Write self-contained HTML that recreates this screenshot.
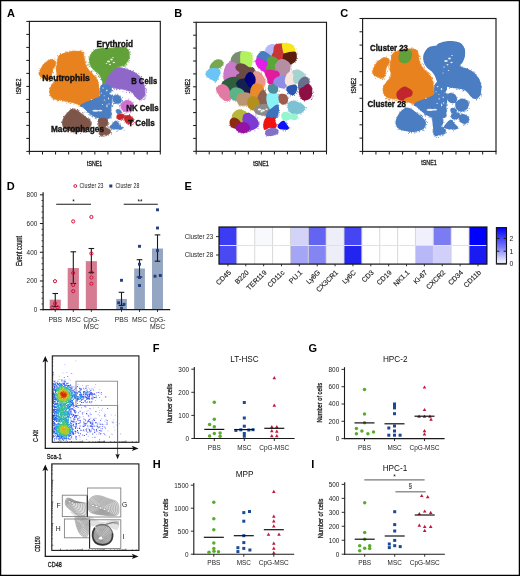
<!DOCTYPE html>
<html><head><meta charset="utf-8"><style>
html,body{margin:0;padding:0;background:#fff;}
svg{display:block;font-family:"Liberation Sans",sans-serif;will-change:transform;}
</style></head><body>
<svg width="520" height="576" viewBox="0 0 520 576">
<rect width="520" height="576" fill="#fff"/>
<rect x="0.6" y="0.6" width="518.8" height="574.8" fill="none" stroke="#000" stroke-width="1.3"/>
<text x="7" y="16.6" font-size="11" fill="#000" font-weight="bold" >A</text>
<text x="174.3" y="16.6" font-size="11" fill="#000" font-weight="bold" >B</text>
<text x="340.2" y="16.6" font-size="11" fill="#000" font-weight="bold" >C</text>
<text x="6.8" y="190.2" font-size="11" fill="#000" font-weight="bold" >D</text>
<text x="184.5" y="190.2" font-size="11" fill="#000" font-weight="bold" >E</text>
<text x="152.8" y="352.4" font-size="11" fill="#000" font-weight="bold" >F</text>
<text x="308.5" y="352.2" font-size="11" fill="#000" font-weight="bold" >G</text>
<text x="152.8" y="468.2" font-size="11" fill="#000" font-weight="bold" >H</text>
<text x="311.3" y="468.2" font-size="11" fill="#000" font-weight="bold" >I</text>
<g>
<path d="M40.2 70.4h0.8v0.8h-0.8zM40.0 69.2h0.8v0.8h-0.8zM38.4 72.6h0.8v0.8h-0.8zM38.7 69.9h0.8v0.8h-0.8zM39.5 68.2h0.8v0.8h-0.8zM42.5 65.8h0.8v0.8h-0.8zM39.4 72.4h0.8v0.8h-0.8zM42.6 64.4h0.8v0.8h-0.8zM44.1 63.2h0.8v0.8h-0.8zM44.7 62.6h0.8v0.8h-0.8zM44.3 63.9h0.8v0.8h-0.8zM42.7 64.6h0.8v0.8h-0.8zM50.0 59.4h0.8v0.8h-0.8zM47.9 59.6h0.8v0.8h-0.8zM46.7 60.7h0.8v0.8h-0.8zM50.3 59.6h0.8v0.8h-0.8zM53.6 60.2h0.8v0.8h-0.8zM52.6 59.4h0.8v0.8h-0.8zM54.5 58.6h0.8v0.8h-0.8zM52.1 59.1h0.8v0.8h-0.8zM54.5 61.6h0.8v0.8h-0.8zM54.9 61.5h0.8v0.8h-0.8zM55.2 61.0h0.8v0.8h-0.8zM54.6 68.2h0.8v0.8h-0.8zM56.4 65.3h0.8v0.8h-0.8zM55.0 65.4h0.8v0.8h-0.8zM53.7 67.3h0.8v0.8h-0.8zM55.7 66.3h0.8v0.8h-0.8zM53.2 72.5h0.8v0.8h-0.8zM52.9 76.0h0.8v0.8h-0.8zM52.4 72.1h0.8v0.8h-0.8zM52.6 69.5h0.8v0.8h-0.8zM52.0 71.1h0.8v0.8h-0.8zM51.2 76.4h0.8v0.8h-0.8zM50.1 78.0h0.8v0.8h-0.8zM51.3 77.5h0.8v0.8h-0.8zM50.5 77.6h0.8v0.8h-0.8zM48.1 79.4h0.8v0.8h-0.8zM49.7 81.1h0.8v0.8h-0.8zM46.8 79.7h0.8v0.8h-0.8zM44.5 79.8h0.8v0.8h-0.8zM48.8 81.1h0.8v0.8h-0.8zM43.2 78.7h0.8v0.8h-0.8zM40.3 78.2h0.8v0.8h-0.8zM43.0 78.4h0.8v0.8h-0.8zM43.9 79.2h0.8v0.8h-0.8zM39.2 74.0h0.8v0.8h-0.8zM38.6 73.2h0.8v0.8h-0.8zM40.1 76.5h0.8v0.8h-0.8z" fill="#e8821f"/>
<path d="M63.0 53.4h0.8v0.8h-0.8zM58.9 55.2h0.8v0.8h-0.8zM62.0 53.7h0.8v0.8h-0.8zM60.2 53.9h0.8v0.8h-0.8zM60.1 53.1h0.8v0.8h-0.8zM65.0 53.2h0.8v0.8h-0.8zM64.8 51.9h0.8v0.8h-0.8zM65.4 51.5h0.8v0.8h-0.8zM69.7 51.2h0.8v0.8h-0.8zM66.5 50.9h0.8v0.8h-0.8zM65.1 52.7h0.8v0.8h-0.8zM71.2 51.4h0.8v0.8h-0.8zM72.3 51.3h0.8v0.8h-0.8zM72.6 49.8h0.8v0.8h-0.8zM73.2 51.0h0.8v0.8h-0.8zM69.5 50.4h0.8v0.8h-0.8zM74.4 50.4h0.8v0.8h-0.8zM79.7 50.5h0.8v0.8h-0.8zM78.2 51.0h0.8v0.8h-0.8zM80.5 50.4h0.8v0.8h-0.8zM80.3 51.3h0.8v0.8h-0.8zM79.3 51.3h0.8v0.8h-0.8zM81.6 50.2h0.8v0.8h-0.8zM84.5 53.4h0.8v0.8h-0.8zM82.6 52.1h0.8v0.8h-0.8zM83.4 52.1h0.8v0.8h-0.8zM83.4 51.7h0.8v0.8h-0.8zM84.5 56.0h0.8v0.8h-0.8zM85.6 60.4h0.8v0.8h-0.8zM84.7 58.3h0.8v0.8h-0.8zM84.8 58.4h0.8v0.8h-0.8zM84.8 61.0h0.8v0.8h-0.8zM85.1 62.1h0.8v0.8h-0.8zM86.1 61.8h0.8v0.8h-0.8zM84.6 56.6h0.8v0.8h-0.8zM88.8 66.0h0.8v0.8h-0.8zM87.5 64.8h0.8v0.8h-0.8zM86.2 65.2h0.8v0.8h-0.8zM87.3 64.4h0.8v0.8h-0.8zM86.6 64.6h0.8v0.8h-0.8zM87.7 67.5h0.8v0.8h-0.8zM90.6 71.3h0.8v0.8h-0.8zM89.4 70.5h0.8v0.8h-0.8zM91.2 71.5h0.8v0.8h-0.8zM91.5 72.2h0.8v0.8h-0.8zM90.6 71.6h0.8v0.8h-0.8zM91.1 70.7h0.8v0.8h-0.8zM97.2 79.5h0.8v0.8h-0.8zM96.0 77.4h0.8v0.8h-0.8zM96.6 76.8h0.8v0.8h-0.8zM95.1 76.6h0.8v0.8h-0.8zM94.9 74.9h0.8v0.8h-0.8zM95.8 75.4h0.8v0.8h-0.8zM97.8 82.2h0.8v0.8h-0.8zM97.9 81.8h0.8v0.8h-0.8zM99.4 88.1h0.8v0.8h-0.8zM97.7 82.3h0.8v0.8h-0.8zM98.4 83.8h0.8v0.8h-0.8zM97.1 80.0h0.8v0.8h-0.8zM97.2 80.1h0.8v0.8h-0.8zM99.8 93.4h0.8v0.8h-0.8zM100.1 94.7h0.8v0.8h-0.8zM99.3 96.7h0.8v0.8h-0.8zM100.7 88.7h0.8v0.8h-0.8zM99.7 95.0h0.8v0.8h-0.8zM100.5 93.2h0.8v0.8h-0.8zM100.5 93.9h0.8v0.8h-0.8zM98.7 89.6h0.8v0.8h-0.8zM100.3 89.2h0.8v0.8h-0.8zM94.9 99.5h0.8v0.8h-0.8zM93.7 100.8h0.8v0.8h-0.8zM94.3 99.1h0.8v0.8h-0.8zM98.9 96.8h0.8v0.8h-0.8zM94.6 100.9h0.8v0.8h-0.8zM96.4 99.4h0.8v0.8h-0.8zM93.8 99.1h0.8v0.8h-0.8zM93.6 99.4h0.8v0.8h-0.8zM91.1 101.4h0.8v0.8h-0.8zM84.7 103.7h0.8v0.8h-0.8zM87.2 102.4h0.8v0.8h-0.8zM81.5 106.2h0.8v0.8h-0.8zM83.7 105.4h0.8v0.8h-0.8zM89.9 103.1h0.8v0.8h-0.8zM90.8 101.5h0.8v0.8h-0.8zM83.8 104.9h0.8v0.8h-0.8zM89.9 102.5h0.8v0.8h-0.8zM91.7 101.0h0.8v0.8h-0.8zM80.0 105.2h0.8v0.8h-0.8zM82.0 105.5h0.8v0.8h-0.8zM73.5 103.8h0.8v0.8h-0.8zM78.6 104.6h0.8v0.8h-0.8zM78.0 104.1h0.8v0.8h-0.8zM80.6 106.3h0.8v0.8h-0.8zM79.2 104.2h0.8v0.8h-0.8zM78.7 106.0h0.8v0.8h-0.8zM66.1 102.8h0.8v0.8h-0.8zM65.4 101.0h0.8v0.8h-0.8zM64.3 101.3h0.8v0.8h-0.8zM63.1 100.4h0.8v0.8h-0.8zM69.8 102.9h0.8v0.8h-0.8zM65.8 101.3h0.8v0.8h-0.8zM70.5 102.9h0.8v0.8h-0.8zM67.8 102.2h0.8v0.8h-0.8zM67.6 101.4h0.8v0.8h-0.8zM68.8 101.7h0.8v0.8h-0.8zM56.7 100.7h0.8v0.8h-0.8zM58.2 100.1h0.8v0.8h-0.8zM62.2 100.1h0.8v0.8h-0.8zM57.8 100.1h0.8v0.8h-0.8zM59.8 100.1h0.8v0.8h-0.8zM53.4 99.6h0.8v0.8h-0.8zM62.0 101.2h0.8v0.8h-0.8zM57.1 99.9h0.8v0.8h-0.8zM49.8 95.4h0.8v0.8h-0.8zM53.1 98.7h0.8v0.8h-0.8zM49.2 95.1h0.8v0.8h-0.8zM50.8 97.4h0.8v0.8h-0.8zM51.7 98.7h0.8v0.8h-0.8zM53.0 98.7h0.8v0.8h-0.8zM49.8 93.3h0.8v0.8h-0.8zM49.9 91.1h0.8v0.8h-0.8zM49.9 92.5h0.8v0.8h-0.8zM49.4 88.4h0.8v0.8h-0.8zM49.0 87.8h0.8v0.8h-0.8zM49.0 91.0h0.8v0.8h-0.8zM50.8 84.3h0.8v0.8h-0.8zM51.1 85.8h0.8v0.8h-0.8zM51.9 83.6h0.8v0.8h-0.8zM53.6 82.5h0.8v0.8h-0.8zM49.7 87.4h0.8v0.8h-0.8zM51.5 85.1h0.8v0.8h-0.8zM54.0 79.3h0.8v0.8h-0.8zM52.4 81.4h0.8v0.8h-0.8zM53.9 82.8h0.8v0.8h-0.8zM54.9 78.9h0.8v0.8h-0.8zM53.0 81.5h0.8v0.8h-0.8zM55.5 79.1h0.8v0.8h-0.8zM56.8 76.1h0.8v0.8h-0.8zM56.7 69.9h0.8v0.8h-0.8zM55.8 74.5h0.8v0.8h-0.8zM56.4 77.5h0.8v0.8h-0.8zM57.0 75.5h0.8v0.8h-0.8zM55.8 73.7h0.8v0.8h-0.8zM57.6 77.0h0.8v0.8h-0.8zM55.7 63.0h0.8v0.8h-0.8zM56.4 62.2h0.8v0.8h-0.8zM55.8 67.6h0.8v0.8h-0.8zM57.0 61.8h0.8v0.8h-0.8zM56.4 68.3h0.8v0.8h-0.8zM56.4 66.8h0.8v0.8h-0.8zM57.4 63.0h0.8v0.8h-0.8zM57.7 56.0h0.8v0.8h-0.8zM57.7 59.6h0.8v0.8h-0.8zM56.5 59.8h0.8v0.8h-0.8zM56.6 62.1h0.8v0.8h-0.8zM57.2 54.9h0.8v0.8h-0.8zM57.2 61.2h0.8v0.8h-0.8z" fill="#e8821f"/>
<path d="M91.9 52.4h0.8v0.8h-0.8zM93.4 49.2h0.8v0.8h-0.8zM94.5 49.9h0.8v0.8h-0.8zM93.9 50.2h0.8v0.8h-0.8zM90.7 51.8h0.8v0.8h-0.8zM96.6 47.5h0.8v0.8h-0.8zM100.2 47.5h0.8v0.8h-0.8zM97.7 48.4h0.8v0.8h-0.8zM95.0 49.0h0.8v0.8h-0.8zM101.3 47.7h0.8v0.8h-0.8zM100.1 48.5h0.8v0.8h-0.8zM107.7 48.4h0.8v0.8h-0.8zM102.3 47.8h0.8v0.8h-0.8zM102.9 47.4h0.8v0.8h-0.8zM101.5 47.9h0.8v0.8h-0.8zM103.7 48.3h0.8v0.8h-0.8zM101.7 48.5h0.8v0.8h-0.8zM110.6 48.2h0.8v0.8h-0.8zM109.7 48.3h0.8v0.8h-0.8zM109.4 47.3h0.8v0.8h-0.8zM112.3 45.9h0.8v0.8h-0.8zM117.0 47.6h0.8v0.8h-0.8zM115.9 46.8h0.8v0.8h-0.8zM115.2 47.5h0.8v0.8h-0.8zM117.2 46.2h0.8v0.8h-0.8zM115.0 46.8h0.8v0.8h-0.8zM116.4 46.1h0.8v0.8h-0.8zM124.6 45.8h0.8v0.8h-0.8zM125.7 45.8h0.8v0.8h-0.8zM125.0 47.2h0.8v0.8h-0.8zM124.1 47.0h0.8v0.8h-0.8zM122.7 45.9h0.8v0.8h-0.8zM125.9 47.5h0.8v0.8h-0.8zM125.5 47.9h0.8v0.8h-0.8zM125.7 46.5h0.8v0.8h-0.8zM127.8 49.3h0.8v0.8h-0.8zM129.2 52.6h0.8v0.8h-0.8zM129.6 51.1h0.8v0.8h-0.8zM129.0 49.0h0.8v0.8h-0.8zM130.3 52.4h0.8v0.8h-0.8zM128.8 56.8h0.8v0.8h-0.8zM129.9 54.2h0.8v0.8h-0.8zM129.2 58.1h0.8v0.8h-0.8zM129.1 57.0h0.8v0.8h-0.8zM129.1 60.0h0.8v0.8h-0.8zM126.5 64.4h0.8v0.8h-0.8zM128.6 62.2h0.8v0.8h-0.8zM126.4 64.2h0.8v0.8h-0.8zM125.9 63.8h0.8v0.8h-0.8zM125.2 64.7h0.8v0.8h-0.8zM128.0 60.7h0.8v0.8h-0.8zM123.8 65.9h0.8v0.8h-0.8zM120.6 67.3h0.8v0.8h-0.8zM124.3 65.5h0.8v0.8h-0.8zM118.9 67.6h0.8v0.8h-0.8zM125.4 65.8h0.8v0.8h-0.8zM119.4 66.9h0.8v0.8h-0.8zM122.9 65.9h0.8v0.8h-0.8zM113.0 70.6h0.8v0.8h-0.8zM114.4 71.9h0.8v0.8h-0.8zM114.9 68.3h0.8v0.8h-0.8zM113.8 71.0h0.8v0.8h-0.8zM116.8 67.4h0.8v0.8h-0.8zM117.2 67.2h0.8v0.8h-0.8zM116.6 68.4h0.8v0.8h-0.8zM108.0 77.0h0.8v0.8h-0.8zM109.6 73.8h0.8v0.8h-0.8zM107.2 78.5h0.8v0.8h-0.8zM111.4 72.9h0.8v0.8h-0.8zM108.7 76.9h0.8v0.8h-0.8zM109.8 75.2h0.8v0.8h-0.8zM108.9 75.1h0.8v0.8h-0.8zM107.1 78.7h0.8v0.8h-0.8zM106.2 80.3h0.8v0.8h-0.8zM104.8 82.5h0.8v0.8h-0.8zM106.8 80.3h0.8v0.8h-0.8zM106.9 79.7h0.8v0.8h-0.8zM103.1 83.5h0.8v0.8h-0.8zM102.7 83.0h0.8v0.8h-0.8zM102.2 82.7h0.8v0.8h-0.8zM101.3 79.1h0.8v0.8h-0.8zM101.8 80.3h0.8v0.8h-0.8zM100.4 77.0h0.8v0.8h-0.8zM100.4 79.1h0.8v0.8h-0.8zM97.2 73.8h0.8v0.8h-0.8zM98.0 75.5h0.8v0.8h-0.8zM98.3 76.3h0.8v0.8h-0.8zM98.5 75.7h0.8v0.8h-0.8zM98.9 77.1h0.8v0.8h-0.8zM96.2 72.6h0.8v0.8h-0.8zM95.2 71.0h0.8v0.8h-0.8zM93.5 70.7h0.8v0.8h-0.8zM96.2 73.3h0.8v0.8h-0.8zM91.7 70.6h0.8v0.8h-0.8zM88.1 64.5h0.8v0.8h-0.8zM92.7 68.7h0.8v0.8h-0.8zM89.7 66.0h0.8v0.8h-0.8zM92.6 68.2h0.8v0.8h-0.8zM90.9 67.3h0.8v0.8h-0.8zM88.5 62.4h0.8v0.8h-0.8zM89.0 58.6h0.8v0.8h-0.8zM89.3 64.4h0.8v0.8h-0.8zM88.7 61.9h0.8v0.8h-0.8zM89.7 58.9h0.8v0.8h-0.8zM89.4 58.9h0.8v0.8h-0.8zM88.7 58.6h0.8v0.8h-0.8zM88.9 57.7h0.8v0.8h-0.8zM88.0 56.4h0.8v0.8h-0.8zM89.7 54.8h0.8v0.8h-0.8z" fill="#62a03a"/>
<path d="M103.6 82.3h0.8v0.8h-0.8zM105.1 79.1h0.8v0.8h-0.8zM106.4 77.5h0.8v0.8h-0.8zM105.0 81.4h0.8v0.8h-0.8zM103.4 80.3h0.8v0.8h-0.8zM107.5 74.3h0.8v0.8h-0.8zM107.0 75.9h0.8v0.8h-0.8zM107.5 73.4h0.8v0.8h-0.8zM108.3 73.0h0.8v0.8h-0.8zM109.3 72.6h0.8v0.8h-0.8zM107.5 72.8h0.8v0.8h-0.8zM111.5 70.6h0.8v0.8h-0.8zM112.6 70.9h0.8v0.8h-0.8zM109.1 70.7h0.8v0.8h-0.8zM115.8 66.5h0.8v0.8h-0.8zM110.3 70.5h0.8v0.8h-0.8zM112.5 70.8h0.8v0.8h-0.8zM114.2 68.5h0.8v0.8h-0.8zM116.8 67.2h0.8v0.8h-0.8zM122.7 68.2h0.8v0.8h-0.8zM119.5 68.2h0.8v0.8h-0.8zM121.9 67.5h0.8v0.8h-0.8zM120.5 67.8h0.8v0.8h-0.8zM117.1 67.4h0.8v0.8h-0.8zM120.6 67.9h0.8v0.8h-0.8zM127.8 69.6h0.8v0.8h-0.8zM124.8 67.8h0.8v0.8h-0.8zM126.2 67.7h0.8v0.8h-0.8zM124.8 67.6h0.8v0.8h-0.8zM124.0 68.1h0.8v0.8h-0.8zM127.2 68.5h0.8v0.8h-0.8zM133.1 70.2h0.8v0.8h-0.8zM132.6 70.8h0.8v0.8h-0.8zM132.0 71.2h0.8v0.8h-0.8zM130.2 70.1h0.8v0.8h-0.8zM132.1 71.3h0.8v0.8h-0.8zM136.0 72.8h0.8v0.8h-0.8zM137.8 75.1h0.8v0.8h-0.8zM140.7 76.5h0.8v0.8h-0.8zM138.4 73.2h0.8v0.8h-0.8zM141.1 76.1h0.8v0.8h-0.8zM139.1 75.5h0.8v0.8h-0.8zM140.2 76.7h0.8v0.8h-0.8zM141.7 80.4h0.8v0.8h-0.8zM141.6 79.2h0.8v0.8h-0.8zM143.1 79.8h0.8v0.8h-0.8zM144.6 83.4h0.8v0.8h-0.8zM144.4 83.2h0.8v0.8h-0.8zM142.2 81.8h0.8v0.8h-0.8zM144.6 88.4h0.8v0.8h-0.8zM145.2 85.1h0.8v0.8h-0.8zM146.0 91.5h0.8v0.8h-0.8zM146.1 89.0h0.8v0.8h-0.8zM146.0 90.3h0.8v0.8h-0.8zM145.6 88.3h0.8v0.8h-0.8zM144.6 87.6h0.8v0.8h-0.8zM144.8 93.6h0.8v0.8h-0.8zM145.4 94.7h0.8v0.8h-0.8zM146.5 92.0h0.8v0.8h-0.8zM145.6 95.6h0.8v0.8h-0.8zM144.4 96.6h0.8v0.8h-0.8zM145.0 97.7h0.8v0.8h-0.8zM144.2 98.8h0.8v0.8h-0.8zM140.8 99.6h0.8v0.8h-0.8zM143.8 98.6h0.8v0.8h-0.8zM142.7 99.1h0.8v0.8h-0.8zM139.4 99.3h0.8v0.8h-0.8zM137.3 98.2h0.8v0.8h-0.8zM139.5 100.4h0.8v0.8h-0.8zM138.9 99.4h0.8v0.8h-0.8zM134.3 95.8h0.8v0.8h-0.8zM133.1 93.7h0.8v0.8h-0.8zM136.9 97.9h0.8v0.8h-0.8zM135.1 95.6h0.8v0.8h-0.8zM134.8 95.5h0.8v0.8h-0.8zM134.1 94.4h0.8v0.8h-0.8zM128.5 90.5h0.8v0.8h-0.8zM129.3 92.2h0.8v0.8h-0.8zM128.9 91.7h0.8v0.8h-0.8zM131.2 92.4h0.8v0.8h-0.8zM129.5 92.8h0.8v0.8h-0.8zM127.6 90.4h0.8v0.8h-0.8zM119.5 89.3h0.8v0.8h-0.8zM122.5 90.9h0.8v0.8h-0.8zM124.4 89.5h0.8v0.8h-0.8zM125.9 90.3h0.8v0.8h-0.8zM126.2 92.2h0.8v0.8h-0.8zM126.8 89.9h0.8v0.8h-0.8zM113.6 88.3h0.8v0.8h-0.8zM113.3 88.0h0.8v0.8h-0.8zM114.0 88.9h0.8v0.8h-0.8zM116.6 89.0h0.8v0.8h-0.8zM119.2 89.1h0.8v0.8h-0.8zM116.1 89.4h0.8v0.8h-0.8zM115.9 88.4h0.8v0.8h-0.8zM108.7 87.2h0.8v0.8h-0.8zM109.6 86.9h0.8v0.8h-0.8zM109.5 87.3h0.8v0.8h-0.8zM108.7 86.9h0.8v0.8h-0.8zM107.2 86.4h0.8v0.8h-0.8zM103.3 82.3h0.8v0.8h-0.8zM104.4 84.5h0.8v0.8h-0.8zM104.4 83.5h0.8v0.8h-0.8zM106.9 85.6h0.8v0.8h-0.8z" fill="#8f67c9"/>
<path d="M93.5 98.1h0.8v0.8h-0.8zM94.0 97.6h0.8v0.8h-0.8zM95.0 97.9h0.8v0.8h-0.8zM86.9 102.4h0.8v0.8h-0.8zM83.6 103.2h0.8v0.8h-0.8zM90.5 99.7h0.8v0.8h-0.8zM84.4 102.9h0.8v0.8h-0.8zM81.3 104.1h0.8v0.8h-0.8zM89.9 100.2h0.8v0.8h-0.8zM88.1 100.8h0.8v0.8h-0.8zM82.8 103.6h0.8v0.8h-0.8zM86.9 101.3h0.8v0.8h-0.8zM98.0 96.6h0.8v0.8h-0.8zM94.8 98.4h0.8v0.8h-0.8zM89.5 101.2h0.8v0.8h-0.8zM95.8 97.4h0.8v0.8h-0.8zM94.6 98.7h0.8v0.8h-0.8zM93.6 97.2h0.8v0.8h-0.8zM83.7 102.8h0.8v0.8h-0.8zM99.1 93.0h0.8v0.8h-0.8zM100.2 92.0h0.8v0.8h-0.8zM97.8 94.8h0.8v0.8h-0.8zM99.4 91.8h0.8v0.8h-0.8zM99.8 94.9h0.8v0.8h-0.8zM100.1 90.5h0.8v0.8h-0.8zM100.7 85.6h0.8v0.8h-0.8zM100.5 87.6h0.8v0.8h-0.8zM100.5 91.8h0.8v0.8h-0.8zM102.0 84.9h0.8v0.8h-0.8zM100.5 86.1h0.8v0.8h-0.8zM101.3 85.1h0.8v0.8h-0.8zM105.5 83.8h0.8v0.8h-0.8zM102.6 82.7h0.8v0.8h-0.8zM106.1 82.7h0.8v0.8h-0.8zM107.8 83.0h0.8v0.8h-0.8zM108.9 84.8h0.8v0.8h-0.8zM108.9 85.0h0.8v0.8h-0.8zM109.5 85.4h0.8v0.8h-0.8zM110.9 86.7h0.8v0.8h-0.8zM111.4 89.4h0.8v0.8h-0.8zM111.5 86.7h0.8v0.8h-0.8zM111.7 84.9h0.8v0.8h-0.8zM110.5 91.4h0.8v0.8h-0.8zM112.5 90.6h0.8v0.8h-0.8zM112.0 90.0h0.8v0.8h-0.8zM110.6 92.0h0.8v0.8h-0.8zM111.6 94.8h0.8v0.8h-0.8zM112.0 95.1h0.8v0.8h-0.8zM112.2 95.2h0.8v0.8h-0.8zM113.5 96.2h0.8v0.8h-0.8zM112.4 96.3h0.8v0.8h-0.8zM112.4 97.7h0.8v0.8h-0.8zM112.4 100.4h0.8v0.8h-0.8zM112.6 99.9h0.8v0.8h-0.8zM112.6 101.2h0.8v0.8h-0.8zM111.8 106.1h0.8v0.8h-0.8zM111.0 109.7h0.8v0.8h-0.8zM111.5 105.2h0.8v0.8h-0.8zM112.4 102.2h0.8v0.8h-0.8zM113.1 103.6h0.8v0.8h-0.8zM112.4 105.3h0.8v0.8h-0.8zM113.7 102.8h0.8v0.8h-0.8zM112.0 106.1h0.8v0.8h-0.8zM110.5 116.8h0.8v0.8h-0.8zM111.3 112.6h0.8v0.8h-0.8zM110.4 115.4h0.8v0.8h-0.8zM111.4 114.5h0.8v0.8h-0.8zM110.9 116.9h0.8v0.8h-0.8zM111.0 113.8h0.8v0.8h-0.8zM111.0 113.5h0.8v0.8h-0.8zM110.6 117.9h0.8v0.8h-0.8zM107.2 120.4h0.8v0.8h-0.8zM106.9 120.0h0.8v0.8h-0.8zM107.0 118.9h0.8v0.8h-0.8zM103.3 121.0h0.8v0.8h-0.8zM99.5 119.9h0.8v0.8h-0.8zM98.5 119.9h0.8v0.8h-0.8zM101.4 118.6h0.8v0.8h-0.8zM102.4 119.1h0.8v0.8h-0.8zM99.1 119.7h0.8v0.8h-0.8zM100.3 119.5h0.8v0.8h-0.8zM94.7 116.7h0.8v0.8h-0.8zM94.8 118.1h0.8v0.8h-0.8zM95.6 117.2h0.8v0.8h-0.8zM96.1 118.5h0.8v0.8h-0.8zM92.0 116.4h0.8v0.8h-0.8zM94.9 116.7h0.8v0.8h-0.8zM90.3 114.7h0.8v0.8h-0.8zM91.8 116.1h0.8v0.8h-0.8zM88.5 114.3h0.8v0.8h-0.8zM89.6 114.4h0.8v0.8h-0.8zM90.3 114.7h0.8v0.8h-0.8zM89.4 114.7h0.8v0.8h-0.8zM83.9 108.2h0.8v0.8h-0.8zM84.5 111.7h0.8v0.8h-0.8zM87.0 111.0h0.8v0.8h-0.8zM86.6 111.9h0.8v0.8h-0.8zM87.1 111.6h0.8v0.8h-0.8zM82.6 107.5h0.8v0.8h-0.8zM80.7 106.3h0.8v0.8h-0.8zM80.6 105.8h0.8v0.8h-0.8z" fill="#4a7dc1"/>
<path d="M117.4 93.9h0.8v0.8h-0.8zM117.7 95.4h0.8v0.8h-0.8zM115.1 93.8h0.8v0.8h-0.8zM117.1 93.7h0.8v0.8h-0.8zM120.1 96.0h0.8v0.8h-0.8zM119.7 95.6h0.8v0.8h-0.8zM121.9 97.0h0.8v0.8h-0.8zM118.4 95.6h0.8v0.8h-0.8zM121.5 100.8h0.8v0.8h-0.8zM122.4 102.5h0.8v0.8h-0.8zM122.1 100.1h0.8v0.8h-0.8zM122.0 101.4h0.8v0.8h-0.8zM119.0 104.9h0.8v0.8h-0.8zM117.7 103.9h0.8v0.8h-0.8zM120.3 104.5h0.8v0.8h-0.8zM120.5 103.2h0.8v0.8h-0.8zM114.0 103.3h0.8v0.8h-0.8zM115.0 103.1h0.8v0.8h-0.8zM113.5 103.1h0.8v0.8h-0.8zM112.3 94.6h0.8v0.8h-0.8zM112.8 96.2h0.8v0.8h-0.8zM112.5 95.9h0.8v0.8h-0.8zM112.3 97.9h0.8v0.8h-0.8zM112.3 97.9h0.8v0.8h-0.8z" fill="#4a7dc1"/>
<path d="M118.0 123.3h0.8v0.8h-0.8zM116.8 120.6h0.8v0.8h-0.8zM119.6 123.0h0.8v0.8h-0.8zM117.7 122.0h0.8v0.8h-0.8zM122.9 126.9h0.8v0.8h-0.8zM120.1 124.5h0.8v0.8h-0.8zM119.8 125.1h0.8v0.8h-0.8zM122.1 126.8h0.8v0.8h-0.8zM122.4 127.6h0.8v0.8h-0.8zM121.3 129.2h0.8v0.8h-0.8zM119.0 129.2h0.8v0.8h-0.8zM123.7 129.7h0.8v0.8h-0.8zM120.2 129.0h0.8v0.8h-0.8zM116.5 131.1h0.8v0.8h-0.8zM117.5 129.9h0.8v0.8h-0.8zM111.3 129.4h0.8v0.8h-0.8zM111.1 128.5h0.8v0.8h-0.8zM111.7 129.0h0.8v0.8h-0.8zM114.0 128.6h0.8v0.8h-0.8zM112.4 128.3h0.8v0.8h-0.8zM113.0 129.0h0.8v0.8h-0.8zM110.1 126.1h0.8v0.8h-0.8zM110.4 126.6h0.8v0.8h-0.8zM108.6 127.0h0.8v0.8h-0.8zM111.7 124.8h0.8v0.8h-0.8zM115.1 121.4h0.8v0.8h-0.8zM112.3 121.7h0.8v0.8h-0.8zM114.0 121.7h0.8v0.8h-0.8zM115.2 121.4h0.8v0.8h-0.8z" fill="#4a7dc1"/>
<path d="M62.7 120.6h0.8v0.8h-0.8zM63.6 118.0h0.8v0.8h-0.8zM61.3 121.6h0.8v0.8h-0.8zM62.7 119.3h0.8v0.8h-0.8zM60.9 122.2h0.8v0.8h-0.8zM63.5 116.4h0.8v0.8h-0.8zM64.8 115.5h0.8v0.8h-0.8zM63.1 116.1h0.8v0.8h-0.8zM66.6 112.4h0.8v0.8h-0.8zM63.7 116.7h0.8v0.8h-0.8zM70.4 109.9h0.8v0.8h-0.8zM71.0 109.6h0.8v0.8h-0.8zM70.0 110.5h0.8v0.8h-0.8zM70.0 108.4h0.8v0.8h-0.8zM68.0 111.7h0.8v0.8h-0.8zM72.5 108.4h0.8v0.8h-0.8zM77.5 109.6h0.8v0.8h-0.8zM74.5 108.3h0.8v0.8h-0.8zM77.0 108.9h0.8v0.8h-0.8zM76.9 109.5h0.8v0.8h-0.8zM72.2 108.3h0.8v0.8h-0.8zM81.9 113.7h0.8v0.8h-0.8zM82.3 112.3h0.8v0.8h-0.8zM83.4 114.4h0.8v0.8h-0.8zM82.6 112.6h0.8v0.8h-0.8zM78.5 110.1h0.8v0.8h-0.8zM88.7 118.6h0.8v0.8h-0.8zM88.1 117.6h0.8v0.8h-0.8zM89.6 118.8h0.8v0.8h-0.8zM83.5 114.5h0.8v0.8h-0.8zM85.0 116.3h0.8v0.8h-0.8zM84.5 115.7h0.8v0.8h-0.8zM88.6 119.4h0.8v0.8h-0.8zM89.7 120.1h0.8v0.8h-0.8zM90.9 121.5h0.8v0.8h-0.8zM91.0 121.9h0.8v0.8h-0.8zM89.2 119.4h0.8v0.8h-0.8zM91.0 123.6h0.8v0.8h-0.8zM90.4 125.2h0.8v0.8h-0.8zM90.3 124.3h0.8v0.8h-0.8zM90.5 128.5h0.8v0.8h-0.8zM85.4 131.3h0.8v0.8h-0.8zM88.0 128.7h0.8v0.8h-0.8zM86.4 131.7h0.8v0.8h-0.8zM86.8 129.6h0.8v0.8h-0.8zM91.2 128.2h0.8v0.8h-0.8zM84.8 132.2h0.8v0.8h-0.8zM85.1 132.2h0.8v0.8h-0.8zM83.3 131.1h0.8v0.8h-0.8zM82.9 132.2h0.8v0.8h-0.8zM83.6 131.2h0.8v0.8h-0.8zM80.1 133.3h0.8v0.8h-0.8zM73.5 131.9h0.8v0.8h-0.8zM73.5 131.0h0.8v0.8h-0.8zM73.7 132.7h0.8v0.8h-0.8zM74.7 131.2h0.8v0.8h-0.8zM70.7 132.2h0.8v0.8h-0.8zM75.7 132.6h0.8v0.8h-0.8zM75.4 132.5h0.8v0.8h-0.8zM70.4 131.0h0.8v0.8h-0.8zM65.9 129.0h0.8v0.8h-0.8zM68.0 130.7h0.8v0.8h-0.8zM63.7 129.2h0.8v0.8h-0.8zM65.2 128.5h0.8v0.8h-0.8zM68.0 130.5h0.8v0.8h-0.8zM65.6 129.5h0.8v0.8h-0.8zM63.9 127.7h0.8v0.8h-0.8zM62.8 127.9h0.8v0.8h-0.8zM62.6 126.0h0.8v0.8h-0.8zM64.0 127.4h0.8v0.8h-0.8z" fill="#7d5549"/>
<path d="M98.2 117.0h0.8v0.8h-0.8zM101.1 118.2h0.8v0.8h-0.8zM99.0 117.9h0.8v0.8h-0.8zM101.4 117.8h0.8v0.8h-0.8zM105.2 117.3h0.8v0.8h-0.8zM106.6 119.0h0.8v0.8h-0.8zM103.7 116.4h0.8v0.8h-0.8zM108.5 122.9h0.8v0.8h-0.8zM107.3 122.7h0.8v0.8h-0.8zM107.0 118.2h0.8v0.8h-0.8zM108.2 122.3h0.8v0.8h-0.8zM107.1 126.5h0.8v0.8h-0.8zM108.1 123.9h0.8v0.8h-0.8zM107.1 125.0h0.8v0.8h-0.8zM109.5 128.3h0.8v0.8h-0.8zM107.5 128.5h0.8v0.8h-0.8zM107.8 126.6h0.8v0.8h-0.8zM109.7 129.5h0.8v0.8h-0.8zM108.3 129.4h0.8v0.8h-0.8zM110.9 132.0h0.8v0.8h-0.8zM110.6 132.2h0.8v0.8h-0.8zM111.2 133.6h0.8v0.8h-0.8zM107.8 134.9h0.8v0.8h-0.8zM105.3 135.1h0.8v0.8h-0.8zM106.3 134.8h0.8v0.8h-0.8zM105.8 135.4h0.8v0.8h-0.8zM104.1 135.7h0.8v0.8h-0.8zM102.2 135.5h0.8v0.8h-0.8zM102.7 136.1h0.8v0.8h-0.8zM100.7 136.3h0.8v0.8h-0.8zM99.0 136.2h0.8v0.8h-0.8zM98.7 130.6h0.8v0.8h-0.8zM98.7 133.5h0.8v0.8h-0.8zM99.2 129.2h0.8v0.8h-0.8zM98.1 130.1h0.8v0.8h-0.8zM98.9 127.5h0.8v0.8h-0.8zM97.5 124.1h0.8v0.8h-0.8zM98.2 124.9h0.8v0.8h-0.8zM97.9 125.9h0.8v0.8h-0.8zM97.3 121.0h0.8v0.8h-0.8zM98.3 122.2h0.8v0.8h-0.8zM97.3 123.2h0.8v0.8h-0.8zM98.1 120.3h0.8v0.8h-0.8zM98.6 122.3h0.8v0.8h-0.8z" fill="#7d5549"/>
<path d="M125.0 100.7h0.8v0.8h-0.8zM121.5 104.1h0.8v0.8h-0.8zM121.5 102.3h0.8v0.8h-0.8zM121.3 103.2h0.8v0.8h-0.8zM125.7 100.4h0.8v0.8h-0.8zM127.8 100.1h0.8v0.8h-0.8zM127.8 98.9h0.8v0.8h-0.8zM128.5 98.5h0.8v0.8h-0.8zM133.2 101.7h0.8v0.8h-0.8zM130.6 100.6h0.8v0.8h-0.8zM132.5 103.3h0.8v0.8h-0.8zM132.1 101.9h0.8v0.8h-0.8zM132.7 103.6h0.8v0.8h-0.8zM133.3 104.8h0.8v0.8h-0.8zM133.0 105.9h0.8v0.8h-0.8zM132.4 108.8h0.8v0.8h-0.8zM132.3 104.7h0.8v0.8h-0.8zM129.4 111.0h0.8v0.8h-0.8zM130.6 111.1h0.8v0.8h-0.8zM130.2 110.6h0.8v0.8h-0.8zM130.2 111.8h0.8v0.8h-0.8zM129.7 112.4h0.8v0.8h-0.8zM124.9 112.7h0.8v0.8h-0.8zM126.0 112.4h0.8v0.8h-0.8zM123.5 111.0h0.8v0.8h-0.8zM127.5 111.9h0.8v0.8h-0.8zM122.3 109.2h0.8v0.8h-0.8zM123.1 111.2h0.8v0.8h-0.8zM123.2 110.4h0.8v0.8h-0.8zM120.5 107.7h0.8v0.8h-0.8zM120.4 104.9h0.8v0.8h-0.8zM119.4 107.6h0.8v0.8h-0.8zM119.1 106.2h0.8v0.8h-0.8z" fill="#cf6fcf"/>
<path d="M117.4 113.7h0.8v0.8h-0.8zM117.1 114.8h0.8v0.8h-0.8zM117.7 115.0h0.8v0.8h-0.8zM121.5 112.3h0.8v0.8h-0.8zM121.2 112.2h0.8v0.8h-0.8zM123.9 113.4h0.8v0.8h-0.8zM125.1 116.3h0.8v0.8h-0.8zM124.5 117.1h0.8v0.8h-0.8zM125.3 115.1h0.8v0.8h-0.8zM120.9 120.2h0.8v0.8h-0.8zM122.3 119.1h0.8v0.8h-0.8zM124.8 119.0h0.8v0.8h-0.8zM119.8 119.4h0.8v0.8h-0.8zM118.5 121.2h0.8v0.8h-0.8zM116.6 115.7h0.8v0.8h-0.8zM116.9 116.1h0.8v0.8h-0.8zM116.4 117.8h0.8v0.8h-0.8z" fill="#c4262a"/>
<path d="M124.0 115.3h0.8v0.8h-0.8zM124.1 116.5h0.8v0.8h-0.8zM124.0 115.5h0.8v0.8h-0.8zM129.8 115.0h0.8v0.8h-0.8zM129.2 114.1h0.8v0.8h-0.8zM128.8 115.1h0.8v0.8h-0.8zM132.2 116.6h0.8v0.8h-0.8zM132.6 118.1h0.8v0.8h-0.8zM133.7 118.9h0.8v0.8h-0.8zM132.0 124.0h0.8v0.8h-0.8zM134.0 122.3h0.8v0.8h-0.8zM133.2 121.1h0.8v0.8h-0.8zM133.1 123.4h0.8v0.8h-0.8zM129.3 123.4h0.8v0.8h-0.8zM127.6 124.1h0.8v0.8h-0.8zM128.3 123.8h0.8v0.8h-0.8zM129.8 125.5h0.8v0.8h-0.8zM124.5 121.7h0.8v0.8h-0.8zM126.1 123.3h0.8v0.8h-0.8zM125.0 121.7h0.8v0.8h-0.8zM124.3 118.0h0.8v0.8h-0.8zM123.5 120.2h0.8v0.8h-0.8zM123.5 118.6h0.8v0.8h-0.8z" fill="#c4262a"/>
<path d="M39.5,73C39.83,71.25 41.33,67.83 42.5,66C43.67,64.17 45.17,63.03 46.5,62C47.83,60.97 49.15,59.97 50.5,59.8C51.85,59.63 53.8,60.17 54.6,61C55.4,61.83 55.63,63.38 55.3,64.8C54.97,66.22 53.23,67.8 52.6,69.5C51.97,71.2 52.02,73.33 51.5,75C50.98,76.67 50.67,78.92 49.5,79.5C48.33,80.08 46,79 44.5,78.5C43,78 41.33,77.42 40.5,76.5C39.67,75.58 39.17,74.75 39.5,73Z" fill="#e8821f" stroke="#e8821f" stroke-width="0.9" stroke-linejoin="round" />
<path d="M58.75,56.25C59.83,54.75 62.12,54.21 64,53.5C65.88,52.79 67.96,52.38 70,52C72.04,51.62 74.17,51.17 76.25,51.25C78.33,51.33 81.21,51.38 82.5,52.5C83.79,53.62 83.5,55.92 84,58C84.5,60.08 84.67,62.92 85.5,65C86.33,67.08 87.67,68.83 89,70.5C90.33,72.17 92.17,73.42 93.5,75C94.83,76.58 96.12,77.92 97,80C97.88,82.08 98.46,84.75 98.75,87.5C99.04,90.25 100,94.33 98.75,96.5C97.5,98.67 94.17,99.17 91.25,100.5C88.33,101.83 84.38,104.17 81.25,104.5C78.12,104.83 75.62,103.25 72.5,102.5C69.38,101.75 65.62,100.62 62.5,100C59.38,99.38 55.83,99.79 53.75,98.75C51.67,97.71 50.54,95.62 50,93.75C49.46,91.88 49.83,89.38 50.5,87.5C51.17,85.62 52.83,84.17 54,82.5C55.17,80.83 57.08,79.58 57.5,77.5C57.92,75.42 56.5,72.5 56.5,70C56.5,67.5 57.12,64.79 57.5,62.5C57.88,60.21 57.67,57.75 58.75,56.25Z" fill="#e8821f" stroke="#e8821f" stroke-width="0.9" stroke-linejoin="round" />
<path d="M104.8,82.5C104.63,81.17 105.55,79.17 106.5,77.5C107.45,75.83 108.83,74.12 110.5,72.5C112.17,70.88 114.33,68.42 116.5,67.8C118.67,67.18 121.25,68.33 123.5,68.8C125.75,69.27 127.92,69.83 130,70.6C132.08,71.37 134.25,72.2 136,73.4C137.75,74.6 139.25,76.12 140.5,77.8C141.75,79.48 142.75,81.26 143.5,83.5C144.25,85.74 144.92,89.08 145,91.25C145.08,93.42 144.83,95.12 144,96.5C143.17,97.88 141.29,99.33 140,99.5C138.71,99.67 137.5,98.67 136.25,97.5C135,96.33 133.96,93.75 132.5,92.5C131.04,91.25 129.58,90.62 127.5,90C125.42,89.38 122.5,89.17 120,88.75C117.5,88.33 114.58,88.04 112.5,87.5C110.42,86.96 108.78,86.33 107.5,85.5C106.22,84.67 104.97,83.83 104.8,82.5Z" fill="#8f67c9" stroke="#8f67c9" stroke-width="0.9" stroke-linejoin="round" />
<path d="M91.5,53.5C92.48,52.05 93.83,50.58 95.5,49.8C97.17,49.02 99.42,49 101.5,48.8C103.58,48.6 106.17,48.7 108,48.6C109.83,48.5 110.67,48.4 112.5,48.2C114.33,48 117,47.5 119,47.4C121,47.3 123,47.2 124.5,47.6C126,48 127.22,48.65 128,49.8C128.78,50.95 129.15,52.83 129.2,54.5C129.25,56.17 129.17,58 128.3,59.8C127.43,61.6 125.88,64.1 124,65.3C122.12,66.5 119.17,65.92 117,67C114.83,68.08 112.7,69.97 111,71.8C109.3,73.63 107.87,76.1 106.8,78C105.73,79.9 105.2,82.37 104.6,83.2C104,84.03 103.6,83.45 103.2,83C102.8,82.55 102.63,81.58 102.2,80.5C101.77,79.42 101.38,77.83 100.6,76.5C99.82,75.17 98.77,73.78 97.5,72.5C96.23,71.22 94.22,70.18 93,68.8C91.78,67.42 90.77,65.92 90.2,64.2C89.63,62.48 89.38,60.28 89.6,58.5C89.82,56.72 90.52,54.95 91.5,53.5Z" fill="#62a03a" stroke="#62a03a" stroke-width="0.9" stroke-linejoin="round" />
<path d="M81,104.8C83.53,103.05 95.68,99.13 98.9,97C102.12,94.87 100.02,93.58 100.3,92C100.58,90.42 100.22,88.8 100.6,87.5C100.98,86.2 101.62,84.7 102.6,84.2C103.58,83.7 105.18,84.12 106.5,84.5C107.82,84.88 109.67,85.5 110.5,86.5C111.33,87.5 111.75,89.28 111.5,90.5C111.25,91.72 108.92,92.88 109,93.8C109.08,94.72 111.58,94.63 112,96C112.42,97.37 111.7,99.67 111.5,102C111.3,104.33 110.95,107.5 110.8,110C110.65,112.5 111.4,115.52 110.6,117C109.8,118.48 107.97,118.73 106,118.9C104.03,119.07 101,118.57 98.75,118C96.5,117.43 94.38,116.58 92.5,115.5C90.62,114.42 88.96,112.83 87.5,111.5C86.04,110.17 84.83,108.62 83.75,107.5C82.67,106.38 78.47,106.55 81,104.8Z" fill="#4a7dc1" stroke="#4a7dc1" stroke-width="0.9" stroke-linejoin="round" />
<path d="M113.5,96C114.25,95.08 116.75,95.08 118,95.5C119.25,95.92 120.58,97.33 121,98.5C121.42,99.67 121.25,101.7 120.5,102.5C119.75,103.3 117.67,103.55 116.5,103.3C115.33,103.05 114,102.22 113.5,101C113,99.78 112.75,96.92 113.5,96Z" fill="#4a7dc1" stroke="#4a7dc1" stroke-width="0.9" stroke-linejoin="round" />
<path d="M116,121C117.08,121.08 117.95,123.25 119,124.5C120.05,125.75 122.8,127.75 122.3,128.5C121.8,129.25 118.05,129.17 116,129C113.95,128.83 110.58,128.33 110,127.5C109.42,126.67 111.5,125.08 112.5,124C113.5,122.92 114.92,120.92 116,121Z" fill="#4a7dc1" stroke="#4a7dc1" stroke-width="0.9" stroke-linejoin="round" />
<path d="M116.5,109.8C117.08,109.3 119.78,109.67 120.5,110.2C121.22,110.73 121.38,112.5 120.8,113C120.22,113.5 117.72,113.73 117,113.2C116.28,112.67 115.92,110.3 116.5,109.8Z" fill="#4a7dc1" stroke="#4a7dc1" stroke-width="0.9" stroke-linejoin="round" />
<path d="M62.5,123C62.5,121.27 63.33,119.02 64.2,117.3C65.07,115.58 66.35,114.05 67.7,112.7C69.05,111.35 70.57,109.45 72.3,109.2C74.03,108.95 76.37,110.23 78.1,111.2C79.83,112.17 80.97,113.63 82.7,115C84.43,116.37 87.15,118.07 88.5,119.4C89.85,120.73 90.62,121.62 90.8,123C90.98,124.38 90.57,126.43 89.6,127.7C88.63,128.97 86.92,129.93 85,130.6C83.08,131.27 80.6,131.7 78.1,131.7C75.6,131.7 72.32,131.27 70,130.6C67.68,129.93 65.45,128.97 64.2,127.7C62.95,126.43 62.5,124.73 62.5,123Z" fill="#7d5549" stroke="#7d5549" stroke-width="0.9" stroke-linejoin="round" />
<path d="M98.8,119C99.58,118.02 102.15,118.23 103.5,118.3C104.85,118.37 106.23,118.42 106.9,119.4C107.57,120.38 107.73,122.93 107.5,124.2C107.27,125.47 105.4,126.23 105.5,127C105.6,127.77 107.28,128.2 108.1,128.8C108.92,129.4 110.22,129.73 110.4,130.6C110.58,131.47 110.17,133.33 109.2,134C108.23,134.67 105.93,134.3 104.6,134.6C103.27,134.9 102.07,135.98 101.2,135.8C100.33,135.62 99.7,134.67 99.4,133.5C99.1,132.33 99.5,130.35 99.4,128.8C99.3,127.25 98.9,125.83 98.8,124.2C98.7,122.57 98.02,119.98 98.8,119Z" fill="#7d5549" stroke="#7d5549" stroke-width="0.9" stroke-linejoin="round" />
<path d="M121.5,104C122.13,102.92 123.75,101.53 125,101C126.25,100.47 127.75,100.38 129,100.8C130.25,101.22 132,102.22 132.5,103.5C133,104.78 132.75,107.17 132,108.5C131.25,109.83 129.42,111.08 128,111.5C126.58,111.92 124.63,111.67 123.5,111C122.37,110.33 121.53,108.67 121.2,107.5C120.87,106.33 120.87,105.08 121.5,104Z" fill="#cf6fcf" stroke="#cf6fcf" stroke-width="0.9" stroke-linejoin="round" />
<path d="M117.2,115.5C117.65,114.75 118.9,114.12 120,114C121.1,113.88 123.22,114.13 123.8,114.8C124.38,115.47 124.13,117.22 123.5,118C122.87,118.78 121.03,119.42 120,119.5C118.97,119.58 117.77,119.17 117.3,118.5C116.83,117.83 116.75,116.25 117.2,115.5Z" fill="#c4262a" stroke="#c4262a" stroke-width="0.9" stroke-linejoin="round" />
<path d="M124.6,117C125.1,116.18 126.85,115.6 128,115.6C129.15,115.6 130.62,116.27 131.5,117C132.38,117.73 133.38,118.92 133.3,120C133.22,121.08 132.05,123 131,123.5C129.95,124 128,123.5 127,123C126,122.5 125.4,121.5 125,120.5C124.6,119.5 124.1,117.82 124.6,117Z" fill="#c4262a" stroke="#c4262a" stroke-width="0.9" stroke-linejoin="round" />
<ellipse cx="108.5" cy="61.5" rx="1.6" ry="1.0" fill="#fff" fill-opacity="0.85"/>
<ellipse cx="111.5" cy="59.5" rx="1.3" ry="0.9" fill="#fff" fill-opacity="0.85"/>
<ellipse cx="113.8" cy="62.5" rx="1.2" ry="0.8" fill="#fff" fill-opacity="0.85"/>
<ellipse cx="110" cy="64.5" rx="1.0" ry="0.7" fill="#fff" fill-opacity="0.85"/>
<ellipse cx="106.5" cy="63.5" rx="0.8" ry="0.6" fill="#fff" fill-opacity="0.85"/>
<ellipse cx="113" cy="57.5" rx="0.8" ry="0.6" fill="#fff" fill-opacity="0.85"/>
<ellipse cx="95.5" cy="110.8" rx="3.2" ry="1.0" fill="#fff" fill-opacity="0.85"/>
<ellipse cx="103" cy="88" rx="0.9" ry="0.6" fill="#fff" fill-opacity="0.85"/>
<ellipse cx="106.8" cy="90.5" rx="0.7" ry="1.0" fill="#fff" fill-opacity="0.85"/>
<ellipse cx="101.5" cy="93" rx="0.6" ry="0.5" fill="#fff" fill-opacity="0.85"/>
<ellipse cx="108.5" cy="98.5" rx="0.6" ry="0.9" fill="#fff" fill-opacity="0.85"/>
<ellipse cx="104.2" cy="95.8" rx="0.5" ry="0.5" fill="#fff" fill-opacity="0.85"/>
<ellipse cx="109" cy="104" rx="0.5" ry="0.8" fill="#fff" fill-opacity="0.85"/>
<ellipse cx="100.2" cy="110.6" rx="2.2" ry="0.9" fill="#fff" fill-opacity="0.85"/>
<ellipse cx="91.5" cy="99.5" rx="0.7" ry="0.6" fill="#fff" fill-opacity="0.85"/>
<ellipse cx="104.5" cy="100" rx="0.8" ry="0.6" fill="#fff" fill-opacity="0.85"/>
<ellipse cx="107" cy="106" rx="0.6" ry="1.4" fill="#fff" fill-opacity="0.85"/>
<ellipse cx="102.5" cy="104.5" rx="0.6" ry="0.6" fill="#fff" fill-opacity="0.85"/>
</g>
<text x="96.5" y="47" font-size="8.6" fill="#111" font-weight="bold" textLength="36.5" lengthAdjust="spacingAndGlyphs" stroke="#111" stroke-width="0.35">Erythroid</text>
<text x="42.3" y="80.6" font-size="8.6" fill="#111" font-weight="bold" textLength="47.5" lengthAdjust="spacingAndGlyphs" stroke="#111" stroke-width="0.35">Neutrophils</text>
<text x="131.2" y="83.5" font-size="8.6" fill="#111" font-weight="bold" textLength="26" lengthAdjust="spacingAndGlyphs" stroke="#111" stroke-width="0.35">B Cells</text>
<text x="126.2" y="111.3" font-size="8.6" fill="#111" font-weight="bold" textLength="32.5" lengthAdjust="spacingAndGlyphs" stroke="#111" stroke-width="0.35">NK Cells</text>
<text x="128.2" y="126.3" font-size="8.6" fill="#111" font-weight="bold" textLength="26.5" lengthAdjust="spacingAndGlyphs" stroke="#111" stroke-width="0.35">T Cells</text>
<text x="51" y="131.6" font-size="8.6" fill="#111" font-weight="bold" textLength="53" lengthAdjust="spacingAndGlyphs" stroke="#111" stroke-width="0.35">Macrophages</text>
<rect x="29.4" y="21.4" width="130.9" height="130" fill="none" stroke="#1a1a1a" stroke-width="1.15"/>
<line x1="26.3" y1="21.4" x2="29.4" y2="21.4" stroke="#1a1a1a" stroke-width="1.0" />
<line x1="29.4" y1="151.4" x2="29.4" y2="154.5" stroke="#1a1a1a" stroke-width="1.0" />
<line x1="26.3" y1="34.4" x2="29.4" y2="34.4" stroke="#1a1a1a" stroke-width="1.0" />
<line x1="42.49" y1="151.4" x2="42.49" y2="154.5" stroke="#1a1a1a" stroke-width="1.0" />
<line x1="26.3" y1="47.4" x2="29.4" y2="47.4" stroke="#1a1a1a" stroke-width="1.0" />
<line x1="55.58" y1="151.4" x2="55.58" y2="154.5" stroke="#1a1a1a" stroke-width="1.0" />
<line x1="26.3" y1="60.4" x2="29.4" y2="60.4" stroke="#1a1a1a" stroke-width="1.0" />
<line x1="68.67" y1="151.4" x2="68.67" y2="154.5" stroke="#1a1a1a" stroke-width="1.0" />
<line x1="26.3" y1="73.4" x2="29.4" y2="73.4" stroke="#1a1a1a" stroke-width="1.0" />
<line x1="81.76" y1="151.4" x2="81.76" y2="154.5" stroke="#1a1a1a" stroke-width="1.0" />
<line x1="26.3" y1="86.4" x2="29.4" y2="86.4" stroke="#1a1a1a" stroke-width="1.0" />
<line x1="94.85" y1="151.4" x2="94.85" y2="154.5" stroke="#1a1a1a" stroke-width="1.0" />
<line x1="26.3" y1="99.4" x2="29.4" y2="99.4" stroke="#1a1a1a" stroke-width="1.0" />
<line x1="107.94" y1="151.4" x2="107.94" y2="154.5" stroke="#1a1a1a" stroke-width="1.0" />
<line x1="26.3" y1="112.4" x2="29.4" y2="112.4" stroke="#1a1a1a" stroke-width="1.0" />
<line x1="121.03" y1="151.4" x2="121.03" y2="154.5" stroke="#1a1a1a" stroke-width="1.0" />
<line x1="26.3" y1="125.4" x2="29.4" y2="125.4" stroke="#1a1a1a" stroke-width="1.0" />
<line x1="134.12" y1="151.4" x2="134.12" y2="154.5" stroke="#1a1a1a" stroke-width="1.0" />
<line x1="26.3" y1="138.4" x2="29.4" y2="138.4" stroke="#1a1a1a" stroke-width="1.0" />
<line x1="147.21" y1="151.4" x2="147.21" y2="154.5" stroke="#1a1a1a" stroke-width="1.0" />
<line x1="26.3" y1="151.4" x2="29.4" y2="151.4" stroke="#1a1a1a" stroke-width="1.0" />
<line x1="160.3" y1="151.4" x2="160.3" y2="154.5" stroke="#1a1a1a" stroke-width="1.0" />
<text x="21" y="86.3" font-size="7.8" fill="#000" text-anchor="middle" textLength="15.3" lengthAdjust="spacingAndGlyphs" transform="rotate(-90 21 86.3)" stroke="#1a1a1a" stroke-width="0.3">tSNE2</text>
<text x="94.6" y="165.6" font-size="7.8" fill="#000" text-anchor="middle" textLength="15.2" lengthAdjust="spacingAndGlyphs" stroke="#1a1a1a" stroke-width="0.3">tSNE1</text>
<g transform="translate(362.6 18.5) scale(1.0191 1.0223) translate(-29.4 -21.4)">
<path d="M40.2 71.6h0.8v0.8h-0.8zM40.4 69.0h0.8v0.8h-0.8zM38.4 72.4h0.8v0.8h-0.8zM40.7 66.1h0.8v0.8h-0.8zM39.3 70.1h0.8v0.8h-0.8zM39.1 71.9h0.8v0.8h-0.8zM40.9 66.6h0.8v0.8h-0.8zM43.0 62.7h0.8v0.8h-0.8zM43.8 62.4h0.8v0.8h-0.8zM45.0 62.4h0.8v0.8h-0.8zM43.5 63.5h0.8v0.8h-0.8zM42.1 64.1h0.8v0.8h-0.8zM49.3 59.6h0.8v0.8h-0.8zM50.0 60.2h0.8v0.8h-0.8zM47.5 60.9h0.8v0.8h-0.8zM47.9 60.7h0.8v0.8h-0.8zM53.6 60.3h0.8v0.8h-0.8zM54.1 60.3h0.8v0.8h-0.8zM55.0 60.8h0.8v0.8h-0.8zM52.4 58.6h0.8v0.8h-0.8zM55.7 63.4h0.8v0.8h-0.8zM56.0 63.7h0.8v0.8h-0.8zM55.9 62.1h0.8v0.8h-0.8zM55.6 66.3h0.8v0.8h-0.8zM55.6 66.8h0.8v0.8h-0.8zM54.7 66.6h0.8v0.8h-0.8zM54.3 67.8h0.8v0.8h-0.8zM56.1 63.9h0.8v0.8h-0.8zM52.1 74.6h0.8v0.8h-0.8zM52.0 74.2h0.8v0.8h-0.8zM53.6 72.6h0.8v0.8h-0.8zM51.7 74.6h0.8v0.8h-0.8zM54.4 69.3h0.8v0.8h-0.8zM51.4 77.0h0.8v0.8h-0.8zM50.3 77.9h0.8v0.8h-0.8zM50.4 80.2h0.8v0.8h-0.8zM51.3 76.1h0.8v0.8h-0.8zM47.2 79.8h0.8v0.8h-0.8zM45.8 79.2h0.8v0.8h-0.8zM49.4 80.0h0.8v0.8h-0.8zM46.4 79.9h0.8v0.8h-0.8zM48.4 80.7h0.8v0.8h-0.8zM41.6 79.6h0.8v0.8h-0.8zM44.1 78.7h0.8v0.8h-0.8zM40.9 76.7h0.8v0.8h-0.8zM40.4 77.4h0.8v0.8h-0.8zM38.5 74.5h0.8v0.8h-0.8zM39.7 73.4h0.8v0.8h-0.8zM40.4 76.8h0.8v0.8h-0.8z" fill="#e8821f"/>
<path d="M60.1 54.4h0.8v0.8h-0.8zM61.7 54.2h0.8v0.8h-0.8zM57.8 54.5h0.8v0.8h-0.8zM61.6 53.7h0.8v0.8h-0.8zM63.6 52.8h0.8v0.8h-0.8zM68.3 49.8h0.8v0.8h-0.8zM65.7 51.8h0.8v0.8h-0.8zM64.5 52.5h0.8v0.8h-0.8zM68.3 51.7h0.8v0.8h-0.8zM69.7 50.1h0.8v0.8h-0.8zM65.8 52.4h0.8v0.8h-0.8zM75.8 51.3h0.8v0.8h-0.8zM73.3 50.2h0.8v0.8h-0.8zM71.9 49.7h0.8v0.8h-0.8zM75.9 51.5h0.8v0.8h-0.8zM72.2 49.3h0.8v0.8h-0.8zM71.8 51.2h0.8v0.8h-0.8zM77.4 49.5h0.8v0.8h-0.8zM79.9 51.9h0.8v0.8h-0.8zM79.7 51.2h0.8v0.8h-0.8zM76.7 50.2h0.8v0.8h-0.8zM78.8 50.7h0.8v0.8h-0.8zM77.4 49.9h0.8v0.8h-0.8zM83.9 56.1h0.8v0.8h-0.8zM84.0 57.0h0.8v0.8h-0.8zM82.7 52.4h0.8v0.8h-0.8zM83.2 54.6h0.8v0.8h-0.8zM82.7 53.6h0.8v0.8h-0.8zM85.3 60.5h0.8v0.8h-0.8zM85.7 60.3h0.8v0.8h-0.8zM84.8 58.1h0.8v0.8h-0.8zM84.4 57.4h0.8v0.8h-0.8zM85.6 63.7h0.8v0.8h-0.8zM86.0 60.5h0.8v0.8h-0.8zM85.5 58.3h0.8v0.8h-0.8zM89.1 67.5h0.8v0.8h-0.8zM89.5 68.6h0.8v0.8h-0.8zM89.4 69.4h0.8v0.8h-0.8zM87.6 65.1h0.8v0.8h-0.8zM86.7 66.4h0.8v0.8h-0.8zM88.8 65.9h0.8v0.8h-0.8zM92.3 72.8h0.8v0.8h-0.8zM93.3 73.8h0.8v0.8h-0.8zM93.9 74.3h0.8v0.8h-0.8zM91.4 72.1h0.8v0.8h-0.8zM93.1 74.2h0.8v0.8h-0.8zM94.8 74.7h0.8v0.8h-0.8zM96.7 78.3h0.8v0.8h-0.8zM97.6 79.4h0.8v0.8h-0.8zM97.6 80.1h0.8v0.8h-0.8zM95.8 75.9h0.8v0.8h-0.8zM95.6 77.7h0.8v0.8h-0.8zM97.2 78.8h0.8v0.8h-0.8zM100.1 86.7h0.8v0.8h-0.8zM98.2 83.5h0.8v0.8h-0.8zM99.0 83.1h0.8v0.8h-0.8zM97.4 79.7h0.8v0.8h-0.8zM99.3 86.3h0.8v0.8h-0.8zM97.9 83.0h0.8v0.8h-0.8zM98.2 84.6h0.8v0.8h-0.8zM99.6 94.6h0.8v0.8h-0.8zM99.5 89.4h0.8v0.8h-0.8zM99.7 89.3h0.8v0.8h-0.8zM100.5 90.7h0.8v0.8h-0.8zM100.0 91.5h0.8v0.8h-0.8zM99.4 96.3h0.8v0.8h-0.8zM98.7 92.8h0.8v0.8h-0.8zM99.9 92.2h0.8v0.8h-0.8zM100.1 88.8h0.8v0.8h-0.8zM97.7 99.5h0.8v0.8h-0.8zM99.1 98.0h0.8v0.8h-0.8zM97.1 98.7h0.8v0.8h-0.8zM96.2 99.5h0.8v0.8h-0.8zM97.1 99.7h0.8v0.8h-0.8zM94.3 100.3h0.8v0.8h-0.8zM93.2 100.7h0.8v0.8h-0.8zM97.1 98.5h0.8v0.8h-0.8zM90.5 101.5h0.8v0.8h-0.8zM88.2 103.1h0.8v0.8h-0.8zM83.9 104.0h0.8v0.8h-0.8zM82.1 105.8h0.8v0.8h-0.8zM88.7 103.9h0.8v0.8h-0.8zM88.8 102.3h0.8v0.8h-0.8zM83.2 104.3h0.8v0.8h-0.8zM82.9 104.1h0.8v0.8h-0.8zM88.1 101.9h0.8v0.8h-0.8zM81.9 106.1h0.8v0.8h-0.8zM72.8 103.0h0.8v0.8h-0.8zM80.3 104.7h0.8v0.8h-0.8zM72.5 103.5h0.8v0.8h-0.8zM77.7 105.5h0.8v0.8h-0.8zM78.8 104.2h0.8v0.8h-0.8zM76.8 104.4h0.8v0.8h-0.8zM78.4 105.4h0.8v0.8h-0.8zM76.1 103.3h0.8v0.8h-0.8zM63.7 101.9h0.8v0.8h-0.8zM69.3 102.4h0.8v0.8h-0.8zM64.4 102.2h0.8v0.8h-0.8zM71.5 103.3h0.8v0.8h-0.8zM66.1 102.1h0.8v0.8h-0.8zM62.3 101.4h0.8v0.8h-0.8zM63.9 101.5h0.8v0.8h-0.8zM67.1 102.5h0.8v0.8h-0.8zM70.7 102.7h0.8v0.8h-0.8zM67.2 103.0h0.8v0.8h-0.8zM58.2 100.7h0.8v0.8h-0.8zM54.2 100.5h0.8v0.8h-0.8zM55.7 100.2h0.8v0.8h-0.8zM55.1 100.7h0.8v0.8h-0.8zM60.9 101.2h0.8v0.8h-0.8zM60.0 100.3h0.8v0.8h-0.8zM59.6 99.7h0.8v0.8h-0.8zM55.7 100.6h0.8v0.8h-0.8zM51.2 95.3h0.8v0.8h-0.8zM52.6 99.4h0.8v0.8h-0.8zM53.0 99.4h0.8v0.8h-0.8zM52.1 99.5h0.8v0.8h-0.8zM50.7 96.1h0.8v0.8h-0.8zM51.5 99.1h0.8v0.8h-0.8zM49.0 89.4h0.8v0.8h-0.8zM49.2 93.7h0.8v0.8h-0.8zM49.2 90.4h0.8v0.8h-0.8zM49.0 91.5h0.8v0.8h-0.8zM49.5 88.0h0.8v0.8h-0.8zM50.2 87.4h0.8v0.8h-0.8zM51.1 85.6h0.8v0.8h-0.8zM51.2 85.7h0.8v0.8h-0.8zM49.9 87.0h0.8v0.8h-0.8zM49.6 86.8h0.8v0.8h-0.8zM51.7 85.4h0.8v0.8h-0.8zM52.2 83.5h0.8v0.8h-0.8zM53.3 82.7h0.8v0.8h-0.8zM55.1 78.9h0.8v0.8h-0.8zM53.9 81.8h0.8v0.8h-0.8zM53.6 82.8h0.8v0.8h-0.8zM55.6 78.1h0.8v0.8h-0.8zM53.0 82.6h0.8v0.8h-0.8zM55.1 70.4h0.8v0.8h-0.8zM57.1 76.5h0.8v0.8h-0.8zM56.3 76.3h0.8v0.8h-0.8zM55.4 71.5h0.8v0.8h-0.8zM56.4 72.1h0.8v0.8h-0.8zM56.8 76.6h0.8v0.8h-0.8zM57.2 74.9h0.8v0.8h-0.8zM57.1 66.4h0.8v0.8h-0.8zM56.1 69.6h0.8v0.8h-0.8zM55.7 65.4h0.8v0.8h-0.8zM56.5 62.8h0.8v0.8h-0.8zM56.2 68.9h0.8v0.8h-0.8zM56.0 64.0h0.8v0.8h-0.8zM56.9 64.3h0.8v0.8h-0.8zM57.2 57.4h0.8v0.8h-0.8zM57.5 57.9h0.8v0.8h-0.8zM57.8 59.0h0.8v0.8h-0.8zM57.6 60.9h0.8v0.8h-0.8zM56.9 57.0h0.8v0.8h-0.8zM57.3 54.6h0.8v0.8h-0.8z" fill="#e8821f"/>
<path d="M83.1 103.3h0.8v0.8h-0.8zM97.1 96.5h0.8v0.8h-0.8zM83.7 103.3h0.8v0.8h-0.8zM97.2 96.5h0.8v0.8h-0.8zM82.6 104.0h0.8v0.8h-0.8zM94.8 97.2h0.8v0.8h-0.8zM89.3 100.5h0.8v0.8h-0.8zM89.6 99.6h0.8v0.8h-0.8zM90.1 100.0h0.8v0.8h-0.8zM94.4 99.2h0.8v0.8h-0.8zM89.0 100.9h0.8v0.8h-0.8zM88.8 101.5h0.8v0.8h-0.8zM87.2 102.4h0.8v0.8h-0.8zM95.7 97.8h0.8v0.8h-0.8zM94.4 99.2h0.8v0.8h-0.8zM94.0 98.3h0.8v0.8h-0.8zM92.3 99.2h0.8v0.8h-0.8zM87.3 102.1h0.8v0.8h-0.8zM93.0 99.1h0.8v0.8h-0.8zM100.0 93.5h0.8v0.8h-0.8zM98.5 93.6h0.8v0.8h-0.8zM98.8 93.3h0.8v0.8h-0.8zM98.7 94.6h0.8v0.8h-0.8zM100.5 91.1h0.8v0.8h-0.8zM100.6 85.9h0.8v0.8h-0.8zM99.8 89.8h0.8v0.8h-0.8zM100.2 86.4h0.8v0.8h-0.8zM100.6 86.7h0.8v0.8h-0.8zM100.5 85.6h0.8v0.8h-0.8zM101.8 84.9h0.8v0.8h-0.8zM101.7 84.9h0.8v0.8h-0.8zM104.6 82.9h0.8v0.8h-0.8zM102.8 84.2h0.8v0.8h-0.8zM102.9 84.2h0.8v0.8h-0.8zM107.6 84.3h0.8v0.8h-0.8zM109.9 84.4h0.8v0.8h-0.8zM106.7 83.0h0.8v0.8h-0.8zM111.1 85.5h0.8v0.8h-0.8zM111.7 87.4h0.8v0.8h-0.8zM110.6 86.2h0.8v0.8h-0.8zM111.6 86.4h0.8v0.8h-0.8zM111.3 85.9h0.8v0.8h-0.8zM111.5 90.9h0.8v0.8h-0.8zM110.4 92.5h0.8v0.8h-0.8zM110.0 92.8h0.8v0.8h-0.8zM110.6 92.0h0.8v0.8h-0.8zM109.8 93.2h0.8v0.8h-0.8zM112.1 94.3h0.8v0.8h-0.8zM110.2 93.8h0.8v0.8h-0.8zM112.5 99.4h0.8v0.8h-0.8zM113.2 95.8h0.8v0.8h-0.8zM112.8 98.1h0.8v0.8h-0.8zM112.6 96.9h0.8v0.8h-0.8zM113.2 96.9h0.8v0.8h-0.8zM111.8 100.3h0.8v0.8h-0.8zM112.0 105.3h0.8v0.8h-0.8zM111.3 109.5h0.8v0.8h-0.8zM111.6 103.6h0.8v0.8h-0.8zM112.0 105.9h0.8v0.8h-0.8zM111.3 106.0h0.8v0.8h-0.8zM111.6 103.0h0.8v0.8h-0.8zM111.2 109.9h0.8v0.8h-0.8zM112.2 109.1h0.8v0.8h-0.8zM111.3 116.3h0.8v0.8h-0.8zM111.4 111.7h0.8v0.8h-0.8zM111.6 110.9h0.8v0.8h-0.8zM110.8 115.2h0.8v0.8h-0.8zM111.4 112.0h0.8v0.8h-0.8zM110.7 117.2h0.8v0.8h-0.8zM110.7 115.4h0.8v0.8h-0.8zM107.2 119.4h0.8v0.8h-0.8zM107.9 119.6h0.8v0.8h-0.8zM106.9 120.1h0.8v0.8h-0.8zM106.3 119.2h0.8v0.8h-0.8zM99.1 118.0h0.8v0.8h-0.8zM102.5 119.1h0.8v0.8h-0.8zM101.7 120.5h0.8v0.8h-0.8zM106.1 120.8h0.8v0.8h-0.8zM102.3 120.9h0.8v0.8h-0.8zM101.8 118.5h0.8v0.8h-0.8zM98.3 119.3h0.8v0.8h-0.8zM96.3 118.1h0.8v0.8h-0.8zM98.1 119.0h0.8v0.8h-0.8zM98.3 119.1h0.8v0.8h-0.8zM94.3 117.6h0.8v0.8h-0.8zM97.2 119.3h0.8v0.8h-0.8zM95.5 117.3h0.8v0.8h-0.8zM91.2 114.8h0.8v0.8h-0.8zM89.4 115.6h0.8v0.8h-0.8zM87.7 111.9h0.8v0.8h-0.8zM90.8 116.4h0.8v0.8h-0.8zM91.2 115.2h0.8v0.8h-0.8zM90.1 114.9h0.8v0.8h-0.8zM83.8 109.0h0.8v0.8h-0.8zM84.3 109.7h0.8v0.8h-0.8zM83.0 108.2h0.8v0.8h-0.8zM85.2 109.2h0.8v0.8h-0.8zM86.0 111.1h0.8v0.8h-0.8zM82.3 107.7h0.8v0.8h-0.8zM79.9 106.0h0.8v0.8h-0.8zM80.7 105.7h0.8v0.8h-0.8z" fill="#4a7dc1"/>
<path d="M117.8 93.9h0.8v0.8h-0.8zM117.8 95.5h0.8v0.8h-0.8zM117.8 94.9h0.8v0.8h-0.8zM115.8 93.9h0.8v0.8h-0.8zM118.4 95.3h0.8v0.8h-0.8zM119.3 96.2h0.8v0.8h-0.8zM121.7 98.2h0.8v0.8h-0.8zM119.6 96.0h0.8v0.8h-0.8zM120.9 101.9h0.8v0.8h-0.8zM122.2 102.6h0.8v0.8h-0.8zM122.1 102.5h0.8v0.8h-0.8zM121.7 99.8h0.8v0.8h-0.8zM117.2 104.7h0.8v0.8h-0.8zM121.4 103.0h0.8v0.8h-0.8zM120.1 103.0h0.8v0.8h-0.8zM120.6 103.1h0.8v0.8h-0.8zM112.9 101.6h0.8v0.8h-0.8zM113.1 101.3h0.8v0.8h-0.8zM115.2 103.0h0.8v0.8h-0.8zM112.8 100.4h0.8v0.8h-0.8zM112.0 97.6h0.8v0.8h-0.8zM112.9 96.7h0.8v0.8h-0.8zM112.2 95.3h0.8v0.8h-0.8zM113.1 96.9h0.8v0.8h-0.8z" fill="#4a7dc1"/>
<path d="M119.2 122.9h0.8v0.8h-0.8zM117.1 120.6h0.8v0.8h-0.8zM116.9 121.5h0.8v0.8h-0.8zM116.5 120.6h0.8v0.8h-0.8zM121.3 127.1h0.8v0.8h-0.8zM121.7 127.1h0.8v0.8h-0.8zM120.4 125.5h0.8v0.8h-0.8zM122.5 127.2h0.8v0.8h-0.8zM121.4 127.0h0.8v0.8h-0.8zM118.4 130.8h0.8v0.8h-0.8zM117.3 129.7h0.8v0.8h-0.8zM122.6 128.6h0.8v0.8h-0.8zM119.8 129.4h0.8v0.8h-0.8zM119.4 129.0h0.8v0.8h-0.8zM119.7 129.3h0.8v0.8h-0.8zM110.6 127.9h0.8v0.8h-0.8zM112.9 128.3h0.8v0.8h-0.8zM113.8 129.5h0.8v0.8h-0.8zM113.7 129.5h0.8v0.8h-0.8zM111.9 128.4h0.8v0.8h-0.8zM114.7 129.3h0.8v0.8h-0.8zM109.6 127.0h0.8v0.8h-0.8zM109.0 127.6h0.8v0.8h-0.8zM109.1 127.8h0.8v0.8h-0.8zM109.8 127.1h0.8v0.8h-0.8zM112.3 123.5h0.8v0.8h-0.8zM115.0 121.3h0.8v0.8h-0.8zM113.3 121.9h0.8v0.8h-0.8zM115.7 121.0h0.8v0.8h-0.8z" fill="#4a7dc1"/>
<path d="M62.2 117.9h0.8v0.8h-0.8zM62.9 119.7h0.8v0.8h-0.8zM63.1 119.2h0.8v0.8h-0.8zM60.9 122.2h0.8v0.8h-0.8zM62.5 121.2h0.8v0.8h-0.8zM66.4 113.2h0.8v0.8h-0.8zM64.9 115.8h0.8v0.8h-0.8zM65.9 112.9h0.8v0.8h-0.8zM65.3 113.3h0.8v0.8h-0.8zM65.7 112.2h0.8v0.8h-0.8zM68.9 110.4h0.8v0.8h-0.8zM67.5 110.6h0.8v0.8h-0.8zM71.0 108.6h0.8v0.8h-0.8zM70.8 108.2h0.8v0.8h-0.8zM71.4 109.2h0.8v0.8h-0.8zM77.2 110.3h0.8v0.8h-0.8zM77.4 110.5h0.8v0.8h-0.8zM77.9 110.8h0.8v0.8h-0.8zM75.7 109.7h0.8v0.8h-0.8zM75.2 109.7h0.8v0.8h-0.8zM76.6 108.8h0.8v0.8h-0.8zM79.2 111.3h0.8v0.8h-0.8zM81.6 113.4h0.8v0.8h-0.8zM81.7 113.5h0.8v0.8h-0.8zM82.8 112.8h0.8v0.8h-0.8zM83.2 114.2h0.8v0.8h-0.8zM86.1 115.0h0.8v0.8h-0.8zM87.7 117.0h0.8v0.8h-0.8zM86.9 115.7h0.8v0.8h-0.8zM85.9 116.4h0.8v0.8h-0.8zM84.4 114.4h0.8v0.8h-0.8zM86.4 115.9h0.8v0.8h-0.8zM87.5 116.5h0.8v0.8h-0.8zM90.8 119.8h0.8v0.8h-0.8zM92.5 122.6h0.8v0.8h-0.8zM91.7 121.8h0.8v0.8h-0.8zM90.4 120.5h0.8v0.8h-0.8zM91.1 126.2h0.8v0.8h-0.8zM90.9 127.8h0.8v0.8h-0.8zM90.9 128.1h0.8v0.8h-0.8zM91.9 124.7h0.8v0.8h-0.8zM89.2 130.7h0.8v0.8h-0.8zM88.9 129.9h0.8v0.8h-0.8zM87.9 130.6h0.8v0.8h-0.8zM88.8 128.7h0.8v0.8h-0.8zM87.2 129.1h0.8v0.8h-0.8zM80.3 132.5h0.8v0.8h-0.8zM81.7 132.0h0.8v0.8h-0.8zM84.5 131.9h0.8v0.8h-0.8zM80.3 133.0h0.8v0.8h-0.8zM79.1 131.9h0.8v0.8h-0.8zM84.9 131.1h0.8v0.8h-0.8zM77.1 132.9h0.8v0.8h-0.8zM75.0 132.5h0.8v0.8h-0.8zM76.9 132.1h0.8v0.8h-0.8zM76.4 131.7h0.8v0.8h-0.8zM75.1 132.3h0.8v0.8h-0.8zM74.1 133.7h0.8v0.8h-0.8zM74.3 131.3h0.8v0.8h-0.8zM76.9 132.3h0.8v0.8h-0.8zM67.1 129.7h0.8v0.8h-0.8zM65.0 129.4h0.8v0.8h-0.8zM66.8 129.4h0.8v0.8h-0.8zM67.5 130.3h0.8v0.8h-0.8zM67.1 129.9h0.8v0.8h-0.8zM63.7 129.4h0.8v0.8h-0.8zM61.3 124.1h0.8v0.8h-0.8zM61.8 126.7h0.8v0.8h-0.8zM63.9 127.3h0.8v0.8h-0.8zM63.6 127.9h0.8v0.8h-0.8z" fill="#4a7dc1"/>
<path d="M99.7 117.1h0.8v0.8h-0.8zM103.0 117.0h0.8v0.8h-0.8zM100.5 117.4h0.8v0.8h-0.8zM100.1 118.5h0.8v0.8h-0.8zM105.2 118.7h0.8v0.8h-0.8zM103.6 116.8h0.8v0.8h-0.8zM103.3 116.5h0.8v0.8h-0.8zM107.4 119.4h0.8v0.8h-0.8zM108.8 122.7h0.8v0.8h-0.8zM107.5 117.7h0.8v0.8h-0.8zM108.2 121.2h0.8v0.8h-0.8zM107.1 126.4h0.8v0.8h-0.8zM107.3 123.6h0.8v0.8h-0.8zM106.7 125.2h0.8v0.8h-0.8zM107.3 127.7h0.8v0.8h-0.8zM108.4 127.6h0.8v0.8h-0.8zM107.1 127.9h0.8v0.8h-0.8zM109.8 129.9h0.8v0.8h-0.8zM109.8 130.0h0.8v0.8h-0.8zM109.7 133.4h0.8v0.8h-0.8zM110.7 133.2h0.8v0.8h-0.8zM111.0 132.5h0.8v0.8h-0.8zM104.8 135.3h0.8v0.8h-0.8zM107.5 135.7h0.8v0.8h-0.8zM105.3 135.7h0.8v0.8h-0.8zM107.9 135.6h0.8v0.8h-0.8zM103.4 137.5h0.8v0.8h-0.8zM102.3 135.7h0.8v0.8h-0.8zM101.3 137.5h0.8v0.8h-0.8zM98.4 134.8h0.8v0.8h-0.8zM99.9 136.6h0.8v0.8h-0.8zM99.4 131.1h0.8v0.8h-0.8zM97.6 129.9h0.8v0.8h-0.8zM98.0 131.8h0.8v0.8h-0.8zM99.3 128.8h0.8v0.8h-0.8zM99.2 127.5h0.8v0.8h-0.8zM98.7 125.4h0.8v0.8h-0.8zM98.7 128.2h0.8v0.8h-0.8zM98.3 126.0h0.8v0.8h-0.8zM97.6 117.6h0.8v0.8h-0.8zM97.9 119.1h0.8v0.8h-0.8zM97.4 120.3h0.8v0.8h-0.8zM98.7 119.5h0.8v0.8h-0.8zM98.5 117.8h0.8v0.8h-0.8z" fill="#4a7dc1"/>
<path d="M123.1 101.8h0.8v0.8h-0.8zM120.4 103.9h0.8v0.8h-0.8zM124.5 101.0h0.8v0.8h-0.8zM123.1 101.1h0.8v0.8h-0.8zM126.0 100.2h0.8v0.8h-0.8zM125.4 99.7h0.8v0.8h-0.8zM129.3 99.7h0.8v0.8h-0.8zM129.2 100.5h0.8v0.8h-0.8zM133.9 102.8h0.8v0.8h-0.8zM132.3 103.1h0.8v0.8h-0.8zM133.2 102.1h0.8v0.8h-0.8zM132.3 101.3h0.8v0.8h-0.8zM133.7 103.8h0.8v0.8h-0.8zM132.8 104.2h0.8v0.8h-0.8zM133.1 105.0h0.8v0.8h-0.8zM133.0 106.3h0.8v0.8h-0.8zM133.5 109.2h0.8v0.8h-0.8zM128.4 111.9h0.8v0.8h-0.8zM131.9 108.6h0.8v0.8h-0.8zM130.5 111.5h0.8v0.8h-0.8zM132.1 111.0h0.8v0.8h-0.8zM128.9 112.4h0.8v0.8h-0.8zM126.4 113.8h0.8v0.8h-0.8zM127.8 111.5h0.8v0.8h-0.8zM126.0 111.8h0.8v0.8h-0.8zM124.8 113.2h0.8v0.8h-0.8zM121.1 108.6h0.8v0.8h-0.8zM120.8 107.3h0.8v0.8h-0.8zM121.3 111.1h0.8v0.8h-0.8zM122.9 111.7h0.8v0.8h-0.8zM119.1 107.9h0.8v0.8h-0.8zM121.2 105.6h0.8v0.8h-0.8zM121.4 105.5h0.8v0.8h-0.8z" fill="#4a7dc1"/>
<path d="M116.0 114.3h0.8v0.8h-0.8zM117.7 114.6h0.8v0.8h-0.8zM120.0 112.5h0.8v0.8h-0.8zM123.4 114.3h0.8v0.8h-0.8zM120.7 113.5h0.8v0.8h-0.8zM122.9 113.3h0.8v0.8h-0.8zM124.6 116.7h0.8v0.8h-0.8zM124.0 114.4h0.8v0.8h-0.8zM124.4 117.0h0.8v0.8h-0.8zM123.9 118.4h0.8v0.8h-0.8zM121.1 120.0h0.8v0.8h-0.8zM122.9 119.5h0.8v0.8h-0.8zM119.0 119.5h0.8v0.8h-0.8zM119.4 120.4h0.8v0.8h-0.8zM115.1 116.8h0.8v0.8h-0.8zM117.1 118.0h0.8v0.8h-0.8zM116.4 116.9h0.8v0.8h-0.8z" fill="#4a7dc1"/>
<path d="M126.8 114.8h0.8v0.8h-0.8zM123.8 116.0h0.8v0.8h-0.8zM126.6 114.3h0.8v0.8h-0.8zM130.9 115.4h0.8v0.8h-0.8zM131.1 116.5h0.8v0.8h-0.8zM128.9 116.0h0.8v0.8h-0.8zM132.8 117.5h0.8v0.8h-0.8zM133.4 117.4h0.8v0.8h-0.8zM132.9 117.0h0.8v0.8h-0.8zM134.0 120.2h0.8v0.8h-0.8zM132.8 122.8h0.8v0.8h-0.8zM132.0 124.3h0.8v0.8h-0.8zM132.7 122.1h0.8v0.8h-0.8zM128.3 125.5h0.8v0.8h-0.8zM127.5 123.0h0.8v0.8h-0.8zM128.5 124.8h0.8v0.8h-0.8zM129.6 125.1h0.8v0.8h-0.8zM125.5 122.3h0.8v0.8h-0.8zM123.8 121.7h0.8v0.8h-0.8zM125.1 121.6h0.8v0.8h-0.8zM124.5 120.9h0.8v0.8h-0.8zM124.5 117.0h0.8v0.8h-0.8zM124.1 117.1h0.8v0.8h-0.8z" fill="#4a7dc1"/>
<path d="M105.1 77.5h0.8v0.8h-0.8zM104.9 80.0h0.8v0.8h-0.8zM105.1 79.5h0.8v0.8h-0.8zM105.0 79.5h0.8v0.8h-0.8zM105.4 79.9h0.8v0.8h-0.8zM108.5 73.5h0.8v0.8h-0.8zM107.7 74.5h0.8v0.8h-0.8zM107.9 73.4h0.8v0.8h-0.8zM106.4 75.9h0.8v0.8h-0.8zM106.8 74.8h0.8v0.8h-0.8zM106.1 76.0h0.8v0.8h-0.8zM113.2 68.1h0.8v0.8h-0.8zM112.9 70.6h0.8v0.8h-0.8zM113.5 67.5h0.8v0.8h-0.8zM112.5 70.9h0.8v0.8h-0.8zM112.7 69.7h0.8v0.8h-0.8zM114.0 68.1h0.8v0.8h-0.8zM112.4 70.4h0.8v0.8h-0.8zM117.4 68.0h0.8v0.8h-0.8zM122.7 68.4h0.8v0.8h-0.8zM119.6 67.7h0.8v0.8h-0.8zM116.3 66.2h0.8v0.8h-0.8zM120.0 67.8h0.8v0.8h-0.8zM118.9 68.2h0.8v0.8h-0.8zM118.4 66.7h0.8v0.8h-0.8zM123.5 67.4h0.8v0.8h-0.8zM125.0 67.2h0.8v0.8h-0.8zM127.2 68.3h0.8v0.8h-0.8zM125.6 68.2h0.8v0.8h-0.8zM124.0 68.5h0.8v0.8h-0.8zM125.4 68.1h0.8v0.8h-0.8zM131.8 69.8h0.8v0.8h-0.8zM132.7 71.7h0.8v0.8h-0.8zM132.2 70.4h0.8v0.8h-0.8zM130.3 70.2h0.8v0.8h-0.8zM135.7 71.3h0.8v0.8h-0.8zM134.8 72.8h0.8v0.8h-0.8zM139.3 74.1h0.8v0.8h-0.8zM136.8 73.7h0.8v0.8h-0.8zM138.3 74.3h0.8v0.8h-0.8zM140.5 75.7h0.8v0.8h-0.8zM138.9 75.5h0.8v0.8h-0.8zM138.1 73.0h0.8v0.8h-0.8zM143.2 80.7h0.8v0.8h-0.8zM143.7 83.4h0.8v0.8h-0.8zM142.6 81.1h0.8v0.8h-0.8zM142.7 79.4h0.8v0.8h-0.8zM142.3 80.2h0.8v0.8h-0.8zM142.3 80.5h0.8v0.8h-0.8zM145.7 87.6h0.8v0.8h-0.8zM144.5 83.9h0.8v0.8h-0.8zM145.4 88.7h0.8v0.8h-0.8zM145.2 84.7h0.8v0.8h-0.8zM145.0 88.3h0.8v0.8h-0.8zM144.9 87.2h0.8v0.8h-0.8zM145.0 87.3h0.8v0.8h-0.8zM145.3 95.6h0.8v0.8h-0.8zM144.8 94.8h0.8v0.8h-0.8zM145.6 94.9h0.8v0.8h-0.8zM145.5 96.9h0.8v0.8h-0.8zM145.1 95.1h0.8v0.8h-0.8zM141.8 98.8h0.8v0.8h-0.8zM140.9 100.1h0.8v0.8h-0.8zM143.7 99.0h0.8v0.8h-0.8zM141.3 99.3h0.8v0.8h-0.8zM144.0 96.5h0.8v0.8h-0.8zM137.5 98.3h0.8v0.8h-0.8zM140.5 100.8h0.8v0.8h-0.8zM137.1 98.0h0.8v0.8h-0.8zM137.7 98.7h0.8v0.8h-0.8zM137.0 98.7h0.8v0.8h-0.8zM133.4 93.5h0.8v0.8h-0.8zM133.5 94.7h0.8v0.8h-0.8zM136.4 97.0h0.8v0.8h-0.8zM133.8 94.4h0.8v0.8h-0.8zM133.1 93.3h0.8v0.8h-0.8zM133.4 94.0h0.8v0.8h-0.8zM130.8 92.3h0.8v0.8h-0.8zM129.5 91.2h0.8v0.8h-0.8zM128.1 91.4h0.8v0.8h-0.8zM132.1 93.5h0.8v0.8h-0.8zM127.0 90.4h0.8v0.8h-0.8zM124.1 90.5h0.8v0.8h-0.8zM127.5 91.9h0.8v0.8h-0.8zM122.9 89.9h0.8v0.8h-0.8zM121.6 89.8h0.8v0.8h-0.8zM121.4 90.6h0.8v0.8h-0.8zM119.6 89.0h0.8v0.8h-0.8zM115.5 88.6h0.8v0.8h-0.8zM116.4 88.5h0.8v0.8h-0.8zM117.9 88.9h0.8v0.8h-0.8zM114.2 89.2h0.8v0.8h-0.8zM118.5 88.7h0.8v0.8h-0.8zM115.8 88.1h0.8v0.8h-0.8zM114.2 88.2h0.8v0.8h-0.8zM109.3 87.1h0.8v0.8h-0.8zM108.7 86.4h0.8v0.8h-0.8zM110.7 87.3h0.8v0.8h-0.8zM110.7 86.7h0.8v0.8h-0.8zM109.3 86.6h0.8v0.8h-0.8zM105.2 84.1h0.8v0.8h-0.8zM106.4 84.5h0.8v0.8h-0.8zM104.6 83.1h0.8v0.8h-0.8zM105.8 86.0h0.8v0.8h-0.8z" fill="#4a7dc1"/>
<path d="M39.5,73C39.83,71.25 41.33,67.83 42.5,66C43.67,64.17 45.17,63.03 46.5,62C47.83,60.97 49.15,59.97 50.5,59.8C51.85,59.63 53.8,60.17 54.6,61C55.4,61.83 55.63,63.38 55.3,64.8C54.97,66.22 53.23,67.8 52.6,69.5C51.97,71.2 52.02,73.33 51.5,75C50.98,76.67 50.67,78.92 49.5,79.5C48.33,80.08 46,79 44.5,78.5C43,78 41.33,77.42 40.5,76.5C39.67,75.58 39.17,74.75 39.5,73Z" fill="#e8821f" stroke="#e8821f" stroke-width="0.9" stroke-linejoin="round" />
<path d="M58.75,56.25C59.83,54.75 62.12,54.21 64,53.5C65.88,52.79 67.96,52.38 70,52C72.04,51.62 74.17,51.17 76.25,51.25C78.33,51.33 81.21,51.38 82.5,52.5C83.79,53.62 83.5,55.92 84,58C84.5,60.08 84.67,62.92 85.5,65C86.33,67.08 87.67,68.83 89,70.5C90.33,72.17 92.17,73.42 93.5,75C94.83,76.58 96.12,77.92 97,80C97.88,82.08 98.46,84.75 98.75,87.5C99.04,90.25 100,94.33 98.75,96.5C97.5,98.67 94.17,99.17 91.25,100.5C88.33,101.83 84.38,104.17 81.25,104.5C78.12,104.83 75.62,103.25 72.5,102.5C69.38,101.75 65.62,100.62 62.5,100C59.38,99.38 55.83,99.79 53.75,98.75C51.67,97.71 50.54,95.62 50,93.75C49.46,91.88 49.83,89.38 50.5,87.5C51.17,85.62 52.83,84.17 54,82.5C55.17,80.83 57.08,79.58 57.5,77.5C57.92,75.42 56.5,72.5 56.5,70C56.5,67.5 57.12,64.79 57.5,62.5C57.88,60.21 57.67,57.75 58.75,56.25Z" fill="#e8821f" stroke="#e8821f" stroke-width="0.9" stroke-linejoin="round" />
<path d="M91.5,53.5C92.48,52.05 93.83,50.58 95.5,49.8C97.17,49.02 99.42,49 101.5,48.8C103.58,48.6 106.17,48.7 108,48.6C109.83,48.5 110.67,48.4 112.5,48.2C114.33,48 117,47.5 119,47.4C121,47.3 123,47.2 124.5,47.6C126,48 127.22,48.65 128,49.8C128.78,50.95 129.15,52.83 129.2,54.5C129.25,56.17 129.17,58 128.3,59.8C127.43,61.6 125.88,64.1 124,65.3C122.12,66.5 119.17,65.92 117,67C114.83,68.08 112.7,69.97 111,71.8C109.3,73.63 107.87,76.1 106.8,78C105.73,79.9 105.2,82.37 104.6,83.2C104,84.03 103.6,83.45 103.2,83C102.8,82.55 102.63,81.58 102.2,80.5C101.77,79.42 101.38,77.83 100.6,76.5C99.82,75.17 98.77,73.78 97.5,72.5C96.23,71.22 94.22,70.18 93,68.8C91.78,67.42 90.77,65.92 90.2,64.2C89.63,62.48 89.38,60.28 89.6,58.5C89.82,56.72 90.52,54.95 91.5,53.5Z" fill="#4a7dc1" stroke="#4a7dc1" stroke-width="1.5" stroke-linejoin="round" />
<path d="M104.8,82.5C104.63,81.17 105.55,79.17 106.5,77.5C107.45,75.83 108.83,74.12 110.5,72.5C112.17,70.88 114.33,68.42 116.5,67.8C118.67,67.18 121.25,68.33 123.5,68.8C125.75,69.27 127.92,69.83 130,70.6C132.08,71.37 134.25,72.2 136,73.4C137.75,74.6 139.25,76.12 140.5,77.8C141.75,79.48 142.75,81.26 143.5,83.5C144.25,85.74 144.92,89.08 145,91.25C145.08,93.42 144.83,95.12 144,96.5C143.17,97.88 141.29,99.33 140,99.5C138.71,99.67 137.5,98.67 136.25,97.5C135,96.33 133.96,93.75 132.5,92.5C131.04,91.25 129.58,90.62 127.5,90C125.42,89.38 122.5,89.17 120,88.75C117.5,88.33 114.58,88.04 112.5,87.5C110.42,86.96 108.78,86.33 107.5,85.5C106.22,84.67 104.97,83.83 104.8,82.5Z" fill="#4a7dc1" stroke="#4a7dc1" stroke-width="1.5" stroke-linejoin="round" />
<path d="M81,104.8C83.53,103.05 95.68,99.13 98.9,97C102.12,94.87 100.02,93.58 100.3,92C100.58,90.42 100.22,88.8 100.6,87.5C100.98,86.2 101.62,84.7 102.6,84.2C103.58,83.7 105.18,84.12 106.5,84.5C107.82,84.88 109.67,85.5 110.5,86.5C111.33,87.5 111.75,89.28 111.5,90.5C111.25,91.72 108.92,92.88 109,93.8C109.08,94.72 111.58,94.63 112,96C112.42,97.37 111.7,99.67 111.5,102C111.3,104.33 110.95,107.5 110.8,110C110.65,112.5 111.4,115.52 110.6,117C109.8,118.48 107.97,118.73 106,118.9C104.03,119.07 101,118.57 98.75,118C96.5,117.43 94.38,116.58 92.5,115.5C90.62,114.42 88.96,112.83 87.5,111.5C86.04,110.17 84.83,108.62 83.75,107.5C82.67,106.38 78.47,106.55 81,104.8Z" fill="#4a7dc1" stroke="#4a7dc1" stroke-width="1.5" stroke-linejoin="round" />
<path d="M113.5,96C114.25,95.08 116.75,95.08 118,95.5C119.25,95.92 120.58,97.33 121,98.5C121.42,99.67 121.25,101.7 120.5,102.5C119.75,103.3 117.67,103.55 116.5,103.3C115.33,103.05 114,102.22 113.5,101C113,99.78 112.75,96.92 113.5,96Z" fill="#4a7dc1" stroke="#4a7dc1" stroke-width="1.5" stroke-linejoin="round" />
<path d="M116,121C117.08,121.08 117.95,123.25 119,124.5C120.05,125.75 122.8,127.75 122.3,128.5C121.8,129.25 118.05,129.17 116,129C113.95,128.83 110.58,128.33 110,127.5C109.42,126.67 111.5,125.08 112.5,124C113.5,122.92 114.92,120.92 116,121Z" fill="#4a7dc1" stroke="#4a7dc1" stroke-width="1.5" stroke-linejoin="round" />
<path d="M116.5,109.8C117.08,109.3 119.78,109.67 120.5,110.2C121.22,110.73 121.38,112.5 120.8,113C120.22,113.5 117.72,113.73 117,113.2C116.28,112.67 115.92,110.3 116.5,109.8Z" fill="#4a7dc1" stroke="#4a7dc1" stroke-width="1.5" stroke-linejoin="round" />
<path d="M62.5,123C62.5,121.27 63.33,119.02 64.2,117.3C65.07,115.58 66.35,114.05 67.7,112.7C69.05,111.35 70.57,109.45 72.3,109.2C74.03,108.95 76.37,110.23 78.1,111.2C79.83,112.17 80.97,113.63 82.7,115C84.43,116.37 87.15,118.07 88.5,119.4C89.85,120.73 90.62,121.62 90.8,123C90.98,124.38 90.57,126.43 89.6,127.7C88.63,128.97 86.92,129.93 85,130.6C83.08,131.27 80.6,131.7 78.1,131.7C75.6,131.7 72.32,131.27 70,130.6C67.68,129.93 65.45,128.97 64.2,127.7C62.95,126.43 62.5,124.73 62.5,123Z" fill="#4a7dc1" stroke="#4a7dc1" stroke-width="1.5" stroke-linejoin="round" />
<path d="M98.8,119C99.58,118.02 102.15,118.23 103.5,118.3C104.85,118.37 106.23,118.42 106.9,119.4C107.57,120.38 107.73,122.93 107.5,124.2C107.27,125.47 105.4,126.23 105.5,127C105.6,127.77 107.28,128.2 108.1,128.8C108.92,129.4 110.22,129.73 110.4,130.6C110.58,131.47 110.17,133.33 109.2,134C108.23,134.67 105.93,134.3 104.6,134.6C103.27,134.9 102.07,135.98 101.2,135.8C100.33,135.62 99.7,134.67 99.4,133.5C99.1,132.33 99.5,130.35 99.4,128.8C99.3,127.25 98.9,125.83 98.8,124.2C98.7,122.57 98.02,119.98 98.8,119Z" fill="#4a7dc1" stroke="#4a7dc1" stroke-width="1.5" stroke-linejoin="round" />
<path d="M121.5,104C122.13,102.92 123.75,101.53 125,101C126.25,100.47 127.75,100.38 129,100.8C130.25,101.22 132,102.22 132.5,103.5C133,104.78 132.75,107.17 132,108.5C131.25,109.83 129.42,111.08 128,111.5C126.58,111.92 124.63,111.67 123.5,111C122.37,110.33 121.53,108.67 121.2,107.5C120.87,106.33 120.87,105.08 121.5,104Z" fill="#4a7dc1" stroke="#4a7dc1" stroke-width="1.5" stroke-linejoin="round" />
<path d="M117.2,115.5C117.65,114.75 118.9,114.12 120,114C121.1,113.88 123.22,114.13 123.8,114.8C124.38,115.47 124.13,117.22 123.5,118C122.87,118.78 121.03,119.42 120,119.5C118.97,119.58 117.77,119.17 117.3,118.5C116.83,117.83 116.75,116.25 117.2,115.5Z" fill="#4a7dc1" stroke="#4a7dc1" stroke-width="1.5" stroke-linejoin="round" />
<path d="M124.6,117C125.1,116.18 126.85,115.6 128,115.6C129.15,115.6 130.62,116.27 131.5,117C132.38,117.73 133.38,118.92 133.3,120C133.22,121.08 132.05,123 131,123.5C129.95,124 128,123.5 127,123C126,122.5 125.4,121.5 125,120.5C124.6,119.5 124.1,117.82 124.6,117Z" fill="#4a7dc1" stroke="#4a7dc1" stroke-width="1.5" stroke-linejoin="round" />
<ellipse cx="108.5" cy="61.5" rx="1.6" ry="1.0" fill="#fff" fill-opacity="0.85"/>
<ellipse cx="111.5" cy="59.5" rx="1.3" ry="0.9" fill="#fff" fill-opacity="0.85"/>
<ellipse cx="113.8" cy="62.5" rx="1.2" ry="0.8" fill="#fff" fill-opacity="0.85"/>
<ellipse cx="110" cy="64.5" rx="1.0" ry="0.7" fill="#fff" fill-opacity="0.85"/>
<ellipse cx="106.5" cy="63.5" rx="0.8" ry="0.6" fill="#fff" fill-opacity="0.85"/>
<ellipse cx="113" cy="57.5" rx="0.8" ry="0.6" fill="#fff" fill-opacity="0.85"/>
<ellipse cx="95.5" cy="110.8" rx="3.2" ry="1.0" fill="#fff" fill-opacity="0.85"/>
<ellipse cx="103" cy="88" rx="0.9" ry="0.6" fill="#fff" fill-opacity="0.85"/>
<ellipse cx="106.8" cy="90.5" rx="0.7" ry="1.0" fill="#fff" fill-opacity="0.85"/>
<ellipse cx="101.5" cy="93" rx="0.6" ry="0.5" fill="#fff" fill-opacity="0.85"/>
<ellipse cx="108.5" cy="98.5" rx="0.6" ry="0.9" fill="#fff" fill-opacity="0.85"/>
<ellipse cx="104.2" cy="95.8" rx="0.5" ry="0.5" fill="#fff" fill-opacity="0.85"/>
<ellipse cx="109" cy="104" rx="0.5" ry="0.8" fill="#fff" fill-opacity="0.85"/>
<ellipse cx="100.2" cy="110.6" rx="2.2" ry="0.9" fill="#fff" fill-opacity="0.85"/>
<ellipse cx="91.5" cy="99.5" rx="0.7" ry="0.6" fill="#fff" fill-opacity="0.85"/>
<ellipse cx="104.5" cy="100" rx="0.8" ry="0.6" fill="#fff" fill-opacity="0.85"/>
<ellipse cx="107" cy="106" rx="0.6" ry="1.4" fill="#fff" fill-opacity="0.85"/>
<ellipse cx="102.5" cy="104.5" rx="0.6" ry="0.6" fill="#fff" fill-opacity="0.85"/>
</g>
<path d="M425.1,58.1C425.58,56.42 426.32,52.7 428,50.9C429.68,49.1 433.52,48.5 435.2,47.3C436.88,46.1 436.42,44.67 438.1,43.7C439.78,42.73 442.67,41.9 445.3,41.5C447.93,41.1 451.25,40.97 453.9,41.3C456.55,41.63 459.38,42.15 461.2,43.5C463.02,44.85 464.2,47.22 464.8,49.4C465.4,51.58 465.17,54.43 464.8,56.6C464.43,58.77 463.45,60.83 462.6,62.4C461.75,63.97 459.47,64.92 459.7,66C459.93,67.08 462.07,68.05 464,68.9C465.93,69.75 469.13,69.9 471.3,71.1C473.47,72.3 475.45,74.18 477,76.1C478.55,78.02 479.88,80.32 480.6,82.6C481.32,84.88 481.53,87.63 481.3,89.8C481.07,91.97 480.15,94.15 479.2,95.6C478.25,97.05 476.68,98.5 475.6,98.5C474.52,98.5 473.42,97.05 472.7,95.6C471.98,94.15 472.02,91.6 471.3,89.8C470.58,88 469.85,86 468.4,84.8C466.95,83.6 464.77,83.2 462.6,82.6C460.43,82 457.57,81.32 455.4,81.2C453.23,81.08 451.53,82.15 449.6,81.9C447.67,81.65 445.48,80.78 443.8,79.7C442.12,78.62 440.7,76.83 439.5,75.4C438.3,73.97 437.8,72.3 436.6,71.1C435.4,69.9 433.73,69.17 432.3,68.2C430.87,67.23 429.2,66.5 428,65.3C426.8,64.1 425.58,62.2 425.1,61C424.62,59.8 424.62,59.78 425.1,58.1Z" fill="#4a7dc1" />
<ellipse cx="446" cy="61" rx="1.8" ry="1.1" fill="#fff" fill-opacity="0.85"/>
<ellipse cx="449.5" cy="58.5" rx="1.4" ry="0.9" fill="#fff" fill-opacity="0.85"/>
<ellipse cx="451.5" cy="62.5" rx="1.2" ry="0.8" fill="#fff" fill-opacity="0.85"/>
<ellipse cx="447.5" cy="64.8" rx="1.0" ry="0.7" fill="#fff" fill-opacity="0.85"/>
<ellipse cx="444" cy="67" rx="0.8" ry="0.6" fill="#fff" fill-opacity="0.85"/>
<ellipse cx="452" cy="55.5" rx="0.8" ry="0.6" fill="#fff" fill-opacity="0.85"/>
<ellipse cx="448.5" cy="70.5" rx="0.7" ry="0.5" fill="#fff" fill-opacity="0.85"/>
<ellipse cx="443" cy="73" rx="0.6" ry="0.5" fill="#fff" fill-opacity="0.85"/>
<path d="M399,54C399.5,52.25 400.67,50.83 402,50C403.33,49.17 405.42,48.75 407,49C408.58,49.25 410.7,50.17 411.5,51.5C412.3,52.83 412.22,55.25 411.8,57C411.38,58.75 410.38,60.95 409,62C407.62,63.05 405.17,63.55 403.5,63.3C401.83,63.05 399.75,62.05 399,60.5C398.25,58.95 398.5,55.75 399,54Z" fill="#62a03a" />
<path d="M397,92C397.67,90.75 399.25,89.42 400.5,88.5C401.75,87.58 403.17,86.58 404.5,86.5C405.83,86.42 407.17,87.17 408.5,88C409.83,88.83 412,90.17 412.5,91.5C413,92.83 412.58,94.92 411.5,96C410.42,97.08 407.5,97.2 406,98C404.5,98.8 403.75,100.55 402.5,100.8C401.25,101.05 399.5,100.3 398.5,99.5C397.5,98.7 396.75,97.25 396.5,96C396.25,94.75 396.33,93.25 397,92Z" fill="#c0272d" />
<text x="370" y="50.9" font-size="8.6" fill="#111" font-weight="bold" textLength="38" lengthAdjust="spacingAndGlyphs" stroke="#111" stroke-width="0.35">Cluster 23</text>
<text x="367.5" y="107.2" font-size="8.6" fill="#111" font-weight="bold" textLength="38.5" lengthAdjust="spacingAndGlyphs" stroke="#111" stroke-width="0.35">Cluster 28</text>
<rect x="362.6" y="18.5" width="133.4" height="132.9" fill="none" stroke="#1a1a1a" stroke-width="1.15"/>
<line x1="359.5" y1="18.5" x2="362.6" y2="18.5" stroke="#1a1a1a" stroke-width="1.0" />
<line x1="362.6" y1="151.4" x2="362.6" y2="154.5" stroke="#1a1a1a" stroke-width="1.0" />
<line x1="359.5" y1="31.79" x2="362.6" y2="31.79" stroke="#1a1a1a" stroke-width="1.0" />
<line x1="375.94" y1="151.4" x2="375.94" y2="154.5" stroke="#1a1a1a" stroke-width="1.0" />
<line x1="359.5" y1="45.08" x2="362.6" y2="45.08" stroke="#1a1a1a" stroke-width="1.0" />
<line x1="389.28" y1="151.4" x2="389.28" y2="154.5" stroke="#1a1a1a" stroke-width="1.0" />
<line x1="359.5" y1="58.37" x2="362.6" y2="58.37" stroke="#1a1a1a" stroke-width="1.0" />
<line x1="402.62" y1="151.4" x2="402.62" y2="154.5" stroke="#1a1a1a" stroke-width="1.0" />
<line x1="359.5" y1="71.66" x2="362.6" y2="71.66" stroke="#1a1a1a" stroke-width="1.0" />
<line x1="415.96" y1="151.4" x2="415.96" y2="154.5" stroke="#1a1a1a" stroke-width="1.0" />
<line x1="359.5" y1="84.95" x2="362.6" y2="84.95" stroke="#1a1a1a" stroke-width="1.0" />
<line x1="429.3" y1="151.4" x2="429.3" y2="154.5" stroke="#1a1a1a" stroke-width="1.0" />
<line x1="359.5" y1="98.24" x2="362.6" y2="98.24" stroke="#1a1a1a" stroke-width="1.0" />
<line x1="442.64" y1="151.4" x2="442.64" y2="154.5" stroke="#1a1a1a" stroke-width="1.0" />
<line x1="359.5" y1="111.53" x2="362.6" y2="111.53" stroke="#1a1a1a" stroke-width="1.0" />
<line x1="455.98" y1="151.4" x2="455.98" y2="154.5" stroke="#1a1a1a" stroke-width="1.0" />
<line x1="359.5" y1="124.82" x2="362.6" y2="124.82" stroke="#1a1a1a" stroke-width="1.0" />
<line x1="469.32" y1="151.4" x2="469.32" y2="154.5" stroke="#1a1a1a" stroke-width="1.0" />
<line x1="359.5" y1="138.11" x2="362.6" y2="138.11" stroke="#1a1a1a" stroke-width="1.0" />
<line x1="482.66" y1="151.4" x2="482.66" y2="154.5" stroke="#1a1a1a" stroke-width="1.0" />
<line x1="359.5" y1="151.4" x2="362.6" y2="151.4" stroke="#1a1a1a" stroke-width="1.0" />
<line x1="496" y1="151.4" x2="496" y2="154.5" stroke="#1a1a1a" stroke-width="1.0" />
<text x="355.8" y="85.5" font-size="7.8" fill="#000" text-anchor="middle" textLength="15.3" lengthAdjust="spacingAndGlyphs" transform="rotate(-90 355.8 85.5)" stroke="#1a1a1a" stroke-width="0.3">tSNE2</text>
<text x="429" y="165.2" font-size="7.8" fill="#000" text-anchor="middle" textLength="15.3" lengthAdjust="spacingAndGlyphs" stroke="#1a1a1a" stroke-width="0.3">tSNE1</text>
<path d="M210.5 65.8h0.8v0.8h-0.8zM211.0 65.1h0.8v0.8h-0.8zM211.6 62.9h0.8v0.8h-0.8zM216.3 59.8h0.8v0.8h-0.8zM214.0 60.6h0.8v0.8h-0.8zM220.3 60.6h0.8v0.8h-0.8zM221.0 60.4h0.8v0.8h-0.8zM222.7 62.2h0.8v0.8h-0.8zM223.0 61.9h0.8v0.8h-0.8zM222.5 65.1h0.8v0.8h-0.8zM223.1 63.6h0.8v0.8h-0.8zM220.1 67.4h0.8v0.8h-0.8zM220.6 68.3h0.8v0.8h-0.8zM218.3 69.8h0.8v0.8h-0.8zM216.6 68.5h0.8v0.8h-0.8zM216.5 68.3h0.8v0.8h-0.8zM209.8 67.2h0.8v0.8h-0.8zM210.1 67.7h0.8v0.8h-0.8z" fill="#75a84f"/>
<path d="M205.6 71.5h0.8v0.8h-0.8zM205.9 73.4h0.8v0.8h-0.8zM205.7 71.4h0.8v0.8h-0.8zM210.8 69.1h0.8v0.8h-0.8zM208.9 68.4h0.8v0.8h-0.8zM215.7 67.4h0.8v0.8h-0.8zM217.4 68.6h0.8v0.8h-0.8zM214.2 67.5h0.8v0.8h-0.8zM212.9 67.6h0.8v0.8h-0.8zM218.6 69.5h0.8v0.8h-0.8zM219.7 70.6h0.8v0.8h-0.8zM220.2 72.6h0.8v0.8h-0.8zM219.6 74.8h0.8v0.8h-0.8zM218.3 78.9h0.8v0.8h-0.8zM218.2 79.2h0.8v0.8h-0.8zM217.9 77.8h0.8v0.8h-0.8zM215.7 81.2h0.8v0.8h-0.8zM215.0 82.1h0.8v0.8h-0.8zM214.8 81.9h0.8v0.8h-0.8zM209.8 78.1h0.8v0.8h-0.8zM206.3 77.3h0.8v0.8h-0.8zM209.5 79.0h0.8v0.8h-0.8zM205.4 74.0h0.8v0.8h-0.8z" fill="#6ac4f8"/>
<path d="M229.4 61.2h0.8v0.8h-0.8zM231.8 58.3h0.8v0.8h-0.8zM229.8 61.2h0.8v0.8h-0.8zM234.5 52.8h0.8v0.8h-0.8zM236.5 52.6h0.8v0.8h-0.8zM235.3 52.8h0.8v0.8h-0.8zM239.5 52.1h0.8v0.8h-0.8zM242.6 50.8h0.8v0.8h-0.8zM241.2 52.0h0.8v0.8h-0.8zM244.9 53.6h0.8v0.8h-0.8zM243.4 53.7h0.8v0.8h-0.8zM244.4 58.8h0.8v0.8h-0.8zM243.5 55.3h0.8v0.8h-0.8zM242.9 56.6h0.8v0.8h-0.8zM243.3 61.3h0.8v0.8h-0.8zM242.2 60.4h0.8v0.8h-0.8zM238.9 64.9h0.8v0.8h-0.8zM240.0 63.7h0.8v0.8h-0.8zM239.7 64.0h0.8v0.8h-0.8zM233.9 64.8h0.8v0.8h-0.8zM233.0 64.6h0.8v0.8h-0.8zM231.0 64.8h0.8v0.8h-0.8zM230.4 62.7h0.8v0.8h-0.8z" fill="#7b8c74"/>
<path d="M241.5 51.6h0.8v0.8h-0.8zM241.8 51.7h0.8v0.8h-0.8zM244.6 51.5h0.8v0.8h-0.8zM249.4 52.3h0.8v0.8h-0.8zM246.9 52.1h0.8v0.8h-0.8zM250.1 52.3h0.8v0.8h-0.8zM252.2 55.2h0.8v0.8h-0.8zM252.0 53.1h0.8v0.8h-0.8zM252.8 55.8h0.8v0.8h-0.8zM252.7 62.0h0.8v0.8h-0.8zM253.3 61.1h0.8v0.8h-0.8zM251.2 64.3h0.8v0.8h-0.8zM252.7 58.9h0.8v0.8h-0.8zM251.9 66.9h0.8v0.8h-0.8zM251.3 65.2h0.8v0.8h-0.8zM246.9 67.4h0.8v0.8h-0.8zM245.4 65.9h0.8v0.8h-0.8zM245.1 66.3h0.8v0.8h-0.8zM241.8 66.0h0.8v0.8h-0.8zM242.9 64.6h0.8v0.8h-0.8zM240.9 61.1h0.8v0.8h-0.8zM240.1 62.2h0.8v0.8h-0.8zM240.2 53.3h0.8v0.8h-0.8zM240.4 51.6h0.8v0.8h-0.8zM240.4 53.0h0.8v0.8h-0.8zM239.9 52.6h0.8v0.8h-0.8z" fill="#b2f25e"/>
<path d="M225.4 67.8h0.8v0.8h-0.8zM225.1 67.8h0.8v0.8h-0.8zM226.7 63.9h0.8v0.8h-0.8zM228.8 63.2h0.8v0.8h-0.8zM229.5 62.5h0.8v0.8h-0.8zM229.0 61.1h0.8v0.8h-0.8zM235.6 63.2h0.8v0.8h-0.8zM234.3 61.9h0.8v0.8h-0.8zM232.3 61.6h0.8v0.8h-0.8zM237.2 65.0h0.8v0.8h-0.8zM237.3 68.1h0.8v0.8h-0.8zM236.7 64.5h0.8v0.8h-0.8zM240.6 70.5h0.8v0.8h-0.8zM239.8 70.0h0.8v0.8h-0.8zM241.5 72.2h0.8v0.8h-0.8zM239.3 74.5h0.8v0.8h-0.8zM238.5 76.1h0.8v0.8h-0.8zM236.3 77.6h0.8v0.8h-0.8zM238.1 77.4h0.8v0.8h-0.8zM235.6 79.3h0.8v0.8h-0.8zM231.0 81.2h0.8v0.8h-0.8zM230.2 80.8h0.8v0.8h-0.8zM228.2 81.7h0.8v0.8h-0.8zM226.9 81.0h0.8v0.8h-0.8zM229.2 81.3h0.8v0.8h-0.8zM223.1 78.4h0.8v0.8h-0.8zM223.6 77.1h0.8v0.8h-0.8zM224.0 77.1h0.8v0.8h-0.8zM224.0 75.1h0.8v0.8h-0.8zM222.5 76.1h0.8v0.8h-0.8zM223.9 75.9h0.8v0.8h-0.8zM223.1 73.4h0.8v0.8h-0.8z" fill="#c879c8"/>
<path d="M236.0 65.2h0.8v0.8h-0.8zM236.6 64.1h0.8v0.8h-0.8zM240.6 63.6h0.8v0.8h-0.8zM240.9 64.0h0.8v0.8h-0.8zM241.6 64.2h0.8v0.8h-0.8zM246.7 64.9h0.8v0.8h-0.8zM245.1 65.5h0.8v0.8h-0.8zM245.2 64.4h0.8v0.8h-0.8zM252.1 67.0h0.8v0.8h-0.8zM250.3 67.5h0.8v0.8h-0.8zM252.1 67.6h0.8v0.8h-0.8zM254.6 70.1h0.8v0.8h-0.8zM255.0 71.1h0.8v0.8h-0.8zM252.6 73.5h0.8v0.8h-0.8zM251.5 73.9h0.8v0.8h-0.8zM250.7 75.8h0.8v0.8h-0.8zM249.5 75.8h0.8v0.8h-0.8zM249.0 75.9h0.8v0.8h-0.8zM246.2 78.7h0.8v0.8h-0.8zM243.4 79.4h0.8v0.8h-0.8zM247.6 77.8h0.8v0.8h-0.8zM237.6 79.8h0.8v0.8h-0.8zM242.2 80.7h0.8v0.8h-0.8zM240.7 79.4h0.8v0.8h-0.8zM236.2 78.9h0.8v0.8h-0.8zM237.6 79.6h0.8v0.8h-0.8zM239.3 74.4h0.8v0.8h-0.8zM237.2 74.9h0.8v0.8h-0.8zM238.4 73.2h0.8v0.8h-0.8zM236.4 69.7h0.8v0.8h-0.8zM237.0 70.1h0.8v0.8h-0.8zM235.6 68.6h0.8v0.8h-0.8zM235.9 67.6h0.8v0.8h-0.8z" fill="#6a4a44"/>
<path d="M255.5 71.5h0.8v0.8h-0.8zM255.3 71.3h0.8v0.8h-0.8zM258.9 72.5h0.8v0.8h-0.8zM257.8 71.4h0.8v0.8h-0.8zM261.0 72.6h0.8v0.8h-0.8zM264.2 75.7h0.8v0.8h-0.8zM261.2 73.2h0.8v0.8h-0.8zM265.2 78.6h0.8v0.8h-0.8zM266.0 80.4h0.8v0.8h-0.8zM264.5 84.4h0.8v0.8h-0.8zM264.5 84.6h0.8v0.8h-0.8zM263.8 86.2h0.8v0.8h-0.8zM258.3 85.1h0.8v0.8h-0.8zM261.3 87.0h0.8v0.8h-0.8zM260.3 86.6h0.8v0.8h-0.8zM255.3 83.8h0.8v0.8h-0.8zM255.7 84.3h0.8v0.8h-0.8zM251.7 79.7h0.8v0.8h-0.8zM252.5 81.7h0.8v0.8h-0.8zM251.7 77.4h0.8v0.8h-0.8zM253.1 73.9h0.8v0.8h-0.8zM253.0 76.0h0.8v0.8h-0.8z" fill="#e8988a"/>
<path d="M221.8 82.9h0.8v0.8h-0.8zM222.6 81.2h0.8v0.8h-0.8zM224.2 81.7h0.8v0.8h-0.8zM223.1 82.0h0.8v0.8h-0.8zM228.5 78.4h0.8v0.8h-0.8zM229.3 78.0h0.8v0.8h-0.8zM229.2 77.0h0.8v0.8h-0.8zM229.9 78.2h0.8v0.8h-0.8zM236.9 78.3h0.8v0.8h-0.8zM233.7 76.2h0.8v0.8h-0.8zM237.8 78.2h0.8v0.8h-0.8zM239.2 79.2h0.8v0.8h-0.8zM238.9 78.3h0.8v0.8h-0.8zM239.5 82.7h0.8v0.8h-0.8zM238.8 85.9h0.8v0.8h-0.8zM238.7 86.8h0.8v0.8h-0.8zM237.3 90.3h0.8v0.8h-0.8zM237.2 91.6h0.8v0.8h-0.8zM235.5 92.6h0.8v0.8h-0.8zM229.4 90.9h0.8v0.8h-0.8zM229.1 90.2h0.8v0.8h-0.8zM231.9 92.3h0.8v0.8h-0.8zM227.4 91.3h0.8v0.8h-0.8zM225.1 88.9h0.8v0.8h-0.8zM227.7 90.6h0.8v0.8h-0.8zM225.4 88.1h0.8v0.8h-0.8zM222.4 83.6h0.8v0.8h-0.8zM223.3 84.4h0.8v0.8h-0.8z" fill="#2f5e3e"/>
<path d="M236.7 80.4h0.8v0.8h-0.8zM238.2 79.9h0.8v0.8h-0.8zM242.6 77.4h0.8v0.8h-0.8zM242.6 77.7h0.8v0.8h-0.8zM244.5 77.4h0.8v0.8h-0.8zM242.7 77.6h0.8v0.8h-0.8zM248.9 82.4h0.8v0.8h-0.8zM248.1 81.0h0.8v0.8h-0.8zM251.5 86.6h0.8v0.8h-0.8zM249.7 84.7h0.8v0.8h-0.8zM251.9 85.7h0.8v0.8h-0.8zM250.7 92.0h0.8v0.8h-0.8zM251.4 88.4h0.8v0.8h-0.8zM251.9 92.4h0.8v0.8h-0.8zM249.7 94.7h0.8v0.8h-0.8zM251.1 93.3h0.8v0.8h-0.8zM248.3 94.3h0.8v0.8h-0.8zM243.5 91.9h0.8v0.8h-0.8zM245.3 94.1h0.8v0.8h-0.8zM241.5 91.1h0.8v0.8h-0.8zM240.4 90.7h0.8v0.8h-0.8zM241.2 90.2h0.8v0.8h-0.8zM237.4 86.4h0.8v0.8h-0.8zM238.3 86.1h0.8v0.8h-0.8zM238.4 89.0h0.8v0.8h-0.8z" fill="#15204e"/>
<path d="M248.6 72.4h0.8v0.8h-0.8zM249.4 71.2h0.8v0.8h-0.8zM251.6 73.5h0.8v0.8h-0.8zM251.1 73.1h0.8v0.8h-0.8zM254.2 76.5h0.8v0.8h-0.8zM255.8 78.1h0.8v0.8h-0.8zM256.1 78.5h0.8v0.8h-0.8zM255.7 79.6h0.8v0.8h-0.8zM255.6 83.1h0.8v0.8h-0.8zM254.8 82.1h0.8v0.8h-0.8zM255.1 85.9h0.8v0.8h-0.8zM254.3 85.0h0.8v0.8h-0.8zM251.1 88.6h0.8v0.8h-0.8zM252.3 88.7h0.8v0.8h-0.8zM247.9 84.5h0.8v0.8h-0.8zM247.3 84.2h0.8v0.8h-0.8zM245.7 80.9h0.8v0.8h-0.8zM244.6 79.5h0.8v0.8h-0.8zM244.3 77.0h0.8v0.8h-0.8zM244.5 75.8h0.8v0.8h-0.8zM245.2 78.3h0.8v0.8h-0.8z" fill="#000080"/>
<path d="M218.9 85.6h0.8v0.8h-0.8zM218.2 85.2h0.8v0.8h-0.8zM216.0 86.7h0.8v0.8h-0.8zM221.0 85.2h0.8v0.8h-0.8zM220.9 84.1h0.8v0.8h-0.8zM224.3 85.2h0.8v0.8h-0.8zM225.8 85.9h0.8v0.8h-0.8zM227.3 87.5h0.8v0.8h-0.8zM228.6 89.3h0.8v0.8h-0.8zM228.5 88.4h0.8v0.8h-0.8zM232.0 96.4h0.8v0.8h-0.8zM229.6 92.1h0.8v0.8h-0.8zM231.2 97.0h0.8v0.8h-0.8zM231.6 98.0h0.8v0.8h-0.8zM229.5 100.0h0.8v0.8h-0.8zM230.2 99.5h0.8v0.8h-0.8zM229.0 100.9h0.8v0.8h-0.8zM226.8 101.0h0.8v0.8h-0.8zM224.8 101.9h0.8v0.8h-0.8zM223.9 99.9h0.8v0.8h-0.8zM224.5 99.9h0.8v0.8h-0.8zM219.9 94.9h0.8v0.8h-0.8zM220.5 96.8h0.8v0.8h-0.8zM218.9 95.5h0.8v0.8h-0.8zM216.3 92.8h0.8v0.8h-0.8zM217.4 92.0h0.8v0.8h-0.8zM216.5 91.1h0.8v0.8h-0.8z" fill="#e27aa3"/>
<path d="M231.4 88.1h0.8v0.8h-0.8zM231.7 88.9h0.8v0.8h-0.8zM231.3 90.4h0.8v0.8h-0.8zM236.2 87.3h0.8v0.8h-0.8zM234.7 87.1h0.8v0.8h-0.8zM237.2 87.6h0.8v0.8h-0.8zM238.4 88.6h0.8v0.8h-0.8zM239.9 88.1h0.8v0.8h-0.8zM242.7 89.4h0.8v0.8h-0.8zM243.9 92.1h0.8v0.8h-0.8zM243.6 92.4h0.8v0.8h-0.8zM244.9 92.0h0.8v0.8h-0.8zM245.8 97.2h0.8v0.8h-0.8zM245.0 98.2h0.8v0.8h-0.8zM241.4 100.4h0.8v0.8h-0.8zM240.0 100.0h0.8v0.8h-0.8zM239.8 100.3h0.8v0.8h-0.8zM235.7 100.7h0.8v0.8h-0.8zM238.7 101.4h0.8v0.8h-0.8zM235.2 100.9h0.8v0.8h-0.8zM233.2 99.4h0.8v0.8h-0.8zM230.9 97.6h0.8v0.8h-0.8zM232.8 99.9h0.8v0.8h-0.8zM229.5 95.2h0.8v0.8h-0.8zM229.1 92.9h0.8v0.8h-0.8zM228.9 94.6h0.8v0.8h-0.8z" fill="#5cb38a"/>
<path d="M238.6 94.9h0.8v0.8h-0.8zM236.6 94.9h0.8v0.8h-0.8zM242.6 92.3h0.8v0.8h-0.8zM240.8 92.5h0.8v0.8h-0.8zM248.4 92.1h0.8v0.8h-0.8zM243.6 91.9h0.8v0.8h-0.8zM246.1 93.3h0.8v0.8h-0.8zM250.2 94.4h0.8v0.8h-0.8zM251.1 93.2h0.8v0.8h-0.8zM249.5 98.4h0.8v0.8h-0.8zM252.0 96.3h0.8v0.8h-0.8zM248.8 103.5h0.8v0.8h-0.8zM249.4 100.4h0.8v0.8h-0.8zM249.8 102.7h0.8v0.8h-0.8zM246.3 105.9h0.8v0.8h-0.8zM246.6 104.8h0.8v0.8h-0.8zM242.0 105.5h0.8v0.8h-0.8zM239.9 105.7h0.8v0.8h-0.8zM243.7 105.9h0.8v0.8h-0.8zM239.4 105.1h0.8v0.8h-0.8zM238.5 105.8h0.8v0.8h-0.8zM238.4 104.2h0.8v0.8h-0.8zM235.4 98.7h0.8v0.8h-0.8zM235.9 97.5h0.8v0.8h-0.8z" fill="#bb9570"/>
<path d="M250.8 86.4h0.8v0.8h-0.8zM252.3 87.4h0.8v0.8h-0.8zM252.4 86.5h0.8v0.8h-0.8zM258.3 82.8h0.8v0.8h-0.8zM254.0 83.8h0.8v0.8h-0.8zM255.0 83.7h0.8v0.8h-0.8zM261.7 85.0h0.8v0.8h-0.8zM261.3 84.9h0.8v0.8h-0.8zM263.6 85.7h0.8v0.8h-0.8zM265.0 89.2h0.8v0.8h-0.8zM264.9 87.5h0.8v0.8h-0.8zM262.4 93.5h0.8v0.8h-0.8zM264.0 90.5h0.8v0.8h-0.8zM260.6 95.7h0.8v0.8h-0.8zM261.6 94.5h0.8v0.8h-0.8zM259.3 96.9h0.8v0.8h-0.8zM259.0 99.3h0.8v0.8h-0.8zM255.8 98.8h0.8v0.8h-0.8zM254.8 98.1h0.8v0.8h-0.8zM249.7 95.6h0.8v0.8h-0.8zM250.9 94.7h0.8v0.8h-0.8zM250.7 88.6h0.8v0.8h-0.8zM250.5 92.7h0.8v0.8h-0.8zM250.6 89.8h0.8v0.8h-0.8z" fill="#e98a2d"/>
<path d="M258.3 93.3h0.8v0.8h-0.8zM259.7 92.9h0.8v0.8h-0.8zM260.3 92.3h0.8v0.8h-0.8zM259.5 93.0h0.8v0.8h-0.8zM263.1 89.3h0.8v0.8h-0.8zM264.7 91.7h0.8v0.8h-0.8zM265.1 90.2h0.8v0.8h-0.8zM266.5 94.1h0.8v0.8h-0.8zM267.2 94.7h0.8v0.8h-0.8zM267.3 95.6h0.8v0.8h-0.8zM267.8 98.5h0.8v0.8h-0.8zM267.4 99.5h0.8v0.8h-0.8zM267.4 102.3h0.8v0.8h-0.8zM267.1 104.2h0.8v0.8h-0.8zM266.0 105.4h0.8v0.8h-0.8zM266.4 105.5h0.8v0.8h-0.8zM262.7 106.0h0.8v0.8h-0.8zM260.3 105.3h0.8v0.8h-0.8zM257.9 104.9h0.8v0.8h-0.8zM256.9 102.2h0.8v0.8h-0.8zM257.3 97.1h0.8v0.8h-0.8zM256.3 99.9h0.8v0.8h-0.8z" fill="#8a6154"/>
<path d="M249.3 98.3h0.8v0.8h-0.8zM251.5 95.4h0.8v0.8h-0.8zM248.5 98.2h0.8v0.8h-0.8zM256.0 98.0h0.8v0.8h-0.8zM257.5 97.2h0.8v0.8h-0.8zM256.7 98.1h0.8v0.8h-0.8zM260.0 104.0h0.8v0.8h-0.8zM260.5 101.6h0.8v0.8h-0.8zM259.5 103.4h0.8v0.8h-0.8zM259.8 105.1h0.8v0.8h-0.8zM259.4 106.0h0.8v0.8h-0.8zM259.3 107.5h0.8v0.8h-0.8zM257.1 110.6h0.8v0.8h-0.8zM257.8 110.4h0.8v0.8h-0.8zM251.5 109.5h0.8v0.8h-0.8zM252.0 109.7h0.8v0.8h-0.8zM250.0 109.6h0.8v0.8h-0.8zM247.0 104.8h0.8v0.8h-0.8zM248.3 106.9h0.8v0.8h-0.8zM246.6 105.7h0.8v0.8h-0.8zM247.9 101.4h0.8v0.8h-0.8zM246.7 101.0h0.8v0.8h-0.8zM246.9 99.9h0.8v0.8h-0.8z" fill="#b58f1c"/>
<path d="M255.5 105.6h0.8v0.8h-0.8zM253.6 108.8h0.8v0.8h-0.8zM255.4 108.2h0.8v0.8h-0.8zM257.9 105.8h0.8v0.8h-0.8zM258.3 105.3h0.8v0.8h-0.8zM256.2 105.8h0.8v0.8h-0.8zM257.3 106.4h0.8v0.8h-0.8zM264.4 102.8h0.8v0.8h-0.8zM265.4 103.9h0.8v0.8h-0.8zM266.8 104.1h0.8v0.8h-0.8zM268.9 106.6h0.8v0.8h-0.8zM271.8 107.4h0.8v0.8h-0.8zM270.9 109.0h0.8v0.8h-0.8zM271.2 112.2h0.8v0.8h-0.8zM269.8 113.0h0.8v0.8h-0.8zM269.0 113.0h0.8v0.8h-0.8zM266.5 115.4h0.8v0.8h-0.8zM264.8 116.2h0.8v0.8h-0.8zM264.0 114.9h0.8v0.8h-0.8zM261.8 115.5h0.8v0.8h-0.8zM261.5 115.2h0.8v0.8h-0.8zM261.8 115.2h0.8v0.8h-0.8zM255.5 114.0h0.8v0.8h-0.8zM255.7 111.7h0.8v0.8h-0.8zM255.5 112.8h0.8v0.8h-0.8z" fill="#8b8b8b"/>
<path d="M269.8 93.0h0.8v0.8h-0.8zM270.1 91.3h0.8v0.8h-0.8zM272.6 93.0h0.8v0.8h-0.8zM271.2 92.1h0.8v0.8h-0.8zM278.5 94.6h0.8v0.8h-0.8zM277.9 94.9h0.8v0.8h-0.8zM279.4 99.6h0.8v0.8h-0.8zM279.1 97.2h0.8v0.8h-0.8zM278.4 97.8h0.8v0.8h-0.8zM279.0 102.2h0.8v0.8h-0.8zM278.8 101.5h0.8v0.8h-0.8zM278.7 102.1h0.8v0.8h-0.8zM275.6 107.5h0.8v0.8h-0.8zM276.6 106.1h0.8v0.8h-0.8zM270.6 109.7h0.8v0.8h-0.8zM272.0 109.2h0.8v0.8h-0.8zM270.0 110.4h0.8v0.8h-0.8zM269.9 109.8h0.8v0.8h-0.8zM269.1 108.9h0.8v0.8h-0.8zM266.5 99.7h0.8v0.8h-0.8zM266.5 99.5h0.8v0.8h-0.8zM267.9 104.7h0.8v0.8h-0.8zM267.7 95.2h0.8v0.8h-0.8zM267.3 94.8h0.8v0.8h-0.8zM266.9 97.4h0.8v0.8h-0.8z" fill="#88f2f8"/>
<path d="M268.0 85.6h0.8v0.8h-0.8zM268.5 85.3h0.8v0.8h-0.8zM273.6 83.0h0.8v0.8h-0.8zM275.8 83.5h0.8v0.8h-0.8zM277.2 83.9h0.8v0.8h-0.8zM277.2 85.1h0.8v0.8h-0.8zM277.5 90.6h0.8v0.8h-0.8zM279.2 90.7h0.8v0.8h-0.8zM272.2 93.1h0.8v0.8h-0.8zM276.4 93.3h0.8v0.8h-0.8zM270.0 93.5h0.8v0.8h-0.8zM271.7 93.7h0.8v0.8h-0.8zM269.2 90.0h0.8v0.8h-0.8zM268.9 88.2h0.8v0.8h-0.8zM268.8 86.4h0.8v0.8h-0.8z" fill="#4e8d9b"/>
<path d="M267.5 111.8h0.8v0.8h-0.8zM271.2 108.4h0.8v0.8h-0.8zM272.8 107.1h0.8v0.8h-0.8zM273.2 107.7h0.8v0.8h-0.8zM271.3 108.5h0.8v0.8h-0.8zM277.9 104.4h0.8v0.8h-0.8zM275.9 105.0h0.8v0.8h-0.8zM278.9 110.1h0.8v0.8h-0.8zM278.4 105.5h0.8v0.8h-0.8zM278.1 105.0h0.8v0.8h-0.8zM279.2 112.3h0.8v0.8h-0.8zM277.9 115.8h0.8v0.8h-0.8zM278.7 114.4h0.8v0.8h-0.8zM277.0 116.4h0.8v0.8h-0.8zM277.2 116.9h0.8v0.8h-0.8zM272.3 120.5h0.8v0.8h-0.8zM270.9 120.4h0.8v0.8h-0.8zM271.0 120.5h0.8v0.8h-0.8zM267.3 118.3h0.8v0.8h-0.8zM268.7 119.7h0.8v0.8h-0.8zM267.1 112.8h0.8v0.8h-0.8zM266.2 115.7h0.8v0.8h-0.8zM266.7 113.0h0.8v0.8h-0.8z" fill="#3e72be"/>
<path d="M267.6 45.0h0.8v0.8h-0.8zM264.5 49.4h0.8v0.8h-0.8zM267.4 46.9h0.8v0.8h-0.8zM269.6 45.4h0.8v0.8h-0.8zM271.3 44.8h0.8v0.8h-0.8zM268.4 45.4h0.8v0.8h-0.8zM275.9 44.5h0.8v0.8h-0.8zM275.0 44.6h0.8v0.8h-0.8zM276.0 46.4h0.8v0.8h-0.8zM276.8 48.7h0.8v0.8h-0.8zM275.6 51.2h0.8v0.8h-0.8zM274.3 53.6h0.8v0.8h-0.8zM270.0 56.4h0.8v0.8h-0.8zM269.8 57.0h0.8v0.8h-0.8zM266.2 55.9h0.8v0.8h-0.8zM269.8 56.4h0.8v0.8h-0.8zM265.8 54.1h0.8v0.8h-0.8zM266.7 54.7h0.8v0.8h-0.8zM265.9 49.8h0.8v0.8h-0.8z" fill="#b5b8f8"/>
<path d="M274.9 45.6h0.8v0.8h-0.8zM275.6 44.9h0.8v0.8h-0.8zM276.2 43.6h0.8v0.8h-0.8zM278.8 43.9h0.8v0.8h-0.8zM281.6 43.3h0.8v0.8h-0.8zM282.4 43.7h0.8v0.8h-0.8zM282.1 43.8h0.8v0.8h-0.8zM284.1 45.7h0.8v0.8h-0.8zM284.6 46.1h0.8v0.8h-0.8zM283.7 47.6h0.8v0.8h-0.8zM284.8 53.6h0.8v0.8h-0.8zM285.4 52.1h0.8v0.8h-0.8zM284.0 58.4h0.8v0.8h-0.8zM284.9 57.8h0.8v0.8h-0.8zM284.5 56.7h0.8v0.8h-0.8zM285.2 61.2h0.8v0.8h-0.8zM283.8 61.2h0.8v0.8h-0.8zM277.1 59.7h0.8v0.8h-0.8zM276.3 59.8h0.8v0.8h-0.8zM278.6 59.8h0.8v0.8h-0.8zM271.6 57.0h0.8v0.8h-0.8zM272.3 56.5h0.8v0.8h-0.8zM272.1 54.0h0.8v0.8h-0.8zM273.2 54.1h0.8v0.8h-0.8zM274.2 46.5h0.8v0.8h-0.8zM273.9 50.9h0.8v0.8h-0.8zM273.7 48.4h0.8v0.8h-0.8z" fill="#c83636"/>
<path d="M282.0 42.7h0.8v0.8h-0.8zM285.9 42.6h0.8v0.8h-0.8zM290.1 43.9h0.8v0.8h-0.8zM288.5 44.0h0.8v0.8h-0.8zM289.4 44.6h0.8v0.8h-0.8zM293.3 45.1h0.8v0.8h-0.8zM293.2 46.8h0.8v0.8h-0.8zM295.8 48.6h0.8v0.8h-0.8zM296.7 51.6h0.8v0.8h-0.8zM293.7 54.1h0.8v0.8h-0.8zM294.7 52.7h0.8v0.8h-0.8zM289.3 53.6h0.8v0.8h-0.8zM291.6 54.0h0.8v0.8h-0.8zM286.7 54.1h0.8v0.8h-0.8zM285.2 54.4h0.8v0.8h-0.8zM283.2 52.1h0.8v0.8h-0.8zM283.8 52.9h0.8v0.8h-0.8zM281.0 49.0h0.8v0.8h-0.8zM281.7 48.5h0.8v0.8h-0.8zM281.6 46.4h0.8v0.8h-0.8z" fill="#f8e61a"/>
<path d="M285.3 53.4h0.8v0.8h-0.8zM285.0 53.5h0.8v0.8h-0.8zM293.4 52.2h0.8v0.8h-0.8zM294.7 51.8h0.8v0.8h-0.8zM292.3 52.1h0.8v0.8h-0.8zM293.2 52.1h0.8v0.8h-0.8zM296.7 53.5h0.8v0.8h-0.8zM294.9 52.1h0.8v0.8h-0.8zM296.7 58.1h0.8v0.8h-0.8zM295.9 56.5h0.8v0.8h-0.8zM296.5 58.1h0.8v0.8h-0.8zM295.3 61.7h0.8v0.8h-0.8zM296.2 60.3h0.8v0.8h-0.8zM290.3 64.2h0.8v0.8h-0.8zM291.3 63.6h0.8v0.8h-0.8zM287.9 64.2h0.8v0.8h-0.8zM284.3 65.5h0.8v0.8h-0.8zM282.9 61.1h0.8v0.8h-0.8zM282.5 60.7h0.8v0.8h-0.8zM283.2 58.3h0.8v0.8h-0.8zM281.7 60.3h0.8v0.8h-0.8zM282.8 55.7h0.8v0.8h-0.8z" fill="#5c1c10"/>
<path d="M256.7 56.3h0.8v0.8h-0.8zM256.6 57.5h0.8v0.8h-0.8zM257.3 56.9h0.8v0.8h-0.8zM259.8 51.3h0.8v0.8h-0.8zM262.0 51.2h0.8v0.8h-0.8zM268.0 53.4h0.8v0.8h-0.8zM266.2 52.8h0.8v0.8h-0.8zM264.8 52.5h0.8v0.8h-0.8zM271.5 56.5h0.8v0.8h-0.8zM268.9 54.2h0.8v0.8h-0.8zM269.5 55.3h0.8v0.8h-0.8zM271.3 58.5h0.8v0.8h-0.8zM270.7 58.0h0.8v0.8h-0.8zM268.4 62.5h0.8v0.8h-0.8zM268.8 60.1h0.8v0.8h-0.8zM267.2 64.2h0.8v0.8h-0.8zM266.2 64.0h0.8v0.8h-0.8zM261.3 61.7h0.8v0.8h-0.8zM260.1 61.7h0.8v0.8h-0.8zM258.5 61.3h0.8v0.8h-0.8zM256.9 58.5h0.8v0.8h-0.8zM257.7 59.4h0.8v0.8h-0.8z" fill="#4a7cc0"/>
<path d="M257.0 58.3h0.8v0.8h-0.8zM254.6 60.2h0.8v0.8h-0.8zM258.9 58.5h0.8v0.8h-0.8zM259.2 58.6h0.8v0.8h-0.8zM259.5 58.3h0.8v0.8h-0.8zM265.5 62.3h0.8v0.8h-0.8zM266.1 61.2h0.8v0.8h-0.8zM262.8 60.1h0.8v0.8h-0.8zM268.5 62.8h0.8v0.8h-0.8zM268.3 65.3h0.8v0.8h-0.8zM267.5 69.1h0.8v0.8h-0.8zM268.1 67.3h0.8v0.8h-0.8zM266.3 71.4h0.8v0.8h-0.8zM266.1 73.3h0.8v0.8h-0.8zM261.6 69.9h0.8v0.8h-0.8zM261.2 70.5h0.8v0.8h-0.8zM260.4 69.6h0.8v0.8h-0.8zM257.9 67.6h0.8v0.8h-0.8zM257.5 66.4h0.8v0.8h-0.8zM257.1 65.4h0.8v0.8h-0.8zM255.0 60.4h0.8v0.8h-0.8zM254.5 61.1h0.8v0.8h-0.8z" fill="#e41ee6"/>
<path d="M268.7 57.6h0.8v0.8h-0.8zM269.8 56.1h0.8v0.8h-0.8zM272.8 56.7h0.8v0.8h-0.8zM271.5 55.3h0.8v0.8h-0.8zM279.3 60.0h0.8v0.8h-0.8zM276.0 56.1h0.8v0.8h-0.8zM277.9 64.1h0.8v0.8h-0.8zM278.2 61.4h0.8v0.8h-0.8zM279.1 62.8h0.8v0.8h-0.8zM276.2 69.4h0.8v0.8h-0.8zM276.4 68.1h0.8v0.8h-0.8zM274.7 69.8h0.8v0.8h-0.8zM273.0 71.2h0.8v0.8h-0.8zM268.0 71.0h0.8v0.8h-0.8zM268.8 71.3h0.8v0.8h-0.8zM267.4 70.0h0.8v0.8h-0.8zM266.9 65.9h0.8v0.8h-0.8zM266.8 66.3h0.8v0.8h-0.8zM267.6 61.0h0.8v0.8h-0.8zM268.1 63.1h0.8v0.8h-0.8zM266.6 58.4h0.8v0.8h-0.8zM266.5 64.1h0.8v0.8h-0.8z" fill="#5ba63a"/>
<path d="M276.4 62.8h0.8v0.8h-0.8zM276.7 61.4h0.8v0.8h-0.8zM277.7 62.1h0.8v0.8h-0.8zM281.4 59.5h0.8v0.8h-0.8zM280.5 59.4h0.8v0.8h-0.8zM286.3 58.9h0.8v0.8h-0.8zM285.2 59.5h0.8v0.8h-0.8zM283.7 60.4h0.8v0.8h-0.8zM290.3 63.2h0.8v0.8h-0.8zM288.5 62.1h0.8v0.8h-0.8zM289.9 63.7h0.8v0.8h-0.8zM290.6 65.3h0.8v0.8h-0.8zM291.1 68.6h0.8v0.8h-0.8zM290.8 66.0h0.8v0.8h-0.8zM288.2 72.3h0.8v0.8h-0.8zM290.8 70.4h0.8v0.8h-0.8zM289.0 72.4h0.8v0.8h-0.8zM287.2 75.9h0.8v0.8h-0.8zM287.0 76.3h0.8v0.8h-0.8zM284.8 77.8h0.8v0.8h-0.8zM284.5 77.1h0.8v0.8h-0.8zM281.3 75.4h0.8v0.8h-0.8zM279.6 76.0h0.8v0.8h-0.8zM275.7 71.8h0.8v0.8h-0.8zM277.5 74.5h0.8v0.8h-0.8zM275.7 69.6h0.8v0.8h-0.8zM274.9 70.4h0.8v0.8h-0.8zM275.7 66.7h0.8v0.8h-0.8z" fill="#b48fa4"/>
<path d="M266.5 69.6h0.8v0.8h-0.8zM265.2 70.7h0.8v0.8h-0.8zM270.6 69.3h0.8v0.8h-0.8zM268.9 70.4h0.8v0.8h-0.8zM276.7 71.6h0.8v0.8h-0.8zM278.2 69.7h0.8v0.8h-0.8zM272.7 69.9h0.8v0.8h-0.8zM278.4 71.5h0.8v0.8h-0.8zM277.3 71.1h0.8v0.8h-0.8zM281.0 74.6h0.8v0.8h-0.8zM279.6 77.9h0.8v0.8h-0.8zM274.9 81.5h0.8v0.8h-0.8zM278.8 79.5h0.8v0.8h-0.8zM274.5 82.8h0.8v0.8h-0.8zM272.7 83.1h0.8v0.8h-0.8zM268.9 84.3h0.8v0.8h-0.8zM271.8 85.4h0.8v0.8h-0.8zM267.8 81.0h0.8v0.8h-0.8zM267.7 82.1h0.8v0.8h-0.8zM267.3 81.7h0.8v0.8h-0.8zM265.8 76.7h0.8v0.8h-0.8zM265.9 76.7h0.8v0.8h-0.8zM264.0 71.7h0.8v0.8h-0.8zM265.2 73.5h0.8v0.8h-0.8z" fill="#e21a9f"/>
<path d="M275.7 77.0h0.8v0.8h-0.8zM276.5 78.3h0.8v0.8h-0.8zM273.7 79.3h0.8v0.8h-0.8zM276.4 76.3h0.8v0.8h-0.8zM278.5 76.5h0.8v0.8h-0.8zM284.6 76.2h0.8v0.8h-0.8zM281.7 76.1h0.8v0.8h-0.8zM281.6 75.3h0.8v0.8h-0.8zM286.9 79.7h0.8v0.8h-0.8zM288.3 79.0h0.8v0.8h-0.8zM287.7 83.7h0.8v0.8h-0.8zM287.1 82.9h0.8v0.8h-0.8zM284.7 87.5h0.8v0.8h-0.8zM285.5 89.0h0.8v0.8h-0.8zM283.3 88.0h0.8v0.8h-0.8zM283.9 88.4h0.8v0.8h-0.8zM281.2 87.4h0.8v0.8h-0.8zM279.3 86.9h0.8v0.8h-0.8zM276.1 85.6h0.8v0.8h-0.8zM279.7 87.2h0.8v0.8h-0.8zM273.7 81.8h0.8v0.8h-0.8zM272.6 82.0h0.8v0.8h-0.8z" fill="#8e8ee6"/>
<path d="M286.6 74.4h0.8v0.8h-0.8zM288.3 71.5h0.8v0.8h-0.8zM291.6 70.9h0.8v0.8h-0.8zM293.0 71.1h0.8v0.8h-0.8zM294.9 74.0h0.8v0.8h-0.8zM293.8 72.8h0.8v0.8h-0.8zM294.4 76.3h0.8v0.8h-0.8zM295.6 79.7h0.8v0.8h-0.8zM295.1 75.3h0.8v0.8h-0.8zM294.8 77.1h0.8v0.8h-0.8zM294.0 84.3h0.8v0.8h-0.8zM295.3 84.1h0.8v0.8h-0.8zM294.5 85.0h0.8v0.8h-0.8zM291.8 86.3h0.8v0.8h-0.8zM291.7 86.9h0.8v0.8h-0.8zM288.2 86.9h0.8v0.8h-0.8zM289.3 87.4h0.8v0.8h-0.8zM285.8 82.7h0.8v0.8h-0.8zM285.4 81.6h0.8v0.8h-0.8zM284.5 80.3h0.8v0.8h-0.8zM285.3 79.5h0.8v0.8h-0.8zM285.2 76.0h0.8v0.8h-0.8zM284.6 77.9h0.8v0.8h-0.8z" fill="#f7e6de"/>
<path d="M293.2 70.8h0.8v0.8h-0.8zM293.5 69.9h0.8v0.8h-0.8zM296.6 68.8h0.8v0.8h-0.8zM299.0 69.7h0.8v0.8h-0.8zM301.4 72.2h0.8v0.8h-0.8zM303.6 73.4h0.8v0.8h-0.8zM305.3 73.5h0.8v0.8h-0.8zM305.1 75.8h0.8v0.8h-0.8zM305.3 74.3h0.8v0.8h-0.8zM305.1 79.9h0.8v0.8h-0.8zM304.7 79.3h0.8v0.8h-0.8zM302.3 80.3h0.8v0.8h-0.8zM300.6 81.2h0.8v0.8h-0.8zM294.9 85.1h0.8v0.8h-0.8zM295.7 83.2h0.8v0.8h-0.8zM293.4 80.7h0.8v0.8h-0.8zM294.9 83.8h0.8v0.8h-0.8zM293.3 78.9h0.8v0.8h-0.8zM292.3 75.3h0.8v0.8h-0.8zM292.7 77.4h0.8v0.8h-0.8zM293.9 73.6h0.8v0.8h-0.8zM292.8 71.6h0.8v0.8h-0.8z" fill="#a5d3d0"/>
<path d="M302.0 77.9h0.8v0.8h-0.8zM299.6 78.6h0.8v0.8h-0.8zM300.8 79.6h0.8v0.8h-0.8zM307.7 77.7h0.8v0.8h-0.8zM305.2 77.1h0.8v0.8h-0.8zM309.2 78.6h0.8v0.8h-0.8zM308.6 79.6h0.8v0.8h-0.8zM309.5 81.3h0.8v0.8h-0.8zM308.9 81.7h0.8v0.8h-0.8zM308.2 86.4h0.8v0.8h-0.8zM307.1 88.2h0.8v0.8h-0.8zM304.8 88.1h0.8v0.8h-0.8zM300.8 91.1h0.8v0.8h-0.8zM299.1 90.1h0.8v0.8h-0.8zM298.3 84.5h0.8v0.8h-0.8zM298.8 87.4h0.8v0.8h-0.8zM298.0 87.7h0.8v0.8h-0.8zM299.4 81.8h0.8v0.8h-0.8zM298.6 83.2h0.8v0.8h-0.8z" fill="#686e8e"/>
<path d="M299.4 89.0h0.8v0.8h-0.8zM299.4 90.0h0.8v0.8h-0.8zM303.7 86.6h0.8v0.8h-0.8zM306.7 84.7h0.8v0.8h-0.8zM304.0 86.9h0.8v0.8h-0.8zM307.6 84.8h0.8v0.8h-0.8zM310.6 85.8h0.8v0.8h-0.8zM310.7 87.1h0.8v0.8h-0.8zM312.1 88.4h0.8v0.8h-0.8zM313.1 91.7h0.8v0.8h-0.8zM311.9 93.0h0.8v0.8h-0.8zM312.7 95.6h0.8v0.8h-0.8zM311.0 98.9h0.8v0.8h-0.8zM311.8 97.7h0.8v0.8h-0.8zM303.9 100.7h0.8v0.8h-0.8zM304.3 99.9h0.8v0.8h-0.8zM304.3 100.1h0.8v0.8h-0.8zM302.8 99.2h0.8v0.8h-0.8zM300.1 98.0h0.8v0.8h-0.8zM302.1 98.9h0.8v0.8h-0.8zM298.8 94.2h0.8v0.8h-0.8zM298.5 92.2h0.8v0.8h-0.8zM299.8 91.9h0.8v0.8h-0.8zM298.8 95.8h0.8v0.8h-0.8z" fill="#8c1044"/>
<path d="M287.9 86.1h0.8v0.8h-0.8zM286.7 87.2h0.8v0.8h-0.8zM292.1 83.6h0.8v0.8h-0.8zM290.6 84.6h0.8v0.8h-0.8zM295.5 86.8h0.8v0.8h-0.8zM296.8 87.2h0.8v0.8h-0.8zM297.7 90.7h0.8v0.8h-0.8zM297.2 91.5h0.8v0.8h-0.8zM298.3 89.3h0.8v0.8h-0.8zM294.0 94.9h0.8v0.8h-0.8zM296.1 93.2h0.8v0.8h-0.8zM292.1 95.2h0.8v0.8h-0.8zM290.1 95.5h0.8v0.8h-0.8zM287.2 93.1h0.8v0.8h-0.8zM287.7 93.8h0.8v0.8h-0.8zM286.1 88.7h0.8v0.8h-0.8zM286.2 90.2h0.8v0.8h-0.8z" fill="#2b57b0"/>
<path d="M280.7 93.8h0.8v0.8h-0.8zM279.8 93.9h0.8v0.8h-0.8zM284.0 93.9h0.8v0.8h-0.8zM285.6 94.7h0.8v0.8h-0.8zM288.5 96.7h0.8v0.8h-0.8zM287.8 98.2h0.8v0.8h-0.8zM287.0 102.7h0.8v0.8h-0.8zM287.5 100.8h0.8v0.8h-0.8zM286.8 103.0h0.8v0.8h-0.8zM285.5 104.4h0.8v0.8h-0.8zM279.9 102.1h0.8v0.8h-0.8zM281.7 104.0h0.8v0.8h-0.8zM279.7 101.8h0.8v0.8h-0.8zM279.5 102.3h0.8v0.8h-0.8zM278.3 93.9h0.8v0.8h-0.8zM278.6 97.7h0.8v0.8h-0.8z" fill="#9c5d4e"/>
<path d="M289.2 103.5h0.8v0.8h-0.8zM291.9 101.3h0.8v0.8h-0.8zM290.8 100.4h0.8v0.8h-0.8zM296.8 100.2h0.8v0.8h-0.8zM294.7 100.2h0.8v0.8h-0.8zM293.4 99.7h0.8v0.8h-0.8zM300.1 102.0h0.8v0.8h-0.8zM301.5 104.1h0.8v0.8h-0.8zM306.1 107.7h0.8v0.8h-0.8zM306.3 107.1h0.8v0.8h-0.8zM305.3 107.0h0.8v0.8h-0.8zM302.9 111.7h0.8v0.8h-0.8zM305.3 109.6h0.8v0.8h-0.8zM299.8 113.2h0.8v0.8h-0.8zM300.3 113.5h0.8v0.8h-0.8zM300.1 113.7h0.8v0.8h-0.8zM301.0 113.8h0.8v0.8h-0.8zM294.8 115.4h0.8v0.8h-0.8zM294.5 114.1h0.8v0.8h-0.8zM296.8 114.1h0.8v0.8h-0.8zM288.8 110.6h0.8v0.8h-0.8zM288.4 110.8h0.8v0.8h-0.8zM288.0 110.5h0.8v0.8h-0.8zM287.7 106.6h0.8v0.8h-0.8zM286.9 107.2h0.8v0.8h-0.8zM288.4 104.0h0.8v0.8h-0.8zM287.9 105.7h0.8v0.8h-0.8z" fill="#7cc2d4"/>
<path d="M287.5 112.6h0.8v0.8h-0.8zM287.1 110.7h0.8v0.8h-0.8zM288.7 112.9h0.8v0.8h-0.8zM291.9 116.1h0.8v0.8h-0.8zM291.8 115.4h0.8v0.8h-0.8zM290.4 118.2h0.8v0.8h-0.8zM293.2 116.9h0.8v0.8h-0.8zM285.2 120.1h0.8v0.8h-0.8zM286.0 120.0h0.8v0.8h-0.8zM283.4 120.2h0.8v0.8h-0.8zM282.8 118.7h0.8v0.8h-0.8zM282.2 118.8h0.8v0.8h-0.8zM283.1 113.4h0.8v0.8h-0.8zM282.7 114.7h0.8v0.8h-0.8z" fill="#95f5d0"/>
<path d="M294.5 113.8h0.8v0.8h-0.8zM290.7 113.5h0.8v0.8h-0.8zM298.8 117.6h0.8v0.8h-0.8zM297.5 116.9h0.8v0.8h-0.8zM297.9 118.7h0.8v0.8h-0.8zM297.0 118.2h0.8v0.8h-0.8zM291.0 118.1h0.8v0.8h-0.8zM292.1 118.6h0.8v0.8h-0.8zM290.7 117.9h0.8v0.8h-0.8zM289.9 118.7h0.8v0.8h-0.8z" fill="#95f5d0"/>
<path d="M233.3 113.7h0.8v0.8h-0.8zM232.3 117.6h0.8v0.8h-0.8zM232.9 113.5h0.8v0.8h-0.8zM237.0 110.5h0.8v0.8h-0.8zM235.5 111.9h0.8v0.8h-0.8zM235.4 111.0h0.8v0.8h-0.8zM240.7 109.0h0.8v0.8h-0.8zM240.8 109.0h0.8v0.8h-0.8zM241.6 110.5h0.8v0.8h-0.8zM244.6 111.3h0.8v0.8h-0.8zM248.1 112.4h0.8v0.8h-0.8zM246.3 115.7h0.8v0.8h-0.8zM246.8 113.9h0.8v0.8h-0.8zM245.0 119.5h0.8v0.8h-0.8zM245.6 121.2h0.8v0.8h-0.8zM245.2 118.5h0.8v0.8h-0.8zM239.2 124.1h0.8v0.8h-0.8zM243.6 122.8h0.8v0.8h-0.8zM238.4 124.2h0.8v0.8h-0.8zM237.0 123.5h0.8v0.8h-0.8zM236.3 122.7h0.8v0.8h-0.8zM231.4 118.7h0.8v0.8h-0.8zM232.1 119.4h0.8v0.8h-0.8z" fill="#b5b83a"/>
<path d="M231.3 120.1h0.8v0.8h-0.8zM231.1 118.8h0.8v0.8h-0.8zM231.9 118.4h0.8v0.8h-0.8zM232.7 118.2h0.8v0.8h-0.8zM238.5 119.5h0.8v0.8h-0.8zM237.9 119.8h0.8v0.8h-0.8zM236.3 118.5h0.8v0.8h-0.8zM241.7 122.4h0.8v0.8h-0.8zM241.4 122.2h0.8v0.8h-0.8zM239.4 128.1h0.8v0.8h-0.8zM240.1 129.5h0.8v0.8h-0.8zM236.5 128.8h0.8v0.8h-0.8zM236.6 128.1h0.8v0.8h-0.8zM230.6 126.5h0.8v0.8h-0.8zM230.9 126.6h0.8v0.8h-0.8zM228.9 125.2h0.8v0.8h-0.8zM231.0 124.1h0.8v0.8h-0.8z" fill="#8c2c10"/>
<path d="M247.2 113.0h0.8v0.8h-0.8zM245.4 112.9h0.8v0.8h-0.8zM248.3 113.1h0.8v0.8h-0.8zM251.0 114.8h0.8v0.8h-0.8zM248.8 113.6h0.8v0.8h-0.8zM252.7 114.7h0.8v0.8h-0.8zM254.6 116.8h0.8v0.8h-0.8zM255.5 115.6h0.8v0.8h-0.8zM256.6 117.7h0.8v0.8h-0.8zM259.1 121.7h0.8v0.8h-0.8zM257.5 117.4h0.8v0.8h-0.8zM258.8 123.5h0.8v0.8h-0.8zM258.6 124.0h0.8v0.8h-0.8zM257.6 128.3h0.8v0.8h-0.8zM254.5 130.4h0.8v0.8h-0.8zM257.7 126.2h0.8v0.8h-0.8zM250.2 130.3h0.8v0.8h-0.8zM249.1 131.0h0.8v0.8h-0.8zM248.4 131.0h0.8v0.8h-0.8zM246.1 127.0h0.8v0.8h-0.8zM248.0 130.0h0.8v0.8h-0.8zM243.5 124.3h0.8v0.8h-0.8zM245.0 124.3h0.8v0.8h-0.8zM243.3 121.2h0.8v0.8h-0.8zM244.0 121.6h0.8v0.8h-0.8zM243.7 117.2h0.8v0.8h-0.8zM244.3 115.0h0.8v0.8h-0.8zM242.4 118.8h0.8v0.8h-0.8z" fill="#7b3bd4"/>
<path d="M235.9 126.3h0.8v0.8h-0.8zM236.4 125.6h0.8v0.8h-0.8zM241.0 122.2h0.8v0.8h-0.8zM238.5 122.6h0.8v0.8h-0.8zM240.7 123.6h0.8v0.8h-0.8zM247.1 123.7h0.8v0.8h-0.8zM245.8 122.7h0.8v0.8h-0.8zM249.1 122.9h0.8v0.8h-0.8zM248.9 125.3h0.8v0.8h-0.8zM248.8 124.9h0.8v0.8h-0.8zM248.3 130.8h0.8v0.8h-0.8zM249.8 130.6h0.8v0.8h-0.8zM246.6 132.1h0.8v0.8h-0.8zM245.9 132.4h0.8v0.8h-0.8zM243.4 133.3h0.8v0.8h-0.8zM240.9 133.4h0.8v0.8h-0.8zM238.0 131.6h0.8v0.8h-0.8zM238.4 132.0h0.8v0.8h-0.8zM236.3 129.6h0.8v0.8h-0.8zM235.8 127.3h0.8v0.8h-0.8z" fill="#9413a3"/>
<path d="M267.6 115.8h0.8v0.8h-0.8zM266.2 117.6h0.8v0.8h-0.8zM271.2 117.8h0.8v0.8h-0.8zM268.0 117.2h0.8v0.8h-0.8zM273.8 117.8h0.8v0.8h-0.8zM274.7 120.3h0.8v0.8h-0.8zM275.0 117.7h0.8v0.8h-0.8zM277.0 123.9h0.8v0.8h-0.8zM277.8 126.7h0.8v0.8h-0.8zM274.8 127.5h0.8v0.8h-0.8zM270.5 127.5h0.8v0.8h-0.8zM271.4 127.8h0.8v0.8h-0.8zM271.0 128.3h0.8v0.8h-0.8zM269.4 127.1h0.8v0.8h-0.8zM265.4 128.6h0.8v0.8h-0.8zM266.7 128.3h0.8v0.8h-0.8zM263.9 129.1h0.8v0.8h-0.8zM264.4 128.1h0.8v0.8h-0.8zM263.3 123.9h0.8v0.8h-0.8zM263.7 120.7h0.8v0.8h-0.8zM264.2 122.4h0.8v0.8h-0.8zM264.4 123.4h0.8v0.8h-0.8z" fill="#f01212"/>
<path d="M280.5 123.0h0.8v0.8h-0.8zM278.5 124.4h0.8v0.8h-0.8zM281.2 122.5h0.8v0.8h-0.8zM282.6 121.3h0.8v0.8h-0.8zM285.8 121.8h0.8v0.8h-0.8zM286.7 122.9h0.8v0.8h-0.8zM283.8 120.9h0.8v0.8h-0.8zM287.0 126.1h0.8v0.8h-0.8zM289.4 127.5h0.8v0.8h-0.8zM286.1 129.2h0.8v0.8h-0.8zM286.8 129.0h0.8v0.8h-0.8zM282.8 130.4h0.8v0.8h-0.8zM280.0 128.5h0.8v0.8h-0.8zM285.1 130.5h0.8v0.8h-0.8zM279.0 127.9h0.8v0.8h-0.8zM278.9 128.2h0.8v0.8h-0.8z" fill="#0c14f8"/>
<path d="M268.1 129.2h0.8v0.8h-0.8zM266.5 130.2h0.8v0.8h-0.8zM270.6 127.9h0.8v0.8h-0.8zM270.2 127.6h0.8v0.8h-0.8zM273.7 128.3h0.8v0.8h-0.8zM274.7 128.4h0.8v0.8h-0.8zM277.6 132.3h0.8v0.8h-0.8zM277.8 130.3h0.8v0.8h-0.8zM277.2 133.9h0.8v0.8h-0.8zM274.6 134.6h0.8v0.8h-0.8zM270.6 135.5h0.8v0.8h-0.8zM272.4 135.3h0.8v0.8h-0.8zM265.8 135.6h0.8v0.8h-0.8zM266.1 135.8h0.8v0.8h-0.8zM266.2 133.1h0.8v0.8h-0.8zM265.9 132.9h0.8v0.8h-0.8z" fill="#8470c8"/>
<path d="M210.4,67.1C210.32,66.05 212.25,63.65 213.3,62.5C214.35,61.35 215.45,60.53 216.7,60.2C217.95,59.87 219.83,60.02 220.8,60.5C221.77,60.98 222.42,62.18 222.5,63.1C222.58,64.02 221.97,65.23 221.3,66C220.63,66.77 219.75,67.23 218.5,67.7C217.25,68.17 215.15,68.9 213.8,68.8C212.45,68.7 210.48,68.15 210.4,67.1Z" fill="#75a84f" stroke="#75a84f" stroke-width="1.6" stroke-linejoin="round" />
<path d="M206.3,74C206.5,72.95 207.63,70.87 208.7,70C209.77,69.13 211.07,68.9 212.7,68.8C214.33,68.7 217.35,68.82 218.5,69.4C219.65,69.98 219.6,71.23 219.6,72.3C219.6,73.37 218.98,74.55 218.5,75.8C218.02,77.05 217.28,78.93 216.7,79.8C216.12,80.67 215.87,81.18 215,81C214.13,80.82 212.75,79.48 211.5,78.7C210.25,77.92 208.37,77.08 207.5,76.3C206.63,75.52 206.1,75.05 206.3,74Z" fill="#6ac4f8" stroke="#6ac4f8" stroke-width="1.6" stroke-linejoin="round" />
<path d="M231.2,61.3C231.2,60.05 231.95,57.53 232.9,56.2C233.85,54.87 235.47,53.98 236.9,53.3C238.33,52.62 240.43,51.82 241.5,52.1C242.57,52.38 243.2,53.75 243.3,55C243.4,56.25 242.48,58.25 242.1,59.6C241.72,60.95 241.87,62.23 241,63.1C240.13,63.97 238.25,64.7 236.9,64.8C235.55,64.9 233.85,64.28 232.9,63.7C231.95,63.12 231.2,62.55 231.2,61.3Z" fill="#7b8c74" stroke="#7b8c74" stroke-width="1.6" stroke-linejoin="round" />
<path d="M241.5,52.7C242.37,51.45 244.65,51.92 246.2,52.1C247.75,52.28 249.85,52.73 250.8,53.8C251.75,54.87 251.82,56.77 251.9,58.5C251.98,60.23 251.68,62.77 251.3,64.2C250.92,65.63 250.55,66.82 249.6,67.1C248.65,67.38 246.95,66.47 245.6,65.9C244.25,65.33 242.27,64.75 241.5,63.7C240.73,62.65 241,61.43 241,59.6C241,57.77 240.63,53.95 241.5,52.7Z" fill="#b2f25e" stroke="#b2f25e" stroke-width="1.6" stroke-linejoin="round" />
<path d="M224.8,70C225.28,68.17 226.03,66.05 227.1,64.8C228.17,63.55 229.75,62.6 231.2,62.5C232.65,62.4 234.85,63.15 235.8,64.2C236.75,65.25 236.23,67.55 236.9,68.8C237.57,70.05 239.22,70.83 239.8,71.7C240.38,72.57 240.88,73.32 240.4,74C239.92,74.68 237.87,75.12 236.9,75.8C235.93,76.48 235.75,77.43 234.6,78.1C233.45,78.77 231.53,79.32 230,79.8C228.47,80.28 226.37,81.67 225.4,81C224.43,80.33 224.3,77.63 224.2,75.8C224.1,73.97 224.32,71.83 224.8,70Z" fill="#c879c8" stroke="#c879c8" stroke-width="1.6" stroke-linejoin="round" />
<path d="M236.3,66.5C236.68,65.63 237.95,64.48 239.2,64.2C240.45,63.92 242.25,64.22 243.8,64.8C245.35,65.38 246.95,67.12 248.5,67.7C250.05,68.28 252.23,67.63 253.1,68.3C253.97,68.97 254.08,70.83 253.7,71.7C253.32,72.57 251.87,72.63 250.8,73.5C249.73,74.37 248.55,76.03 247.3,76.9C246.05,77.77 244.83,78.32 243.3,78.7C241.77,79.08 239.17,79.68 238.1,79.2C237.03,78.72 236.62,76.67 236.9,75.8C237.18,74.93 239.32,74.68 239.8,74C240.28,73.32 240.28,72.47 239.8,71.7C239.32,70.93 237.48,70.27 236.9,69.4C236.32,68.53 235.92,67.37 236.3,66.5Z" fill="#6a4a44" stroke="#6a4a44" stroke-width="1.6" stroke-linejoin="round" />
<path d="M253.3,73.8C253.88,72.73 255.05,72.18 256.2,72.1C257.35,72.02 259.05,72.43 260.2,73.3C261.35,74.17 262.33,76.05 263.1,77.3C263.87,78.55 264.62,79.55 264.8,80.8C264.98,82.05 264.68,83.93 264.2,84.8C263.72,85.67 263.05,86 261.9,86C260.75,86 258.55,85.48 257.3,84.8C256.05,84.12 255.17,82.95 254.4,81.9C253.63,80.85 252.88,79.85 252.7,78.5C252.52,77.15 252.72,74.87 253.3,73.8Z" fill="#e8988a" stroke="#e8988a" stroke-width="1.6" stroke-linejoin="round" />
<path d="M222.5,83.3C223.08,82.13 225.87,80.17 227.7,79.2C229.53,78.23 231.77,77.58 233.5,77.5C235.23,77.42 237.15,77.83 238.1,78.7C239.05,79.57 239.2,81.45 239.2,82.7C239.2,83.95 238.48,85.05 238.1,86.2C237.72,87.35 237.67,88.75 236.9,89.6C236.13,90.45 234.85,91.3 233.5,91.3C232.15,91.3 230.35,90.45 228.8,89.6C227.25,88.75 225.25,87.25 224.2,86.2C223.15,85.15 221.92,84.47 222.5,83.3Z" fill="#2f5e3e" stroke="#2f5e3e" stroke-width="1.6" stroke-linejoin="round" />
<path d="M236.9,83.8C236.8,82.45 238.13,81.17 239.2,80.4C240.27,79.63 241.95,79.3 243.3,79.2C244.65,79.1 246.43,79.03 247.3,79.8C248.17,80.57 247.83,82.55 248.5,83.8C249.17,85.05 250.92,85.95 251.3,87.3C251.68,88.65 251.27,90.83 250.8,91.9C250.33,92.97 249.67,93.7 248.5,93.7C247.33,93.7 245.25,92.77 243.8,91.9C242.35,91.03 240.95,89.85 239.8,88.5C238.65,87.15 237,85.15 236.9,83.8Z" fill="#15204e" stroke="#15204e" stroke-width="1.6" stroke-linejoin="round" />
<path d="M247.3,74.6C248.07,73.55 249.23,72.9 250.2,72.9C251.17,72.9 252.33,73.55 253.1,74.6C253.87,75.65 254.62,77.67 254.8,79.2C254.98,80.73 254.58,82.45 254.2,83.8C253.82,85.15 253.27,86.9 252.5,87.3C251.73,87.7 250.47,86.97 249.6,86.2C248.73,85.43 247.97,83.87 247.3,82.7C246.63,81.53 245.6,80.55 245.6,79.2C245.6,77.85 246.53,75.65 247.3,74.6Z" fill="#000080" stroke="#000080" stroke-width="1.6" stroke-linejoin="round" />
<path d="M216.7,88.5C216.98,87.25 219.03,86.18 220.2,85.6C221.37,85.02 222.55,84.72 223.7,85C224.85,85.28 226.15,86.15 227.1,87.3C228.05,88.45 228.82,90.17 229.4,91.9C229.98,93.63 230.7,96.35 230.6,97.7C230.5,99.05 229.67,99.62 228.8,100C227.93,100.38 226.65,100.48 225.4,100C224.15,99.52 222.45,98.25 221.3,97.1C220.15,95.95 219.27,94.53 218.5,93.1C217.73,91.67 216.42,89.75 216.7,88.5Z" fill="#e27aa3" stroke="#e27aa3" stroke-width="1.6" stroke-linejoin="round" />
<path d="M230.6,91.9C231.08,90.57 232.25,89.07 233.5,88.5C234.75,87.93 236.57,88.12 238.1,88.5C239.63,88.88 241.65,89.75 242.7,90.8C243.75,91.85 244.22,93.47 244.4,94.8C244.58,96.13 244.67,97.93 243.8,98.8C242.93,99.67 240.92,99.9 239.2,100C237.48,100.1 234.93,99.98 233.5,99.4C232.07,98.82 231.08,97.75 230.6,96.5C230.12,95.25 230.12,93.23 230.6,91.9Z" fill="#5cb38a" stroke="#5cb38a" stroke-width="1.6" stroke-linejoin="round" />
<path d="M237.5,97C237.92,95.87 239,94.83 240,94.2C241,93.57 242.15,93.32 243.5,93.2C244.85,93.08 246.85,93.07 248.1,93.5C249.35,93.93 250.82,94.85 251,95.8C251.18,96.75 249.58,97.87 249.2,99.2C248.82,100.53 249.47,102.83 248.7,103.8C247.93,104.77 246.05,104.88 244.6,105C243.15,105.12 241.18,105.17 240,104.5C238.82,103.83 237.92,102.25 237.5,101C237.08,99.75 237.08,98.13 237.5,97Z" fill="#bb9570" stroke="#bb9570" stroke-width="1.6" stroke-linejoin="round" />
<path d="M251.5,88.8C251.97,87.35 252.63,85.57 253.8,84.8C254.97,84.03 257.05,83.92 258.5,84.2C259.95,84.48 261.73,85.53 262.5,86.5C263.27,87.47 263.3,88.83 263.1,90C262.9,91.17 261.98,92.35 261.3,93.5C260.62,94.65 259.85,96.03 259,96.9C258.15,97.77 257.25,98.7 256.2,98.7C255.15,98.7 253.57,97.77 252.7,96.9C251.83,96.03 251.2,94.85 251,93.5C250.8,92.15 251.03,90.25 251.5,88.8Z" fill="#e98a2d" stroke="#e98a2d" stroke-width="1.6" stroke-linejoin="round" />
<path d="M258.5,96.9C259.07,95.35 260.43,92.75 261.3,91.7C262.17,90.65 262.92,90.12 263.7,90.6C264.48,91.08 265.43,93.17 266,94.6C266.57,96.03 267.02,97.67 267.1,99.2C267.18,100.73 267.07,102.73 266.5,103.8C265.93,104.87 264.85,105.5 263.7,105.6C262.55,105.7 260.57,105.17 259.6,104.4C258.63,103.63 258.08,102.25 257.9,101C257.72,99.75 257.93,98.45 258.5,96.9Z" fill="#8a6154" stroke="#8a6154" stroke-width="1.6" stroke-linejoin="round" />
<path d="M248.7,99.2C249.47,98.05 251.27,96.9 252.7,96.9C254.13,96.9 256.25,98.05 257.3,99.2C258.35,100.35 258.9,102.25 259,103.8C259.1,105.35 258.77,107.53 257.9,108.5C257.03,109.47 255.15,109.7 253.8,109.6C252.45,109.5 250.75,108.87 249.8,107.9C248.85,106.93 248.28,105.25 248.1,103.8C247.92,102.35 247.93,100.35 248.7,99.2Z" fill="#b58f1c" stroke="#b58f1c" stroke-width="1.6" stroke-linejoin="round" />
<path d="M254.6,110.1C254.6,108.97 255.95,107.6 257.3,106.7C258.65,105.8 260.9,104.92 262.7,104.7C264.5,104.48 266.75,104.83 268.1,105.4C269.45,105.97 270.58,106.98 270.8,108.1C271.02,109.22 270.08,110.98 269.4,112.1C268.72,113.22 267.93,114.35 266.7,114.8C265.47,115.25 263.57,115.02 262,114.8C260.43,114.58 258.53,114.28 257.3,113.5C256.07,112.72 254.6,111.23 254.6,110.1Z" fill="#8b8b8b" stroke="#8b8b8b" stroke-width="1.6" stroke-linejoin="round" />
<path d="M267.7,94.6C268.28,93.65 269.45,93.68 270.6,93.5C271.75,93.32 273.35,93.12 274.6,93.5C275.85,93.88 277.42,94.65 278.1,95.8C278.78,96.95 278.9,98.87 278.7,100.4C278.5,101.93 277.68,103.75 276.9,105C276.12,106.25 275.05,107.32 274,107.9C272.95,108.48 271.55,109.08 270.6,108.5C269.65,107.92 268.88,105.95 268.3,104.4C267.72,102.85 267.2,100.83 267.1,99.2C267,97.57 267.12,95.55 267.7,94.6Z" fill="#88f2f8" stroke="#88f2f8" stroke-width="1.6" stroke-linejoin="round" />
<path d="M268.8,86.5C269.28,85.43 271.05,84.9 272.3,84.7C273.55,84.5 275.43,84.62 276.3,85.3C277.17,85.98 277.5,87.65 277.5,88.8C277.5,89.95 277.17,91.53 276.3,92.2C275.43,92.87 273.45,92.98 272.3,92.8C271.15,92.62 269.98,92.15 269.4,91.1C268.82,90.05 268.32,87.57 268.8,86.5Z" fill="#4e8d9b" stroke="#4e8d9b" stroke-width="1.6" stroke-linejoin="round" />
<path d="M268.1,112.1C268.88,110.87 270.28,110.3 271.4,109.4C272.52,108.5 273.78,107.37 274.8,106.7C275.82,106.03 276.93,104.72 277.5,105.4C278.07,106.08 278.32,109 278.2,110.8C278.08,112.6 277.48,114.87 276.8,116.2C276.12,117.53 275.33,118.37 274.1,118.8C272.87,119.23 270.63,119.13 269.4,118.8C268.17,118.47 266.92,117.92 266.7,116.8C266.48,115.68 267.32,113.33 268.1,112.1Z" fill="#3e72be" stroke="#3e72be" stroke-width="1.6" stroke-linejoin="round" />
<path d="M266,49.5C266.28,48.15 267.55,46.87 268.8,46.1C270.05,45.33 272.33,44.8 273.5,44.9C274.67,45 275.52,45.73 275.8,46.7C276.08,47.67 275.58,49.45 275.2,50.7C274.82,51.95 274.37,53.33 273.5,54.2C272.63,55.07 271.07,55.9 270,55.9C268.93,55.9 267.77,55.27 267.1,54.2C266.43,53.13 265.72,50.85 266,49.5Z" fill="#b5b8f8" stroke="#b5b8f8" stroke-width="1.6" stroke-linejoin="round" />
<path d="M274.6,47.2C274.98,45.95 275.23,45.38 276.3,44.9C277.37,44.42 279.83,44.1 281,44.3C282.17,44.5 282.83,45.03 283.3,46.1C283.77,47.17 283.62,49.35 283.8,50.7C283.98,52.05 284.4,52.77 284.4,54.2C284.4,55.63 284.57,58.35 283.8,59.3C283.03,60.25 281.13,60.08 279.8,59.9C278.47,59.72 277.05,58.87 275.8,58.2C274.55,57.53 272.6,56.87 272.3,55.9C272,54.93 273.62,53.85 274,52.4C274.38,50.95 274.22,48.45 274.6,47.2Z" fill="#c83636" stroke="#c83636" stroke-width="1.6" stroke-linejoin="round" />
<path d="M282.7,44.3C283.27,43.43 285.27,43.7 286.7,43.8C288.13,43.9 290.13,44.23 291.3,44.9C292.47,45.57 293.12,46.65 293.7,47.8C294.28,48.95 295.1,50.93 294.8,51.8C294.5,52.67 293.05,52.7 291.9,53C290.75,53.3 289.15,53.6 287.9,53.6C286.65,53.6 285.17,53.77 284.4,53C283.63,52.23 283.58,50.45 283.3,49C283.02,47.55 282.13,45.17 282.7,44.3Z" fill="#f8e61a" stroke="#f8e61a" stroke-width="1.6" stroke-linejoin="round" />
<path d="M284.4,54.2C285.18,53.62 286.77,53.3 288.5,53C290.23,52.7 293.55,52.02 294.8,52.4C296.05,52.78 295.9,54.05 296,55.3C296.1,56.55 295.98,58.65 295.4,59.9C294.82,61.15 293.65,62.13 292.5,62.8C291.35,63.47 289.75,63.8 288.5,63.9C287.25,64 285.87,64.07 285,63.4C284.13,62.73 283.5,61.05 283.3,59.9C283.1,58.75 283.62,57.45 283.8,56.5C283.98,55.55 283.62,54.78 284.4,54.2Z" fill="#5c1c10" stroke="#5c1c10" stroke-width="1.6" stroke-linejoin="round" />
<path d="M257.3,57.6C257.3,56.45 259.13,53.97 260.2,53C261.27,52.03 262.45,51.6 263.7,51.8C264.95,52 266.45,53.33 267.7,54.2C268.95,55.07 271.02,56.23 271.2,57C271.38,57.77 269.38,57.83 268.8,58.8C268.22,59.77 268.47,62.13 267.7,62.8C266.93,63.47 265.45,63.28 264.2,62.8C262.95,62.32 261.35,60.77 260.2,59.9C259.05,59.03 257.3,58.75 257.3,57.6Z" fill="#4a7cc0" stroke="#4a7cc0" stroke-width="1.6" stroke-linejoin="round" />
<path d="M256.2,61.1C256.4,60.13 256.95,58.3 257.9,58.2C258.85,58.1 260.47,59.73 261.9,60.5C263.33,61.27 265.43,61.93 266.5,62.8C267.57,63.67 268.3,64.63 268.3,65.7C268.3,66.77 266.98,68.23 266.5,69.2C266.02,70.17 266.17,71.42 265.4,71.5C264.63,71.58 263.05,70.48 261.9,69.7C260.75,68.92 259.37,67.75 258.5,66.8C257.63,65.85 257.08,64.95 256.7,64C256.32,63.05 256,62.07 256.2,61.1Z" fill="#e41ee6" stroke="#e41ee6" stroke-width="1.6" stroke-linejoin="round" />
<path d="M267.7,58.8C268.18,57.55 269.95,57.1 271.2,57C272.45,56.9 274.05,57.52 275.2,58.2C276.35,58.88 277.82,59.85 278.1,61.1C278.38,62.35 277.38,64.35 276.9,65.7C276.42,67.05 276.07,68.33 275.2,69.2C274.33,70.07 272.95,70.72 271.7,70.9C270.45,71.08 268.57,70.78 267.7,70.3C266.83,69.82 266.4,68.97 266.5,68C266.6,67.03 268.1,66.03 268.3,64.5C268.5,62.97 267.22,60.05 267.7,58.8Z" fill="#5ba63a" stroke="#5ba63a" stroke-width="1.6" stroke-linejoin="round" />
<path d="M275.8,65.7C276,64.17 277.15,62.67 278.1,61.7C279.05,60.73 280.15,60 281.5,59.9C282.85,59.8 284.85,60.33 286.2,61.1C287.55,61.87 289.03,63.15 289.6,64.5C290.17,65.85 289.88,67.65 289.6,69.2C289.32,70.75 288.57,72.55 287.9,73.8C287.23,75.05 286.57,76.22 285.6,76.7C284.63,77.18 283.07,77.18 282.1,76.7C281.13,76.22 280.67,74.77 279.8,73.8C278.93,72.83 277.57,72.25 276.9,70.9C276.23,69.55 275.6,67.23 275.8,65.7Z" fill="#b48fa4" stroke="#b48fa4" stroke-width="1.6" stroke-linejoin="round" />
<path d="M265.4,72C265.78,71.23 267.15,70.48 268.3,70.3C269.45,70.12 270.87,70.7 272.3,70.9C273.73,71.1 275.75,70.83 276.9,71.5C278.05,72.17 279.1,73.75 279.2,74.9C279.3,76.05 278.27,77.33 277.5,78.4C276.73,79.47 275.57,80.43 274.6,81.3C273.63,82.17 272.67,83.32 271.7,83.6C270.73,83.88 269.47,83.87 268.8,83C268.13,82.13 268.17,79.75 267.7,78.4C267.23,77.05 266.38,75.97 266,74.9C265.62,73.83 265.02,72.77 265.4,72Z" fill="#e21a9f" stroke="#e21a9f" stroke-width="1.6" stroke-linejoin="round" />
<path d="M274,81.3C274.18,80.15 275.73,78.57 276.9,77.8C278.07,77.03 279.55,76.8 281,76.7C282.45,76.6 284.55,76.53 285.6,77.2C286.65,77.87 287.12,79.45 287.3,80.7C287.48,81.95 287.18,83.55 286.7,84.7C286.22,85.85 285.55,87.22 284.4,87.6C283.25,87.98 281.23,87.48 279.8,87C278.37,86.52 276.77,85.65 275.8,84.7C274.83,83.75 273.82,82.45 274,81.3Z" fill="#8e8ee6" stroke="#8e8ee6" stroke-width="1.6" stroke-linejoin="round" />
<path d="M287.3,74.9C287.97,73.55 288.63,73.17 289.6,72.6C290.57,72.03 292.33,71.12 293.1,71.5C293.87,71.88 294.1,73.37 294.2,74.9C294.3,76.43 293.7,78.97 293.7,80.7C293.7,82.43 294.78,84.43 294.2,85.3C293.62,86.17 291.45,86.08 290.2,85.9C288.95,85.72 287.47,85.07 286.7,84.2C285.93,83.33 285.5,82.25 285.6,80.7C285.7,79.15 286.63,76.25 287.3,74.9Z" fill="#f7e6de" stroke="#f7e6de" stroke-width="1.6" stroke-linejoin="round" />
<path d="M293.1,71.5C293.48,70.73 295.25,70.3 296.5,70.3C297.75,70.3 299.35,70.83 300.6,71.5C301.85,72.17 303.33,73.25 304,74.3C304.67,75.35 304.88,76.83 304.6,77.8C304.32,78.77 303.17,79.43 302.3,80.1C301.43,80.77 300.55,81.32 299.4,81.8C298.25,82.28 296.35,83.38 295.4,83C294.45,82.62 293.9,80.85 293.7,79.5C293.5,78.15 294.3,76.23 294.2,74.9C294.1,73.57 292.72,72.27 293.1,71.5Z" fill="#a5d3d0" stroke="#a5d3d0" stroke-width="1.6" stroke-linejoin="round" />
<path d="M300,80.7C300.78,79.63 302.35,78.28 303.5,77.8C304.65,77.32 306.03,77.22 306.9,77.8C307.77,78.38 308.5,80.05 308.7,81.3C308.9,82.55 308.5,84.35 308.1,85.3C307.7,86.25 307.17,86.42 306.3,87C305.43,87.58 304.05,88.5 302.9,88.8C301.75,89.1 300.08,89.57 299.4,88.8C298.72,88.03 298.7,85.55 298.8,84.2C298.9,82.85 299.22,81.77 300,80.7Z" fill="#686e8e" stroke="#686e8e" stroke-width="1.6" stroke-linejoin="round" />
<path d="M300,89.9C300.48,88.5 302.25,88.47 303.5,87.6C304.75,86.73 306.35,84.88 307.5,84.7C308.65,84.52 309.73,85.53 310.4,86.5C311.07,87.47 311.4,88.97 311.5,90.5C311.6,92.03 311.47,94.37 311,95.7C310.53,97.03 309.95,97.87 308.7,98.5C307.45,99.13 304.85,99.92 303.5,99.5C302.15,99.08 301.18,97.6 300.6,96C300.02,94.4 299.52,91.3 300,89.9Z" fill="#8c1044" stroke="#8c1044" stroke-width="1.6" stroke-linejoin="round" />
<path d="M287.3,87.6C287.78,86.73 289.55,86.28 290.8,85.9C292.05,85.52 293.85,85.02 294.8,85.3C295.75,85.58 296.4,86.45 296.5,87.6C296.6,88.75 295.97,91.05 295.4,92.2C294.83,93.35 294.07,94.3 293.1,94.5C292.13,94.7 290.47,93.97 289.6,93.4C288.73,92.83 288.28,92.07 287.9,91.1C287.52,90.13 286.82,88.47 287.3,87.6Z" fill="#2b57b0" stroke="#2b57b0" stroke-width="1.6" stroke-linejoin="round" />
<path d="M279.8,95.2C280.38,94.62 281.63,94.5 282.7,94.6C283.77,94.7 285.43,95.03 286.2,95.8C286.97,96.57 287.3,98.05 287.3,99.2C287.3,100.35 286.97,101.93 286.2,102.7C285.43,103.47 283.67,103.9 282.7,103.8C281.73,103.7 280.98,103.05 280.4,102.1C279.82,101.15 279.3,99.25 279.2,98.1C279.1,96.95 279.22,95.78 279.8,95.2Z" fill="#9c5d4e" stroke="#9c5d4e" stroke-width="1.6" stroke-linejoin="round" />
<path d="M288.5,103.8C289.18,102.45 291.57,101.68 293.1,101.5C294.63,101.32 296.3,102.2 297.7,102.7C299.1,103.2 300.37,103.7 301.5,104.5C302.63,105.3 304.42,106.27 304.5,107.5C304.58,108.73 303.33,110.9 302,111.9C300.67,112.9 298.18,113.3 296.5,113.5C294.82,113.7 293.15,113.75 291.9,113.1C290.65,112.45 289.57,111.15 289,109.6C288.43,108.05 287.82,105.15 288.5,103.8Z" fill="#7cc2d4" stroke="#7cc2d4" stroke-width="1.6" stroke-linejoin="round" />
<path d="M283.8,112.8C284.88,112.38 287.3,112.88 288.5,113.5C289.7,114.12 291.08,115.5 291,116.5C290.92,117.5 289.25,119.08 288,119.5C286.75,119.92 284.5,119.58 283.5,119C282.5,118.42 281.95,117.03 282,116C282.05,114.97 282.72,113.22 283.8,112.8Z" fill="#95f5d0" stroke="#95f5d0" stroke-width="1.6" stroke-linejoin="round" />
<path d="M292,115C292.75,114.42 295.17,114 296,114.5C296.83,115 297.33,117.17 297,118C296.67,118.83 294.92,119.5 294,119.5C293.08,119.5 291.83,118.75 291.5,118C291.17,117.25 291.25,115.58 292,115Z" fill="#95f5d0" stroke="#95f5d0" stroke-width="1.6" stroke-linejoin="round" />
<path d="M232.4,117.5C232.28,116.27 233.28,114.03 234.4,112.8C235.52,111.57 237.53,110.33 239.1,110.1C240.67,109.87 242.57,110.83 243.8,111.4C245.03,111.97 246.27,112.48 246.5,113.5C246.73,114.52 245.75,116.05 245.2,117.5C244.65,118.95 244.22,121.3 243.2,122.2C242.18,123.1 240.45,123.23 239.1,122.9C237.75,122.57 236.22,121.1 235.1,120.2C233.98,119.3 232.52,118.73 232.4,117.5Z" fill="#b5b83a" stroke="#b5b83a" stroke-width="1.6" stroke-linejoin="round" />
<path d="M230.4,121.5C230.62,120.37 231.5,119.25 232.4,118.8C233.3,118.35 234.57,118.23 235.8,118.8C237.03,119.37 239.02,120.97 239.8,122.2C240.58,123.43 240.83,125.18 240.5,126.2C240.17,127.22 238.93,128.07 237.8,128.3C236.67,128.53 234.82,128.05 233.7,127.6C232.58,127.15 231.65,126.62 231.1,125.6C230.55,124.58 230.18,122.63 230.4,121.5Z" fill="#8c2c10" stroke="#8c2c10" stroke-width="1.6" stroke-linejoin="round" />
<path d="M244.5,114.8C245.4,113.68 247.37,113.38 248.6,113.5C249.83,113.62 250.78,114.72 251.9,115.5C253.02,116.28 254.3,117.08 255.3,118.2C256.3,119.32 257.57,120.87 257.9,122.2C258.23,123.53 258.07,125.08 257.3,126.2C256.53,127.32 254.75,128.33 253.3,128.9C251.85,129.47 249.73,130.05 248.6,129.6C247.47,129.15 247.07,127.32 246.5,126.2C245.93,125.08 245.75,123.9 245.2,122.9C244.65,121.9 243.32,121.55 243.2,120.2C243.08,118.85 243.6,115.92 244.5,114.8Z" fill="#7b3bd4" stroke="#7b3bd4" stroke-width="1.6" stroke-linejoin="round" />
<path d="M235.8,126.9C236.02,125.88 237.77,124.87 239.1,124.2C240.43,123.53 242.33,122.78 243.8,122.9C245.27,123.02 247,123.9 247.9,124.9C248.8,125.9 249.43,127.78 249.2,128.9C248.97,130.02 247.73,131.03 246.5,131.6C245.27,132.17 243.25,132.52 241.8,132.3C240.35,132.08 238.8,131.2 237.8,130.3C236.8,129.4 235.58,127.92 235.8,126.9Z" fill="#9413a3" stroke="#9413a3" stroke-width="1.6" stroke-linejoin="round" />
<path d="M265.4,119.5C266.08,118.05 267.1,117.62 268.1,117.5C269.1,117.38 270.4,118.68 271.4,118.8C272.4,118.92 273.53,117.63 274.1,118.2C274.67,118.77 274.47,120.97 274.8,122.2C275.13,123.43 276.22,124.7 276.1,125.6C275.98,126.5 275.22,127.38 274.1,127.6C272.98,127.82 270.85,126.68 269.4,126.9C267.95,127.12 266.3,129.02 265.4,128.9C264.5,128.78 264,127.77 264,126.2C264,124.63 264.72,120.95 265.4,119.5Z" fill="#f01212" stroke="#f01212" stroke-width="1.6" stroke-linejoin="round" />
<path d="M278.2,126.2C278.32,125.3 280.02,123.68 280.9,122.9C281.78,122.12 282.62,121.17 283.5,121.5C284.38,121.83 285.4,123.77 286.2,124.9C287,126.03 288.52,127.63 288.3,128.3C288.08,128.97 286.25,128.9 284.9,128.9C283.55,128.9 281.32,128.75 280.2,128.3C279.08,127.85 278.08,127.1 278.2,126.2Z" fill="#0c14f8" stroke="#0c14f8" stroke-width="1.6" stroke-linejoin="round" />
<path d="M266,131.6C266.33,130.7 267.57,130.05 268.7,129.6C269.83,129.15 271.45,128.9 272.8,128.9C274.15,128.9 276.02,128.92 276.8,129.6C277.58,130.28 277.95,132.22 277.5,133C277.05,133.78 275.33,133.92 274.1,134.3C272.87,134.68 271.33,135.18 270.1,135.3C268.87,135.42 267.38,135.62 266.7,135C266.02,134.38 265.67,132.5 266,131.6Z" fill="#8470c8" stroke="#8470c8" stroke-width="1.6" stroke-linejoin="round" />
<ellipse cx="259.5" cy="109.5" rx="1.8" ry="1.0" fill="#fff" fill-opacity="0.9"/>
<ellipse cx="263" cy="110.5" rx="2.0" ry="1.1" fill="#fff" fill-opacity="0.9"/>
<ellipse cx="266.5" cy="109.2" rx="1.3" ry="0.8" fill="#fff" fill-opacity="0.9"/>
<ellipse cx="261.5" cy="111.8" rx="1.2" ry="0.7" fill="#fff" fill-opacity="0.9"/>
<rect x="196.2" y="22.3" width="130.3" height="129" fill="none" stroke="#1a1a1a" stroke-width="1.15"/>
<line x1="193.1" y1="22.3" x2="196.2" y2="22.3" stroke="#1a1a1a" stroke-width="1.0" />
<line x1="196.2" y1="151.3" x2="196.2" y2="154.4" stroke="#1a1a1a" stroke-width="1.0" />
<line x1="193.1" y1="35.2" x2="196.2" y2="35.2" stroke="#1a1a1a" stroke-width="1.0" />
<line x1="209.23" y1="151.3" x2="209.23" y2="154.4" stroke="#1a1a1a" stroke-width="1.0" />
<line x1="193.1" y1="48.1" x2="196.2" y2="48.1" stroke="#1a1a1a" stroke-width="1.0" />
<line x1="222.26" y1="151.3" x2="222.26" y2="154.4" stroke="#1a1a1a" stroke-width="1.0" />
<line x1="193.1" y1="61" x2="196.2" y2="61" stroke="#1a1a1a" stroke-width="1.0" />
<line x1="235.29" y1="151.3" x2="235.29" y2="154.4" stroke="#1a1a1a" stroke-width="1.0" />
<line x1="193.1" y1="73.9" x2="196.2" y2="73.9" stroke="#1a1a1a" stroke-width="1.0" />
<line x1="248.32" y1="151.3" x2="248.32" y2="154.4" stroke="#1a1a1a" stroke-width="1.0" />
<line x1="193.1" y1="86.8" x2="196.2" y2="86.8" stroke="#1a1a1a" stroke-width="1.0" />
<line x1="261.35" y1="151.3" x2="261.35" y2="154.4" stroke="#1a1a1a" stroke-width="1.0" />
<line x1="193.1" y1="99.7" x2="196.2" y2="99.7" stroke="#1a1a1a" stroke-width="1.0" />
<line x1="274.38" y1="151.3" x2="274.38" y2="154.4" stroke="#1a1a1a" stroke-width="1.0" />
<line x1="193.1" y1="112.6" x2="196.2" y2="112.6" stroke="#1a1a1a" stroke-width="1.0" />
<line x1="287.41" y1="151.3" x2="287.41" y2="154.4" stroke="#1a1a1a" stroke-width="1.0" />
<line x1="193.1" y1="125.5" x2="196.2" y2="125.5" stroke="#1a1a1a" stroke-width="1.0" />
<line x1="300.44" y1="151.3" x2="300.44" y2="154.4" stroke="#1a1a1a" stroke-width="1.0" />
<line x1="193.1" y1="138.4" x2="196.2" y2="138.4" stroke="#1a1a1a" stroke-width="1.0" />
<line x1="313.47" y1="151.3" x2="313.47" y2="154.4" stroke="#1a1a1a" stroke-width="1.0" />
<line x1="193.1" y1="151.3" x2="196.2" y2="151.3" stroke="#1a1a1a" stroke-width="1.0" />
<line x1="326.5" y1="151.3" x2="326.5" y2="154.4" stroke="#1a1a1a" stroke-width="1.0" />
<text x="189.6" y="86.5" font-size="7.8" fill="#000" text-anchor="middle" textLength="15.3" lengthAdjust="spacingAndGlyphs" transform="rotate(-90 189.6 86.5)" stroke="#1a1a1a" stroke-width="0.3">tSNE2</text>
<text x="261" y="165.6" font-size="7.8" fill="#000" text-anchor="middle" textLength="15.5" lengthAdjust="spacingAndGlyphs" stroke="#1a1a1a" stroke-width="0.3">tSNE1</text>
<rect x="49.7" y="299.65" width="11.1" height="10.05" fill="#d57c92"/>
<rect x="67.7" y="268.06" width="11.2" height="41.64" fill="#d57c92"/>
<rect x="85.8" y="261.16" width="11.1" height="48.54" fill="#d57c92"/>
<rect x="116.2" y="298.93" width="10.7" height="10.77" fill="#95a6c3"/>
<rect x="134.2" y="268.49" width="10.7" height="41.21" fill="#95a6c3"/>
<rect x="152" y="248.53" width="11" height="61.17" fill="#95a6c3"/>
<line x1="55.25" y1="293.5" x2="55.25" y2="306.5" stroke="#1a1a1a" stroke-width="1.1" />
<line x1="52.45" y1="293.5" x2="58.05" y2="293.5" stroke="#1a1a1a" stroke-width="1.1" />
<line x1="52.45" y1="306.5" x2="58.05" y2="306.5" stroke="#1a1a1a" stroke-width="1.1" />
<line x1="73.3" y1="251.8" x2="73.3" y2="283.5" stroke="#1a1a1a" stroke-width="1.1" />
<line x1="70.5" y1="251.8" x2="76.1" y2="251.8" stroke="#1a1a1a" stroke-width="1.1" />
<line x1="70.5" y1="283.5" x2="76.1" y2="283.5" stroke="#1a1a1a" stroke-width="1.1" />
<line x1="91.35" y1="248.5" x2="91.35" y2="272.6" stroke="#1a1a1a" stroke-width="1.1" />
<line x1="88.55" y1="248.5" x2="94.15" y2="248.5" stroke="#1a1a1a" stroke-width="1.1" />
<line x1="88.55" y1="272.6" x2="94.15" y2="272.6" stroke="#1a1a1a" stroke-width="1.1" />
<line x1="121.5" y1="292.3" x2="121.5" y2="305.4" stroke="#1a1a1a" stroke-width="1.1" />
<line x1="118.7" y1="292.3" x2="124.3" y2="292.3" stroke="#1a1a1a" stroke-width="1.1" />
<line x1="118.7" y1="305.4" x2="124.3" y2="305.4" stroke="#1a1a1a" stroke-width="1.1" />
<line x1="139.5" y1="259.7" x2="139.5" y2="277" stroke="#1a1a1a" stroke-width="1.1" />
<line x1="136.7" y1="259.7" x2="142.3" y2="259.7" stroke="#1a1a1a" stroke-width="1.1" />
<line x1="136.7" y1="277" x2="142.3" y2="277" stroke="#1a1a1a" stroke-width="1.1" />
<line x1="157.5" y1="234.9" x2="157.5" y2="261.2" stroke="#1a1a1a" stroke-width="1.1" />
<line x1="154.7" y1="234.9" x2="160.3" y2="234.9" stroke="#1a1a1a" stroke-width="1.1" />
<line x1="154.7" y1="261.2" x2="160.3" y2="261.2" stroke="#1a1a1a" stroke-width="1.1" />
<circle cx="55" cy="281.2" r="1.6" fill="none" stroke="#c8143c" stroke-width="1.0"/>
<circle cx="55" cy="303.4" r="1.6" fill="none" stroke="#c8143c" stroke-width="1.0"/>
<circle cx="52.4" cy="307.3" r="1.6" fill="none" stroke="#c8143c" stroke-width="1.0"/>
<circle cx="57.6" cy="307.3" r="1.6" fill="none" stroke="#c8143c" stroke-width="1.0"/>
<circle cx="73.2" cy="221.4" r="1.6" fill="none" stroke="#c8143c" stroke-width="1.0"/>
<circle cx="73.2" cy="273" r="1.6" fill="none" stroke="#c8143c" stroke-width="1.0"/>
<circle cx="73.2" cy="285" r="1.6" fill="none" stroke="#c8143c" stroke-width="1.0"/>
<circle cx="73.2" cy="291.2" r="1.6" fill="none" stroke="#c8143c" stroke-width="1.0"/>
<circle cx="91.4" cy="217" r="1.6" fill="none" stroke="#c8143c" stroke-width="1.0"/>
<circle cx="91.4" cy="253.5" r="1.6" fill="none" stroke="#c8143c" stroke-width="1.0"/>
<circle cx="91.4" cy="272.3" r="1.6" fill="none" stroke="#c8143c" stroke-width="1.0"/>
<circle cx="91.4" cy="277.5" r="1.6" fill="none" stroke="#c8143c" stroke-width="1.0"/>
<circle cx="91.4" cy="283.7" r="1.6" fill="none" stroke="#c8143c" stroke-width="1.0"/>
<rect x="120.05" y="278.85" width="2.9" height="2.9" fill="#1f3d80"/>
<rect x="117.15" y="301.35" width="2.9" height="2.9" fill="#1f3d80"/>
<rect x="122.55" y="302.95" width="2.9" height="2.9" fill="#1f3d80"/>
<rect x="120.05" y="306.75" width="2.9" height="2.9" fill="#1f3d80"/>
<rect x="138.05" y="244.85" width="2.9" height="2.9" fill="#1f3d80"/>
<rect x="138.05" y="262.75" width="2.9" height="2.9" fill="#1f3d80"/>
<rect x="138.05" y="276.05" width="2.9" height="2.9" fill="#1f3d80"/>
<rect x="138.05" y="284.05" width="2.9" height="2.9" fill="#1f3d80"/>
<rect x="156.05" y="208.35" width="2.9" height="2.9" fill="#1f3d80"/>
<rect x="156.05" y="226.55" width="2.9" height="2.9" fill="#1f3d80"/>
<rect x="156.05" y="249.15" width="2.9" height="2.9" fill="#1f3d80"/>
<rect x="153.55" y="274.75" width="2.9" height="2.9" fill="#1f3d80"/>
<rect x="158.85" y="274.05" width="2.9" height="2.9" fill="#1f3d80"/>
<line x1="43.1" y1="192.2" x2="43.1" y2="310.2" stroke="#1a1a1a" stroke-width="1.2" />
<line x1="42.5" y1="309.7" x2="170.2" y2="309.7" stroke="#1a1a1a" stroke-width="1.2" />
<line x1="39.9" y1="309.7" x2="43.1" y2="309.7" stroke="#1a1a1a" stroke-width="1.0" />
<text x="37.2" y="312.1" font-size="6.8" fill="#222" text-anchor="end" textLength="3.5" lengthAdjust="spacingAndGlyphs" >0</text>
<line x1="39.9" y1="280.98" x2="43.1" y2="280.98" stroke="#1a1a1a" stroke-width="1.0" />
<text x="37.2" y="283.38" font-size="6.8" fill="#222" text-anchor="end" textLength="10.6" lengthAdjust="spacingAndGlyphs" >200</text>
<line x1="39.9" y1="252.26" x2="43.1" y2="252.26" stroke="#1a1a1a" stroke-width="1.0" />
<text x="37.2" y="254.66" font-size="6.8" fill="#222" text-anchor="end" textLength="10.6" lengthAdjust="spacingAndGlyphs" >400</text>
<line x1="39.9" y1="223.54" x2="43.1" y2="223.54" stroke="#1a1a1a" stroke-width="1.0" />
<text x="37.2" y="225.94" font-size="6.8" fill="#222" text-anchor="end" textLength="10.6" lengthAdjust="spacingAndGlyphs" >600</text>
<line x1="39.9" y1="194.82" x2="43.1" y2="194.82" stroke="#1a1a1a" stroke-width="1.0" />
<text x="37.2" y="197.22" font-size="6.8" fill="#222" text-anchor="end" textLength="10.6" lengthAdjust="spacingAndGlyphs" >800</text>
<line x1="41.5" y1="303.96" x2="43.1" y2="303.96" stroke="#1a1a1a" stroke-width="0.8" />
<line x1="41.5" y1="298.21" x2="43.1" y2="298.21" stroke="#1a1a1a" stroke-width="0.8" />
<line x1="41.5" y1="292.47" x2="43.1" y2="292.47" stroke="#1a1a1a" stroke-width="0.8" />
<line x1="41.5" y1="286.72" x2="43.1" y2="286.72" stroke="#1a1a1a" stroke-width="0.8" />
<line x1="41.5" y1="275.24" x2="43.1" y2="275.24" stroke="#1a1a1a" stroke-width="0.8" />
<line x1="41.5" y1="269.49" x2="43.1" y2="269.49" stroke="#1a1a1a" stroke-width="0.8" />
<line x1="41.5" y1="263.75" x2="43.1" y2="263.75" stroke="#1a1a1a" stroke-width="0.8" />
<line x1="41.5" y1="258" x2="43.1" y2="258" stroke="#1a1a1a" stroke-width="0.8" />
<line x1="41.5" y1="246.52" x2="43.1" y2="246.52" stroke="#1a1a1a" stroke-width="0.8" />
<line x1="41.5" y1="240.77" x2="43.1" y2="240.77" stroke="#1a1a1a" stroke-width="0.8" />
<line x1="41.5" y1="235.03" x2="43.1" y2="235.03" stroke="#1a1a1a" stroke-width="0.8" />
<line x1="41.5" y1="229.28" x2="43.1" y2="229.28" stroke="#1a1a1a" stroke-width="0.8" />
<line x1="41.5" y1="217.8" x2="43.1" y2="217.8" stroke="#1a1a1a" stroke-width="0.8" />
<line x1="41.5" y1="212.05" x2="43.1" y2="212.05" stroke="#1a1a1a" stroke-width="0.8" />
<line x1="41.5" y1="206.31" x2="43.1" y2="206.31" stroke="#1a1a1a" stroke-width="0.8" />
<line x1="41.5" y1="200.56" x2="43.1" y2="200.56" stroke="#1a1a1a" stroke-width="0.8" />
<line x1="55.25" y1="309.7" x2="55.25" y2="311.9" stroke="#1a1a1a" stroke-width="0.9" />
<line x1="73.3" y1="309.7" x2="73.3" y2="311.9" stroke="#1a1a1a" stroke-width="0.9" />
<line x1="91.35" y1="309.7" x2="91.35" y2="311.9" stroke="#1a1a1a" stroke-width="0.9" />
<line x1="121.5" y1="309.7" x2="121.5" y2="311.9" stroke="#1a1a1a" stroke-width="0.9" />
<line x1="139.5" y1="309.7" x2="139.5" y2="311.9" stroke="#1a1a1a" stroke-width="0.9" />
<line x1="157.5" y1="309.7" x2="157.5" y2="311.9" stroke="#1a1a1a" stroke-width="0.9" />
<text x="55.3" y="321.6" font-size="6.8" fill="#222" text-anchor="middle" >PBS</text>
<text x="73.3" y="321.6" font-size="6.8" fill="#222" text-anchor="middle" >MSC</text>
<text x="91.4" y="321.6" font-size="6.8" fill="#222" text-anchor="middle" >CpG-</text>
<text x="121.5" y="321.6" font-size="6.8" fill="#222" text-anchor="middle" >PBS</text>
<text x="139.5" y="321.6" font-size="6.8" fill="#222" text-anchor="middle" >MSC</text>
<text x="157.5" y="321.6" font-size="6.8" fill="#222" text-anchor="middle" >CpG-</text>
<text x="91.4" y="328.8" font-size="6.8" fill="#222" text-anchor="middle" >MSC</text>
<text x="157.5" y="328.8" font-size="6.8" fill="#222" text-anchor="middle" >MSC</text>
<text x="21.5" y="251" font-size="8.4" fill="#222" text-anchor="middle" textLength="30.2" lengthAdjust="spacingAndGlyphs" transform="rotate(-90 21.5 251)" stroke="#1a1a1a" stroke-width="0.3">Event count</text>
<line x1="56.2" y1="204.3" x2="91" y2="204.3" stroke="#1a1a1a" stroke-width="1.1" />
<text x="73.5" y="204" font-size="6.5" fill="#000" text-anchor="middle" >*</text>
<line x1="123.7" y1="204.3" x2="157.8" y2="204.3" stroke="#1a1a1a" stroke-width="1.1" />
<text x="140" y="204" font-size="6.5" fill="#000" text-anchor="middle" >**</text>
<circle cx="75.3" cy="186" r="1.45" fill="none" stroke="#c8143c" stroke-width="0.95"/>
<text x="79.5" y="188.3" font-size="6.4" fill="#222" textLength="24" lengthAdjust="spacingAndGlyphs" >Cluster 23</text>
<rect x="109.3" y="184.5" width="3" height="3" fill="#1f3d80"/>
<text x="115.5" y="188.3" font-size="6.4" fill="#222" textLength="23.8" lengthAdjust="spacingAndGlyphs" >Cluster 28</text>
<rect x="219" y="227" width="17.91" height="18.55" fill="#3c3cf4"/>
<rect x="219" y="245.55" width="17.91" height="18.55" fill="#4a4af2"/>
<rect x="236.86" y="227" width="17.91" height="18.55" fill="#ffffff"/>
<rect x="236.86" y="245.55" width="17.91" height="18.55" fill="#ffffff"/>
<rect x="254.72" y="227" width="17.91" height="18.55" fill="#f8f9fd"/>
<rect x="254.72" y="245.55" width="17.91" height="18.55" fill="#ffffff"/>
<rect x="272.58" y="227" width="17.91" height="18.55" fill="#ffffff"/>
<rect x="272.58" y="245.55" width="17.91" height="18.55" fill="#ffffff"/>
<rect x="290.44" y="227" width="17.91" height="18.55" fill="#d3d3fa"/>
<rect x="290.44" y="245.55" width="17.91" height="18.55" fill="#a5a5f6"/>
<rect x="308.3" y="227" width="17.91" height="18.55" fill="#6464f3"/>
<rect x="308.3" y="245.55" width="17.91" height="18.55" fill="#8484f3"/>
<rect x="326.16" y="227" width="17.91" height="18.55" fill="#eeeef9"/>
<rect x="326.16" y="245.55" width="17.91" height="18.55" fill="#eeeef9"/>
<rect x="344.02" y="227" width="17.91" height="18.55" fill="#4545f3"/>
<rect x="344.02" y="245.55" width="17.91" height="18.55" fill="#2424f1"/>
<rect x="361.88" y="227" width="17.91" height="18.55" fill="#ffffff"/>
<rect x="361.88" y="245.55" width="17.91" height="18.55" fill="#ffffff"/>
<rect x="379.74" y="227" width="17.91" height="18.55" fill="#ffffff"/>
<rect x="379.74" y="245.55" width="17.91" height="18.55" fill="#ffffff"/>
<rect x="397.6" y="227" width="17.91" height="18.55" fill="#ffffff"/>
<rect x="397.6" y="245.55" width="17.91" height="18.55" fill="#ffffff"/>
<rect x="415.46" y="227" width="17.91" height="18.55" fill="#f0f0fc"/>
<rect x="415.46" y="245.55" width="17.91" height="18.55" fill="#b8b8f8"/>
<rect x="433.32" y="227" width="17.91" height="18.55" fill="#7b7bf2"/>
<rect x="433.32" y="245.55" width="17.91" height="18.55" fill="#d0d0fa"/>
<rect x="451.18" y="227" width="17.91" height="18.55" fill="#ffffff"/>
<rect x="451.18" y="245.55" width="17.91" height="18.55" fill="#ffffff"/>
<rect x="469.04" y="227" width="17.91" height="18.55" fill="#0000fd"/>
<rect x="469.04" y="245.55" width="17.91" height="18.55" fill="#1a1af2"/>
<line x1="236.86" y1="227" x2="236.86" y2="264.1" stroke="#d4d4d4" stroke-width="0.9" />
<line x1="254.72" y1="227" x2="254.72" y2="264.1" stroke="#d4d4d4" stroke-width="0.9" />
<line x1="272.58" y1="227" x2="272.58" y2="264.1" stroke="#d4d4d4" stroke-width="0.9" />
<line x1="290.44" y1="227" x2="290.44" y2="264.1" stroke="#d4d4d4" stroke-width="0.9" />
<line x1="308.3" y1="227" x2="308.3" y2="264.1" stroke="#d4d4d4" stroke-width="0.9" />
<line x1="326.16" y1="227" x2="326.16" y2="264.1" stroke="#d4d4d4" stroke-width="0.9" />
<line x1="344.02" y1="227" x2="344.02" y2="264.1" stroke="#d4d4d4" stroke-width="0.9" />
<line x1="361.88" y1="227" x2="361.88" y2="264.1" stroke="#d4d4d4" stroke-width="0.9" />
<line x1="379.74" y1="227" x2="379.74" y2="264.1" stroke="#d4d4d4" stroke-width="0.9" />
<line x1="397.6" y1="227" x2="397.6" y2="264.1" stroke="#d4d4d4" stroke-width="0.9" />
<line x1="415.46" y1="227" x2="415.46" y2="264.1" stroke="#d4d4d4" stroke-width="0.9" />
<line x1="433.32" y1="227" x2="433.32" y2="264.1" stroke="#d4d4d4" stroke-width="0.9" />
<line x1="451.18" y1="227" x2="451.18" y2="264.1" stroke="#d4d4d4" stroke-width="0.9" />
<line x1="469.04" y1="227" x2="469.04" y2="264.1" stroke="#d4d4d4" stroke-width="0.9" />
<line x1="219" y1="245.55" x2="486.9" y2="245.55" stroke="#e2e2e2" stroke-width="1.1" />
<rect x="219" y="227" width="267.9" height="37.1" fill="none" stroke="#111" stroke-width="1.2"/>
<line x1="227.93" y1="264.1" x2="227.93" y2="266.3" stroke="#1a1a1a" stroke-width="0.9" />
<text x="231.43" y="272.9" font-size="7.0" fill="#1a1a1a" text-anchor="end" transform="rotate(-45 231.43 272.9)" stroke="#1a1a1a" stroke-width="0.15">CD45</text>
<line x1="245.79" y1="264.1" x2="245.79" y2="266.3" stroke="#1a1a1a" stroke-width="0.9" />
<text x="249.29" y="272.9" font-size="7.0" fill="#1a1a1a" text-anchor="end" transform="rotate(-45 249.29 272.9)" stroke="#1a1a1a" stroke-width="0.15">B220</text>
<line x1="263.65" y1="264.1" x2="263.65" y2="266.3" stroke="#1a1a1a" stroke-width="0.9" />
<text x="267.15" y="272.9" font-size="7.0" fill="#1a1a1a" text-anchor="end" transform="rotate(-45 267.15 272.9)" stroke="#1a1a1a" stroke-width="0.15">TER119</text>
<line x1="281.51" y1="264.1" x2="281.51" y2="266.3" stroke="#1a1a1a" stroke-width="0.9" />
<text x="285.01" y="272.9" font-size="7.0" fill="#1a1a1a" text-anchor="end" transform="rotate(-45 285.01 272.9)" stroke="#1a1a1a" stroke-width="0.15">CD11c</text>
<line x1="299.37" y1="264.1" x2="299.37" y2="266.3" stroke="#1a1a1a" stroke-width="0.9" />
<text x="302.87" y="272.9" font-size="7.0" fill="#1a1a1a" text-anchor="end" transform="rotate(-45 302.87 272.9)" stroke="#1a1a1a" stroke-width="0.15">PU.1</text>
<line x1="317.23" y1="264.1" x2="317.23" y2="266.3" stroke="#1a1a1a" stroke-width="0.9" />
<text x="320.73" y="272.9" font-size="7.0" fill="#1a1a1a" text-anchor="end" transform="rotate(-45 320.73 272.9)" stroke="#1a1a1a" stroke-width="0.15">Ly6G</text>
<line x1="335.09" y1="264.1" x2="335.09" y2="266.3" stroke="#1a1a1a" stroke-width="0.9" />
<text x="338.59" y="272.9" font-size="7.0" fill="#1a1a1a" text-anchor="end" transform="rotate(-45 338.59 272.9)" stroke="#1a1a1a" stroke-width="0.15">CX3CR1</text>
<line x1="352.95" y1="264.1" x2="352.95" y2="266.3" stroke="#1a1a1a" stroke-width="0.9" />
<text x="356.45" y="272.9" font-size="7.0" fill="#1a1a1a" text-anchor="end" transform="rotate(-45 356.45 272.9)" stroke="#1a1a1a" stroke-width="0.15">Ly6C</text>
<line x1="370.81" y1="264.1" x2="370.81" y2="266.3" stroke="#1a1a1a" stroke-width="0.9" />
<text x="374.31" y="272.9" font-size="7.0" fill="#1a1a1a" text-anchor="end" transform="rotate(-45 374.31 272.9)" stroke="#1a1a1a" stroke-width="0.15">CD3</text>
<line x1="388.67" y1="264.1" x2="388.67" y2="266.3" stroke="#1a1a1a" stroke-width="0.9" />
<text x="392.17" y="272.9" font-size="7.0" fill="#1a1a1a" text-anchor="end" transform="rotate(-45 392.17 272.9)" stroke="#1a1a1a" stroke-width="0.15">CD19</text>
<line x1="406.53" y1="264.1" x2="406.53" y2="266.3" stroke="#1a1a1a" stroke-width="0.9" />
<text x="410.03" y="272.9" font-size="7.0" fill="#1a1a1a" text-anchor="end" transform="rotate(-45 410.03 272.9)" stroke="#1a1a1a" stroke-width="0.15">NK1.1</text>
<line x1="424.39" y1="264.1" x2="424.39" y2="266.3" stroke="#1a1a1a" stroke-width="0.9" />
<text x="427.89" y="272.9" font-size="7.0" fill="#1a1a1a" text-anchor="end" transform="rotate(-45 427.89 272.9)" stroke="#1a1a1a" stroke-width="0.15">Ki-67</text>
<line x1="442.25" y1="264.1" x2="442.25" y2="266.3" stroke="#1a1a1a" stroke-width="0.9" />
<text x="445.75" y="272.9" font-size="7.0" fill="#1a1a1a" text-anchor="end" transform="rotate(-45 445.75 272.9)" stroke="#1a1a1a" stroke-width="0.15">CXCR2</text>
<line x1="460.11" y1="264.1" x2="460.11" y2="266.3" stroke="#1a1a1a" stroke-width="0.9" />
<text x="463.61" y="272.9" font-size="7.0" fill="#1a1a1a" text-anchor="end" transform="rotate(-45 463.61 272.9)" stroke="#1a1a1a" stroke-width="0.15">CD34</text>
<line x1="477.97" y1="264.1" x2="477.97" y2="266.3" stroke="#1a1a1a" stroke-width="0.9" />
<text x="481.47" y="272.9" font-size="7.0" fill="#1a1a1a" text-anchor="end" transform="rotate(-45 481.47 272.9)" stroke="#1a1a1a" stroke-width="0.15">CD11b</text>
<line x1="216" y1="236.6" x2="219" y2="236.6" stroke="#1a1a1a" stroke-width="0.9" />
<line x1="216" y1="255" x2="219" y2="255" stroke="#1a1a1a" stroke-width="0.9" />
<text x="213.2" y="238.9" font-size="6.8" fill="#222" text-anchor="end" textLength="28.5" lengthAdjust="spacingAndGlyphs" >Cluster 23</text>
<text x="213.2" y="257.3" font-size="6.8" fill="#222" text-anchor="end" textLength="28.5" lengthAdjust="spacingAndGlyphs" >Cluster 28</text>
<defs><linearGradient id="cb" x1="0" y1="1" x2="0" y2="0"><stop offset="0" stop-color="#ffffff"/><stop offset="0.45" stop-color="#7c7cfa"/><stop offset="1" stop-color="#0000fa"/></linearGradient></defs>
<rect x="496.4" y="227.6" width="10.1" height="36.4" fill="url(#cb)" stroke="#111" stroke-width="1.1"/>
<line x1="496.4" y1="263.6" x2="506.5" y2="263.6" stroke="#333" stroke-width="1.4" />
<line x1="496.4" y1="238.4" x2="499.4" y2="238.4" stroke="#1a1a1a" stroke-width="1.0" />
<line x1="503.6" y1="238.4" x2="506.5" y2="238.4" stroke="#1a1a1a" stroke-width="1.0" />
<text x="509.5" y="240.8" font-size="6.8" fill="#222" >2</text>
<line x1="496.4" y1="251.2" x2="499.4" y2="251.2" stroke="#1a1a1a" stroke-width="1.0" />
<line x1="503.6" y1="251.2" x2="506.5" y2="251.2" stroke="#1a1a1a" stroke-width="1.0" />
<text x="509.5" y="253.6" font-size="6.8" fill="#222" >1</text>
<text x="509.5" y="266.2" font-size="6.8" fill="#222" >0</text>
<line x1="194.3" y1="367" x2="194.3" y2="439" stroke="#1a1a1a" stroke-width="1.1" />
<line x1="193.8" y1="438.5" x2="294.6" y2="438.5" stroke="#1a1a1a" stroke-width="1.1" />
<line x1="191.3" y1="438.5" x2="194.3" y2="438.5" stroke="#1a1a1a" stroke-width="0.9" />
<text x="189" y="440.9" font-size="6.8" fill="#222" text-anchor="end" textLength="3.55" lengthAdjust="spacingAndGlyphs" >0</text>
<line x1="191.3" y1="415.4" x2="194.3" y2="415.4" stroke="#1a1a1a" stroke-width="0.9" />
<text x="189" y="417.8" font-size="6.8" fill="#222" text-anchor="end" textLength="10.649999999999999" lengthAdjust="spacingAndGlyphs" >100</text>
<line x1="191.3" y1="392.3" x2="194.3" y2="392.3" stroke="#1a1a1a" stroke-width="0.9" />
<text x="189" y="394.7" font-size="6.8" fill="#222" text-anchor="end" textLength="10.649999999999999" lengthAdjust="spacingAndGlyphs" >200</text>
<line x1="191.3" y1="369.2" x2="194.3" y2="369.2" stroke="#1a1a1a" stroke-width="0.9" />
<text x="189" y="371.6" font-size="6.8" fill="#222" text-anchor="end" textLength="10.649999999999999" lengthAdjust="spacingAndGlyphs" >300</text>
<line x1="214.3" y1="438.5" x2="214.3" y2="441" stroke="#1a1a1a" stroke-width="0.9" />
<line x1="244.3" y1="438.5" x2="244.3" y2="441" stroke="#1a1a1a" stroke-width="0.9" />
<line x1="274.3" y1="438.5" x2="274.3" y2="441" stroke="#1a1a1a" stroke-width="0.9" />
<text x="214.3" y="449.6" font-size="6.6" fill="#222" text-anchor="middle" textLength="13" lengthAdjust="spacingAndGlyphs" >PBS</text>
<text x="244.3" y="449.6" font-size="6.6" fill="#222" text-anchor="middle" textLength="14.2" lengthAdjust="spacingAndGlyphs" >MSC</text>
<text x="274.3" y="449.6" font-size="6.6" fill="#222" text-anchor="middle" textLength="30" lengthAdjust="spacingAndGlyphs" >CpG-MSC</text>
<text x="244.5" y="361.7" font-size="8.2" fill="#111" text-anchor="middle" >LT-HSC</text>
<text x="171.6" y="403.5" font-size="7.6" fill="#222" text-anchor="middle" textLength="39.6" lengthAdjust="spacingAndGlyphs" transform="rotate(-90 171.6 403.5)" stroke="#1a1a1a" stroke-width="0.3">Number of cells</text>
<circle cx="214.3" cy="402.3" r="1.75" fill="#5aac2c"/>
<circle cx="214.3" cy="419.2" r="1.75" fill="#5aac2c"/>
<circle cx="209.6" cy="424.4" r="1.75" fill="#5aac2c"/>
<circle cx="214.3" cy="426.7" r="1.75" fill="#5aac2c"/>
<circle cx="209.6" cy="436" r="1.75" fill="#5aac2c"/>
<circle cx="214.3" cy="433.5" r="1.75" fill="#5aac2c"/>
<circle cx="220.1" cy="433" r="1.75" fill="#5aac2c"/>
<circle cx="220.1" cy="436.2" r="1.75" fill="#5aac2c"/>
<rect x="242.8" y="401" width="3" height="3" fill="#1d4a96"/>
<rect x="242.8" y="416.5" width="3" height="3" fill="#1d4a96"/>
<rect x="242.8" y="424.7" width="3" height="3" fill="#1d4a96"/>
<rect x="234.4" y="428.9" width="3" height="3" fill="#1d4a96"/>
<rect x="239.3" y="428.3" width="3" height="3" fill="#1d4a96"/>
<rect x="247.3" y="428.5" width="3" height="3" fill="#1d4a96"/>
<rect x="251.5" y="428.2" width="3" height="3" fill="#1d4a96"/>
<rect x="242.8" y="432" width="3" height="3" fill="#1d4a96"/>
<rect x="242.8" y="434.7" width="3" height="3" fill="#1d4a96"/>
<path d="M274.3,376.1L276.1,379.3L272.5,379.3Z" fill="#c3163c"/>
<path d="M274.3,403.5L276.1,406.7L272.5,406.7Z" fill="#c3163c"/>
<path d="M271.8,425.1L273.6,428.3L270,428.3Z" fill="#c3163c"/>
<path d="M276.8,425.1L278.6,428.3L275,428.3Z" fill="#c3163c"/>
<path d="M271.8,429.1L273.6,432.3L270,432.3Z" fill="#c3163c"/>
<path d="M276.8,429.6L278.6,432.8L275,432.8Z" fill="#c3163c"/>
<path d="M271.8,434.1L273.6,437.3L270,437.3Z" fill="#c3163c"/>
<path d="M276.8,434.1L278.6,437.3L275,437.3Z" fill="#c3163c"/>
<line x1="204.3" y1="429.4" x2="224.3" y2="429.4" stroke="#111" stroke-width="1.2" />
<line x1="234.3" y1="429.6" x2="254.3" y2="429.6" stroke="#111" stroke-width="1.2" />
<line x1="264.3" y1="428.3" x2="284.3" y2="428.3" stroke="#111" stroke-width="1.2" />
<line x1="344.5" y1="367.2" x2="344.5" y2="439.1" stroke="#1a1a1a" stroke-width="1.1" />
<line x1="344" y1="438.6" x2="444.6" y2="438.6" stroke="#1a1a1a" stroke-width="1.1" />
<line x1="341.5" y1="438.6" x2="344.5" y2="438.6" stroke="#1a1a1a" stroke-width="0.9" />
<text x="339.2" y="441" font-size="6.8" fill="#222" text-anchor="end" textLength="3.55" lengthAdjust="spacingAndGlyphs" >0</text>
<line x1="341.5" y1="421.3" x2="344.5" y2="421.3" stroke="#1a1a1a" stroke-width="0.9" />
<text x="339.2" y="423.7" font-size="6.8" fill="#222" text-anchor="end" textLength="10.649999999999999" lengthAdjust="spacingAndGlyphs" >200</text>
<line x1="341.5" y1="404" x2="344.5" y2="404" stroke="#1a1a1a" stroke-width="0.9" />
<text x="339.2" y="406.4" font-size="6.8" fill="#222" text-anchor="end" textLength="10.649999999999999" lengthAdjust="spacingAndGlyphs" >400</text>
<line x1="341.5" y1="386.7" x2="344.5" y2="386.7" stroke="#1a1a1a" stroke-width="0.9" />
<text x="339.2" y="389.1" font-size="6.8" fill="#222" text-anchor="end" textLength="10.649999999999999" lengthAdjust="spacingAndGlyphs" >600</text>
<line x1="341.5" y1="369.4" x2="344.5" y2="369.4" stroke="#1a1a1a" stroke-width="0.9" />
<text x="339.2" y="371.8" font-size="6.8" fill="#222" text-anchor="end" textLength="10.649999999999999" lengthAdjust="spacingAndGlyphs" >800</text>
<line x1="364.5" y1="438.6" x2="364.5" y2="441.1" stroke="#1a1a1a" stroke-width="0.9" />
<line x1="394.5" y1="438.6" x2="394.5" y2="441.1" stroke="#1a1a1a" stroke-width="0.9" />
<line x1="424.5" y1="438.6" x2="424.5" y2="441.1" stroke="#1a1a1a" stroke-width="0.9" />
<text x="364.5" y="449.7" font-size="6.6" fill="#222" text-anchor="middle" textLength="13" lengthAdjust="spacingAndGlyphs" >PBS</text>
<text x="394.5" y="449.7" font-size="6.6" fill="#222" text-anchor="middle" textLength="14.2" lengthAdjust="spacingAndGlyphs" >MSC</text>
<text x="424.5" y="449.7" font-size="6.6" fill="#222" text-anchor="middle" textLength="30" lengthAdjust="spacingAndGlyphs" >CpG-MSC</text>
<text x="395.2" y="362.4" font-size="8.2" fill="#111" text-anchor="middle" >HPC-2</text>
<text x="322.2" y="402.8" font-size="7.6" fill="#222" text-anchor="middle" textLength="39.6" lengthAdjust="spacingAndGlyphs" transform="rotate(-90 322.2 402.8)" stroke="#1a1a1a" stroke-width="0.3">Number of cells</text>
<circle cx="364.5" cy="389.6" r="1.75" fill="#5aac2c"/>
<circle cx="364.5" cy="414" r="1.75" fill="#5aac2c"/>
<circle cx="364.5" cy="422.7" r="1.75" fill="#5aac2c"/>
<circle cx="356.4" cy="428.5" r="1.75" fill="#5aac2c"/>
<circle cx="361.9" cy="431" r="1.75" fill="#5aac2c"/>
<circle cx="356.4" cy="433.8" r="1.75" fill="#5aac2c"/>
<circle cx="367.9" cy="433.8" r="1.75" fill="#5aac2c"/>
<circle cx="373.5" cy="432" r="1.75" fill="#5aac2c"/>
<rect x="393" y="402.5" width="3" height="3" fill="#1d4a96"/>
<rect x="393" y="404.5" width="3" height="3" fill="#1d4a96"/>
<rect x="393" y="406.4" width="3" height="3" fill="#1d4a96"/>
<rect x="393" y="412.2" width="3" height="3" fill="#1d4a96"/>
<rect x="393" y="424.5" width="3" height="3" fill="#1d4a96"/>
<rect x="387.3" y="426.5" width="3" height="3" fill="#1d4a96"/>
<rect x="393" y="429.5" width="3" height="3" fill="#1d4a96"/>
<rect x="387.3" y="433.7" width="3" height="3" fill="#1d4a96"/>
<rect x="393" y="433.7" width="3" height="3" fill="#1d4a96"/>
<rect x="398.6" y="433.7" width="3" height="3" fill="#1d4a96"/>
<path d="M424.5,385.4L426.3,388.6L422.7,388.6Z" fill="#c3163c"/>
<path d="M424.5,407.9L426.3,411.1L422.7,411.1Z" fill="#c3163c"/>
<path d="M419.1,414.6L420.9,417.8L417.3,417.8Z" fill="#c3163c"/>
<path d="M424.5,414.6L426.3,417.8L422.7,417.8Z" fill="#c3163c"/>
<path d="M429.9,414.6L431.7,417.8L428.1,417.8Z" fill="#c3163c"/>
<path d="M431,417.5L432.8,420.7L429.2,420.7Z" fill="#c3163c"/>
<path d="M424.5,429.1L426.3,432.3L422.7,432.3Z" fill="#c3163c"/>
<path d="M424.5,432.3L426.3,435.5L422.7,435.5Z" fill="#c3163c"/>
<line x1="354.5" y1="422.9" x2="374.5" y2="422.9" stroke="#111" stroke-width="1.2" />
<line x1="384.5" y1="423.8" x2="404.5" y2="423.8" stroke="#111" stroke-width="1.2" />
<line x1="414.5" y1="416.2" x2="434.5" y2="416.2" stroke="#111" stroke-width="1.2" />
<line x1="193.8" y1="483" x2="193.8" y2="554.7" stroke="#1a1a1a" stroke-width="1.1" />
<line x1="193.3" y1="554.2" x2="294.2" y2="554.2" stroke="#1a1a1a" stroke-width="1.1" />
<line x1="190.8" y1="554.2" x2="193.8" y2="554.2" stroke="#1a1a1a" stroke-width="0.9" />
<text x="188.5" y="556.6" font-size="6.8" fill="#222" text-anchor="end" textLength="3.55" lengthAdjust="spacingAndGlyphs" >0</text>
<line x1="190.8" y1="531.2" x2="193.8" y2="531.2" stroke="#1a1a1a" stroke-width="0.9" />
<text x="188.5" y="533.6" font-size="6.8" fill="#222" text-anchor="end" textLength="10.649999999999999" lengthAdjust="spacingAndGlyphs" >500</text>
<line x1="190.8" y1="508.2" x2="193.8" y2="508.2" stroke="#1a1a1a" stroke-width="0.9" />
<text x="188.5" y="510.6" font-size="6.8" fill="#222" text-anchor="end" textLength="14.2" lengthAdjust="spacingAndGlyphs" >1000</text>
<line x1="190.8" y1="485.2" x2="193.8" y2="485.2" stroke="#1a1a1a" stroke-width="0.9" />
<text x="188.5" y="487.6" font-size="6.8" fill="#222" text-anchor="end" textLength="14.2" lengthAdjust="spacingAndGlyphs" >1500</text>
<line x1="213.8" y1="554.2" x2="213.8" y2="556.7" stroke="#1a1a1a" stroke-width="0.9" />
<line x1="243.8" y1="554.2" x2="243.8" y2="556.7" stroke="#1a1a1a" stroke-width="0.9" />
<line x1="273.8" y1="554.2" x2="273.8" y2="556.7" stroke="#1a1a1a" stroke-width="0.9" />
<text x="213.8" y="565.3" font-size="6.6" fill="#222" text-anchor="middle" textLength="13" lengthAdjust="spacingAndGlyphs" >PBS</text>
<text x="243.8" y="565.3" font-size="6.6" fill="#222" text-anchor="middle" textLength="14.2" lengthAdjust="spacingAndGlyphs" >MSC</text>
<text x="273.8" y="565.3" font-size="6.6" fill="#222" text-anchor="middle" textLength="30" lengthAdjust="spacingAndGlyphs" >CpG-MSC</text>
<text x="244.6" y="477.4" font-size="8.2" fill="#111" text-anchor="middle" >MPP</text>
<text x="168" y="518.5" font-size="7.6" fill="#222" text-anchor="middle" textLength="39.6" lengthAdjust="spacingAndGlyphs" transform="rotate(-90 168 518.5)" stroke="#1a1a1a" stroke-width="0.3">Number of cells</text>
<circle cx="213.8" cy="502.2" r="1.75" fill="#5aac2c"/>
<circle cx="213.8" cy="518.8" r="1.75" fill="#5aac2c"/>
<circle cx="213.8" cy="529.7" r="1.75" fill="#5aac2c"/>
<circle cx="213.8" cy="543" r="1.75" fill="#5aac2c"/>
<circle cx="213.8" cy="548.4" r="1.75" fill="#5aac2c"/>
<circle cx="209" cy="552.3" r="1.75" fill="#5aac2c"/>
<circle cx="214" cy="551.2" r="1.75" fill="#5aac2c"/>
<circle cx="218.5" cy="551.8" r="1.75" fill="#5aac2c"/>
<rect x="242.3" y="511.1" width="3" height="3" fill="#1d4a96"/>
<rect x="248" y="510" width="3" height="3" fill="#1d4a96"/>
<rect x="242.3" y="519.7" width="3" height="3" fill="#1d4a96"/>
<rect x="242.3" y="534.2" width="3" height="3" fill="#1d4a96"/>
<rect x="242.3" y="541.1" width="3" height="3" fill="#1d4a96"/>
<rect x="236.4" y="546.2" width="3" height="3" fill="#1d4a96"/>
<rect x="242.3" y="546.9" width="3" height="3" fill="#1d4a96"/>
<rect x="248.4" y="548.5" width="3" height="3" fill="#1d4a96"/>
<rect x="236.4" y="550.1" width="3" height="3" fill="#1d4a96"/>
<path d="M273.8,489.7L275.6,492.9L272,492.9Z" fill="#c3163c"/>
<path d="M273.8,514.6L275.6,517.8L272,517.8Z" fill="#c3163c"/>
<path d="M273.8,519.3L275.6,522.5L272,522.5Z" fill="#c3163c"/>
<path d="M273.8,524.3L275.6,527.5L272,527.5Z" fill="#c3163c"/>
<path d="M268.5,532.6L270.3,535.8L266.7,535.8Z" fill="#c3163c"/>
<path d="M279,532.6L280.8,535.8L277.2,535.8Z" fill="#c3163c"/>
<path d="M273.8,541.6L275.6,544.8L272,544.8Z" fill="#c3163c"/>
<path d="M273.8,546.5L275.6,549.7L272,549.7Z" fill="#c3163c"/>
<path d="M273.8,550.9L275.6,554.1L272,554.1Z" fill="#c3163c"/>
<line x1="203.8" y1="537.3" x2="223.8" y2="537.3" stroke="#111" stroke-width="1.2" />
<line x1="233.8" y1="535.7" x2="253.8" y2="535.7" stroke="#111" stroke-width="1.2" />
<line x1="263.8" y1="529.7" x2="283.8" y2="529.7" stroke="#111" stroke-width="1.2" />
<line x1="344.7" y1="482.2" x2="344.7" y2="554.7" stroke="#1a1a1a" stroke-width="1.1" />
<line x1="344.2" y1="554.2" x2="444.8" y2="554.2" stroke="#1a1a1a" stroke-width="1.1" />
<line x1="341.7" y1="554.2" x2="344.7" y2="554.2" stroke="#1a1a1a" stroke-width="0.9" />
<text x="339.4" y="556.6" font-size="6.8" fill="#222" text-anchor="end" textLength="3.55" lengthAdjust="spacingAndGlyphs" >0</text>
<line x1="341.7" y1="540.24" x2="344.7" y2="540.24" stroke="#1a1a1a" stroke-width="0.9" />
<text x="339.4" y="542.64" font-size="6.8" fill="#222" text-anchor="end" textLength="10.649999999999999" lengthAdjust="spacingAndGlyphs" >100</text>
<line x1="341.7" y1="526.28" x2="344.7" y2="526.28" stroke="#1a1a1a" stroke-width="0.9" />
<text x="339.4" y="528.68" font-size="6.8" fill="#222" text-anchor="end" textLength="10.649999999999999" lengthAdjust="spacingAndGlyphs" >200</text>
<line x1="341.7" y1="512.32" x2="344.7" y2="512.32" stroke="#1a1a1a" stroke-width="0.9" />
<text x="339.4" y="514.72" font-size="6.8" fill="#222" text-anchor="end" textLength="10.649999999999999" lengthAdjust="spacingAndGlyphs" >300</text>
<line x1="341.7" y1="498.36" x2="344.7" y2="498.36" stroke="#1a1a1a" stroke-width="0.9" />
<text x="339.4" y="500.76" font-size="6.8" fill="#222" text-anchor="end" textLength="10.649999999999999" lengthAdjust="spacingAndGlyphs" >400</text>
<line x1="341.7" y1="484.4" x2="344.7" y2="484.4" stroke="#1a1a1a" stroke-width="0.9" />
<text x="339.4" y="486.8" font-size="6.8" fill="#222" text-anchor="end" textLength="10.649999999999999" lengthAdjust="spacingAndGlyphs" >500</text>
<line x1="364.7" y1="554.2" x2="364.7" y2="556.7" stroke="#1a1a1a" stroke-width="0.9" />
<line x1="394.7" y1="554.2" x2="394.7" y2="556.7" stroke="#1a1a1a" stroke-width="0.9" />
<line x1="424.7" y1="554.2" x2="424.7" y2="556.7" stroke="#1a1a1a" stroke-width="0.9" />
<text x="364.7" y="565.3" font-size="6.6" fill="#222" text-anchor="middle" textLength="13" lengthAdjust="spacingAndGlyphs" >PBS</text>
<text x="394.7" y="565.3" font-size="6.6" fill="#222" text-anchor="middle" textLength="14.2" lengthAdjust="spacingAndGlyphs" >MSC</text>
<text x="424.7" y="565.3" font-size="6.6" fill="#222" text-anchor="middle" textLength="30" lengthAdjust="spacingAndGlyphs" >CpG-MSC</text>
<text x="395" y="471.2" font-size="8.2" fill="#111" text-anchor="middle" >HPC-1</text>
<text x="322.5" y="518.5" font-size="7.6" fill="#222" text-anchor="middle" textLength="39.6" lengthAdjust="spacingAndGlyphs" transform="rotate(-90 322.5 518.5)" stroke="#1a1a1a" stroke-width="0.3">Number of cells</text>
<circle cx="364.7" cy="502.8" r="1.75" fill="#5aac2c"/>
<circle cx="364.7" cy="532.4" r="1.75" fill="#5aac2c"/>
<circle cx="364.7" cy="539.2" r="1.75" fill="#5aac2c"/>
<circle cx="359.7" cy="545.7" r="1.75" fill="#5aac2c"/>
<circle cx="369.7" cy="545.7" r="1.75" fill="#5aac2c"/>
<circle cx="364.7" cy="548.3" r="1.75" fill="#5aac2c"/>
<circle cx="369.7" cy="548.5" r="1.75" fill="#5aac2c"/>
<circle cx="359.7" cy="550.8" r="1.75" fill="#5aac2c"/>
<rect x="393.2" y="510.2" width="3" height="3" fill="#1d4a96"/>
<rect x="393.2" y="523.1" width="3" height="3" fill="#1d4a96"/>
<rect x="393.2" y="529.5" width="3" height="3" fill="#1d4a96"/>
<rect x="393.2" y="538.9" width="3" height="3" fill="#1d4a96"/>
<rect x="387.8" y="542.5" width="3" height="3" fill="#1d4a96"/>
<rect x="387.8" y="546.1" width="3" height="3" fill="#1d4a96"/>
<rect x="393.2" y="544.2" width="3" height="3" fill="#1d4a96"/>
<rect x="398.7" y="545.1" width="3" height="3" fill="#1d4a96"/>
<path d="M421.7,493.9L423.5,497.1L419.9,497.1Z" fill="#c3163c"/>
<path d="M427.7,495.1L429.5,498.3L425.9,498.3Z" fill="#c3163c"/>
<path d="M424.7,509.4L426.5,512.6L422.9,512.6Z" fill="#c3163c"/>
<path d="M419.3,511.9L421.1,515.1L417.5,515.1Z" fill="#c3163c"/>
<path d="M430.7,510.8L432.5,514L428.9,514Z" fill="#c3163c"/>
<path d="M419.3,523.5L421.1,526.7L417.5,526.7Z" fill="#c3163c"/>
<path d="M424.7,524.8L426.5,528L422.9,528Z" fill="#c3163c"/>
<path d="M430.7,524.8L432.5,528L428.9,528Z" fill="#c3163c"/>
<path d="M424.7,528.8L426.5,532L422.9,532Z" fill="#c3163c"/>
<line x1="354.7" y1="539.2" x2="374.7" y2="539.2" stroke="#111" stroke-width="1.2" />
<line x1="384.7" y1="536" x2="404.7" y2="536" stroke="#111" stroke-width="1.2" />
<line x1="414.7" y1="515" x2="434.7" y2="515" stroke="#111" stroke-width="1.2" />
<line x1="364.3" y1="479.9" x2="424.6" y2="479.9" stroke="#777" stroke-width="1.2" />
<text x="394.6" y="479.3" font-size="6.5" fill="#000" text-anchor="middle" >*</text>
<line x1="395.4" y1="491.8" x2="425.7" y2="491.8" stroke="#777" stroke-width="1.2" />
<text x="410.4" y="488" font-size="6.4" fill="#000" text-anchor="middle" >§</text>
<clipPath id="fc1"><rect x="52.3" y="355.9" width="86.60000000000001" height="86.40000000000003"/></clipPath>
<g clip-path="url(#fc1)">
<path d="M75.3 360.6h1v1h-1zM64.4 363.9h1v1h-1zM52.7 374.3h1v1h-1zM95.1 384.1h1v1h-1zM119.0 423.2h1v1h-1zM53.4 374.3h1v1h-1zM114.8 414.9h1v1h-1zM66.3 371.9h1v1h-1zM82.5 380.8h1v1h-1zM62.5 372.4h1v1h-1zM102.0 407.7h1v1h-1zM115.5 421.7h1v1h-1zM115.8 424.4h1v1h-1zM110.8 414.6h1v1h-1zM98.0 407.1h1v1h-1zM114.3 429.5h1v1h-1zM113.2 419.4h1v1h-1zM58.8 375.7h1v1h-1zM111.8 433.9h1v1h-1zM95.7 404.8h1v1h-1zM113.5 426.5h1v1h-1zM110.8 433.5h1v1h-1zM99.1 409.9h1v1h-1zM93.1 407.4h1v1h-1zM94.3 386.8h1v1h-1zM99.1 441.0h1v1h-1zM104.0 413.5h1v1h-1zM82.1 384.9h1v1h-1zM68.5 378.4h1v1h-1zM101.2 400.3h1v1h-1zM99.2 389.0h1v1h-1zM99.0 412.1h1v1h-1zM104.7 396.2h1v1h-1zM89.0 408.1h1v1h-1zM104.3 415.8h1v1h-1zM69.7 380.0h1v1h-1zM105.3 434.8h1v1h-1zM100.8 399.5h1v1h-1zM79.5 439.3h1v1h-1zM107.6 430.2h1v1h-1zM87.2 404.7h1v1h-1zM97.8 413.9h1v1h-1zM52.9 380.6h1v1h-1zM87.8 387.3h1v1h-1zM106.6 423.5h1v1h-1zM86.4 410.9h1v1h-1zM79.2 386.8h1v1h-1zM104.3 420.8h1v1h-1zM93.7 436.7h1v1h-1zM101.0 418.2h1v1h-1zM91.8 436.9h1v1h-1zM83.5 411.6h1v1h-1zM60.9 379.3h1v1h-1zM104.5 426.7h1v1h-1zM101.0 432.9h1v1h-1zM87.7 414.4h1v1h-1zM87.8 436.0h1v1h-1zM99.6 392.9h1v1h-1zM100.1 433.0h1v1h-1zM95.1 400.0h1v1h-1zM72.6 438.6h1v1h-1zM89.0 415.5h1v1h-1zM88.2 415.5h1v1h-1zM95.8 417.9h1v1h-1zM96.1 433.7h1v1h-1zM89.1 401.5h1v1h-1zM82.8 416.1h1v1h-1zM92.7 418.2h1v1h-1zM53.0 435.4h1v1h-1zM98.6 421.8h1v1h-1zM83.0 402.1h1v1h-1zM100.2 426.1h1v1h-1zM96.9 430.9h1v1h-1zM98.0 395.0h1v1h-1zM77.3 415.3h1v1h-1zM83.9 430.4h1v1h-1zM80.4 428.8h1v1h-1zM80.0 428.4h1v1h-1zM88.0 419.7h1v1h-1zM56.5 438.4h1v1h-1zM53.9 436.0h1v1h-1zM74.5 388.0h1v1h-1zM58.0 439.1h1v1h-1zM75.2 407.8h1v1h-1zM77.0 429.7h1v1h-1zM85.7 429.0h1v1h-1zM84.3 423.1h1v1h-1zM94.8 425.5h1v1h-1zM92.2 398.8h1v1h-1zM55.3 382.0h1v1h-1zM69.0 438.5h1v1h-1zM74.0 405.2h1v1h-1zM73.2 405.6h1v1h-1zM52.6 405.9h1v1h-1zM53.7 384.0h1v1h-1zM89.3 398.4h1v1h-1z" fill="rgb(60,70,255)" fill-opacity="0.35"/>
<path d="M120.1 433.4h1v1h-1zM101.2 409.8h1v1h-1zM85.8 385.2h1v1h-1zM77.6 383.8h1v1h-1zM105.2 414.0h1v1h-1zM104.5 416.1h1v1h-1zM87.6 410.1h1v1h-1zM86.1 439.0h1v1h-1zM99.2 415.2h1v1h-1zM58.6 379.0h1v1h-1zM71.0 440.9h1v1h-1zM103.2 432.9h1v1h-1zM79.3 436.6h1v1h-1zM58.1 441.5h1v1h-1zM82.2 412.3h1v1h-1zM54.1 381.0h1v1h-1zM103.2 424.2h1v1h-1zM98.4 433.5h1v1h-1zM79.5 410.4h1v1h-1zM74.4 386.6h1v1h-1zM64.4 441.2h1v1h-1zM58.8 440.4h1v1h-1zM77.8 432.6h1v1h-1zM90.3 417.7h1v1h-1zM76.0 405.7h1v1h-1zM83.8 388.7h1v1h-1zM82.6 430.3h1v1h-1zM88.7 418.8h1v1h-1zM81.3 402.1h1v1h-1zM98.8 423.5h1v1h-1zM52.7 383.1h1v1h-1zM91.5 420.2h1v1h-1zM85.1 429.3h1v1h-1zM85.4 423.1h1v1h-1zM90.2 421.8h1v1h-1zM93.2 429.0h1v1h-1zM92.8 422.5h1v1h-1zM86.2 423.4h1v1h-1zM95.5 397.0h1v1h-1zM91.0 428.6h1v1h-1zM74.9 433.0h1v1h-1zM88.6 425.4h1v1h-1zM74.6 415.2h1v1h-1zM70.8 437.2h1v1h-1zM75.4 425.7h1v1h-1zM94.0 393.0h1v1h-1zM76.6 390.2h1v1h-1zM53.7 422.0h1v1h-1zM53.2 399.5h1v1h-1zM66.0 438.2h1v1h-1zM82.8 391.2h1v1h-1zM52.9 396.4h1v1h-1zM54.3 413.0h1v1h-1z" fill="rgb(56,68,252)" fill-opacity="0.47"/>
<path d="M71.2 372.9h1v1h-1zM87.5 384.9h1v1h-1zM111.7 421.4h1v1h-1zM91.0 404.9h1v1h-1zM89.8 408.3h1v1h-1zM85.2 405.3h1v1h-1zM84.2 406.1h1v1h-1zM106.9 423.4h1v1h-1zM106.4 422.1h1v1h-1zM89.7 412.5h1v1h-1zM105.6 423.7h1v1h-1zM90.5 402.3h1v1h-1zM81.1 407.2h1v1h-1zM101.1 393.8h1v1h-1zM64.5 379.6h1v1h-1zM76.3 386.8h1v1h-1zM75.0 437.4h1v1h-1zM89.2 388.4h1v1h-1zM98.5 391.8h1v1h-1zM81.8 412.4h1v1h-1zM103.8 426.4h1v1h-1zM89.1 401.9h1v1h-1zM83.0 387.8h1v1h-1zM88.0 415.6h1v1h-1zM79.7 411.1h1v1h-1zM99.1 397.1h1v1h-1zM78.1 433.1h1v1h-1zM94.5 417.7h1v1h-1zM85.4 402.2h1v1h-1zM100.0 430.6h1v1h-1zM100.2 430.0h1v1h-1zM52.7 435.3h1v1h-1zM76.6 406.0h1v1h-1zM100.4 428.2h1v1h-1zM99.8 423.4h1v1h-1zM87.1 401.3h1v1h-1zM93.0 419.1h1v1h-1zM88.8 418.9h1v1h-1zM56.1 438.4h1v1h-1zM69.8 438.9h1v1h-1zM80.1 419.9h1v1h-1zM95.9 392.2h1v1h-1zM77.0 403.0h1v1h-1zM79.3 422.5h1v1h-1zM77.7 423.1h1v1h-1zM90.9 430.6h1v1h-1zM83.6 423.8h1v1h-1zM75.9 417.1h1v1h-1zM86.7 422.2h1v1h-1zM89.5 421.8h1v1h-1zM76.1 421.3h1v1h-1zM93.8 428.9h1v1h-1zM89.0 429.4h1v1h-1zM58.5 439.0h1v1h-1zM87.6 427.8h1v1h-1zM92.4 428.4h1v1h-1zM91.4 423.7h1v1h-1zM75.1 421.4h1v1h-1zM70.9 385.8h1v1h-1zM91.0 426.0h1v1h-1zM74.2 417.4h1v1h-1zM63.2 439.5h1v1h-1zM74.0 415.7h1v1h-1zM84.6 400.1h1v1h-1zM69.6 385.0h1v1h-1zM75.1 401.5h1v1h-1zM73.2 434.0h1v1h-1zM89.1 398.8h1v1h-1zM68.0 437.9h1v1h-1zM73.3 433.2h1v1h-1zM52.8 389.0h1v1h-1zM72.6 423.4h1v1h-1zM88.5 397.7h1v1h-1zM54.6 431.8h1v1h-1zM71.6 390.3h1v1h-1z" fill="rgb(53,66,250)" fill-opacity="0.58"/>
<path d="M107.1 408.1h1v1h-1zM67.2 376.1h1v1h-1zM109.0 436.5h1v1h-1zM63.8 377.1h1v1h-1zM104.2 415.0h1v1h-1zM99.1 439.3h1v1h-1zM85.3 406.6h1v1h-1zM105.7 419.6h1v1h-1zM100.9 392.1h1v1h-1zM71.2 441.0h1v1h-1zM91.5 388.3h1v1h-1zM68.9 441.6h1v1h-1zM94.6 436.8h1v1h-1zM105.1 427.7h1v1h-1zM75.8 437.3h1v1h-1zM54.5 380.5h1v1h-1zM86.3 413.5h1v1h-1zM53.9 438.1h1v1h-1zM78.7 435.0h1v1h-1zM53.7 381.2h1v1h-1zM82.1 434.4h1v1h-1zM93.0 389.4h1v1h-1zM75.9 436.1h1v1h-1zM82.1 413.4h1v1h-1zM100.0 419.9h1v1h-1zM86.5 402.1h1v1h-1zM102.0 428.3h1v1h-1zM98.7 432.2h1v1h-1zM101.9 426.0h1v1h-1zM75.1 435.8h1v1h-1zM63.6 380.2h1v1h-1zM78.0 412.2h1v1h-1zM100.3 423.9h1v1h-1zM76.3 405.0h1v1h-1zM77.6 431.7h1v1h-1zM78.5 417.7h1v1h-1zM89.1 419.1h1v1h-1zM80.0 420.5h1v1h-1zM85.0 420.3h1v1h-1zM79.0 427.4h1v1h-1zM89.6 431.5h1v1h-1zM79.7 422.0h1v1h-1zM87.9 420.0h1v1h-1zM77.2 418.7h1v1h-1zM92.3 420.4h1v1h-1zM95.9 429.8h1v1h-1zM76.6 431.4h1v1h-1zM87.6 420.3h1v1h-1zM77.2 419.6h1v1h-1zM63.5 380.8h1v1h-1zM94.0 430.5h1v1h-1zM75.0 405.7h1v1h-1zM75.6 411.2h1v1h-1zM88.8 420.8h1v1h-1zM82.4 425.8h1v1h-1zM65.0 381.3h1v1h-1zM95.7 397.3h1v1h-1zM86.9 421.2h1v1h-1zM90.1 430.5h1v1h-1zM89.1 430.3h1v1h-1zM77.2 427.7h1v1h-1zM83.7 424.4h1v1h-1zM83.7 425.7h1v1h-1zM89.8 421.5h1v1h-1zM96.2 425.5h1v1h-1zM85.4 422.9h1v1h-1zM75.1 411.5h1v1h-1zM90.3 422.2h1v1h-1zM67.7 382.7h1v1h-1zM80.8 389.2h1v1h-1zM75.3 415.6h1v1h-1zM80.2 389.2h1v1h-1zM89.9 422.8h1v1h-1zM75.8 424.4h1v1h-1zM90.8 424.4h1v1h-1zM91.6 426.4h1v1h-1zM73.5 406.9h1v1h-1zM75.5 427.2h1v1h-1zM73.5 409.4h1v1h-1zM52.9 432.2h1v1h-1zM52.6 418.3h1v1h-1zM85.8 390.5h1v1h-1zM52.8 425.0h1v1h-1zM62.0 439.1h1v1h-1zM52.8 430.9h1v1h-1zM52.8 400.2h1v1h-1zM72.5 409.1h1v1h-1zM72.3 404.1h1v1h-1zM52.7 389.1h1v1h-1zM52.9 410.5h1v1h-1zM52.8 390.0h1v1h-1zM69.4 385.6h1v1h-1zM53.4 405.5h1v1h-1zM72.4 421.0h1v1h-1zM53.6 403.4h1v1h-1zM87.5 391.5h1v1h-1zM87.1 391.5h1v1h-1zM73.6 425.9h1v1h-1zM52.7 394.3h1v1h-1zM84.6 391.4h1v1h-1zM55.1 383.9h1v1h-1zM83.3 391.6h1v1h-1zM54.0 427.7h1v1h-1zM54.5 415.6h1v1h-1zM77.6 397.9h1v1h-1zM71.5 424.7h1v1h-1zM76.9 395.9h1v1h-1zM69.2 412.8h1v1h-1zM63.9 385.4h1v1h-1z" fill="rgb(50,65,247)" fill-opacity="0.70"/>
<path d="M112.6 422.2h1v1h-1zM95.4 411.1h1v1h-1zM106.9 420.2h1v1h-1zM85.6 386.5h1v1h-1zM71.1 441.4h1v1h-1zM103.9 433.7h1v1h-1zM77.0 386.1h1v1h-1zM57.7 441.5h1v1h-1zM90.5 414.0h1v1h-1zM100.0 433.6h1v1h-1zM61.6 379.5h1v1h-1zM80.2 404.2h1v1h-1zM101.2 430.4h1v1h-1zM97.7 392.1h1v1h-1zM77.6 407.1h1v1h-1zM89.2 401.2h1v1h-1zM79.3 416.4h1v1h-1zM98.8 430.1h1v1h-1zM75.4 387.8h1v1h-1zM83.4 418.6h1v1h-1zM93.6 419.3h1v1h-1zM57.4 380.7h1v1h-1zM82.7 402.0h1v1h-1zM77.3 414.7h1v1h-1zM84.6 419.2h1v1h-1zM84.6 419.2h1v1h-1zM87.3 431.8h1v1h-1zM65.7 440.3h1v1h-1zM75.5 406.0h1v1h-1zM98.7 426.2h1v1h-1zM98.5 427.0h1v1h-1zM95.9 430.4h1v1h-1zM77.3 418.1h1v1h-1zM78.4 423.1h1v1h-1zM96.9 423.5h1v1h-1zM97.4 427.4h1v1h-1zM95.3 422.5h1v1h-1zM88.2 421.0h1v1h-1zM89.0 430.3h1v1h-1zM83.1 426.1h1v1h-1zM86.6 389.5h1v1h-1zM86.0 428.4h1v1h-1zM68.6 438.8h1v1h-1zM76.1 423.8h1v1h-1zM91.9 423.2h1v1h-1zM90.4 423.0h1v1h-1zM93.8 425.7h1v1h-1zM92.2 427.8h1v1h-1zM53.0 383.7h1v1h-1zM52.7 432.7h1v1h-1zM70.4 437.5h1v1h-1zM92.4 398.3h1v1h-1zM75.0 423.4h1v1h-1zM74.4 417.2h1v1h-1zM74.3 416.4h1v1h-1zM73.5 404.8h1v1h-1zM73.9 417.0h1v1h-1zM94.3 394.1h1v1h-1zM52.7 405.8h1v1h-1zM74.1 389.2h1v1h-1zM54.9 435.3h1v1h-1zM71.2 436.2h1v1h-1zM53.6 384.0h1v1h-1zM52.7 417.5h1v1h-1zM71.2 436.1h1v1h-1zM53.6 384.0h1v1h-1zM56.6 382.2h1v1h-1zM58.2 437.8h1v1h-1zM52.8 429.6h1v1h-1zM92.8 396.6h1v1h-1zM92.8 393.7h1v1h-1zM53.2 419.0h1v1h-1zM91.6 397.2h1v1h-1zM53.3 419.0h1v1h-1zM53.3 401.0h1v1h-1zM92.1 393.5h1v1h-1zM53.0 410.1h1v1h-1zM84.1 390.9h1v1h-1zM71.4 387.7h1v1h-1zM81.1 399.5h1v1h-1zM52.6 393.5h1v1h-1zM53.3 399.3h1v1h-1zM72.6 433.5h1v1h-1zM52.7 395.1h1v1h-1zM91.4 393.9h1v1h-1zM76.0 399.6h1v1h-1zM53.6 430.7h1v1h-1zM54.0 432.2h1v1h-1zM53.7 407.4h1v1h-1zM53.6 426.5h1v1h-1zM71.2 405.2h1v1h-1zM71.7 413.8h1v1h-1zM54.1 420.0h1v1h-1zM54.0 419.3h1v1h-1zM82.3 399.0h1v1h-1zM53.9 406.6h1v1h-1zM53.5 398.6h1v1h-1zM54.1 407.2h1v1h-1zM62.5 382.5h1v1h-1zM53.7 388.8h1v1h-1zM89.4 393.9h1v1h-1zM53.3 396.7h1v1h-1zM53.9 428.0h1v1h-1zM54.0 386.2h1v1h-1zM86.4 397.5h1v1h-1zM85.3 392.7h1v1h-1zM55.2 403.5h1v1h-1zM67.8 436.5h1v1h-1zM81.7 397.6h1v1h-1zM73.5 391.4h1v1h-1z" fill="rgb(47,63,245)" fill-opacity="0.81"/>
<path d="M105.3 396.6h1v1h-1zM75.8 438.8h1v1h-1zM86.1 413.1h1v1h-1zM79.9 433.3h1v1h-1zM101.8 423.8h1v1h-1zM85.9 433.7h1v1h-1zM79.6 388.3h1v1h-1zM53.5 436.1h1v1h-1zM80.8 388.5h1v1h-1zM94.2 432.1h1v1h-1zM81.0 402.1h1v1h-1zM93.9 419.9h1v1h-1zM83.0 429.5h1v1h-1zM78.6 420.0h1v1h-1zM79.0 428.0h1v1h-1zM72.4 386.4h1v1h-1zM53.2 434.8h1v1h-1zM90.3 390.0h1v1h-1zM83.3 421.6h1v1h-1zM95.5 422.1h1v1h-1zM95.9 428.9h1v1h-1zM83.7 422.8h1v1h-1zM75.9 415.1h1v1h-1zM97.0 425.7h1v1h-1zM84.8 425.0h1v1h-1zM84.6 400.9h1v1h-1zM75.2 415.1h1v1h-1zM74.5 410.0h1v1h-1zM92.3 425.7h1v1h-1zM91.7 425.7h1v1h-1zM90.3 426.1h1v1h-1zM74.4 412.0h1v1h-1zM75.7 425.8h1v1h-1zM74.4 415.4h1v1h-1zM94.3 397.1h1v1h-1zM79.5 401.0h1v1h-1zM74.0 410.5h1v1h-1zM74.3 419.1h1v1h-1zM75.1 431.5h1v1h-1zM84.7 400.3h1v1h-1zM73.9 410.2h1v1h-1zM93.9 397.0h1v1h-1zM52.6 400.5h1v1h-1zM73.7 421.5h1v1h-1zM91.2 398.3h1v1h-1zM93.6 393.4h1v1h-1zM66.2 382.7h1v1h-1zM75.0 427.8h1v1h-1zM66.7 383.0h1v1h-1zM52.9 400.7h1v1h-1zM73.2 414.0h1v1h-1zM52.7 429.4h1v1h-1zM73.0 418.4h1v1h-1zM72.6 404.0h1v1h-1zM74.4 430.7h1v1h-1zM90.7 392.1h1v1h-1zM52.7 414.9h1v1h-1zM52.7 390.4h1v1h-1zM91.6 392.8h1v1h-1zM72.7 402.8h1v1h-1zM56.5 436.4h1v1h-1zM90.3 392.3h1v1h-1zM87.3 391.3h1v1h-1zM72.2 408.2h1v1h-1zM86.4 399.0h1v1h-1zM60.4 438.3h1v1h-1zM52.6 396.3h1v1h-1zM59.4 437.8h1v1h-1zM53.4 385.6h1v1h-1zM53.3 409.1h1v1h-1zM71.8 403.1h1v1h-1zM76.6 399.5h1v1h-1zM53.3 412.1h1v1h-1zM87.8 398.1h1v1h-1zM68.7 385.5h1v1h-1zM89.4 392.8h1v1h-1zM53.8 385.4h1v1h-1zM53.5 427.4h1v1h-1zM53.3 387.9h1v1h-1zM53.1 392.1h1v1h-1zM53.7 411.6h1v1h-1zM72.5 389.5h1v1h-1zM80.8 398.7h1v1h-1zM54.4 403.7h1v1h-1zM89.4 393.4h1v1h-1zM78.7 391.6h1v1h-1zM54.8 384.4h1v1h-1zM54.1 431.3h1v1h-1zM54.3 400.9h1v1h-1zM63.6 382.9h1v1h-1zM53.8 398.9h1v1h-1zM54.6 418.4h1v1h-1zM70.4 404.5h1v1h-1zM68.2 385.6h1v1h-1zM53.9 387.1h1v1h-1zM70.0 387.5h1v1h-1zM89.2 394.9h1v1h-1zM54.0 386.6h1v1h-1zM53.6 397.2h1v1h-1zM70.6 411.0h1v1h-1zM87.9 396.4h1v1h-1zM54.5 409.1h1v1h-1zM70.4 410.3h1v1h-1zM76.4 392.2h1v1h-1zM55.0 406.8h1v1h-1zM86.2 396.8h1v1h-1zM75.0 392.2h1v1h-1zM63.5 437.5h1v1h-1zM85.7 394.0h1v1h-1zM54.8 386.4h1v1h-1zM55.3 409.3h1v1h-1zM56.8 434.5h1v1h-1zM77.7 396.6h1v1h-1zM83.3 396.4h1v1h-1zM63.3 383.6h1v1h-1zM57.9 383.8h1v1h-1zM54.7 398.3h1v1h-1zM69.2 414.3h1v1h-1zM75.2 394.4h1v1h-1zM58.4 383.9h1v1h-1zM70.0 400.9h1v1h-1zM55.3 428.9h1v1h-1zM55.6 427.1h1v1h-1zM61.3 436.2h1v1h-1zM56.6 412.7h1v1h-1zM57.5 420.9h1v1h-1zM55.3 391.1h1v1h-1z" fill="rgb(43,61,242)" fill-opacity="0.93"/>
<path d="M103.7 441.6h1v1h-1zM98.3 441.6h1v1h-1zM53.9 439.6h1v1h-1zM83.8 435.1h1v1h-1zM91.3 401.2h1v1h-1zM79.2 388.0h1v1h-1zM92.2 433.5h1v1h-1zM80.5 429.9h1v1h-1zM86.0 430.6h1v1h-1zM79.6 425.4h1v1h-1zM77.0 429.9h1v1h-1zM59.3 439.5h1v1h-1zM75.8 415.7h1v1h-1zM88.8 428.9h1v1h-1zM75.9 422.9h1v1h-1zM92.4 423.7h1v1h-1zM87.2 425.6h1v1h-1zM74.1 410.7h1v1h-1zM75.1 430.7h1v1h-1zM52.7 402.4h1v1h-1zM73.3 409.8h1v1h-1zM52.9 403.1h1v1h-1zM76.8 400.6h1v1h-1zM73.3 420.4h1v1h-1zM74.9 427.6h1v1h-1zM52.7 385.4h1v1h-1zM89.3 391.3h1v1h-1zM79.6 390.2h1v1h-1zM53.1 421.1h1v1h-1zM73.1 415.0h1v1h-1zM53.2 423.2h1v1h-1zM72.7 402.6h1v1h-1zM88.3 398.6h1v1h-1zM53.2 430.9h1v1h-1zM53.4 405.8h1v1h-1zM73.0 433.4h1v1h-1zM72.4 421.5h1v1h-1zM53.2 416.5h1v1h-1zM53.5 401.7h1v1h-1zM53.7 422.2h1v1h-1zM65.7 438.4h1v1h-1zM53.5 401.0h1v1h-1zM52.8 391.5h1v1h-1zM73.0 424.3h1v1h-1zM53.9 423.5h1v1h-1zM91.6 395.2h1v1h-1zM53.2 398.6h1v1h-1zM89.0 397.6h1v1h-1zM71.5 408.3h1v1h-1zM52.8 393.7h1v1h-1zM71.5 420.7h1v1h-1zM86.5 398.3h1v1h-1zM68.1 385.0h1v1h-1zM64.2 438.2h1v1h-1zM53.6 412.6h1v1h-1zM54.4 404.1h1v1h-1zM87.1 397.8h1v1h-1zM54.3 418.8h1v1h-1zM87.4 392.5h1v1h-1zM71.1 414.3h1v1h-1zM70.8 420.7h1v1h-1zM70.7 408.6h1v1h-1zM57.2 435.8h1v1h-1zM54.3 408.7h1v1h-1zM59.0 382.7h1v1h-1zM86.0 392.6h1v1h-1zM88.8 394.1h1v1h-1zM84.6 392.4h1v1h-1zM70.1 405.5h1v1h-1zM54.1 428.7h1v1h-1zM54.5 409.1h1v1h-1zM54.3 430.6h1v1h-1zM72.1 432.5h1v1h-1zM79.7 397.9h1v1h-1zM65.6 437.4h1v1h-1zM85.6 397.1h1v1h-1zM54.9 417.6h1v1h-1zM58.0 436.0h1v1h-1zM55.0 417.0h1v1h-1zM71.4 433.4h1v1h-1zM87.3 394.1h1v1h-1zM75.0 398.1h1v1h-1zM74.7 398.0h1v1h-1zM66.3 384.7h1v1h-1zM54.9 410.9h1v1h-1zM55.2 417.0h1v1h-1zM69.7 403.4h1v1h-1zM86.8 395.1h1v1h-1zM69.4 406.1h1v1h-1zM79.4 397.2h1v1h-1zM70.6 401.5h1v1h-1zM70.1 422.2h1v1h-1zM55.6 402.7h1v1h-1zM55.6 419.0h1v1h-1zM55.7 403.7h1v1h-1zM53.9 396.2h1v1h-1zM55.9 421.0h1v1h-1zM69.4 408.5h1v1h-1zM67.0 385.5h1v1h-1zM55.7 432.9h1v1h-1zM54.0 395.0h1v1h-1zM55.3 411.8h1v1h-1zM57.0 434.5h1v1h-1zM56.0 403.6h1v1h-1zM77.2 396.3h1v1h-1zM63.2 383.6h1v1h-1zM69.1 409.4h1v1h-1zM81.8 395.9h1v1h-1zM80.1 394.2h1v1h-1zM62.4 383.6h1v1h-1zM54.9 389.3h1v1h-1zM71.3 390.3h1v1h-1zM56.2 424.3h1v1h-1zM56.8 403.7h1v1h-1zM61.8 436.5h1v1h-1zM55.9 386.5h1v1h-1zM67.4 405.8h1v1h-1zM60.4 435.7h1v1h-1zM55.4 390.5h1v1h-1zM57.2 400.9h1v1h-1z" fill="rgb(40,60,240)" fill-opacity="1.00"/>
<path d="M85.4 387.9h1v1h-1zM75.7 405.7h1v1h-1zM55.6 437.8h1v1h-1zM61.3 380.5h1v1h-1zM53.6 382.8h1v1h-1zM70.0 384.5h1v1h-1zM85.1 423.6h1v1h-1zM91.6 422.2h1v1h-1zM75.1 412.4h1v1h-1zM90.3 425.3h1v1h-1zM62.8 439.7h1v1h-1zM55.2 382.7h1v1h-1zM72.7 404.7h1v1h-1zM72.6 405.7h1v1h-1zM53.1 431.5h1v1h-1zM53.2 425.0h1v1h-1zM80.8 399.8h1v1h-1zM73.1 433.1h1v1h-1zM53.7 422.5h1v1h-1zM53.3 409.1h1v1h-1zM53.3 415.2h1v1h-1zM90.5 392.9h1v1h-1zM72.0 415.8h1v1h-1zM53.7 419.1h1v1h-1zM63.9 382.4h1v1h-1zM91.3 393.7h1v1h-1zM53.7 425.1h1v1h-1zM53.0 397.3h1v1h-1zM53.7 417.4h1v1h-1zM53.5 414.3h1v1h-1zM78.2 391.2h1v1h-1zM53.9 417.9h1v1h-1zM77.6 399.1h1v1h-1zM90.1 393.6h1v1h-1zM62.5 438.2h1v1h-1zM56.8 435.9h1v1h-1zM54.3 423.6h1v1h-1zM54.2 401.0h1v1h-1zM71.2 412.4h1v1h-1zM53.9 410.0h1v1h-1zM64.3 438.0h1v1h-1zM54.7 432.7h1v1h-1zM79.9 391.9h1v1h-1zM61.5 437.7h1v1h-1zM71.0 402.3h1v1h-1zM88.9 396.1h1v1h-1zM54.3 415.0h1v1h-1zM77.4 398.2h1v1h-1zM76.9 398.1h1v1h-1zM87.5 396.6h1v1h-1zM64.5 437.6h1v1h-1zM71.6 401.1h1v1h-1zM55.0 418.8h1v1h-1zM54.4 412.9h1v1h-1zM72.6 390.2h1v1h-1zM74.3 391.5h1v1h-1zM54.6 414.5h1v1h-1zM72.4 431.4h1v1h-1zM69.3 387.1h1v1h-1zM55.2 423.5h1v1h-1zM60.4 437.1h1v1h-1zM83.4 397.3h1v1h-1zM57.5 383.4h1v1h-1zM60.5 437.1h1v1h-1zM85.5 396.7h1v1h-1zM70.1 434.8h1v1h-1zM69.6 408.8h1v1h-1zM68.9 435.5h1v1h-1zM70.4 423.2h1v1h-1zM69.0 435.5h1v1h-1zM74.1 392.2h1v1h-1zM74.9 397.5h1v1h-1zM56.8 434.5h1v1h-1zM55.7 432.9h1v1h-1zM69.6 412.6h1v1h-1zM81.7 396.6h1v1h-1zM53.9 393.9h1v1h-1zM55.7 406.8h1v1h-1zM81.1 396.6h1v1h-1zM54.6 389.9h1v1h-1zM69.0 406.0h1v1h-1zM81.1 393.7h1v1h-1zM84.5 395.6h1v1h-1zM75.0 397.0h1v1h-1zM60.9 436.8h1v1h-1zM79.3 393.9h1v1h-1zM54.7 398.5h1v1h-1zM56.1 403.6h1v1h-1zM55.1 399.5h1v1h-1zM55.7 408.9h1v1h-1zM55.7 412.2h1v1h-1zM68.6 406.8h1v1h-1zM56.1 407.0h1v1h-1zM74.3 396.6h1v1h-1zM71.5 427.5h1v1h-1zM64.0 384.2h1v1h-1zM71.5 427.8h1v1h-1zM74.3 395.6h1v1h-1zM55.3 398.7h1v1h-1zM55.1 390.6h1v1h-1zM56.5 409.9h1v1h-1zM67.6 419.1h1v1h-1zM57.8 419.3h1v1h-1zM60.5 435.5h1v1h-1zM66.9 416.1h1v1h-1zM58.7 385.0h1v1h-1zM58.8 420.6h1v1h-1zM72.1 395.5h1v1h-1zM56.9 426.5h1v1h-1zM58.2 424.0h1v1h-1zM65.6 417.2h1v1h-1zM59.7 403.7h1v1h-1zM69.8 429.1h1v1h-1zM64.7 412.7h1v1h-1z" fill="rgb(38,78,238)" fill-opacity="1.00"/>
<path d="M64.3 381.2h1v1h-1zM75.0 426.4h1v1h-1zM52.6 416.6h1v1h-1zM52.7 428.3h1v1h-1zM53.4 423.5h1v1h-1zM67.6 438.0h1v1h-1zM53.1 411.4h1v1h-1zM53.6 405.4h1v1h-1zM83.5 391.0h1v1h-1zM53.8 422.6h1v1h-1zM53.4 411.5h1v1h-1zM71.2 387.9h1v1h-1zM52.9 392.8h1v1h-1zM54.6 433.4h1v1h-1zM79.3 391.2h1v1h-1zM53.8 406.9h1v1h-1zM78.6 399.1h1v1h-1zM71.1 403.9h1v1h-1zM72.8 432.3h1v1h-1zM53.1 392.5h1v1h-1zM76.9 399.0h1v1h-1zM71.8 401.9h1v1h-1zM72.7 425.2h1v1h-1zM57.0 383.0h1v1h-1zM54.5 405.9h1v1h-1zM63.7 383.0h1v1h-1zM83.1 392.0h1v1h-1zM53.9 387.8h1v1h-1zM88.9 395.6h1v1h-1zM53.9 389.2h1v1h-1zM54.7 401.6h1v1h-1zM70.4 417.6h1v1h-1zM66.2 437.3h1v1h-1zM70.3 434.9h1v1h-1zM75.7 392.1h1v1h-1zM54.4 426.7h1v1h-1zM71.0 423.2h1v1h-1zM87.4 395.6h1v1h-1zM53.8 396.4h1v1h-1zM55.2 424.4h1v1h-1zM55.3 406.7h1v1h-1zM55.6 404.0h1v1h-1zM55.4 417.9h1v1h-1zM69.9 411.5h1v1h-1zM69.4 406.9h1v1h-1zM68.7 435.7h1v1h-1zM83.3 393.3h1v1h-1zM57.4 383.7h1v1h-1zM84.8 393.9h1v1h-1zM73.0 398.7h1v1h-1zM54.4 389.9h1v1h-1zM74.5 397.6h1v1h-1zM69.3 403.6h1v1h-1zM65.6 384.5h1v1h-1zM55.9 420.4h1v1h-1zM55.7 417.2h1v1h-1zM71.8 431.5h1v1h-1zM72.1 429.6h1v1h-1zM55.9 385.1h1v1h-1zM81.3 396.2h1v1h-1zM83.1 395.9h1v1h-1zM83.0 394.2h1v1h-1zM80.5 396.1h1v1h-1zM79.2 394.5h1v1h-1zM80.3 394.6h1v1h-1zM54.9 398.7h1v1h-1zM59.9 383.5h1v1h-1zM54.5 397.3h1v1h-1zM56.2 417.7h1v1h-1zM71.2 426.3h1v1h-1zM56.5 419.8h1v1h-1zM55.9 415.1h1v1h-1zM70.9 425.8h1v1h-1zM60.8 383.6h1v1h-1zM56.3 416.0h1v1h-1zM70.4 400.2h1v1h-1zM56.2 410.5h1v1h-1zM73.7 393.7h1v1h-1zM72.3 391.8h1v1h-1zM56.8 418.0h1v1h-1zM71.2 431.3h1v1h-1zM68.1 417.1h1v1h-1zM54.5 394.7h1v1h-1zM73.8 395.3h1v1h-1zM68.2 411.7h1v1h-1zM61.0 384.0h1v1h-1zM58.6 435.0h1v1h-1zM56.6 410.4h1v1h-1zM73.6 395.1h1v1h-1zM67.6 406.9h1v1h-1zM56.7 409.6h1v1h-1zM56.8 412.2h1v1h-1zM57.4 418.2h1v1h-1zM57.6 405.3h1v1h-1zM70.0 432.8h1v1h-1zM67.6 412.8h1v1h-1zM63.4 436.1h1v1h-1zM64.3 385.2h1v1h-1zM64.7 385.4h1v1h-1zM67.0 408.1h1v1h-1zM57.4 415.2h1v1h-1zM67.4 387.5h1v1h-1zM66.6 404.7h1v1h-1zM69.3 433.2h1v1h-1zM66.6 421.0h1v1h-1zM69.1 389.3h1v1h-1zM71.7 396.8h1v1h-1zM66.3 420.5h1v1h-1zM58.0 416.0h1v1h-1zM66.8 411.4h1v1h-1zM56.5 388.2h1v1h-1zM66.7 414.7h1v1h-1zM58.4 417.1h1v1h-1zM69.6 399.3h1v1h-1zM72.0 395.6h1v1h-1zM57.9 412.7h1v1h-1zM65.7 419.7h1v1h-1zM60.5 384.9h1v1h-1zM59.2 420.8h1v1h-1zM67.3 423.3h1v1h-1zM61.3 385.0h1v1h-1zM65.8 435.1h1v1h-1zM60.7 435.0h1v1h-1zM65.2 419.4h1v1h-1zM58.5 410.7h1v1h-1zM58.9 409.3h1v1h-1zM59.9 403.2h1v1h-1zM60.4 417.8h1v1h-1zM60.5 418.0h1v1h-1zM63.5 404.6h1v1h-1zM63.0 418.9h1v1h-1zM62.8 404.9h1v1h-1zM60.1 414.1h1v1h-1z" fill="rgb(35,101,235)" fill-opacity="1.00"/>
<path d="M95.7 395.6h1v1h-1zM53.2 401.0h1v1h-1zM56.3 436.3h1v1h-1zM53.4 418.9h1v1h-1zM90.7 392.6h1v1h-1zM54.4 384.0h1v1h-1zM53.7 432.0h1v1h-1zM53.4 430.9h1v1h-1zM52.7 393.4h1v1h-1zM71.0 404.3h1v1h-1zM54.1 416.3h1v1h-1zM53.3 397.3h1v1h-1zM54.7 419.6h1v1h-1zM70.6 419.8h1v1h-1zM53.9 398.9h1v1h-1zM72.9 428.8h1v1h-1zM88.9 394.7h1v1h-1zM73.6 390.9h1v1h-1zM80.0 397.9h1v1h-1zM77.6 397.9h1v1h-1zM56.7 383.6h1v1h-1zM77.0 392.5h1v1h-1zM57.0 435.2h1v1h-1zM75.5 397.9h1v1h-1zM77.7 397.5h1v1h-1zM72.0 400.1h1v1h-1zM54.8 426.4h1v1h-1zM69.9 413.6h1v1h-1zM76.6 393.2h1v1h-1zM55.8 419.7h1v1h-1zM85.1 395.8h1v1h-1zM76.2 393.5h1v1h-1zM53.9 394.5h1v1h-1zM76.5 396.6h1v1h-1zM81.2 396.6h1v1h-1zM82.4 396.2h1v1h-1zM70.5 389.1h1v1h-1zM69.0 435.3h1v1h-1zM72.0 428.6h1v1h-1zM67.7 386.3h1v1h-1zM77.2 396.1h1v1h-1zM69.8 401.8h1v1h-1zM54.9 429.2h1v1h-1zM75.9 396.2h1v1h-1zM81.2 394.2h1v1h-1zM69.1 410.4h1v1h-1zM79.6 394.7h1v1h-1zM71.0 400.1h1v1h-1zM80.8 395.3h1v1h-1zM55.7 413.9h1v1h-1zM56.7 433.9h1v1h-1zM73.8 397.2h1v1h-1zM65.2 384.7h1v1h-1zM68.9 414.8h1v1h-1zM55.2 427.7h1v1h-1zM75.1 395.6h1v1h-1zM56.0 432.7h1v1h-1zM74.6 393.9h1v1h-1zM54.5 396.8h1v1h-1zM71.7 428.5h1v1h-1zM56.2 385.4h1v1h-1zM56.4 417.4h1v1h-1zM68.5 416.2h1v1h-1zM56.4 433.2h1v1h-1zM74.2 396.0h1v1h-1zM55.7 425.9h1v1h-1zM68.0 404.8h1v1h-1zM73.7 396.4h1v1h-1zM69.8 433.6h1v1h-1zM67.9 407.6h1v1h-1zM67.7 419.8h1v1h-1zM55.6 427.9h1v1h-1zM56.7 415.4h1v1h-1zM68.0 410.5h1v1h-1zM57.0 402.2h1v1h-1zM55.8 430.8h1v1h-1zM58.4 434.7h1v1h-1zM67.4 406.4h1v1h-1zM67.6 407.8h1v1h-1zM67.7 415.8h1v1h-1zM73.2 394.3h1v1h-1zM56.9 415.8h1v1h-1zM56.4 432.3h1v1h-1zM67.9 412.9h1v1h-1zM67.9 413.1h1v1h-1zM67.6 416.1h1v1h-1zM68.3 402.0h1v1h-1zM67.4 407.2h1v1h-1zM57.4 403.1h1v1h-1zM55.0 392.0h1v1h-1zM56.9 409.9h1v1h-1zM67.2 404.2h1v1h-1zM67.1 405.7h1v1h-1zM67.1 406.3h1v1h-1zM67.6 421.7h1v1h-1zM72.2 392.7h1v1h-1zM70.0 432.7h1v1h-1zM55.9 398.9h1v1h-1zM67.7 434.9h1v1h-1zM68.9 400.8h1v1h-1zM72.7 395.5h1v1h-1zM66.7 405.7h1v1h-1zM57.3 385.7h1v1h-1zM57.3 410.2h1v1h-1zM66.9 421.0h1v1h-1zM57.7 423.3h1v1h-1zM70.3 390.5h1v1h-1zM68.4 423.8h1v1h-1zM57.6 409.7h1v1h-1zM66.3 418.9h1v1h-1zM72.4 394.6h1v1h-1zM72.1 396.2h1v1h-1zM66.2 435.4h1v1h-1zM70.1 399.0h1v1h-1zM66.9 412.3h1v1h-1zM58.5 418.4h1v1h-1zM56.6 427.3h1v1h-1zM59.0 420.2h1v1h-1zM56.3 398.6h1v1h-1zM65.8 420.2h1v1h-1zM59.4 420.7h1v1h-1zM58.5 410.0h1v1h-1zM65.4 407.3h1v1h-1zM66.6 422.7h1v1h-1zM65.2 420.4h1v1h-1zM59.7 417.9h1v1h-1zM69.2 432.3h1v1h-1zM66.3 402.2h1v1h-1zM67.8 433.9h1v1h-1zM64.6 419.3h1v1h-1zM60.0 404.7h1v1h-1zM66.1 387.4h1v1h-1zM60.3 418.9h1v1h-1zM56.7 389.9h1v1h-1zM65.0 409.9h1v1h-1zM60.8 406.5h1v1h-1zM69.7 429.9h1v1h-1zM63.2 405.2h1v1h-1zM64.6 411.2h1v1h-1zM65.7 423.5h1v1h-1zM61.8 409.9h1v1h-1zM67.0 424.7h1v1h-1zM65.8 400.4h1v1h-1z" fill="rgb(33,123,233)" fill-opacity="1.00"/>
<path d="M52.6 416.1h1v1h-1zM58.6 437.9h1v1h-1zM70.7 387.1h1v1h-1zM52.8 391.7h1v1h-1zM54.4 402.7h1v1h-1zM70.6 405.0h1v1h-1zM54.1 410.9h1v1h-1zM83.1 398.2h1v1h-1zM55.1 417.9h1v1h-1zM63.9 437.4h1v1h-1zM69.8 417.1h1v1h-1zM53.7 394.0h1v1h-1zM53.8 392.9h1v1h-1zM55.6 403.6h1v1h-1zM72.8 399.1h1v1h-1zM75.1 392.8h1v1h-1zM80.3 393.3h1v1h-1zM80.2 396.8h1v1h-1zM63.8 437.2h1v1h-1zM55.8 384.9h1v1h-1zM69.0 404.6h1v1h-1zM72.0 430.6h1v1h-1zM77.3 396.0h1v1h-1zM69.5 402.4h1v1h-1zM80.6 396.1h1v1h-1zM80.0 396.0h1v1h-1zM75.9 396.1h1v1h-1zM55.9 407.1h1v1h-1zM56.2 418.8h1v1h-1zM59.0 435.9h1v1h-1zM75.3 394.0h1v1h-1zM81.4 394.8h1v1h-1zM69.0 414.2h1v1h-1zM55.8 411.6h1v1h-1zM55.8 412.5h1v1h-1zM70.4 424.8h1v1h-1zM56.2 408.6h1v1h-1zM68.2 404.2h1v1h-1zM67.1 386.3h1v1h-1zM55.4 428.6h1v1h-1zM68.0 404.2h1v1h-1zM56.0 425.5h1v1h-1zM55.4 388.5h1v1h-1zM70.3 425.3h1v1h-1zM70.6 425.9h1v1h-1zM69.5 388.7h1v1h-1zM68.1 415.5h1v1h-1zM57.0 405.9h1v1h-1zM56.5 413.5h1v1h-1zM57.0 402.9h1v1h-1zM69.5 388.9h1v1h-1zM71.1 431.0h1v1h-1zM71.2 428.5h1v1h-1zM55.6 429.6h1v1h-1zM67.5 420.3h1v1h-1zM67.7 421.4h1v1h-1zM55.9 430.5h1v1h-1zM62.1 436.1h1v1h-1zM57.1 408.6h1v1h-1zM55.8 388.8h1v1h-1zM55.8 428.7h1v1h-1zM71.3 391.4h1v1h-1zM69.2 424.3h1v1h-1zM57.7 404.9h1v1h-1zM57.4 407.8h1v1h-1zM68.4 401.6h1v1h-1zM57.7 406.6h1v1h-1zM67.4 411.1h1v1h-1zM57.5 423.2h1v1h-1zM55.6 398.0h1v1h-1zM55.4 397.1h1v1h-1zM67.1 421.4h1v1h-1zM57.8 433.7h1v1h-1zM57.9 406.8h1v1h-1zM58.1 422.5h1v1h-1zM57.6 409.7h1v1h-1zM56.7 387.2h1v1h-1zM64.5 385.5h1v1h-1zM57.6 410.9h1v1h-1zM55.2 394.5h1v1h-1zM58.5 405.3h1v1h-1zM58.5 405.6h1v1h-1zM69.2 400.0h1v1h-1zM66.4 408.2h1v1h-1zM66.4 408.6h1v1h-1zM58.7 418.9h1v1h-1zM66.0 419.1h1v1h-1zM66.2 407.5h1v1h-1zM68.3 424.1h1v1h-1zM68.9 433.4h1v1h-1zM66.1 420.6h1v1h-1zM70.4 429.8h1v1h-1zM69.5 432.5h1v1h-1zM60.3 384.9h1v1h-1zM70.0 390.7h1v1h-1zM66.4 414.4h1v1h-1zM61.7 384.9h1v1h-1zM58.3 409.0h1v1h-1zM59.1 419.0h1v1h-1zM69.3 432.7h1v1h-1zM65.9 416.9h1v1h-1zM70.2 430.6h1v1h-1zM57.1 426.1h1v1h-1zM70.0 431.3h1v1h-1zM70.7 397.8h1v1h-1zM58.7 416.7h1v1h-1zM59.3 421.3h1v1h-1zM71.8 394.8h1v1h-1zM70.8 392.0h1v1h-1zM65.5 407.8h1v1h-1zM59.5 404.1h1v1h-1zM58.9 408.5h1v1h-1zM65.1 419.3h1v1h-1zM58.8 410.6h1v1h-1zM65.7 413.2h1v1h-1zM64.7 405.5h1v1h-1zM69.1 426.3h1v1h-1zM59.9 418.2h1v1h-1zM64.9 403.9h1v1h-1zM64.5 419.0h1v1h-1zM68.3 389.3h1v1h-1zM64.5 417.8h1v1h-1zM66.0 387.4h1v1h-1zM64.4 417.9h1v1h-1zM60.5 418.7h1v1h-1zM60.7 404.9h1v1h-1zM63.9 418.0h1v1h-1zM70.7 396.7h1v1h-1zM64.7 403.0h1v1h-1zM61.5 418.5h1v1h-1zM62.9 386.0h1v1h-1zM60.8 407.7h1v1h-1zM63.7 403.5h1v1h-1zM64.2 414.6h1v1h-1zM64.1 414.7h1v1h-1zM58.0 387.7h1v1h-1zM59.2 386.6h1v1h-1zM61.3 409.1h1v1h-1zM61.1 409.8h1v1h-1zM67.6 399.9h1v1h-1zM59.1 386.9h1v1h-1zM58.1 399.5h1v1h-1zM68.4 427.1h1v1h-1zM62.4 434.3h1v1h-1zM59.5 400.1h1v1h-1z" fill="rgb(31,145,231)" fill-opacity="1.00"/>
<path d="M85.9 391.9h1v1h-1zM59.1 437.1h1v1h-1zM70.7 408.6h1v1h-1zM55.2 415.4h1v1h-1zM75.5 396.7h1v1h-1zM80.4 396.1h1v1h-1zM70.7 425.0h1v1h-1zM76.1 395.0h1v1h-1zM68.7 408.2h1v1h-1zM56.3 405.8h1v1h-1zM67.5 386.4h1v1h-1zM68.6 416.3h1v1h-1zM68.6 409.3h1v1h-1zM56.0 411.0h1v1h-1zM68.2 405.5h1v1h-1zM60.6 383.7h1v1h-1zM56.9 419.6h1v1h-1zM56.8 405.5h1v1h-1zM60.0 383.8h1v1h-1zM55.8 431.5h1v1h-1zM55.9 425.9h1v1h-1zM59.8 383.9h1v1h-1zM68.7 434.7h1v1h-1zM70.9 431.7h1v1h-1zM67.7 404.1h1v1h-1zM68.1 414.2h1v1h-1zM55.9 399.7h1v1h-1zM67.8 408.1h1v1h-1zM68.1 413.4h1v1h-1zM56.9 408.7h1v1h-1zM69.7 424.8h1v1h-1zM67.8 412.9h1v1h-1zM67.4 420.5h1v1h-1zM54.8 394.0h1v1h-1zM55.6 389.8h1v1h-1zM67.2 420.3h1v1h-1zM70.4 426.7h1v1h-1zM57.1 423.8h1v1h-1zM66.9 405.3h1v1h-1zM66.9 406.3h1v1h-1zM55.9 388.8h1v1h-1zM59.6 384.4h1v1h-1zM67.0 416.8h1v1h-1zM68.2 401.6h1v1h-1zM55.0 393.7h1v1h-1zM58.2 419.6h1v1h-1zM66.9 421.0h1v1h-1zM57.4 411.9h1v1h-1zM67.1 412.3h1v1h-1zM58.3 404.1h1v1h-1zM72.4 395.2h1v1h-1zM60.5 384.6h1v1h-1zM57.9 415.6h1v1h-1zM66.5 408.3h1v1h-1zM66.8 413.9h1v1h-1zM58.8 420.3h1v1h-1zM66.7 413.2h1v1h-1zM67.8 401.4h1v1h-1zM58.6 406.8h1v1h-1zM65.9 418.2h1v1h-1zM57.1 400.1h1v1h-1zM68.3 388.8h1v1h-1zM65.7 418.2h1v1h-1zM66.4 421.8h1v1h-1zM66.3 414.0h1v1h-1zM66.2 421.6h1v1h-1zM58.6 408.0h1v1h-1zM66.1 409.3h1v1h-1zM58.6 408.3h1v1h-1zM66.1 387.1h1v1h-1zM58.4 414.3h1v1h-1zM58.4 410.6h1v1h-1zM69.7 426.9h1v1h-1zM62.1 435.4h1v1h-1zM66.7 402.1h1v1h-1zM57.4 425.6h1v1h-1zM66.9 423.0h1v1h-1zM66.6 422.6h1v1h-1zM57.1 387.6h1v1h-1zM61.7 385.1h1v1h-1zM65.1 420.1h1v1h-1zM65.9 411.4h1v1h-1zM70.1 429.0h1v1h-1zM65.8 414.0h1v1h-1zM69.5 427.0h1v1h-1zM56.9 430.6h1v1h-1zM55.7 392.8h1v1h-1zM70.0 430.3h1v1h-1zM65.0 420.7h1v1h-1zM59.8 405.8h1v1h-1zM65.1 421.1h1v1h-1zM59.0 410.2h1v1h-1zM59.8 417.3h1v1h-1zM69.9 430.2h1v1h-1zM71.3 395.4h1v1h-1zM60.5 419.6h1v1h-1zM59.7 416.4h1v1h-1zM65.4 386.9h1v1h-1zM64.7 386.5h1v1h-1zM64.2 420.3h1v1h-1zM59.3 410.3h1v1h-1zM66.6 434.4h1v1h-1zM57.8 400.2h1v1h-1zM59.8 408.0h1v1h-1zM60.6 406.2h1v1h-1zM61.2 419.8h1v1h-1zM63.7 405.1h1v1h-1zM64.4 408.4h1v1h-1zM66.6 388.0h1v1h-1zM61.6 419.7h1v1h-1zM71.0 393.7h1v1h-1zM61.6 419.1h1v1h-1zM61.2 421.0h1v1h-1zM56.6 390.7h1v1h-1zM65.5 387.2h1v1h-1zM59.8 409.6h1v1h-1zM61.4 418.0h1v1h-1zM60.4 434.3h1v1h-1zM62.1 418.4h1v1h-1zM61.7 404.0h1v1h-1zM62.7 417.7h1v1h-1zM57.1 398.5h1v1h-1zM69.5 430.1h1v1h-1zM68.6 432.4h1v1h-1zM60.9 403.0h1v1h-1zM60.8 415.6h1v1h-1zM60.4 409.9h1v1h-1zM64.2 411.7h1v1h-1zM57.5 427.6h1v1h-1zM63.9 412.6h1v1h-1zM61.2 409.3h1v1h-1zM63.8 412.3h1v1h-1zM60.8 412.4h1v1h-1zM61.8 409.0h1v1h-1zM63.6 413.1h1v1h-1zM62.2 409.0h1v1h-1zM61.2 414.0h1v1h-1zM61.5 413.4h1v1h-1zM61.5 413.1h1v1h-1zM64.0 422.7h1v1h-1zM57.5 398.5h1v1h-1zM57.6 429.7h1v1h-1zM60.7 401.8h1v1h-1zM59.2 432.6h1v1h-1zM58.5 431.4h1v1h-1zM67.6 398.9h1v1h-1z" fill="rgb(32,163,221)" fill-opacity="1.00"/>
<path d="M63.5 437.6h1v1h-1zM70.0 403.9h1v1h-1zM55.6 405.8h1v1h-1zM74.7 392.8h1v1h-1zM78.9 396.4h1v1h-1zM80.4 396.3h1v1h-1zM69.9 388.9h1v1h-1zM71.0 399.7h1v1h-1zM68.2 416.9h1v1h-1zM68.0 435.3h1v1h-1zM56.7 433.2h1v1h-1zM63.1 436.5h1v1h-1zM68.5 402.4h1v1h-1zM71.0 427.0h1v1h-1zM71.1 431.0h1v1h-1zM65.4 436.2h1v1h-1zM67.7 406.8h1v1h-1zM67.6 406.8h1v1h-1zM55.8 427.7h1v1h-1zM72.0 397.6h1v1h-1zM57.6 420.9h1v1h-1zM60.5 435.8h1v1h-1zM56.9 412.3h1v1h-1zM66.0 435.8h1v1h-1zM55.9 388.5h1v1h-1zM57.8 405.0h1v1h-1zM68.5 388.5h1v1h-1zM68.6 423.7h1v1h-1zM57.2 412.2h1v1h-1zM57.3 410.2h1v1h-1zM57.3 412.1h1v1h-1zM57.9 407.0h1v1h-1zM56.1 429.5h1v1h-1zM57.8 423.4h1v1h-1zM66.8 421.3h1v1h-1zM67.0 412.2h1v1h-1zM71.5 397.3h1v1h-1zM58.3 403.5h1v1h-1zM67.2 422.3h1v1h-1zM69.5 389.8h1v1h-1zM65.3 435.6h1v1h-1zM55.5 396.5h1v1h-1zM66.0 419.2h1v1h-1zM56.0 390.1h1v1h-1zM65.1 435.6h1v1h-1zM66.0 404.9h1v1h-1zM58.4 406.8h1v1h-1zM57.9 413.7h1v1h-1zM58.3 423.0h1v1h-1zM56.9 431.7h1v1h-1zM56.4 430.1h1v1h-1zM65.7 418.5h1v1h-1zM71.7 393.4h1v1h-1zM58.5 408.2h1v1h-1zM65.6 419.7h1v1h-1zM66.3 411.8h1v1h-1zM58.8 434.0h1v1h-1zM57.9 401.2h1v1h-1zM57.8 424.6h1v1h-1zM65.3 419.4h1v1h-1zM59.5 385.2h1v1h-1zM70.7 397.7h1v1h-1zM70.3 391.3h1v1h-1zM65.8 435.1h1v1h-1zM65.5 407.8h1v1h-1zM58.8 415.7h1v1h-1zM65.9 403.0h1v1h-1zM57.6 400.4h1v1h-1zM60.5 385.1h1v1h-1zM71.0 397.0h1v1h-1zM69.9 431.1h1v1h-1zM70.0 428.4h1v1h-1zM66.3 402.3h1v1h-1zM66.2 387.3h1v1h-1zM64.8 418.8h1v1h-1zM65.0 404.3h1v1h-1zM65.0 417.9h1v1h-1zM59.7 418.0h1v1h-1zM65.3 421.2h1v1h-1zM65.5 409.4h1v1h-1zM70.8 397.0h1v1h-1zM65.2 416.4h1v1h-1zM55.8 393.1h1v1h-1zM64.6 406.5h1v1h-1zM66.4 423.0h1v1h-1zM64.3 419.3h1v1h-1zM60.3 405.8h1v1h-1zM66.8 423.5h1v1h-1zM64.6 407.6h1v1h-1zM65.1 414.1h1v1h-1zM69.0 426.5h1v1h-1zM56.1 396.4h1v1h-1zM65.1 411.4h1v1h-1zM63.7 420.2h1v1h-1zM69.6 430.7h1v1h-1zM60.3 385.6h1v1h-1zM59.6 385.8h1v1h-1zM57.7 431.9h1v1h-1zM59.7 409.2h1v1h-1zM57.5 431.6h1v1h-1zM60.7 406.4h1v1h-1zM60.8 406.1h1v1h-1zM60.2 422.3h1v1h-1zM60.6 406.9h1v1h-1zM62.8 435.1h1v1h-1zM63.7 404.2h1v1h-1zM61.5 420.7h1v1h-1zM57.1 389.2h1v1h-1zM69.0 432.0h1v1h-1zM61.7 420.8h1v1h-1zM64.2 435.0h1v1h-1zM63.5 417.5h1v1h-1zM62.2 405.4h1v1h-1zM61.9 418.2h1v1h-1zM64.6 402.9h1v1h-1zM61.3 417.4h1v1h-1zM64.4 414.4h1v1h-1zM64.3 403.1h1v1h-1zM59.9 412.2h1v1h-1zM63.8 408.2h1v1h-1zM64.1 409.3h1v1h-1zM66.1 401.5h1v1h-1zM61.2 407.7h1v1h-1zM62.8 407.9h1v1h-1zM61.0 415.4h1v1h-1zM60.4 411.1h1v1h-1zM70.7 395.6h1v1h-1zM63.7 414.2h1v1h-1zM60.6 410.6h1v1h-1zM62.0 408.7h1v1h-1zM61.1 386.0h1v1h-1zM59.4 433.4h1v1h-1zM63.0 409.6h1v1h-1zM62.3 415.1h1v1h-1zM61.0 412.1h1v1h-1zM58.1 426.6h1v1h-1zM62.8 412.0h1v1h-1zM61.8 411.5h1v1h-1zM68.1 426.3h1v1h-1zM68.1 426.4h1v1h-1zM59.2 387.2h1v1h-1zM63.1 422.9h1v1h-1zM57.8 398.5h1v1h-1zM68.7 428.4h1v1h-1zM58.0 389.3h1v1h-1zM59.9 433.1h1v1h-1zM61.5 434.0h1v1h-1zM61.4 423.9h1v1h-1zM64.8 424.1h1v1h-1zM67.3 399.2h1v1h-1zM60.4 400.6h1v1h-1zM58.3 389.6h1v1h-1zM61.9 401.2h1v1h-1zM62.8 424.1h1v1h-1zM68.3 428.9h1v1h-1zM67.8 429.0h1v1h-1z" fill="rgb(38,171,198)" fill-opacity="1.00"/>
<path d="M56.1 403.5h1v1h-1zM70.1 389.5h1v1h-1zM67.6 417.9h1v1h-1zM57.4 418.3h1v1h-1zM67.3 406.8h1v1h-1zM57.3 416.3h1v1h-1zM68.3 401.5h1v1h-1zM70.4 398.9h1v1h-1zM69.3 433.1h1v1h-1zM67.7 401.7h1v1h-1zM58.6 404.9h1v1h-1zM66.7 412.0h1v1h-1zM67.6 388.1h1v1h-1zM57.3 386.7h1v1h-1zM56.6 427.8h1v1h-1zM58.8 417.1h1v1h-1zM59.8 434.7h1v1h-1zM58.2 412.1h1v1h-1zM56.5 429.2h1v1h-1zM56.6 428.6h1v1h-1zM66.1 413.8h1v1h-1zM66.1 411.7h1v1h-1zM65.5 435.2h1v1h-1zM59.0 416.9h1v1h-1zM67.6 401.1h1v1h-1zM58.6 409.5h1v1h-1zM58.5 410.8h1v1h-1zM59.1 407.5h1v1h-1zM67.0 434.5h1v1h-1zM65.7 409.5h1v1h-1zM65.3 421.3h1v1h-1zM64.9 417.5h1v1h-1zM64.6 405.3h1v1h-1zM58.6 424.0h1v1h-1zM71.1 393.1h1v1h-1zM64.5 404.5h1v1h-1zM60.5 419.9h1v1h-1zM60.4 419.0h1v1h-1zM68.1 425.0h1v1h-1zM64.5 406.5h1v1h-1zM70.6 397.2h1v1h-1zM56.5 397.9h1v1h-1zM65.2 410.3h1v1h-1zM70.9 392.9h1v1h-1zM60.6 404.5h1v1h-1zM66.0 402.0h1v1h-1zM65.3 422.1h1v1h-1zM64.1 420.5h1v1h-1zM59.3 423.2h1v1h-1zM65.9 402.1h1v1h-1zM67.2 424.1h1v1h-1zM57.4 426.7h1v1h-1zM64.1 406.7h1v1h-1zM64.9 414.4h1v1h-1zM61.3 419.9h1v1h-1zM63.3 419.6h1v1h-1zM60.4 403.4h1v1h-1zM64.6 415.3h1v1h-1zM63.9 406.8h1v1h-1zM71.1 395.1h1v1h-1zM61.6 420.2h1v1h-1zM61.1 404.3h1v1h-1zM60.8 417.0h1v1h-1zM59.3 401.7h1v1h-1zM61.8 418.4h1v1h-1zM63.4 407.0h1v1h-1zM63.1 404.2h1v1h-1zM61.1 403.6h1v1h-1zM64.4 403.0h1v1h-1zM64.3 414.9h1v1h-1zM59.9 413.3h1v1h-1zM64.6 410.7h1v1h-1zM60.7 416.2h1v1h-1zM63.3 403.6h1v1h-1zM60.2 402.4h1v1h-1zM60.0 412.0h1v1h-1zM63.4 408.1h1v1h-1zM61.9 407.5h1v1h-1zM60.6 409.8h1v1h-1zM59.4 433.5h1v1h-1zM60.6 410.4h1v1h-1zM63.9 413.4h1v1h-1zM68.5 432.4h1v1h-1zM60.9 414.7h1v1h-1zM63.1 415.4h1v1h-1zM61.7 415.6h1v1h-1zM63.8 413.1h1v1h-1zM61.4 409.6h1v1h-1zM64.6 434.7h1v1h-1zM63.2 386.4h1v1h-1zM63.5 412.7h1v1h-1zM63.5 411.4h1v1h-1zM63.5 412.3h1v1h-1zM62.8 402.9h1v1h-1zM69.0 431.1h1v1h-1zM63.3 411.7h1v1h-1zM63.5 422.4h1v1h-1zM61.8 410.1h1v1h-1zM59.4 424.5h1v1h-1zM60.1 433.8h1v1h-1zM62.7 413.3h1v1h-1zM62.3 413.5h1v1h-1zM65.6 387.8h1v1h-1zM66.7 388.6h1v1h-1zM62.1 412.6h1v1h-1zM61.4 402.4h1v1h-1zM68.8 431.4h1v1h-1zM65.4 423.6h1v1h-1zM68.8 431.0h1v1h-1zM60.4 423.9h1v1h-1zM60.9 386.6h1v1h-1zM61.4 434.1h1v1h-1zM57.9 389.4h1v1h-1zM58.7 426.3h1v1h-1zM68.9 429.5h1v1h-1zM57.6 390.2h1v1h-1zM58.6 431.7h1v1h-1zM64.4 401.4h1v1h-1zM58.0 428.5h1v1h-1zM56.6 395.2h1v1h-1zM64.3 387.5h1v1h-1zM63.6 387.2h1v1h-1zM59.5 387.6h1v1h-1zM62.4 423.5h1v1h-1zM62.5 423.5h1v1h-1zM59.5 432.6h1v1h-1zM58.5 431.1h1v1h-1zM60.9 387.1h1v1h-1zM68.3 428.1h1v1h-1zM65.1 400.7h1v1h-1zM58.0 390.2h1v1h-1zM61.9 433.8h1v1h-1zM57.9 397.9h1v1h-1zM58.4 430.0h1v1h-1zM58.6 428.5h1v1h-1zM61.4 433.3h1v1h-1zM61.3 433.1h1v1h-1zM69.0 393.2h1v1h-1zM57.7 392.2h1v1h-1zM63.6 388.4h1v1h-1z" fill="rgb(44,179,175)" fill-opacity="1.00"/>
<path d="M55.0 396.2h1v1h-1zM57.6 433.6h1v1h-1zM67.5 422.1h1v1h-1zM58.1 415.8h1v1h-1zM63.6 435.7h1v1h-1zM66.4 415.3h1v1h-1zM66.1 416.9h1v1h-1zM67.2 401.9h1v1h-1zM57.3 425.3h1v1h-1zM58.4 413.5h1v1h-1zM70.2 429.9h1v1h-1zM66.3 422.3h1v1h-1zM59.0 416.1h1v1h-1zM70.0 430.4h1v1h-1zM58.1 401.0h1v1h-1zM67.2 423.6h1v1h-1zM64.6 419.3h1v1h-1zM65.3 408.6h1v1h-1zM59.2 408.8h1v1h-1zM59.1 409.8h1v1h-1zM60.5 420.7h1v1h-1zM59.8 407.6h1v1h-1zM69.4 398.7h1v1h-1zM64.2 420.6h1v1h-1zM57.2 427.4h1v1h-1zM65.1 421.9h1v1h-1zM66.5 434.4h1v1h-1zM64.9 421.8h1v1h-1zM65.1 412.9h1v1h-1zM60.8 404.4h1v1h-1zM64.7 415.6h1v1h-1zM63.6 404.9h1v1h-1zM59.7 409.5h1v1h-1zM63.5 405.7h1v1h-1zM60.0 408.4h1v1h-1zM64.7 421.9h1v1h-1zM63.9 417.4h1v1h-1zM61.3 405.3h1v1h-1zM63.3 404.8h1v1h-1zM67.8 400.2h1v1h-1zM59.6 411.8h1v1h-1zM69.6 429.9h1v1h-1zM63.0 405.1h1v1h-1zM69.2 431.6h1v1h-1zM57.5 388.4h1v1h-1zM59.8 413.6h1v1h-1zM62.2 404.9h1v1h-1zM57.7 426.6h1v1h-1zM67.6 424.8h1v1h-1zM62.2 404.7h1v1h-1zM65.2 434.7h1v1h-1zM68.9 432.0h1v1h-1zM62.9 403.7h1v1h-1zM63.4 416.3h1v1h-1zM57.0 389.9h1v1h-1zM62.0 407.3h1v1h-1zM63.8 409.2h1v1h-1zM60.9 415.5h1v1h-1zM62.9 416.2h1v1h-1zM63.2 408.8h1v1h-1zM58.8 400.7h1v1h-1zM68.5 390.1h1v1h-1zM63.4 422.0h1v1h-1zM58.8 387.0h1v1h-1zM58.7 425.2h1v1h-1zM62.1 422.1h1v1h-1zM63.6 411.0h1v1h-1zM62.5 422.1h1v1h-1zM63.3 414.0h1v1h-1zM62.9 410.8h1v1h-1zM58.4 387.6h1v1h-1zM62.2 414.1h1v1h-1zM69.2 429.7h1v1h-1zM62.1 412.6h1v1h-1zM66.5 424.4h1v1h-1zM66.0 424.1h1v1h-1zM64.6 434.5h1v1h-1zM62.4 422.7h1v1h-1zM70.4 394.3h1v1h-1zM62.3 402.3h1v1h-1zM56.4 395.3h1v1h-1zM57.7 398.5h1v1h-1zM58.3 426.8h1v1h-1zM59.2 425.3h1v1h-1zM56.5 395.1h1v1h-1zM64.2 434.4h1v1h-1zM68.5 427.5h1v1h-1zM65.3 424.0h1v1h-1zM63.0 434.4h1v1h-1zM68.7 428.4h1v1h-1zM58.1 430.5h1v1h-1zM58.5 388.5h1v1h-1zM60.7 386.8h1v1h-1zM60.7 424.1h1v1h-1zM61.6 423.6h1v1h-1zM58.9 426.1h1v1h-1zM69.7 392.7h1v1h-1zM63.8 423.6h1v1h-1zM58.8 426.5h1v1h-1zM58.1 429.8h1v1h-1zM67.4 432.5h1v1h-1zM59.2 425.9h1v1h-1zM56.9 395.9h1v1h-1zM69.0 391.6h1v1h-1zM57.8 398.1h1v1h-1zM58.6 388.8h1v1h-1zM61.8 424.0h1v1h-1zM69.9 395.0h1v1h-1zM66.2 389.0h1v1h-1zM62.4 423.9h1v1h-1zM57.1 396.2h1v1h-1zM64.2 434.0h1v1h-1zM65.9 388.8h1v1h-1zM66.4 399.8h1v1h-1zM69.7 395.0h1v1h-1zM68.3 429.3h1v1h-1zM67.3 432.1h1v1h-1zM69.2 392.7h1v1h-1zM67.5 427.2h1v1h-1zM69.3 393.4h1v1h-1zM58.9 427.8h1v1h-1zM60.8 387.9h1v1h-1zM59.0 427.9h1v1h-1zM67.3 431.6h1v1h-1zM61.5 387.9h1v1h-1zM62.8 433.5h1v1h-1zM68.1 391.3h1v1h-1zM67.6 431.0h1v1h-1zM58.3 397.7h1v1h-1zM60.5 426.1h1v1h-1zM66.4 432.3h1v1h-1zM62.0 388.1h1v1h-1zM66.8 398.5h1v1h-1zM63.2 400.2h1v1h-1zM68.4 392.5h1v1h-1zM58.4 391.3h1v1h-1zM68.8 395.4h1v1h-1zM57.9 392.8h1v1h-1zM63.0 432.7h1v1h-1zM64.7 398.7h1v1h-1z" fill="rgb(51,188,152)" fill-opacity="1.00"/>
<path d="M57.9 420.6h1v1h-1zM66.7 407.5h1v1h-1zM67.2 387.5h1v1h-1zM71.2 396.8h1v1h-1zM65.8 421.5h1v1h-1zM58.9 402.4h1v1h-1zM64.8 419.0h1v1h-1zM65.1 403.7h1v1h-1zM65.0 403.5h1v1h-1zM58.9 411.4h1v1h-1zM64.4 404.9h1v1h-1zM64.6 404.0h1v1h-1zM57.7 387.2h1v1h-1zM57.2 388.6h1v1h-1zM63.6 418.7h1v1h-1zM61.0 418.6h1v1h-1zM57.3 431.0h1v1h-1zM69.5 398.4h1v1h-1zM59.1 386.2h1v1h-1zM62.3 435.0h1v1h-1zM60.1 415.1h1v1h-1zM62.5 405.5h1v1h-1zM63.2 404.1h1v1h-1zM63.0 421.0h1v1h-1zM61.7 406.3h1v1h-1zM62.3 406.2h1v1h-1zM63.0 417.5h1v1h-1zM63.4 421.3h1v1h-1zM62.9 416.7h1v1h-1zM56.0 394.6h1v1h-1zM61.8 416.6h1v1h-1zM61.9 407.6h1v1h-1zM65.5 401.8h1v1h-1zM62.0 421.8h1v1h-1zM59.8 386.2h1v1h-1zM61.7 408.5h1v1h-1zM60.8 414.2h1v1h-1zM57.4 398.7h1v1h-1zM63.1 409.5h1v1h-1zM60.8 412.1h1v1h-1zM70.7 394.3h1v1h-1zM61.1 412.5h1v1h-1zM59.0 433.0h1v1h-1zM56.2 395.0h1v1h-1zM62.6 410.3h1v1h-1zM61.9 410.2h1v1h-1zM61.5 411.0h1v1h-1zM57.6 430.3h1v1h-1zM61.6 411.7h1v1h-1zM65.8 423.8h1v1h-1zM64.2 434.6h1v1h-1zM61.8 412.1h1v1h-1zM65.4 434.3h1v1h-1zM59.0 387.2h1v1h-1zM57.0 397.4h1v1h-1zM59.9 401.1h1v1h-1zM59.8 424.7h1v1h-1zM60.6 424.1h1v1h-1zM69.7 396.6h1v1h-1zM58.9 432.2h1v1h-1zM56.6 394.9h1v1h-1zM67.5 399.2h1v1h-1zM63.7 401.5h1v1h-1zM61.1 424.1h1v1h-1zM64.6 401.0h1v1h-1zM60.1 433.1h1v1h-1zM60.5 424.7h1v1h-1zM60.7 400.9h1v1h-1zM69.5 392.7h1v1h-1zM60.9 400.9h1v1h-1zM58.9 388.7h1v1h-1zM66.6 425.7h1v1h-1zM67.2 399.2h1v1h-1zM58.6 389.2h1v1h-1zM66.9 426.0h1v1h-1zM64.0 387.8h1v1h-1zM69.3 392.6h1v1h-1zM62.7 433.9h1v1h-1zM61.2 424.6h1v1h-1zM63.3 424.1h1v1h-1zM60.7 425.0h1v1h-1zM58.6 389.4h1v1h-1zM58.6 428.1h1v1h-1zM58.5 429.7h1v1h-1zM68.9 392.1h1v1h-1zM58.5 429.8h1v1h-1zM68.0 430.8h1v1h-1zM66.9 426.5h1v1h-1zM64.4 388.2h1v1h-1zM61.9 400.7h1v1h-1zM67.1 390.1h1v1h-1zM58.8 430.3h1v1h-1zM65.0 388.7h1v1h-1zM63.7 424.7h1v1h-1zM58.9 428.9h1v1h-1zM67.7 428.6h1v1h-1zM62.8 433.4h1v1h-1zM66.8 431.9h1v1h-1zM67.7 391.0h1v1h-1zM66.9 390.3h1v1h-1zM61.5 388.3h1v1h-1zM68.4 392.5h1v1h-1zM64.6 425.8h1v1h-1zM61.8 432.7h1v1h-1zM61.9 425.7h1v1h-1zM59.6 429.3h1v1h-1zM59.8 428.1h1v1h-1zM66.5 431.0h1v1h-1zM60.4 431.0h1v1h-1zM61.4 389.1h1v1h-1zM66.3 430.8h1v1h-1zM59.9 398.2h1v1h-1zM62.6 431.4h1v1h-1z" fill="rgb(57,196,129)" fill-opacity="1.00"/>
<path d="M56.1 390.5h1v1h-1zM65.5 408.6h1v1h-1zM59.3 416.8h1v1h-1zM66.1 402.5h1v1h-1zM64.8 406.3h1v1h-1zM64.4 405.6h1v1h-1zM57.4 399.6h1v1h-1zM63.6 419.8h1v1h-1zM56.7 390.2h1v1h-1zM65.0 414.1h1v1h-1zM60.1 408.2h1v1h-1zM60.9 403.6h1v1h-1zM60.6 409.1h1v1h-1zM69.3 430.9h1v1h-1zM63.1 408.0h1v1h-1zM61.0 408.9h1v1h-1zM61.3 409.5h1v1h-1zM69.6 397.7h1v1h-1zM56.2 394.1h1v1h-1zM62.7 409.7h1v1h-1zM63.4 412.9h1v1h-1zM59.8 401.5h1v1h-1zM61.9 402.7h1v1h-1zM62.3 412.9h1v1h-1zM62.2 422.7h1v1h-1zM57.8 428.1h1v1h-1zM62.6 422.8h1v1h-1zM62.1 386.5h1v1h-1zM68.4 398.7h1v1h-1zM68.3 398.8h1v1h-1zM66.1 424.4h1v1h-1zM56.4 394.9h1v1h-1zM57.9 430.1h1v1h-1zM57.8 389.5h1v1h-1zM61.9 434.2h1v1h-1zM68.4 427.4h1v1h-1zM60.4 401.1h1v1h-1zM60.9 433.8h1v1h-1zM66.2 400.3h1v1h-1zM67.3 399.4h1v1h-1zM70.1 394.6h1v1h-1zM66.6 389.1h1v1h-1zM60.4 424.6h1v1h-1zM56.7 394.0h1v1h-1zM65.1 400.7h1v1h-1zM62.0 387.2h1v1h-1zM65.6 424.9h1v1h-1zM68.1 431.0h1v1h-1zM68.1 428.0h1v1h-1zM62.7 424.2h1v1h-1zM59.4 388.4h1v1h-1zM58.5 429.6h1v1h-1zM66.7 399.4h1v1h-1zM59.0 427.2h1v1h-1zM63.3 400.9h1v1h-1zM59.0 389.0h1v1h-1zM64.6 424.7h1v1h-1zM63.6 433.7h1v1h-1zM61.7 387.7h1v1h-1zM57.6 396.8h1v1h-1zM63.5 424.6h1v1h-1zM62.5 400.7h1v1h-1zM58.8 430.3h1v1h-1zM61.7 400.5h1v1h-1zM65.1 433.3h1v1h-1zM60.4 399.9h1v1h-1zM60.0 432.1h1v1h-1zM61.0 388.0h1v1h-1zM69.3 394.3h1v1h-1zM57.6 396.3h1v1h-1zM64.5 433.3h1v1h-1zM60.1 426.4h1v1h-1zM66.5 389.9h1v1h-1zM66.9 390.3h1v1h-1zM63.2 425.1h1v1h-1zM67.6 397.9h1v1h-1zM59.2 428.2h1v1h-1zM60.5 426.2h1v1h-1zM59.1 398.5h1v1h-1zM67.3 398.2h1v1h-1zM68.2 391.9h1v1h-1zM59.7 427.5h1v1h-1zM57.6 394.0h1v1h-1zM67.3 430.1h1v1h-1zM58.5 397.5h1v1h-1zM68.8 395.5h1v1h-1zM60.4 388.9h1v1h-1zM63.2 433.1h1v1h-1zM59.7 398.8h1v1h-1zM61.1 426.2h1v1h-1zM67.0 428.5h1v1h-1zM67.8 391.9h1v1h-1zM68.1 392.4h1v1h-1zM58.1 392.5h1v1h-1zM63.7 432.8h1v1h-1zM59.6 429.5h1v1h-1zM62.5 432.6h1v1h-1zM63.2 426.0h1v1h-1zM62.9 399.6h1v1h-1zM67.9 396.4h1v1h-1zM62.6 389.0h1v1h-1zM61.8 399.4h1v1h-1zM66.7 397.7h1v1h-1zM58.3 392.9h1v1h-1zM61.3 431.4h1v1h-1zM59.8 397.3h1v1h-1zM65.5 429.7h1v1h-1zM62.8 389.9h1v1h-1zM63.0 428.1h1v1h-1zM62.3 430.1h1v1h-1z" fill="rgb(73,201,109)" fill-opacity="1.00"/>
<path d="M59.5 415.7h1v1h-1zM61.5 418.2h1v1h-1zM62.9 418.1h1v1h-1zM60.7 410.2h1v1h-1zM64.7 422.9h1v1h-1zM62.6 402.4h1v1h-1zM58.8 400.1h1v1h-1zM67.4 432.9h1v1h-1zM64.6 423.6h1v1h-1zM64.3 423.7h1v1h-1zM68.9 397.6h1v1h-1zM58.6 388.8h1v1h-1zM61.8 424.3h1v1h-1zM61.6 433.6h1v1h-1zM66.6 399.5h1v1h-1zM67.7 398.5h1v1h-1zM64.2 400.8h1v1h-1zM58.3 398.3h1v1h-1zM57.2 392.5h1v1h-1zM66.0 433.1h1v1h-1zM57.6 396.8h1v1h-1zM60.8 387.8h1v1h-1zM60.5 425.5h1v1h-1zM67.9 391.0h1v1h-1zM64.6 433.5h1v1h-1zM69.4 395.3h1v1h-1zM58.9 427.9h1v1h-1zM65.6 389.1h1v1h-1zM58.2 397.5h1v1h-1zM66.8 390.2h1v1h-1zM62.6 424.9h1v1h-1zM68.7 396.4h1v1h-1zM65.7 432.8h1v1h-1zM60.3 426.3h1v1h-1zM58.6 390.5h1v1h-1zM63.0 425.1h1v1h-1zM65.9 399.3h1v1h-1zM62.4 425.2h1v1h-1zM67.5 428.7h1v1h-1zM60.7 388.5h1v1h-1zM57.8 392.4h1v1h-1zM69.0 394.1h1v1h-1zM63.8 388.6h1v1h-1zM63.9 388.6h1v1h-1zM66.2 432.2h1v1h-1zM62.6 400.1h1v1h-1zM68.5 396.3h1v1h-1zM64.6 399.7h1v1h-1zM60.4 399.2h1v1h-1zM67.1 430.5h1v1h-1zM58.2 391.7h1v1h-1zM67.1 398.0h1v1h-1zM67.0 398.0h1v1h-1zM68.6 395.6h1v1h-1zM59.7 428.7h1v1h-1zM57.8 394.0h1v1h-1zM64.6 399.4h1v1h-1zM66.1 431.7h1v1h-1zM63.4 426.0h1v1h-1zM65.3 432.1h1v1h-1zM62.1 399.5h1v1h-1zM68.0 396.3h1v1h-1zM64.4 399.2h1v1h-1zM65.7 431.5h1v1h-1zM58.2 393.6h1v1h-1zM59.5 390.8h1v1h-1zM63.2 389.5h1v1h-1zM59.4 397.3h1v1h-1zM64.4 431.7h1v1h-1zM60.6 398.1h1v1h-1zM65.4 428.9h1v1h-1zM61.3 430.0h1v1h-1zM64.3 428.6h1v1h-1z" fill="rgb(96,203,93)" fill-opacity="1.00"/>
<path d="M59.3 402.6h1v1h-1zM63.2 422.3h1v1h-1zM57.6 389.6h1v1h-1zM63.0 401.6h1v1h-1zM66.1 400.0h1v1h-1zM68.5 397.8h1v1h-1zM62.5 387.4h1v1h-1zM62.5 401.0h1v1h-1zM64.2 400.7h1v1h-1zM59.6 426.2h1v1h-1zM58.9 427.4h1v1h-1zM66.2 389.3h1v1h-1zM62.4 400.8h1v1h-1zM62.1 387.6h1v1h-1zM67.7 431.2h1v1h-1zM65.2 388.7h1v1h-1zM67.9 429.0h1v1h-1zM61.4 425.2h1v1h-1zM63.6 433.5h1v1h-1zM68.2 391.6h1v1h-1zM58.1 397.4h1v1h-1zM69.1 395.6h1v1h-1zM59.4 431.2h1v1h-1zM59.2 428.0h1v1h-1zM67.9 391.3h1v1h-1zM60.9 399.9h1v1h-1zM60.6 388.4h1v1h-1zM59.3 430.6h1v1h-1zM63.5 433.3h1v1h-1zM65.1 425.7h1v1h-1zM68.6 396.1h1v1h-1zM66.5 427.0h1v1h-1zM59.3 429.5h1v1h-1zM60.1 426.9h1v1h-1zM60.5 432.0h1v1h-1zM62.5 400.1h1v1h-1zM68.7 395.5h1v1h-1zM65.4 399.3h1v1h-1zM64.4 432.8h1v1h-1zM67.1 429.7h1v1h-1zM62.9 399.9h1v1h-1zM66.3 431.7h1v1h-1zM61.1 399.5h1v1h-1zM65.4 399.1h1v1h-1zM58.1 392.3h1v1h-1zM63.3 388.8h1v1h-1zM57.8 393.4h1v1h-1zM59.8 428.8h1v1h-1zM66.1 431.6h1v1h-1zM64.9 389.5h1v1h-1zM65.9 427.1h1v1h-1zM65.6 432.0h1v1h-1zM63.0 432.7h1v1h-1zM63.4 426.0h1v1h-1zM60.1 389.7h1v1h-1zM66.0 390.2h1v1h-1zM58.1 393.0h1v1h-1zM61.6 399.4h1v1h-1zM60.5 398.8h1v1h-1zM64.9 389.7h1v1h-1zM66.3 398.2h1v1h-1zM60.5 398.6h1v1h-1zM65.4 427.2h1v1h-1zM67.8 396.2h1v1h-1zM60.5 428.5h1v1h-1zM62.5 426.6h1v1h-1zM61.4 431.5h1v1h-1zM64.2 432.1h1v1h-1zM66.1 428.5h1v1h-1zM64.0 399.1h1v1h-1zM65.0 398.7h1v1h-1zM65.1 431.6h1v1h-1zM58.4 393.4h1v1h-1zM60.7 430.4h1v1h-1zM62.3 427.0h1v1h-1zM61.9 389.6h1v1h-1zM58.7 393.0h1v1h-1zM61.6 430.9h1v1h-1zM65.1 428.5h1v1h-1zM65.4 429.2h1v1h-1zM58.9 393.4h1v1h-1zM62.1 430.6h1v1h-1zM59.2 393.4h1v1h-1zM59.3 393.2h1v1h-1z" fill="rgb(120,205,76)" fill-opacity="1.00"/>
<path d="M65.7 433.9h1v1h-1zM67.0 389.6h1v1h-1zM64.0 400.9h1v1h-1zM67.4 427.2h1v1h-1zM57.6 396.6h1v1h-1zM59.4 427.0h1v1h-1zM59.6 399.3h1v1h-1zM67.8 429.4h1v1h-1zM67.0 431.8h1v1h-1zM64.1 433.4h1v1h-1zM67.7 429.9h1v1h-1zM64.1 433.3h1v1h-1zM61.7 400.1h1v1h-1zM64.9 432.9h1v1h-1zM65.7 426.3h1v1h-1zM65.3 389.3h1v1h-1zM62.3 433.0h1v1h-1zM61.9 400.0h1v1h-1zM60.5 426.6h1v1h-1zM63.5 433.0h1v1h-1zM66.6 427.5h1v1h-1zM58.2 396.7h1v1h-1zM64.6 432.8h1v1h-1zM67.0 428.6h1v1h-1zM68.2 396.5h1v1h-1zM66.5 431.5h1v1h-1zM67.1 429.0h1v1h-1zM62.2 399.8h1v1h-1zM67.0 429.0h1v1h-1zM62.4 425.9h1v1h-1zM66.9 428.7h1v1h-1zM60.1 430.9h1v1h-1zM60.3 427.7h1v1h-1zM60.8 399.1h1v1h-1zM61.0 399.2h1v1h-1zM62.6 432.6h1v1h-1zM64.2 426.2h1v1h-1zM60.7 427.3h1v1h-1zM60.8 431.5h1v1h-1zM64.3 432.5h1v1h-1zM64.4 432.4h1v1h-1zM66.6 428.6h1v1h-1zM68.3 393.8h1v1h-1zM65.8 427.5h1v1h-1zM63.7 389.3h1v1h-1zM65.5 431.7h1v1h-1zM58.1 394.1h1v1h-1zM65.5 427.5h1v1h-1zM65.0 427.1h1v1h-1zM59.1 397.1h1v1h-1zM66.0 430.7h1v1h-1zM66.2 429.9h1v1h-1zM66.3 397.9h1v1h-1zM62.0 389.5h1v1h-1zM63.4 389.5h1v1h-1zM61.9 398.9h1v1h-1zM62.8 389.5h1v1h-1zM61.7 431.4h1v1h-1zM63.8 389.8h1v1h-1zM63.3 431.7h1v1h-1zM58.6 393.4h1v1h-1zM64.6 431.4h1v1h-1zM66.4 397.3h1v1h-1zM59.0 396.1h1v1h-1zM59.4 391.8h1v1h-1zM65.3 390.7h1v1h-1zM64.9 428.7h1v1h-1zM64.2 428.1h1v1h-1zM64.1 428.4h1v1h-1zM64.7 429.7h1v1h-1zM62.1 428.9h1v1h-1zM59.3 395.7h1v1h-1zM64.3 429.5h1v1h-1zM59.4 395.6h1v1h-1zM64.8 391.1h1v1h-1zM60.9 396.8h1v1h-1z" fill="rgb(143,207,59)" fill-opacity="1.00"/>
<path d="M68.1 427.9h1v1h-1zM67.5 431.9h1v1h-1zM58.2 398.1h1v1h-1zM61.7 387.8h1v1h-1zM67.4 431.3h1v1h-1zM66.8 432.1h1v1h-1zM60.1 399.6h1v1h-1zM67.4 430.8h1v1h-1zM57.9 392.0h1v1h-1zM59.9 427.5h1v1h-1zM64.8 432.8h1v1h-1zM60.9 426.4h1v1h-1zM67.2 391.0h1v1h-1zM61.5 426.1h1v1h-1zM62.5 425.9h1v1h-1zM60.0 430.7h1v1h-1zM61.7 388.8h1v1h-1zM66.0 431.7h1v1h-1zM66.5 430.6h1v1h-1zM66.3 428.0h1v1h-1zM61.2 399.2h1v1h-1zM58.1 395.0h1v1h-1zM61.5 426.8h1v1h-1zM66.1 428.0h1v1h-1zM62.6 426.4h1v1h-1zM64.2 426.6h1v1h-1zM65.4 398.6h1v1h-1zM62.0 399.2h1v1h-1zM63.4 399.3h1v1h-1zM61.6 399.1h1v1h-1zM59.8 398.0h1v1h-1zM65.3 398.6h1v1h-1zM67.5 396.5h1v1h-1zM63.2 389.4h1v1h-1zM61.3 431.4h1v1h-1zM66.0 428.5h1v1h-1zM61.5 427.4h1v1h-1zM64.8 398.7h1v1h-1zM67.7 393.0h1v1h-1zM61.5 431.3h1v1h-1zM67.9 395.2h1v1h-1zM63.8 431.9h1v1h-1zM61.3 431.0h1v1h-1zM61.2 428.0h1v1h-1zM64.0 398.9h1v1h-1zM65.4 398.3h1v1h-1zM67.8 393.6h1v1h-1zM59.6 397.4h1v1h-1zM61.3 430.8h1v1h-1zM59.9 391.0h1v1h-1zM66.8 391.8h1v1h-1zM65.0 431.1h1v1h-1zM59.9 391.1h1v1h-1zM60.8 398.1h1v1h-1zM65.4 429.1h1v1h-1zM58.8 395.2h1v1h-1zM65.1 398.1h1v1h-1zM61.4 429.0h1v1h-1zM65.9 391.2h1v1h-1zM64.2 427.9h1v1h-1zM62.6 398.6h1v1h-1zM59.8 391.5h1v1h-1zM59.3 392.4h1v1h-1zM64.5 430.7h1v1h-1zM63.1 428.0h1v1h-1zM61.9 429.7h1v1h-1zM62.2 430.0h1v1h-1zM63.7 398.3h1v1h-1zM63.0 428.4h1v1h-1zM62.2 429.8h1v1h-1zM60.4 391.2h1v1h-1zM62.7 428.5h1v1h-1zM60.4 391.3h1v1h-1zM62.9 398.2h1v1h-1zM59.2 393.3h1v1h-1zM63.3 429.2h1v1h-1zM59.8 392.9h1v1h-1zM63.6 391.2h1v1h-1z" fill="rgb(166,209,42)" fill-opacity="1.00"/>
<path d="M60.3 425.5h1v1h-1zM66.2 426.0h1v1h-1zM66.0 432.7h1v1h-1zM67.4 429.4h1v1h-1zM66.0 432.1h1v1h-1zM61.9 388.6h1v1h-1zM61.1 432.3h1v1h-1zM59.5 390.0h1v1h-1zM63.7 432.8h1v1h-1zM62.2 426.0h1v1h-1zM61.1 427.0h1v1h-1zM60.0 429.5h1v1h-1zM61.5 389.2h1v1h-1zM65.1 427.0h1v1h-1zM60.4 428.7h1v1h-1zM58.7 396.4h1v1h-1zM68.0 393.5h1v1h-1zM62.6 426.7h1v1h-1zM58.3 395.3h1v1h-1zM62.9 426.7h1v1h-1zM62.5 426.8h1v1h-1zM66.7 397.5h1v1h-1zM65.6 431.0h1v1h-1zM58.9 396.3h1v1h-1zM62.8 399.0h1v1h-1zM64.7 398.6h1v1h-1zM64.8 431.3h1v1h-1zM67.0 396.7h1v1h-1zM58.6 393.6h1v1h-1zM65.1 430.9h1v1h-1zM62.9 431.5h1v1h-1zM67.1 396.3h1v1h-1zM65.0 428.5h1v1h-1zM64.9 398.2h1v1h-1zM65.3 429.7h1v1h-1zM61.5 390.2h1v1h-1zM65.9 391.3h1v1h-1zM62.0 428.4h1v1h-1zM61.3 398.2h1v1h-1zM61.7 429.5h1v1h-1zM66.8 396.3h1v1h-1zM64.1 429.8h1v1h-1zM63.0 430.1h1v1h-1zM59.2 394.5h1v1h-1zM65.5 391.5h1v1h-1zM63.8 397.8h1v1h-1zM66.1 392.3h1v1h-1zM64.1 397.6h1v1h-1zM64.7 397.0h1v1h-1zM64.6 396.8h1v1h-1zM60.3 393.8h1v1h-1zM65.4 395.7h1v1h-1zM64.6 392.3h1v1h-1z" fill="rgb(183,201,35)" fill-opacity="1.00"/>
<path d="M64.0 399.7h1v1h-1zM64.4 426.0h1v1h-1zM61.0 426.6h1v1h-1zM61.5 431.9h1v1h-1zM68.1 394.7h1v1h-1zM61.7 398.9h1v1h-1zM64.6 398.7h1v1h-1zM66.9 397.0h1v1h-1zM61.3 389.8h1v1h-1zM61.7 431.2h1v1h-1zM61.1 428.4h1v1h-1zM65.2 428.2h1v1h-1zM60.2 397.6h1v1h-1zM59.1 396.2h1v1h-1zM63.1 427.6h1v1h-1zM62.4 427.9h1v1h-1zM62.6 427.9h1v1h-1zM63.7 398.5h1v1h-1zM61.6 429.4h1v1h-1zM62.1 430.6h1v1h-1zM63.5 430.9h1v1h-1zM62.0 429.2h1v1h-1zM67.3 394.1h1v1h-1zM62.2 429.3h1v1h-1zM63.2 428.4h1v1h-1zM63.3 398.3h1v1h-1zM60.3 397.1h1v1h-1zM66.5 396.4h1v1h-1zM65.0 397.7h1v1h-1zM59.6 392.3h1v1h-1zM62.9 429.2h1v1h-1zM62.9 429.6h1v1h-1zM66.2 396.6h1v1h-1zM61.5 390.8h1v1h-1zM61.8 390.8h1v1h-1zM59.3 394.4h1v1h-1zM59.4 394.3h1v1h-1zM63.2 397.9h1v1h-1zM60.2 392.3h1v1h-1zM64.9 391.5h1v1h-1zM62.4 391.0h1v1h-1zM59.9 395.3h1v1h-1zM66.5 394.4h1v1h-1zM60.1 393.5h1v1h-1zM66.1 395.2h1v1h-1zM62.3 391.5h1v1h-1zM62.2 391.6h1v1h-1zM61.4 392.2h1v1h-1zM65.2 394.0h1v1h-1zM61.8 392.8h1v1h-1zM63.2 394.9h1v1h-1z" fill="rgb(200,191,30)" fill-opacity="1.00"/>
<path d="M64.1 432.4h1v1h-1zM58.9 396.9h1v1h-1zM64.1 389.5h1v1h-1zM59.6 390.9h1v1h-1zM60.4 390.4h1v1h-1zM65.2 390.4h1v1h-1zM63.0 431.7h1v1h-1zM63.3 427.3h1v1h-1zM61.3 429.1h1v1h-1zM65.4 429.5h1v1h-1zM65.2 429.2h1v1h-1zM64.0 430.9h1v1h-1zM66.9 396.2h1v1h-1zM64.1 390.3h1v1h-1zM64.2 430.8h1v1h-1zM62.7 428.1h1v1h-1zM62.0 429.1h1v1h-1zM66.4 392.0h1v1h-1zM63.3 430.6h1v1h-1zM63.1 430.6h1v1h-1zM64.4 390.7h1v1h-1zM59.1 393.6h1v1h-1zM60.4 397.3h1v1h-1zM67.0 395.5h1v1h-1zM62.6 429.8h1v1h-1zM62.6 429.6h1v1h-1zM65.3 397.4h1v1h-1zM61.3 397.6h1v1h-1zM62.9 390.7h1v1h-1zM61.1 391.3h1v1h-1zM64.6 397.4h1v1h-1zM60.2 392.3h1v1h-1zM64.2 391.2h1v1h-1zM65.4 392.0h1v1h-1zM61.7 391.2h1v1h-1zM60.1 393.1h1v1h-1zM63.5 397.4h1v1h-1zM59.9 394.0h1v1h-1zM63.6 397.3h1v1h-1zM64.1 391.5h1v1h-1zM66.0 395.5h1v1h-1zM60.8 396.4h1v1h-1zM66.2 395.0h1v1h-1zM60.7 392.3h1v1h-1zM60.0 394.6h1v1h-1zM62.0 397.0h1v1h-1zM60.1 394.4h1v1h-1zM66.0 395.1h1v1h-1zM63.7 391.5h1v1h-1zM65.1 392.6h1v1h-1zM65.6 395.4h1v1h-1zM60.4 394.0h1v1h-1zM61.6 392.2h1v1h-1zM61.3 395.7h1v1h-1zM64.4 392.9h1v1h-1zM63.9 393.1h1v1h-1z" fill="rgb(217,181,25)" fill-opacity="1.00"/>
<path d="M60.4 431.0h1v1h-1zM59.6 397.2h1v1h-1zM67.6 394.6h1v1h-1zM62.1 428.0h1v1h-1zM63.4 427.9h1v1h-1zM63.1 398.5h1v1h-1zM65.1 390.8h1v1h-1zM63.9 398.4h1v1h-1zM63.6 428.2h1v1h-1zM62.8 428.5h1v1h-1zM62.3 390.3h1v1h-1zM59.2 393.3h1v1h-1zM67.0 393.2h1v1h-1zM63.0 428.7h1v1h-1zM60.1 396.6h1v1h-1zM63.8 397.9h1v1h-1zM66.8 393.4h1v1h-1zM62.3 390.6h1v1h-1zM66.8 393.8h1v1h-1zM65.2 397.0h1v1h-1zM64.6 391.3h1v1h-1zM64.5 391.5h1v1h-1zM62.9 391.4h1v1h-1zM62.8 391.4h1v1h-1zM61.2 392.1h1v1h-1zM63.0 397.0h1v1h-1zM65.0 396.3h1v1h-1zM62.8 396.8h1v1h-1zM61.1 395.9h1v1h-1zM63.2 392.1h1v1h-1zM60.9 395.0h1v1h-1zM61.0 393.5h1v1h-1zM61.6 395.7h1v1h-1zM64.5 395.4h1v1h-1zM62.1 392.9h1v1h-1zM62.1 393.1h1v1h-1zM61.5 394.1h1v1h-1zM64.5 394.1h1v1h-1zM62.0 393.9h1v1h-1zM63.9 394.0h1v1h-1z" fill="rgb(233,170,20)" fill-opacity="1.00"/>
<path d="M66.4 391.9h1v1h-1zM67.0 393.2h1v1h-1zM63.7 429.3h1v1h-1zM66.5 392.7h1v1h-1zM59.6 392.7h1v1h-1zM60.4 396.7h1v1h-1zM61.7 397.5h1v1h-1zM64.9 397.1h1v1h-1zM61.4 391.3h1v1h-1zM60.9 391.9h1v1h-1zM61.4 397.0h1v1h-1zM61.3 391.7h1v1h-1zM61.8 396.9h1v1h-1zM64.6 396.7h1v1h-1zM63.7 391.6h1v1h-1zM63.9 396.9h1v1h-1zM65.7 393.3h1v1h-1zM62.9 396.8h1v1h-1zM60.6 394.8h1v1h-1zM64.0 396.6h1v1h-1zM61.1 392.8h1v1h-1zM60.9 395.5h1v1h-1zM65.6 394.5h1v1h-1zM63.5 396.5h1v1h-1zM63.8 396.4h1v1h-1zM63.4 392.2h1v1h-1zM64.0 392.4h1v1h-1zM63.3 392.2h1v1h-1zM62.4 396.0h1v1h-1zM64.9 394.6h1v1h-1zM62.5 392.7h1v1h-1zM64.4 393.2h1v1h-1zM64.1 395.5h1v1h-1zM62.4 393.6h1v1h-1zM62.6 395.1h1v1h-1zM63.1 395.0h1v1h-1zM62.7 394.9h1v1h-1z" fill="rgb(230,139,17)" fill-opacity="1.00"/>
<path d="M65.0 391.4h1v1h-1zM60.6 392.1h1v1h-1zM63.1 391.1h1v1h-1zM66.1 395.3h1v1h-1zM63.5 397.3h1v1h-1zM60.7 392.7h1v1h-1zM64.9 392.3h1v1h-1zM65.1 396.3h1v1h-1zM60.3 394.1h1v1h-1zM64.3 396.7h1v1h-1zM60.5 393.5h1v1h-1zM60.7 395.2h1v1h-1zM65.3 393.3h1v1h-1zM64.0 392.2h1v1h-1zM62.0 396.2h1v1h-1zM61.0 394.0h1v1h-1zM61.6 395.7h1v1h-1zM62.3 392.4h1v1h-1zM64.2 392.9h1v1h-1zM61.9 395.7h1v1h-1zM64.5 393.2h1v1h-1zM64.8 394.9h1v1h-1zM62.1 392.9h1v1h-1zM62.7 395.8h1v1h-1zM62.4 395.2h1v1h-1zM64.1 394.8h1v1h-1z" fill="rgb(225,106,15)" fill-opacity="1.00"/>
<path d="M61.2 397.3h1v1h-1zM66.4 394.2h1v1h-1zM62.7 397.4h1v1h-1zM61.4 391.8h1v1h-1zM62.9 391.5h1v1h-1zM65.9 394.8h1v1h-1zM65.4 392.8h1v1h-1zM60.9 392.9h1v1h-1zM61.7 392.2h1v1h-1zM60.8 395.4h1v1h-1zM60.7 395.2h1v1h-1zM62.3 392.0h1v1h-1zM61.9 392.3h1v1h-1zM62.4 396.5h1v1h-1zM65.4 394.0h1v1h-1zM61.2 393.1h1v1h-1zM64.7 393.0h1v1h-1zM62.1 395.9h1v1h-1zM62.6 392.7h1v1h-1zM62.3 392.8h1v1h-1zM64.1 393.1h1v1h-1zM61.5 394.5h1v1h-1zM63.3 395.8h1v1h-1zM64.0 393.2h1v1h-1zM61.8 393.6h1v1h-1zM62.7 393.0h1v1h-1zM62.5 393.1h1v1h-1zM64.2 393.8h1v1h-1zM63.9 395.1h1v1h-1zM63.8 393.5h1v1h-1zM62.1 394.1h1v1h-1zM62.3 394.1h1v1h-1zM63.8 394.3h1v1h-1zM62.9 393.8h1v1h-1zM62.9 394.5h1v1h-1z" fill="rgb(220,73,12)" fill-opacity="1.00"/>
<path d="M60.3 392.7h1v1h-1zM65.4 395.8h1v1h-1zM64.8 396.3h1v1h-1zM61.5 392.3h1v1h-1zM61.3 392.7h1v1h-1zM61.0 394.0h1v1h-1zM63.7 396.1h1v1h-1zM65.1 394.3h1v1h-1zM65.0 394.6h1v1h-1zM62.0 392.9h1v1h-1zM61.4 393.7h1v1h-1zM62.9 395.9h1v1h-1zM64.2 393.1h1v1h-1zM64.5 395.0h1v1h-1zM61.6 394.9h1v1h-1zM64.1 393.2h1v1h-1zM62.4 395.3h1v1h-1zM63.1 395.3h1v1h-1zM64.1 394.0h1v1h-1zM63.4 393.5h1v1h-1zM62.2 394.3h1v1h-1zM62.3 394.7h1v1h-1zM63.8 393.9h1v1h-1zM63.3 395.1h1v1h-1zM62.8 395.0h1v1h-1zM63.6 393.8h1v1h-1zM63.7 394.1h1v1h-1zM62.8 393.8h1v1h-1zM63.5 394.6h1v1h-1zM63.2 394.6h1v1h-1zM63.1 394.1h1v1h-1z" fill="rgb(215,40,10)" fill-opacity="1.00"/>
</g>
<rect x="52.3" y="355.9" width="86.6" height="86.4" fill="none" stroke="#1a1a1a" stroke-width="1.1"/>
<line x1="52.3" y1="437.12" x2="53.9" y2="437.12" stroke="#1a1a1a" stroke-width="0.6" />
<line x1="52.3" y1="430.61" x2="53.3" y2="430.61" stroke="#1a1a1a" stroke-width="0.6" />
<line x1="52.3" y1="426.81" x2="53.3" y2="426.81" stroke="#1a1a1a" stroke-width="0.6" />
<line x1="52.3" y1="424.11" x2="53.3" y2="424.11" stroke="#1a1a1a" stroke-width="0.6" />
<line x1="52.3" y1="422.02" x2="53.3" y2="422.02" stroke="#1a1a1a" stroke-width="0.6" />
<line x1="52.3" y1="420.31" x2="53.3" y2="420.31" stroke="#1a1a1a" stroke-width="0.6" />
<line x1="52.3" y1="418.86" x2="53.3" y2="418.86" stroke="#1a1a1a" stroke-width="0.6" />
<line x1="52.3" y1="417.61" x2="53.3" y2="417.61" stroke="#1a1a1a" stroke-width="0.6" />
<line x1="52.3" y1="416.5" x2="53.3" y2="416.5" stroke="#1a1a1a" stroke-width="0.6" />
<line x1="52.3" y1="415.52" x2="53.9" y2="415.52" stroke="#1a1a1a" stroke-width="0.6" />
<line x1="52.3" y1="409.01" x2="53.3" y2="409.01" stroke="#1a1a1a" stroke-width="0.6" />
<line x1="52.3" y1="405.21" x2="53.3" y2="405.21" stroke="#1a1a1a" stroke-width="0.6" />
<line x1="52.3" y1="402.51" x2="53.3" y2="402.51" stroke="#1a1a1a" stroke-width="0.6" />
<line x1="52.3" y1="400.42" x2="53.3" y2="400.42" stroke="#1a1a1a" stroke-width="0.6" />
<line x1="52.3" y1="398.71" x2="53.3" y2="398.71" stroke="#1a1a1a" stroke-width="0.6" />
<line x1="52.3" y1="397.26" x2="53.3" y2="397.26" stroke="#1a1a1a" stroke-width="0.6" />
<line x1="52.3" y1="396.01" x2="53.3" y2="396.01" stroke="#1a1a1a" stroke-width="0.6" />
<line x1="52.3" y1="394.9" x2="53.3" y2="394.9" stroke="#1a1a1a" stroke-width="0.6" />
<line x1="52.3" y1="393.92" x2="53.9" y2="393.92" stroke="#1a1a1a" stroke-width="0.6" />
<line x1="52.3" y1="387.41" x2="53.3" y2="387.41" stroke="#1a1a1a" stroke-width="0.6" />
<line x1="52.3" y1="383.61" x2="53.3" y2="383.61" stroke="#1a1a1a" stroke-width="0.6" />
<line x1="52.3" y1="380.91" x2="53.3" y2="380.91" stroke="#1a1a1a" stroke-width="0.6" />
<line x1="52.3" y1="378.82" x2="53.3" y2="378.82" stroke="#1a1a1a" stroke-width="0.6" />
<line x1="52.3" y1="377.11" x2="53.3" y2="377.11" stroke="#1a1a1a" stroke-width="0.6" />
<line x1="52.3" y1="375.66" x2="53.3" y2="375.66" stroke="#1a1a1a" stroke-width="0.6" />
<line x1="52.3" y1="374.41" x2="53.3" y2="374.41" stroke="#1a1a1a" stroke-width="0.6" />
<line x1="52.3" y1="373.3" x2="53.3" y2="373.3" stroke="#1a1a1a" stroke-width="0.6" />
<line x1="52.3" y1="372.32" x2="53.9" y2="372.32" stroke="#1a1a1a" stroke-width="0.6" />
<line x1="52.3" y1="365.81" x2="53.3" y2="365.81" stroke="#1a1a1a" stroke-width="0.6" />
<line x1="52.3" y1="362.01" x2="53.3" y2="362.01" stroke="#1a1a1a" stroke-width="0.6" />
<line x1="52.3" y1="359.31" x2="53.3" y2="359.31" stroke="#1a1a1a" stroke-width="0.6" />
<line x1="52.3" y1="357.22" x2="53.3" y2="357.22" stroke="#1a1a1a" stroke-width="0.6" />
<line x1="60.96" y1="442.3" x2="60.96" y2="440.5" stroke="#1a1a1a" stroke-width="0.6" />
<line x1="67.48" y1="442.3" x2="67.48" y2="441.3" stroke="#1a1a1a" stroke-width="0.6" />
<line x1="71.29" y1="442.3" x2="71.29" y2="441.3" stroke="#1a1a1a" stroke-width="0.6" />
<line x1="73.99" y1="442.3" x2="73.99" y2="441.3" stroke="#1a1a1a" stroke-width="0.6" />
<line x1="76.09" y1="442.3" x2="76.09" y2="441.3" stroke="#1a1a1a" stroke-width="0.6" />
<line x1="77.81" y1="442.3" x2="77.81" y2="441.3" stroke="#1a1a1a" stroke-width="0.6" />
<line x1="79.26" y1="442.3" x2="79.26" y2="441.3" stroke="#1a1a1a" stroke-width="0.6" />
<line x1="80.51" y1="442.3" x2="80.51" y2="441.3" stroke="#1a1a1a" stroke-width="0.6" />
<line x1="81.62" y1="442.3" x2="81.62" y2="441.3" stroke="#1a1a1a" stroke-width="0.6" />
<line x1="82.61" y1="442.3" x2="82.61" y2="440.5" stroke="#1a1a1a" stroke-width="0.6" />
<line x1="89.13" y1="442.3" x2="89.13" y2="441.3" stroke="#1a1a1a" stroke-width="0.6" />
<line x1="92.94" y1="442.3" x2="92.94" y2="441.3" stroke="#1a1a1a" stroke-width="0.6" />
<line x1="95.64" y1="442.3" x2="95.64" y2="441.3" stroke="#1a1a1a" stroke-width="0.6" />
<line x1="97.74" y1="442.3" x2="97.74" y2="441.3" stroke="#1a1a1a" stroke-width="0.6" />
<line x1="99.46" y1="442.3" x2="99.46" y2="441.3" stroke="#1a1a1a" stroke-width="0.6" />
<line x1="100.91" y1="442.3" x2="100.91" y2="441.3" stroke="#1a1a1a" stroke-width="0.6" />
<line x1="102.16" y1="442.3" x2="102.16" y2="441.3" stroke="#1a1a1a" stroke-width="0.6" />
<line x1="103.27" y1="442.3" x2="103.27" y2="441.3" stroke="#1a1a1a" stroke-width="0.6" />
<line x1="104.26" y1="442.3" x2="104.26" y2="440.5" stroke="#1a1a1a" stroke-width="0.6" />
<line x1="110.78" y1="442.3" x2="110.78" y2="441.3" stroke="#1a1a1a" stroke-width="0.6" />
<line x1="114.59" y1="442.3" x2="114.59" y2="441.3" stroke="#1a1a1a" stroke-width="0.6" />
<line x1="117.29" y1="442.3" x2="117.29" y2="441.3" stroke="#1a1a1a" stroke-width="0.6" />
<line x1="119.39" y1="442.3" x2="119.39" y2="441.3" stroke="#1a1a1a" stroke-width="0.6" />
<line x1="121.11" y1="442.3" x2="121.11" y2="441.3" stroke="#1a1a1a" stroke-width="0.6" />
<line x1="122.56" y1="442.3" x2="122.56" y2="441.3" stroke="#1a1a1a" stroke-width="0.6" />
<line x1="123.81" y1="442.3" x2="123.81" y2="441.3" stroke="#1a1a1a" stroke-width="0.6" />
<line x1="124.92" y1="442.3" x2="124.92" y2="441.3" stroke="#1a1a1a" stroke-width="0.6" />
<line x1="125.91" y1="442.3" x2="125.91" y2="440.5" stroke="#1a1a1a" stroke-width="0.6" />
<line x1="132.43" y1="442.3" x2="132.43" y2="441.3" stroke="#1a1a1a" stroke-width="0.6" />
<line x1="136.24" y1="442.3" x2="136.24" y2="441.3" stroke="#1a1a1a" stroke-width="0.6" />
<rect x="76" y="381.2" width="41.5" height="24.2" fill="none" stroke="#8a8a8a" stroke-width="0.9"/>
<line x1="117.6" y1="405.4" x2="117.6" y2="455" stroke="#555" stroke-width="0.9" />
<path d="M117.6,459.2L119.8,453.7L117.6,455L115.4,453.7Z" fill="#111"/>
<line x1="45.3" y1="448.4" x2="45.3" y2="360" stroke="#1a1a1a" stroke-width="1.2" />
<path d="M45.3,355.9L48.2,362.4L45.3,360.8L42.4,362.4Z" fill="#111"/>
<line x1="44.7" y1="448.4" x2="134" y2="448.4" stroke="#1a1a1a" stroke-width="1.2" />
<path d="M138.6,448.4L131.8,445.7L133.4,448.4L131.8,451.1Z" fill="#111"/>
<text x="37.8" y="436" font-size="7.4" fill="#222" text-anchor="middle" textLength="11.8" lengthAdjust="spacingAndGlyphs" transform="rotate(-90 37.8 436)" stroke="#1a1a1a" stroke-width="0.3">C-Kit</text>
<text x="46.8" y="458.6" font-size="7.4" fill="#222" textLength="14.8" lengthAdjust="spacingAndGlyphs" stroke="#1a1a1a" stroke-width="0.3">Sca-1</text>
<clipPath id="fc2"><rect x="51.8" y="463.9" width="87.10000000000001" height="86.5"/></clipPath>
<g clip-path="url(#fc2)">
<path d="M70,512C70,511 76.67,513.33 80,514C83.33,514.67 87.33,515 90,516C92.67,517 93.67,519 96,520C98.33,521 101,522 104,522C107,522 111.5,519.83 114,520C116.5,520.17 118.5,521.33 119,523C119.5,524.67 118.83,529.33 117,530C115.17,530.67 111.5,527.67 108,527C104.5,526.33 99.33,526.17 96,526C92.67,525.83 90.67,527 88,526C85.33,525 83,522.33 80,520C77,517.67 70,513 70,512Z" fill="#bdbdbd" fill-opacity="0.45"/>
<path d="M65.6,500C65.92,498.85 66.55,498.3 67.5,498.1C68.45,497.9 69.83,498.27 71.3,498.8C72.77,499.33 74.43,500.68 76.3,501.3C78.17,501.92 80.73,502.08 82.5,502.5C84.27,502.92 86.07,502.55 86.9,503.8C87.73,505.05 87.82,508.13 87.5,510C87.18,511.87 86.45,514.07 85,515C83.55,515.93 80.67,516.02 78.8,515.6C76.93,515.18 75.47,513.63 73.8,512.5C72.13,511.37 70.17,510.05 68.8,508.8C67.43,507.55 66.13,506.47 65.6,505C65.07,503.53 65.28,501.15 65.6,500Z" fill="#c8c8c8" fill-opacity="0.6"/>
<path d="M65.6,500C65.92,498.85 66.55,498.3 67.5,498.1C68.45,497.9 69.83,498.27 71.3,498.8C72.77,499.33 74.43,500.68 76.3,501.3C78.17,501.92 80.73,502.08 82.5,502.5C84.27,502.92 86.07,502.55 86.9,503.8C87.73,505.05 87.82,508.13 87.5,510C87.18,511.87 86.45,514.07 85,515C83.55,515.93 80.67,516.02 78.8,515.6C76.93,515.18 75.47,513.63 73.8,512.5C72.13,511.37 70.17,510.05 68.8,508.8C67.43,507.55 66.13,506.47 65.6,505C65.07,503.53 65.28,501.15 65.6,500Z" fill="none" stroke="#555" stroke-opacity="0.65" stroke-width="0.5"/>
<path d="M66.29,500.35C66.57,499.37 67.11,498.9 67.92,498.72C68.74,498.55 69.93,498.87 71.19,499.32C72.45,499.78 73.88,500.94 75.48,501.47C77.08,502 79.28,502.14 80.8,502.5C82.32,502.86 83.86,502.54 84.58,503.62C85.29,504.69 85.36,507.34 85.09,508.94C84.82,510.54 84.19,512.43 82.95,513.23C81.7,514.03 79.23,514.1 77.62,513.74C76.02,513.39 74.76,512.06 73.33,511.08C71.9,510.11 70.21,508.98 69.04,507.91C67.87,506.83 66.75,505.9 66.29,504.65C65.84,503.39 66.02,501.34 66.29,500.35Z" fill="none" stroke="#555" stroke-opacity="0.65" stroke-width="0.5"/>
<path d="M66.99,500.71C67.22,499.88 67.67,499.49 68.35,499.35C69.03,499.2 70.02,499.47 71.07,499.85C72.12,500.23 73.32,501.2 74.66,501.64C75.99,502.08 77.83,502.2 79.1,502.5C80.37,502.8 81.66,502.54 82.25,503.43C82.85,504.33 82.91,506.54 82.68,507.88C82.46,509.21 81.93,510.79 80.89,511.46C79.85,512.13 77.79,512.19 76.45,511.89C75.11,511.59 74.06,510.48 72.86,509.67C71.67,508.85 70.26,507.91 69.28,507.01C68.3,506.12 67.37,505.34 66.99,504.29C66.61,503.24 66.76,501.53 66.99,500.71Z" fill="none" stroke="#555" stroke-opacity="0.65" stroke-width="0.5"/>
<path d="M67.68,501.06C67.86,500.4 68.23,500.09 68.78,499.97C69.32,499.86 70.12,500.07 70.96,500.37C71.8,500.68 72.76,501.46 73.83,501.81C74.91,502.16 76.38,502.26 77.4,502.5C78.42,502.74 79.45,502.53 79.93,503.25C80.41,503.97 80.46,505.74 80.28,506.81C80.09,507.89 79.67,509.15 78.84,509.69C78,510.22 76.35,510.27 75.27,510.03C74.2,509.79 73.36,508.9 72.4,508.25C71.44,507.6 70.31,506.84 69.52,506.12C68.74,505.4 67.99,504.78 67.68,503.94C67.38,503.09 67.5,501.72 67.68,501.06Z" fill="none" stroke="#555" stroke-opacity="0.65" stroke-width="0.5"/>
<path d="M68.38,501.42C68.51,500.92 68.79,500.68 69.2,500.59C69.61,500.51 70.21,500.67 70.85,500.9C71.48,501.13 72.2,501.71 73.01,501.98C73.82,502.25 74.93,502.32 75.7,502.5C76.47,502.68 77.25,502.52 77.61,503.06C77.97,503.61 78,504.94 77.87,505.75C77.73,506.56 77.41,507.51 76.78,507.92C76.16,508.32 74.91,508.36 74.1,508.18C73.29,508 72.65,507.32 71.93,506.83C71.21,506.34 70.36,505.77 69.76,505.23C69.17,504.69 68.61,504.22 68.38,503.58C68.15,502.95 68.24,501.92 68.38,501.42Z" fill="none" stroke="#555" stroke-opacity="0.65" stroke-width="0.5"/>
<path d="M69.07,501.77C69.16,501.44 69.35,501.28 69.62,501.22C69.9,501.16 70.31,501.27 70.73,501.42C71.16,501.58 71.65,501.97 72.19,502.15C72.74,502.33 73.48,502.38 74,502.5C74.52,502.62 75.04,502.51 75.28,502.88C75.53,503.24 75.55,504.14 75.46,504.69C75.37,505.23 75.15,505.87 74.73,506.15C74.31,506.42 73.47,506.44 72.92,506.32C72.38,506.2 71.95,505.75 71.46,505.42C70.98,505.09 70.4,504.7 70,504.34C69.61,503.97 69.23,503.66 69.07,503.23C68.92,502.8 68.98,502.11 69.07,501.77Z" fill="none" stroke="#555" stroke-opacity="0.65" stroke-width="0.5"/>
<path d="M69.77,502.12C69.81,501.95 69.91,501.87 70.05,501.84C70.19,501.81 70.4,501.87 70.62,501.94C70.84,502.02 71.09,502.23 71.37,502.32C71.65,502.41 72.03,502.44 72.3,502.5C72.56,502.56 72.84,502.51 72.96,502.69C73.09,502.88 73.1,503.35 73.05,503.62C73,503.9 72.89,504.24 72.67,504.38C72.46,504.51 72.03,504.53 71.75,504.47C71.47,504.4 71.25,504.17 71,504C70.75,503.83 70.45,503.63 70.25,503.44C70.04,503.26 69.84,503.1 69.77,502.88C69.69,502.65 69.72,502.3 69.77,502.12Z" fill="none" stroke="#555" stroke-opacity="0.65" stroke-width="0.5"/>
<path d="M89.4,499.5C90.13,498.08 91.15,497.17 92.5,496.5C93.85,495.83 95.75,495.5 97.5,495.5C99.25,495.5 101.25,496 103,496.5C104.75,497 106.33,497.92 108,498.5C109.67,499.08 111.42,499.33 113,500C114.58,500.67 116.5,501.03 117.5,502.5C118.5,503.97 118.95,506.82 119,508.8C119.05,510.78 118.88,513.23 117.8,514.4C116.72,515.57 114.83,515.67 112.5,515.8C110.17,515.93 106.72,515.5 103.8,515.2C100.88,514.9 97.4,514.65 95,514C92.6,513.35 90.55,512.8 89.4,511.3C88.25,509.8 88.1,506.97 88.1,505C88.1,503.03 88.67,500.92 89.4,499.5Z" fill="#c8c8c8" fill-opacity="0.6"/>
<path d="M89.4,499.5C90.13,498.08 91.15,497.17 92.5,496.5C93.85,495.83 95.75,495.5 97.5,495.5C99.25,495.5 101.25,496 103,496.5C104.75,497 106.33,497.92 108,498.5C109.67,499.08 111.42,499.33 113,500C114.58,500.67 116.5,501.03 117.5,502.5C118.5,503.97 118.95,506.82 119,508.8C119.05,510.78 118.88,513.23 117.8,514.4C116.72,515.57 114.83,515.67 112.5,515.8C110.17,515.93 106.72,515.5 103.8,515.2C100.88,514.9 97.4,514.65 95,514C92.6,513.35 90.55,512.8 89.4,511.3C88.25,509.8 88.1,506.97 88.1,505C88.1,503.03 88.67,500.92 89.4,499.5Z" fill="none" stroke="#555" stroke-opacity="0.65" stroke-width="0.5"/>
<path d="M90.5,500.3C91.16,499.02 92.08,498.19 93.3,497.59C94.53,496.98 96.25,496.68 97.83,496.68C99.42,496.68 101.23,497.13 102.81,497.59C104.4,498.04 105.83,498.87 107.34,499.4C108.85,499.93 110.43,500.15 111.87,500.76C113.3,501.36 115.04,501.69 115.94,503.02C116.85,504.35 117.25,506.93 117.3,508.72C117.35,510.52 117.19,512.74 116.21,513.8C115.23,514.85 113.53,514.94 111.41,515.06C109.3,515.18 106.18,514.79 103.54,514.52C100.89,514.25 97.74,514.02 95.57,513.43C93.39,512.84 91.54,512.35 90.5,510.99C89.45,509.63 89.32,507.06 89.32,505.28C89.32,503.5 89.83,501.59 90.5,500.3Z" fill="none" stroke="#555" stroke-opacity="0.65" stroke-width="0.5"/>
<path d="M91.59,501.11C92.19,499.96 93.01,499.21 94.11,498.67C95.2,498.13 96.74,497.86 98.16,497.86C99.58,497.86 101.2,498.27 102.62,498.67C104.04,499.08 105.33,499.82 106.68,500.29C108.03,500.77 109.45,500.97 110.73,501.51C112.02,502.05 113.57,502.35 114.38,503.54C115.19,504.73 115.56,507.04 115.6,508.65C115.64,510.26 115.51,512.24 114.63,513.19C113.75,514.14 112.22,514.22 110.33,514.33C108.44,514.43 105.64,514.08 103.27,513.84C100.91,513.6 98.08,513.39 96.13,512.87C94.19,512.34 92.52,511.89 91.59,510.68C90.66,509.46 90.54,507.16 90.54,505.57C90.54,503.97 91,502.25 91.59,501.11Z" fill="none" stroke="#555" stroke-opacity="0.65" stroke-width="0.5"/>
<path d="M92.69,501.91C93.21,500.89 93.94,500.24 94.91,499.76C95.88,499.28 97.24,499.04 98.49,499.04C99.75,499.04 101.18,499.4 102.43,499.76C103.69,500.12 104.82,500.77 106.02,501.19C107.21,501.61 108.47,501.79 109.6,502.27C110.73,502.74 112.11,503.01 112.83,504.06C113.54,505.11 113.86,507.15 113.9,508.57C113.94,509.99 113.82,511.75 113.04,512.59C112.26,513.42 110.91,513.49 109.24,513.59C107.57,513.69 105.1,513.38 103.01,513.16C100.92,512.95 98.42,512.77 96.7,512.3C94.98,511.83 93.51,511.44 92.69,510.37C91.86,509.29 91.75,507.26 91.75,505.85C91.75,504.44 92.16,502.92 92.69,501.91Z" fill="none" stroke="#555" stroke-opacity="0.65" stroke-width="0.5"/>
<path d="M93.78,502.71C94.24,501.83 94.87,501.26 95.71,500.84C96.55,500.43 97.73,500.22 98.82,500.22C99.91,500.22 101.16,500.53 102.24,500.84C103.33,501.16 104.32,501.73 105.36,502.09C106.39,502.45 107.48,502.61 108.47,503.02C109.45,503.44 110.64,503.67 111.27,504.58C111.89,505.49 112.17,507.26 112.2,508.5C112.23,509.73 112.13,511.26 111.45,511.98C110.78,512.71 109.61,512.77 108.16,512.85C106.7,512.94 104.56,512.67 102.74,512.48C100.93,512.29 98.76,512.14 97.27,511.73C95.77,511.33 94.5,510.99 93.78,510.05C93.07,509.12 92.97,507.36 92.97,506.13C92.97,504.91 93.33,503.59 93.78,502.71Z" fill="none" stroke="#555" stroke-opacity="0.65" stroke-width="0.5"/>
<path d="M94.88,503.51C95.26,502.77 95.8,502.28 96.51,501.93C97.23,501.58 98.23,501.4 99.15,501.4C100.08,501.4 101.13,501.67 102.06,501.93C102.98,502.19 103.81,502.68 104.69,502.99C105.57,503.29 106.5,503.43 107.33,503.78C108.17,504.13 109.18,504.32 109.71,505.1C110.24,505.87 110.47,507.38 110.5,508.42C110.53,509.47 110.44,510.76 109.87,511.38C109.29,511.99 108.3,512.05 107.07,512.12C105.84,512.19 104.02,511.96 102.48,511.8C100.94,511.64 99.1,511.51 97.83,511.17C96.57,510.82 95.48,510.53 94.88,509.74C94.27,508.95 94.19,507.45 94.19,506.42C94.19,505.38 94.49,504.26 94.88,503.51Z" fill="none" stroke="#555" stroke-opacity="0.65" stroke-width="0.5"/>
<path d="M95.97,504.32C96.29,503.7 96.73,503.31 97.32,503.02C97.9,502.73 98.72,502.58 99.48,502.58C100.24,502.58 101.11,502.8 101.87,503.02C102.62,503.23 103.31,503.63 104.03,503.88C104.76,504.14 105.51,504.24 106.2,504.53C106.89,504.82 107.72,504.98 108.15,505.62C108.58,506.25 108.78,507.49 108.8,508.35C108.82,509.21 108.75,510.27 108.28,510.77C107.81,511.28 106.99,511.32 105.98,511.38C104.97,511.44 103.48,511.25 102.21,511.12C100.95,510.99 99.44,510.88 98.4,510.6C97.36,510.32 96.47,510.08 95.97,509.43C95.47,508.78 95.41,507.55 95.41,506.7C95.41,505.85 95.66,504.93 95.97,504.32Z" fill="none" stroke="#555" stroke-opacity="0.65" stroke-width="0.5"/>
<path d="M97.07,505.12C97.32,504.64 97.66,504.33 98.12,504.1C98.58,503.88 99.22,503.76 99.81,503.76C100.41,503.76 101.08,503.93 101.68,504.1C102.27,504.27 102.81,504.58 103.37,504.78C103.94,504.98 104.53,505.06 105.07,505.29C105.6,505.51 106.25,505.64 106.59,506.14C106.93,506.63 107.08,507.6 107.1,508.27C107.12,508.94 107.06,509.77 106.69,510.17C106.33,510.56 105.69,510.6 104.9,510.64C104.11,510.69 102.94,510.54 101.95,510.44C100.96,510.34 99.78,510.25 98.97,510.03C98.15,509.81 97.46,509.63 97.07,509.12C96.68,508.61 96.63,507.65 96.63,506.98C96.63,506.32 96.82,505.6 97.07,505.12Z" fill="none" stroke="#555" stroke-opacity="0.65" stroke-width="0.5"/>
<path d="M98.16,505.92C98.34,505.58 98.59,505.35 98.92,505.19C99.25,505.03 99.72,504.94 100.14,504.94C100.57,504.94 101.06,505.07 101.49,505.19C101.92,505.31 102.3,505.54 102.71,505.68C103.12,505.82 103.55,505.88 103.93,506.04C104.32,506.21 104.79,506.3 105.03,506.66C105.28,507.01 105.39,507.71 105.4,508.2C105.41,508.68 105.37,509.28 105.11,509.56C104.84,509.85 104.38,509.87 103.81,509.91C103.24,509.94 102.4,509.83 101.68,509.76C100.97,509.69 100.12,509.63 99.53,509.47C98.95,509.31 98.45,509.17 98.16,508.81C97.88,508.44 97.85,507.75 97.85,507.27C97.85,506.79 97.99,506.27 98.16,505.92Z" fill="none" stroke="#555" stroke-opacity="0.65" stroke-width="0.5"/>
<path d="M99.26,506.73C99.37,506.51 99.52,506.38 99.72,506.27C99.93,506.17 100.21,506.12 100.47,506.12C100.74,506.12 101.04,506.2 101.3,506.27C101.56,506.35 101.8,506.49 102.05,506.57C102.3,506.66 102.56,506.7 102.8,506.8C103.04,506.9 103.32,506.96 103.47,507.18C103.62,507.39 103.69,507.82 103.7,508.12C103.71,508.42 103.68,508.78 103.52,508.96C103.36,509.13 103.07,509.15 102.72,509.17C102.38,509.19 101.86,509.12 101.42,509.08C100.98,509.03 100.46,509 100.1,508.9C99.74,508.8 99.43,508.72 99.26,508.5C99.09,508.27 99.06,507.85 99.06,507.55C99.06,507.25 99.15,506.94 99.26,506.73Z" fill="none" stroke="#555" stroke-opacity="0.65" stroke-width="0.5"/>
<ellipse cx="93" cy="505.5" rx="1.5" ry="1.0" fill="#fff" stroke="#666" stroke-width="0.4"/>
<ellipse cx="96.5" cy="506.5" rx="1.5" ry="1.0" fill="#fff" stroke="#666" stroke-width="0.4"/>
<ellipse cx="100.5" cy="508" rx="1.5" ry="1.0" fill="#fff" stroke="#666" stroke-width="0.4"/>
<ellipse cx="104.5" cy="509.3" rx="1.5" ry="1.0" fill="#fff" stroke="#666" stroke-width="0.4"/>
<ellipse cx="108.5" cy="511" rx="1.5" ry="1.0" fill="#fff" stroke="#666" stroke-width="0.4"/>
<ellipse cx="69.5" cy="501.8" rx="1.4" ry="0.9" fill="#fff" stroke="#666" stroke-width="0.4"/>
<ellipse cx="72.5" cy="503" rx="1.4" ry="0.9" fill="#fff" stroke="#666" stroke-width="0.4"/>
<path d="M75,517.5C75.75,516.58 78.17,516.42 80,516.5C81.83,516.58 84.43,517.08 86,518C87.57,518.92 88.73,520.17 89.4,522C90.07,523.83 90.23,526.83 90,529C89.77,531.17 88.83,533.58 88,535C87.17,536.42 86.33,537.67 85,537.5C83.67,537.33 81.33,535.58 80,534C78.67,532.42 77.75,530 77,528C76.25,526 75.83,523.75 75.5,522C75.17,520.25 74.25,518.42 75,517.5Z" fill="#c8c8c8" fill-opacity="0.6"/>
<path d="M75,517.5C75.75,516.58 78.17,516.42 80,516.5C81.83,516.58 84.43,517.08 86,518C87.57,518.92 88.73,520.17 89.4,522C90.07,523.83 90.23,526.83 90,529C89.77,531.17 88.83,533.58 88,535C87.17,536.42 86.33,537.67 85,537.5C83.67,537.33 81.33,535.58 80,534C78.67,532.42 77.75,530 77,528C76.25,526 75.83,523.75 75.5,522C75.17,520.25 74.25,518.42 75,517.5Z" fill="none" stroke="#555" stroke-opacity="0.65" stroke-width="0.5"/>
<path d="M76.13,518.7C76.78,517.92 78.85,517.77 80.42,517.85C82,517.92 84.23,518.35 85.58,519.13C86.92,519.92 87.92,520.99 88.49,522.57C89.07,524.14 89.21,526.72 89.01,528.58C88.81,530.43 88.01,532.51 87.29,533.73C86.58,534.94 85.86,536.01 84.72,535.87C83.57,535.73 81.57,534.23 80.42,532.87C79.28,531.51 78.49,529.43 77.85,527.72C77.21,526 76.85,524.07 76.56,522.57C76.28,521.06 75.49,519.49 76.13,518.7Z" fill="none" stroke="#555" stroke-opacity="0.65" stroke-width="0.5"/>
<path d="M77.27,519.91C77.8,519.25 79.54,519.13 80.85,519.19C82.16,519.25 84.03,519.61 85.15,520.27C86.27,520.92 87.11,521.82 87.59,523.13C88.06,524.45 88.18,526.6 88.02,528.15C87.85,529.7 87.18,531.43 86.58,532.45C85.99,533.47 85.39,534.36 84.43,534.24C83.48,534.12 81.81,532.87 80.85,531.73C79.89,530.6 79.24,528.87 78.7,527.43C78.16,526 77.86,524.39 77.62,523.13C77.39,521.88 76.73,520.57 77.27,519.91Z" fill="none" stroke="#555" stroke-opacity="0.65" stroke-width="0.5"/>
<path d="M78.4,521.11C78.83,520.59 80.22,520.49 81.28,520.54C82.33,520.59 83.82,520.87 84.72,521.4C85.63,521.93 86.3,522.65 86.68,523.7C87.06,524.75 87.16,526.48 87.03,527.73C86.89,528.97 86.35,530.36 85.88,531.17C85.4,531.99 84.92,532.71 84.15,532.61C83.38,532.52 82.04,531.51 81.28,530.6C80.51,529.69 79.98,528.3 79.55,527.15C79.12,526 78.88,524.71 78.69,523.7C78.5,522.69 77.97,521.64 78.4,521.11Z" fill="none" stroke="#555" stroke-opacity="0.65" stroke-width="0.5"/>
<path d="M79.53,522.32C79.86,521.92 80.91,521.85 81.7,521.88C82.49,521.92 83.62,522.14 84.3,522.53C84.98,522.93 85.48,523.47 85.77,524.27C86.06,525.06 86.13,526.36 86.03,527.3C85.93,528.24 85.53,529.29 85.17,529.9C84.81,530.51 84.44,531.06 83.87,530.98C83.29,530.91 82.28,530.15 81.7,529.47C81.12,528.78 80.73,527.73 80.4,526.87C80.08,526 79.89,525.02 79.75,524.27C79.61,523.51 79.21,522.71 79.53,522.32Z" fill="none" stroke="#555" stroke-opacity="0.65" stroke-width="0.5"/>
<path d="M80.67,523.52C80.89,523.25 81.59,523.2 82.12,523.23C82.66,523.25 83.42,523.4 83.88,523.67C84.33,523.93 84.67,524.3 84.87,524.83C85.06,525.37 85.11,526.24 85.04,526.88C84.97,527.51 84.7,528.21 84.46,528.62C84.22,529.04 83.97,529.4 83.58,529.35C83.19,529.31 82.51,528.8 82.12,528.33C81.74,527.87 81.47,527.17 81.25,526.58C81.03,526 80.91,525.34 80.81,524.83C80.72,524.32 80.45,523.79 80.67,523.52Z" fill="none" stroke="#555" stroke-opacity="0.65" stroke-width="0.5"/>
<path d="M81.8,524.73C81.91,524.59 82.27,524.56 82.55,524.58C82.83,524.59 83.22,524.66 83.45,524.8C83.69,524.94 83.86,525.12 83.96,525.4C84.06,525.67 84.08,526.12 84.05,526.45C84.02,526.78 83.88,527.14 83.75,527.35C83.62,527.56 83.5,527.75 83.3,527.73C83.1,527.7 82.75,527.44 82.55,527.2C82.35,526.96 82.21,526.6 82.1,526.3C81.99,526 81.92,525.66 81.88,525.4C81.83,525.14 81.69,524.86 81.8,524.73Z" fill="none" stroke="#555" stroke-opacity="0.65" stroke-width="0.5"/>
<path d="M93.1,530.8C93.55,528.27 94.73,526.9 96.3,525.8C97.87,524.7 100.42,524.08 102.5,524.2C104.58,524.32 107.08,525.03 108.8,526.5C110.52,527.97 112.35,530.83 112.8,533C113.25,535.17 112.58,537.63 111.5,539.5C110.42,541.37 108.42,543.32 106.3,544.2C104.18,545.08 100.92,545.33 98.8,544.8C96.68,544.27 94.55,543.33 93.6,541C92.65,538.67 92.65,533.33 93.1,530.8Z" fill="#b0b0b0" fill-opacity="0.6"/>
<path d="M93.1,530.8C93.55,528.27 94.73,526.9 96.3,525.8C97.87,524.7 100.42,524.08 102.5,524.2C104.58,524.32 107.08,525.03 108.8,526.5C110.52,527.97 112.35,530.83 112.8,533C113.25,535.17 112.58,537.63 111.5,539.5C110.42,541.37 108.42,543.32 106.3,544.2C104.18,545.08 100.92,545.33 98.8,544.8C96.68,544.27 94.55,543.33 93.6,541C92.65,538.67 92.65,533.33 93.1,530.8Z" fill="none" stroke="#555" stroke-opacity="0.75" stroke-width="0.5"/>
<path d="M93.85,531.43C94.25,529.14 95.33,527.9 96.74,526.9C98.16,525.91 100.47,525.35 102.36,525.46C104.24,525.56 106.51,526.21 108.06,527.54C109.62,528.87 111.28,531.46 111.69,533.42C112.09,535.39 111.49,537.62 110.51,539.31C109.53,541 107.72,542.77 105.8,543.57C103.88,544.37 100.92,544.59 99.01,544.11C97.09,543.63 95.16,542.78 94.3,540.67C93.44,538.56 93.44,533.73 93.85,531.43Z" fill="none" stroke="#555" stroke-opacity="0.75" stroke-width="0.5"/>
<path d="M94.59,532.07C94.96,530.01 95.92,528.9 97.19,528.01C98.46,527.12 100.53,526.62 102.22,526.71C103.91,526.81 105.93,527.39 107.33,528.58C108.72,529.77 110.21,532.09 110.57,533.85C110.94,535.61 110.4,537.61 109.52,539.12C108.64,540.64 107.02,542.22 105.3,542.93C103.58,543.65 100.93,543.85 99.22,543.42C97.5,542.99 95.77,542.23 95,540.34C94.23,538.45 94.23,534.12 94.59,532.07Z" fill="none" stroke="#555" stroke-opacity="0.75" stroke-width="0.5"/>
<path d="M95.34,532.7C95.66,530.88 96.51,529.9 97.63,529.12C98.75,528.33 100.58,527.88 102.08,527.97C103.57,528.05 105.36,528.57 106.59,529.62C107.82,530.67 109.13,532.72 109.46,534.27C109.78,535.83 109.3,537.6 108.53,538.93C107.75,540.27 106.32,541.67 104.8,542.3C103.28,542.93 100.94,543.11 99.42,542.73C97.91,542.35 96.38,541.68 95.7,540.01C95.02,538.34 95.02,534.51 95.34,532.7Z" fill="none" stroke="#555" stroke-opacity="0.75" stroke-width="0.5"/>
<path d="M96.08,533.33C96.36,531.75 97.1,530.9 98.08,530.22C99.05,529.54 100.64,529.15 101.93,529.22C103.23,529.3 104.79,529.74 105.85,530.66C106.92,531.57 108.06,533.35 108.34,534.7C108.62,536.05 108.21,537.58 107.53,538.74C106.86,539.91 105.61,541.12 104.3,541.67C102.98,542.22 100.95,542.37 99.63,542.04C98.31,541.71 96.99,541.13 96.4,539.68C95.8,538.23 95.8,534.91 96.08,533.33Z" fill="none" stroke="#555" stroke-opacity="0.75" stroke-width="0.5"/>
<path d="M96.83,533.96C97.07,532.63 97.69,531.91 98.52,531.32C99.35,530.74 100.69,530.42 101.79,530.48C102.89,530.54 104.21,530.92 105.12,531.69C106.02,532.47 106.99,533.98 107.23,535.12C107.47,536.27 107.11,537.57 106.54,538.56C105.97,539.54 104.91,540.57 103.8,541.04C102.68,541.5 100.96,541.63 99.84,541.35C98.72,541.07 97.6,540.58 97.09,539.35C96.59,538.12 96.59,535.3 96.83,533.96Z" fill="none" stroke="#555" stroke-opacity="0.75" stroke-width="0.5"/>
<path d="M97.58,534.6C97.77,533.5 98.28,532.91 98.96,532.43C99.64,531.95 100.75,531.69 101.65,531.74C102.55,531.79 103.64,532.1 104.38,532.73C105.12,533.37 105.92,534.61 106.11,535.55C106.31,536.49 106.02,537.56 105.55,538.37C105.08,539.18 104.21,540.02 103.3,540.4C102.38,540.79 100.96,540.89 100.05,540.66C99.13,540.43 98.2,540.03 97.79,539.02C97.38,538.01 97.38,535.69 97.58,534.6Z" fill="none" stroke="#555" stroke-opacity="0.75" stroke-width="0.5"/>
<path d="M98.32,535.23C98.48,534.37 98.88,533.91 99.41,533.53C99.94,533.16 100.8,532.95 101.51,532.99C102.21,533.03 103.06,533.28 103.64,533.77C104.23,534.27 104.85,535.24 105,535.98C105.15,536.71 104.93,537.55 104.56,538.18C104.19,538.81 103.51,539.47 102.8,539.77C102.08,540.07 100.97,540.15 100.25,539.97C99.54,539.79 98.81,539.48 98.49,538.69C98.17,537.9 98.17,536.09 98.32,535.23Z" fill="none" stroke="#555" stroke-opacity="0.75" stroke-width="0.5"/>
<path d="M99.07,535.86C99.18,535.24 99.47,534.91 99.85,534.64C100.23,534.37 100.86,534.22 101.37,534.25C101.88,534.28 102.49,534.45 102.91,534.81C103.33,535.17 103.77,535.87 103.88,536.4C103.99,536.93 103.83,537.53 103.57,537.99C103.3,538.45 102.81,538.92 102.3,539.14C101.78,539.35 100.98,539.41 100.46,539.28C99.94,539.15 99.42,538.93 99.19,538.36C98.96,537.79 98.96,536.48 99.07,535.86Z" fill="none" stroke="#555" stroke-opacity="0.75" stroke-width="0.5"/>
<path d="M99.81,536.5C99.88,536.12 100.06,535.91 100.3,535.75C100.53,535.58 100.91,535.49 101.22,535.5C101.54,535.52 101.91,535.63 102.17,535.85C102.43,536.07 102.7,536.5 102.77,536.83C102.84,537.15 102.74,537.52 102.58,537.8C102.41,538.08 102.11,538.37 101.8,538.5C101.48,538.64 100.99,538.68 100.67,538.6C100.35,538.51 100.03,538.38 99.89,538.02C99.75,537.67 99.75,536.88 99.81,536.5Z" fill="none" stroke="#555" stroke-opacity="0.75" stroke-width="0.5"/>
<path d="M94.5,528.5 C91.5,533 92,539.5 95.5,542.5 C99,545.5 105.5,545.5 109,543 C111.5,541 112.8,537.5 112.5,534" fill="none" stroke="#222" stroke-width="1.7" stroke-opacity="0.85" stroke-linecap="round"/>
<path d="M96,526.5 C100,523.8 106,524 109.5,527.5 C111.5,529.5 112.5,532 112.6,534" fill="none" stroke="#333" stroke-width="0.9" stroke-opacity="0.7"/>
<path d="M104,525 Q112,522 119,521" fill="none" stroke="#666" stroke-opacity="0.5" stroke-width="0.5"/>
<path d="M104.6,524.8 Q112.4,521.8 119,521.8" fill="none" stroke="#666" stroke-opacity="0.5" stroke-width="0.5"/>
<path d="M105.2,524.6 Q112.8,521.6 119,522.6" fill="none" stroke="#666" stroke-opacity="0.5" stroke-width="0.5"/>
<path d="M105.8,524.4 Q113.2,521.4 119,523.4" fill="none" stroke="#666" stroke-opacity="0.5" stroke-width="0.5"/>
<path d="M106.4,524.2 Q113.6,521.2 119,524.2" fill="none" stroke="#666" stroke-opacity="0.5" stroke-width="0.5"/>
<path d="M107,524 Q114,521 119,525" fill="none" stroke="#666" stroke-opacity="0.5" stroke-width="0.5"/>
<ellipse cx="100.6" cy="538.3" rx="1.8" ry="1.3" fill="#fff"/>
</g>
<rect x="51.8" y="463.9" width="87.1" height="86.5" fill="none" stroke="#1a1a1a" stroke-width="1.1"/>
<line x1="51.8" y1="545.21" x2="53.4" y2="545.21" stroke="#1a1a1a" stroke-width="0.6" />
<line x1="51.8" y1="538.7" x2="52.8" y2="538.7" stroke="#1a1a1a" stroke-width="0.6" />
<line x1="51.8" y1="534.89" x2="52.8" y2="534.89" stroke="#1a1a1a" stroke-width="0.6" />
<line x1="51.8" y1="532.19" x2="52.8" y2="532.19" stroke="#1a1a1a" stroke-width="0.6" />
<line x1="51.8" y1="530.09" x2="52.8" y2="530.09" stroke="#1a1a1a" stroke-width="0.6" />
<line x1="51.8" y1="528.38" x2="52.8" y2="528.38" stroke="#1a1a1a" stroke-width="0.6" />
<line x1="51.8" y1="526.93" x2="52.8" y2="526.93" stroke="#1a1a1a" stroke-width="0.6" />
<line x1="51.8" y1="525.68" x2="52.8" y2="525.68" stroke="#1a1a1a" stroke-width="0.6" />
<line x1="51.8" y1="524.57" x2="52.8" y2="524.57" stroke="#1a1a1a" stroke-width="0.6" />
<line x1="51.8" y1="523.58" x2="53.4" y2="523.58" stroke="#1a1a1a" stroke-width="0.6" />
<line x1="51.8" y1="517.08" x2="52.8" y2="517.08" stroke="#1a1a1a" stroke-width="0.6" />
<line x1="51.8" y1="513.27" x2="52.8" y2="513.27" stroke="#1a1a1a" stroke-width="0.6" />
<line x1="51.8" y1="510.57" x2="52.8" y2="510.57" stroke="#1a1a1a" stroke-width="0.6" />
<line x1="51.8" y1="508.47" x2="52.8" y2="508.47" stroke="#1a1a1a" stroke-width="0.6" />
<line x1="51.8" y1="506.76" x2="52.8" y2="506.76" stroke="#1a1a1a" stroke-width="0.6" />
<line x1="51.8" y1="505.31" x2="52.8" y2="505.31" stroke="#1a1a1a" stroke-width="0.6" />
<line x1="51.8" y1="504.06" x2="52.8" y2="504.06" stroke="#1a1a1a" stroke-width="0.6" />
<line x1="51.8" y1="502.95" x2="52.8" y2="502.95" stroke="#1a1a1a" stroke-width="0.6" />
<line x1="51.8" y1="501.96" x2="53.4" y2="501.96" stroke="#1a1a1a" stroke-width="0.6" />
<line x1="51.8" y1="495.45" x2="52.8" y2="495.45" stroke="#1a1a1a" stroke-width="0.6" />
<line x1="51.8" y1="491.64" x2="52.8" y2="491.64" stroke="#1a1a1a" stroke-width="0.6" />
<line x1="51.8" y1="488.94" x2="52.8" y2="488.94" stroke="#1a1a1a" stroke-width="0.6" />
<line x1="51.8" y1="486.84" x2="52.8" y2="486.84" stroke="#1a1a1a" stroke-width="0.6" />
<line x1="51.8" y1="485.13" x2="52.8" y2="485.13" stroke="#1a1a1a" stroke-width="0.6" />
<line x1="51.8" y1="483.68" x2="52.8" y2="483.68" stroke="#1a1a1a" stroke-width="0.6" />
<line x1="51.8" y1="482.43" x2="52.8" y2="482.43" stroke="#1a1a1a" stroke-width="0.6" />
<line x1="51.8" y1="481.32" x2="52.8" y2="481.32" stroke="#1a1a1a" stroke-width="0.6" />
<line x1="51.8" y1="480.33" x2="53.4" y2="480.33" stroke="#1a1a1a" stroke-width="0.6" />
<line x1="51.8" y1="473.83" x2="52.8" y2="473.83" stroke="#1a1a1a" stroke-width="0.6" />
<line x1="51.8" y1="470.02" x2="52.8" y2="470.02" stroke="#1a1a1a" stroke-width="0.6" />
<line x1="51.8" y1="467.32" x2="52.8" y2="467.32" stroke="#1a1a1a" stroke-width="0.6" />
<line x1="51.8" y1="465.22" x2="52.8" y2="465.22" stroke="#1a1a1a" stroke-width="0.6" />
<line x1="60.51" y1="550.4" x2="60.51" y2="548.6" stroke="#1a1a1a" stroke-width="0.6" />
<line x1="67.06" y1="550.4" x2="67.06" y2="549.4" stroke="#1a1a1a" stroke-width="0.6" />
<line x1="70.9" y1="550.4" x2="70.9" y2="549.4" stroke="#1a1a1a" stroke-width="0.6" />
<line x1="73.62" y1="550.4" x2="73.62" y2="549.4" stroke="#1a1a1a" stroke-width="0.6" />
<line x1="75.73" y1="550.4" x2="75.73" y2="549.4" stroke="#1a1a1a" stroke-width="0.6" />
<line x1="77.45" y1="550.4" x2="77.45" y2="549.4" stroke="#1a1a1a" stroke-width="0.6" />
<line x1="78.91" y1="550.4" x2="78.91" y2="549.4" stroke="#1a1a1a" stroke-width="0.6" />
<line x1="80.17" y1="550.4" x2="80.17" y2="549.4" stroke="#1a1a1a" stroke-width="0.6" />
<line x1="81.29" y1="550.4" x2="81.29" y2="549.4" stroke="#1a1a1a" stroke-width="0.6" />
<line x1="82.28" y1="550.4" x2="82.28" y2="548.6" stroke="#1a1a1a" stroke-width="0.6" />
<line x1="88.84" y1="550.4" x2="88.84" y2="549.4" stroke="#1a1a1a" stroke-width="0.6" />
<line x1="92.67" y1="550.4" x2="92.67" y2="549.4" stroke="#1a1a1a" stroke-width="0.6" />
<line x1="95.39" y1="550.4" x2="95.39" y2="549.4" stroke="#1a1a1a" stroke-width="0.6" />
<line x1="97.51" y1="550.4" x2="97.51" y2="549.4" stroke="#1a1a1a" stroke-width="0.6" />
<line x1="99.23" y1="550.4" x2="99.23" y2="549.4" stroke="#1a1a1a" stroke-width="0.6" />
<line x1="100.69" y1="550.4" x2="100.69" y2="549.4" stroke="#1a1a1a" stroke-width="0.6" />
<line x1="101.95" y1="550.4" x2="101.95" y2="549.4" stroke="#1a1a1a" stroke-width="0.6" />
<line x1="103.06" y1="550.4" x2="103.06" y2="549.4" stroke="#1a1a1a" stroke-width="0.6" />
<line x1="104.06" y1="550.4" x2="104.06" y2="548.6" stroke="#1a1a1a" stroke-width="0.6" />
<line x1="110.61" y1="550.4" x2="110.61" y2="549.4" stroke="#1a1a1a" stroke-width="0.6" />
<line x1="114.45" y1="550.4" x2="114.45" y2="549.4" stroke="#1a1a1a" stroke-width="0.6" />
<line x1="117.17" y1="550.4" x2="117.17" y2="549.4" stroke="#1a1a1a" stroke-width="0.6" />
<line x1="119.28" y1="550.4" x2="119.28" y2="549.4" stroke="#1a1a1a" stroke-width="0.6" />
<line x1="121" y1="550.4" x2="121" y2="549.4" stroke="#1a1a1a" stroke-width="0.6" />
<line x1="122.46" y1="550.4" x2="122.46" y2="549.4" stroke="#1a1a1a" stroke-width="0.6" />
<line x1="123.72" y1="550.4" x2="123.72" y2="549.4" stroke="#1a1a1a" stroke-width="0.6" />
<line x1="124.84" y1="550.4" x2="124.84" y2="549.4" stroke="#1a1a1a" stroke-width="0.6" />
<line x1="125.84" y1="550.4" x2="125.84" y2="548.6" stroke="#1a1a1a" stroke-width="0.6" />
<line x1="132.39" y1="550.4" x2="132.39" y2="549.4" stroke="#1a1a1a" stroke-width="0.6" />
<line x1="136.22" y1="550.4" x2="136.22" y2="549.4" stroke="#1a1a1a" stroke-width="0.6" />
<rect x="62.3" y="495.2" width="24.9" height="21.4" fill="none" stroke="#808080" stroke-width="0.9"/>
<rect x="87.5" y="488" width="33.3" height="29" fill="none" stroke="#808080" stroke-width="0.9"/>
<rect x="64.4" y="519" width="25.2" height="18.8" fill="none" stroke="#808080" stroke-width="0.9"/>
<rect x="89.6" y="519.8" width="31.2" height="28.7" fill="none" stroke="#808080" stroke-width="0.9"/>
<line x1="87.3" y1="495.5" x2="87.3" y2="516.8" stroke="#222" stroke-width="1.0" />
<line x1="89.6" y1="520" x2="89.6" y2="548.3" stroke="#222" stroke-width="1.0" />
<text x="56.4" y="507.7" font-size="6.8" fill="#222" >F</text>
<text x="122.1" y="507.4" font-size="6.8" fill="#222" >G</text>
<text x="55.7" y="531.2" font-size="6.8" fill="#222" >H</text>
<text x="122.4" y="538.7" font-size="6.8" fill="#222" >I</text>
<line x1="45.3" y1="556.4" x2="45.3" y2="469" stroke="#1a1a1a" stroke-width="1.2" />
<path d="M45.3,464.6L48.2,471.1L45.3,469.5L42.4,471.1Z" fill="#111"/>
<line x1="44.7" y1="556.4" x2="134" y2="556.4" stroke="#1a1a1a" stroke-width="1.2" />
<path d="M138.6,556.4L131.8,553.7L133.4,556.4L131.8,559.1Z" fill="#111"/>
<text x="39.9" y="544.2" font-size="7.4" fill="#222" text-anchor="middle" textLength="15.8" lengthAdjust="spacingAndGlyphs" transform="rotate(-90 39.9 544.2)" stroke="#1a1a1a" stroke-width="0.3">CD150</text>
<text x="47.8" y="567" font-size="7.4" fill="#222" textLength="13.9" lengthAdjust="spacingAndGlyphs" stroke="#1a1a1a" stroke-width="0.3">CD48</text>
</svg></body></html>
